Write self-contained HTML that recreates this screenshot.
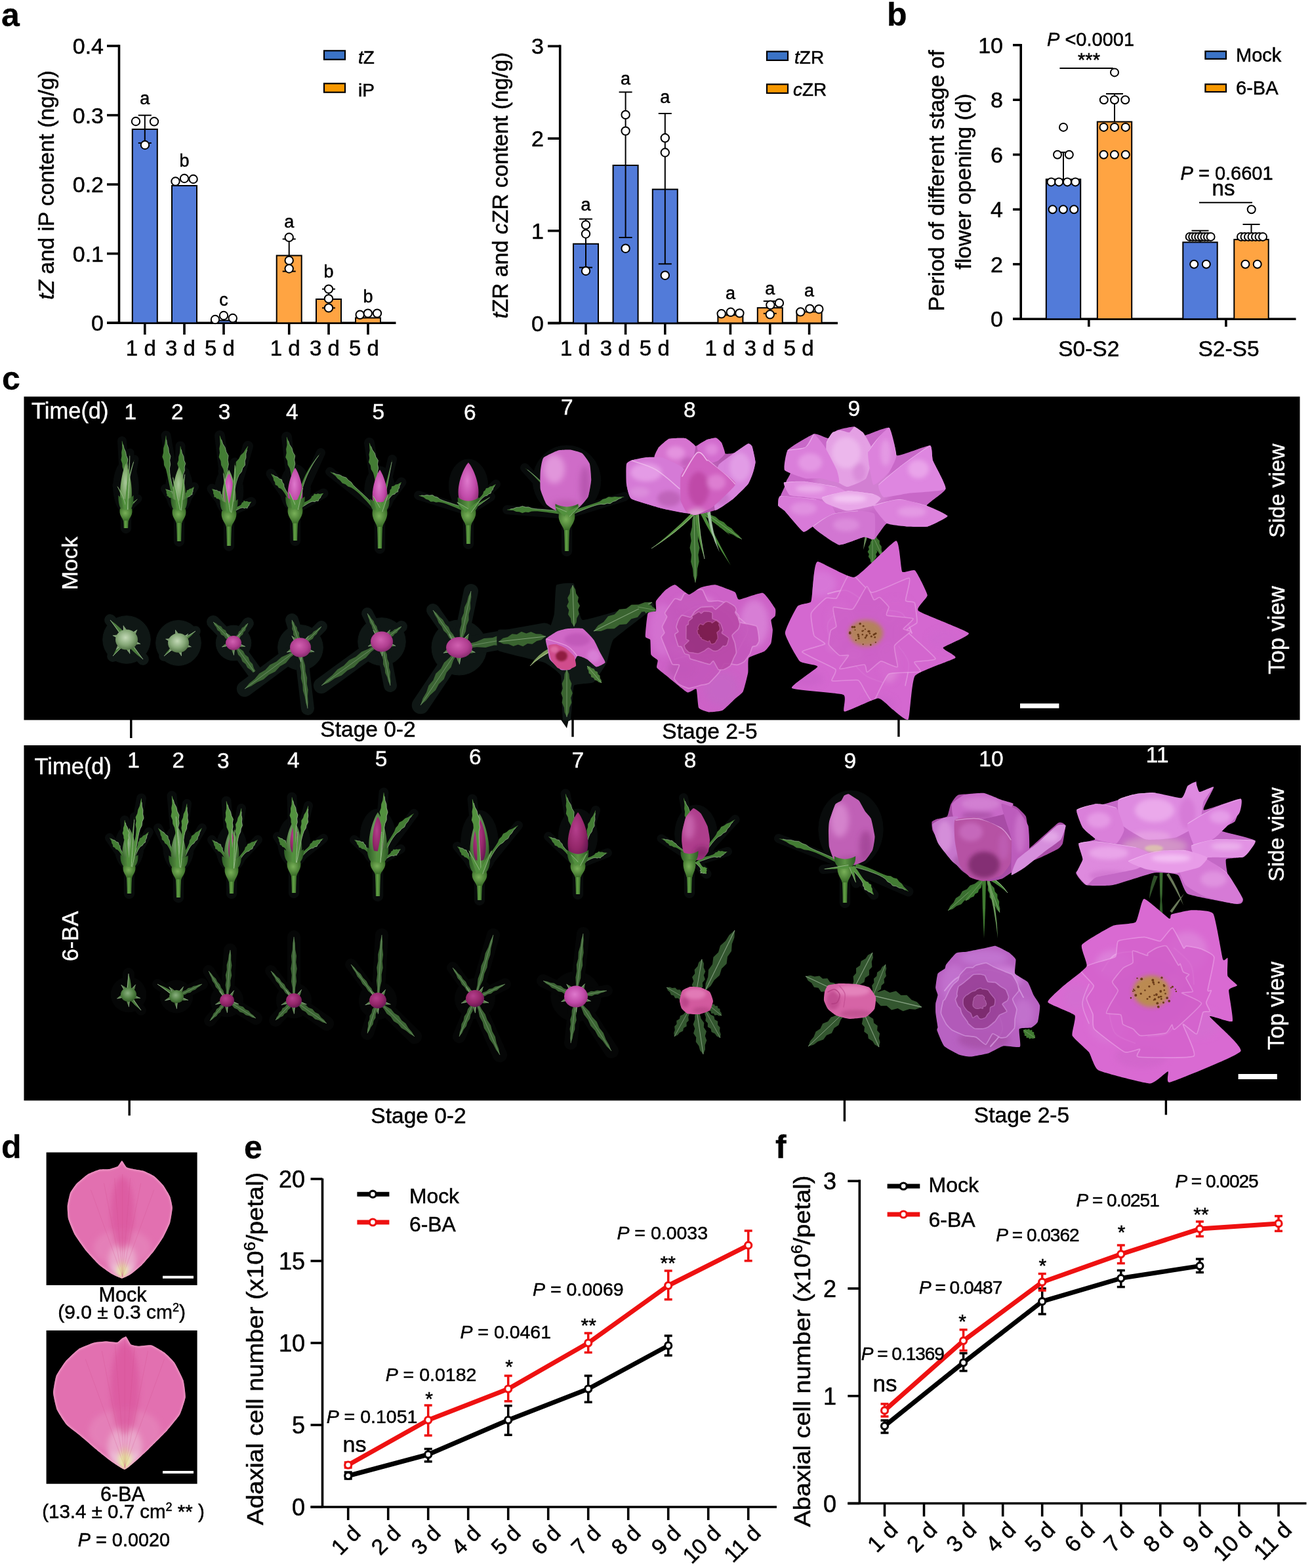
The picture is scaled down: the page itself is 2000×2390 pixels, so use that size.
<!DOCTYPE html>
<html><head><meta charset="utf-8"><title>Figure</title>
<style>html,body{margin:0;padding:0;background:#fff;width:2000px;height:2390px;overflow:hidden}svg{display:block}svg text{stroke:#000;stroke-width:0.5px}svg text[fill="#fff"]{stroke:#fff;stroke-width:0.4px}svg text[font-weight="bold"]{stroke-width:0.3px}</style>
</head><body>
<svg width="2000" height="2390" viewBox="0 0 2000 2390" font-family='"Liberation Sans", Arial, Helvetica, sans-serif'><defs>
<radialGradient id="gPetal" cx="50%" cy="45%" r="60%"><stop offset="0" stop-color="#f2a2ea"/><stop offset="0.55" stop-color="#dc6ad2"/><stop offset="1" stop-color="#b94cb0"/></radialGradient>
<radialGradient id="gPetal2" cx="50%" cy="40%" r="65%"><stop offset="0" stop-color="#ee8ee4"/><stop offset="0.6" stop-color="#d25ec8"/><stop offset="1" stop-color="#a8409e"/></radialGradient>
<radialGradient id="gPetalL" cx="50%" cy="35%" r="70%"><stop offset="0" stop-color="#f8c6f2"/><stop offset="0.6" stop-color="#e78ade"/><stop offset="1" stop-color="#cc62c2"/></radialGradient>
<radialGradient id="gBudP" cx="45%" cy="40%" r="65%"><stop offset="0" stop-color="#de78cc"/><stop offset="0.6" stop-color="#c04aa8"/><stop offset="1" stop-color="#8e2c74"/></radialGradient>
<radialGradient id="gBudD" cx="40%" cy="35%" r="70%"><stop offset="0" stop-color="#b43e8c"/><stop offset="0.6" stop-color="#922668"/><stop offset="1" stop-color="#621650"/></radialGradient>
<radialGradient id="gBudG" cx="45%" cy="40%" r="65%"><stop offset="0" stop-color="#a9c99a"/><stop offset="0.6" stop-color="#6f9c5a"/><stop offset="1" stop-color="#3e6a30"/></radialGradient>
<radialGradient id="gBudG2" cx="45%" cy="40%" r="65%"><stop offset="0" stop-color="#8ab080"/><stop offset="0.6" stop-color="#4e7e40"/><stop offset="1" stop-color="#2e5424"/></radialGradient>
<radialGradient id="gBudD2" cx="45%" cy="40%" r="65%"><stop offset="0" stop-color="#d060b0"/><stop offset="0.6" stop-color="#b03e90"/><stop offset="1" stop-color="#802868"/></radialGradient>
<linearGradient id="gCup" x1="0" x2="1" y1="0" y2="0"><stop offset="0" stop-color="#2e5e26"/><stop offset="0.5" stop-color="#5c9444"/><stop offset="1" stop-color="#2c5a24"/></linearGradient>
<radialGradient id="gBudR" cx="45%" cy="40%" r="65%"><stop offset="0" stop-color="#e680bc"/><stop offset="0.6" stop-color="#d05a9e"/><stop offset="1" stop-color="#a03878"/></radialGradient>
<radialGradient id="gBudW" cx="45%" cy="40%" r="65%"><stop offset="0" stop-color="#c4dab8"/><stop offset="0.55" stop-color="#86a878"/><stop offset="1" stop-color="#4a6c3e"/></radialGradient>
<linearGradient id="gStem" x1="0" x2="1" y1="0" y2="0"><stop offset="0" stop-color="#35682a"/><stop offset="0.45" stop-color="#62a044"/><stop offset="1" stop-color="#2f6024"/></linearGradient>
<radialGradient id="gHip" cx="45%" cy="40%" r="60%"><stop offset="0" stop-color="#78b058"/><stop offset="1" stop-color="#3a6e28"/></radialGradient>
<radialGradient id="gPetalD" cx="50%" cy="50%" r="55%"><stop offset="0" stop-color="#f4f0a0"/><stop offset="0.18" stop-color="#f6d8e8"/><stop offset="0.45" stop-color="#ec8cbc"/><stop offset="1" stop-color="#e0609e"/></radialGradient>
<radialGradient id="gCenter" cx="50%" cy="50%" r="50%"><stop offset="0" stop-color="#c0a040"/><stop offset="0.6" stop-color="#a07838"/><stop offset="1" stop-color="#c060a8" stop-opacity="0"/></radialGradient>
<filter id="bl1" x="-30%" y="-30%" width="160%" height="160%"><feGaussianBlur stdDeviation="0.8"/></filter><filter id="bl2" x="-30%" y="-30%" width="160%" height="160%"><feGaussianBlur stdDeviation="1.6"/></filter><filter id="bl3" x="-30%" y="-30%" width="160%" height="160%"><feGaussianBlur stdDeviation="2.4000000000000004"/></filter><filter id="bl4" x="-30%" y="-30%" width="160%" height="160%"><feGaussianBlur stdDeviation="3.2"/></filter><filter id="bl5" x="-30%" y="-30%" width="160%" height="160%"><feGaussianBlur stdDeviation="4.0"/></filter><filter id="bl6" x="-30%" y="-30%" width="160%" height="160%"><feGaussianBlur stdDeviation="4.800000000000001"/></filter><filter id="bl8" x="-30%" y="-30%" width="160%" height="160%"><feGaussianBlur stdDeviation="6.4"/></filter><filter id="bl10" x="-30%" y="-30%" width="160%" height="160%"><feGaussianBlur stdDeviation="8.0"/></filter></defs><rect width="2000" height="2390" fill="#fff"/><line x1="181.5" y1="68.2" x2="181.5" y2="492.3" stroke="#000" stroke-width="3.6"/>
<line x1="163" y1="70" x2="181.5" y2="70" stroke="#000" stroke-width="3.6"/>
<text x="158" y="82" font-size="34" text-anchor="end">0.4</text>
<line x1="163" y1="175.6" x2="181.5" y2="175.6" stroke="#000" stroke-width="3.6"/>
<text x="158" y="187.6" font-size="34" text-anchor="end">0.3</text>
<line x1="163" y1="281.1" x2="181.5" y2="281.1" stroke="#000" stroke-width="3.6"/>
<text x="158" y="293.1" font-size="34" text-anchor="end">0.2</text>
<line x1="163" y1="386.6" x2="181.5" y2="386.6" stroke="#000" stroke-width="3.6"/>
<text x="158" y="398.6" font-size="34" text-anchor="end">0.1</text>
<line x1="163" y1="492.2" x2="181.5" y2="492.2" stroke="#000" stroke-width="3.6"/>
<text x="158" y="504.2" font-size="34" text-anchor="end">0</text>
<line x1="163" y1="492.3" x2="603.5" y2="492.3" stroke="#000" stroke-width="3.6"/>
<rect x="201.8" y="197" width="38" height="295.3" fill="#527bd9" stroke="#000" stroke-width="2"/>
<rect x="262" y="283" width="38" height="209.3" fill="#527bd9" stroke="#000" stroke-width="2"/>
<rect x="322" y="488.5" width="38" height="3.8" fill="#527bd9" stroke="#000" stroke-width="2"/>
<rect x="421.7" y="389.5" width="38" height="102.8" fill="#ffa442" stroke="#000" stroke-width="2"/>
<rect x="482" y="456" width="38" height="36.3" fill="#ffa442" stroke="#000" stroke-width="2"/>
<rect x="542" y="484.5" width="38" height="7.8" fill="#ffa442" stroke="#000" stroke-width="2"/>
<line x1="220.8" y1="175.7" x2="220.8" y2="218" stroke="#000" stroke-width="2"/>
<line x1="210.8" y1="175.7" x2="230.8" y2="175.7" stroke="#000" stroke-width="2"/>
<line x1="210.8" y1="218" x2="230.8" y2="218" stroke="#000" stroke-width="2"/>
<line x1="440.7" y1="364.4" x2="440.7" y2="413.6" stroke="#000" stroke-width="2"/>
<line x1="430.7" y1="364.4" x2="450.7" y2="364.4" stroke="#000" stroke-width="2"/>
<line x1="430.7" y1="413.6" x2="450.7" y2="413.6" stroke="#000" stroke-width="2"/>
<line x1="501" y1="440.6" x2="501" y2="469.4" stroke="#000" stroke-width="2"/>
<line x1="491" y1="440.6" x2="511" y2="440.6" stroke="#000" stroke-width="2"/>
<line x1="491" y1="469.4" x2="511" y2="469.4" stroke="#000" stroke-width="2"/>
<circle cx="207" cy="185" r="6.2" fill="#fff" stroke="#000" stroke-width="2"/>
<circle cx="235" cy="185.3" r="6.2" fill="#fff" stroke="#000" stroke-width="2"/>
<circle cx="221" cy="221" r="6.2" fill="#fff" stroke="#000" stroke-width="2"/>
<circle cx="267.5" cy="276.5" r="6.2" fill="#fff" stroke="#000" stroke-width="2"/>
<circle cx="281" cy="272" r="6.2" fill="#fff" stroke="#000" stroke-width="2"/>
<circle cx="294.6" cy="273" r="6.2" fill="#fff" stroke="#000" stroke-width="2"/>
<circle cx="328" cy="487" r="6.2" fill="#fff" stroke="#000" stroke-width="2"/>
<circle cx="341" cy="481" r="6.2" fill="#fff" stroke="#000" stroke-width="2"/>
<circle cx="354.8" cy="485" r="6.2" fill="#fff" stroke="#000" stroke-width="2"/>
<circle cx="440.7" cy="361.8" r="6.2" fill="#fff" stroke="#000" stroke-width="2"/>
<circle cx="440.7" cy="397" r="6.2" fill="#fff" stroke="#000" stroke-width="2"/>
<circle cx="440.7" cy="409.5" r="6.2" fill="#fff" stroke="#000" stroke-width="2"/>
<circle cx="501" cy="440.6" r="6.2" fill="#fff" stroke="#000" stroke-width="2"/>
<circle cx="501" cy="455.4" r="6.2" fill="#fff" stroke="#000" stroke-width="2"/>
<circle cx="501" cy="469.4" r="6.2" fill="#fff" stroke="#000" stroke-width="2"/>
<circle cx="548.7" cy="479.8" r="6.2" fill="#fff" stroke="#000" stroke-width="2"/>
<circle cx="560.8" cy="477.6" r="6.2" fill="#fff" stroke="#000" stroke-width="2"/>
<circle cx="575" cy="477.6" r="6.2" fill="#fff" stroke="#000" stroke-width="2"/>
<line x1="220.8" y1="492.3" x2="220.8" y2="510" stroke="#000" stroke-width="3.6"/>
<line x1="281" y1="492.3" x2="281" y2="510" stroke="#000" stroke-width="3.6"/>
<line x1="341" y1="492.3" x2="341" y2="510" stroke="#000" stroke-width="3.6"/>
<line x1="440.7" y1="492.3" x2="440.7" y2="510" stroke="#000" stroke-width="3.6"/>
<line x1="501" y1="492.3" x2="501" y2="510" stroke="#000" stroke-width="3.6"/>
<line x1="561" y1="492.3" x2="561" y2="510" stroke="#000" stroke-width="3.6"/>
<text x="214.8" y="542" font-size="33" text-anchor="middle">1 d</text>
<text x="275" y="542" font-size="33" text-anchor="middle">3 d</text>
<text x="335" y="542" font-size="33" text-anchor="middle">5 d</text>
<text x="434.7" y="542" font-size="33" text-anchor="middle">1 d</text>
<text x="495" y="542" font-size="33" text-anchor="middle">3 d</text>
<text x="555" y="542" font-size="33" text-anchor="middle">5 d</text>
<text x="220.8" y="159.4" font-size="27" text-anchor="middle">a</text>
<text x="281" y="254" font-size="27" text-anchor="middle">b</text>
<text x="341" y="466" font-size="27" text-anchor="middle">c</text>
<text x="440.7" y="346.6" font-size="27" text-anchor="middle">a</text>
<text x="501" y="422.8" font-size="27" text-anchor="middle">b</text>
<text x="561" y="460.5" font-size="27" text-anchor="middle">b</text>
<rect x="494" y="77.3" width="32" height="13.4" fill="#3b73c6" stroke="#000" stroke-width="2.2"/>
<rect x="494" y="127.3" width="32" height="13.4" fill="#f79800" stroke="#000" stroke-width="2.2"/>
<text x="546" y="97" font-size="28"><tspan font-style="italic">t</tspan>Z</text>
<text x="546" y="147.3" font-size="28">iP</text>
<text x="82" y="282" font-size="33.5" text-anchor="middle" transform="rotate(-90 82 282)"><tspan font-style="italic">tZ</tspan> and iP content (ng/g)</text>
<line x1="853.7" y1="68.6" x2="853.7" y2="492.5" stroke="#000" stroke-width="3.6"/>
<line x1="835" y1="70.4" x2="853.7" y2="70.4" stroke="#000" stroke-width="3.6"/>
<text x="829" y="82.4" font-size="34" text-anchor="end">3</text>
<line x1="835" y1="211.1" x2="853.7" y2="211.1" stroke="#000" stroke-width="3.6"/>
<text x="829" y="223.1" font-size="34" text-anchor="end">2</text>
<line x1="835" y1="351.8" x2="853.7" y2="351.8" stroke="#000" stroke-width="3.6"/>
<text x="829" y="363.8" font-size="34" text-anchor="end">1</text>
<line x1="835" y1="492.5" x2="853.7" y2="492.5" stroke="#000" stroke-width="3.6"/>
<text x="829" y="504.5" font-size="34" text-anchor="end">0</text>
<line x1="835" y1="492.5" x2="1277" y2="492.5" stroke="#000" stroke-width="3.6"/>
<rect x="874" y="371.7" width="38" height="120.8" fill="#527bd9" stroke="#000" stroke-width="2"/>
<rect x="934.6" y="252" width="38" height="240.5" fill="#527bd9" stroke="#000" stroke-width="2"/>
<rect x="994.8" y="288.6" width="38" height="203.9" fill="#527bd9" stroke="#000" stroke-width="2"/>
<rect x="1094.4" y="480.3" width="38" height="12.2" fill="#ffa442" stroke="#000" stroke-width="2"/>
<rect x="1154.8" y="469.2" width="38" height="23.3" fill="#ffa442" stroke="#000" stroke-width="2"/>
<rect x="1214.6" y="475.4" width="38" height="17.1" fill="#ffa442" stroke="#000" stroke-width="2"/>
<line x1="893" y1="333.8" x2="893" y2="407.7" stroke="#000" stroke-width="2"/>
<line x1="883" y1="333.8" x2="903" y2="333.8" stroke="#000" stroke-width="2"/>
<line x1="883" y1="407.7" x2="903" y2="407.7" stroke="#000" stroke-width="2"/>
<line x1="953.6" y1="140.4" x2="953.6" y2="362" stroke="#000" stroke-width="2"/>
<line x1="943.6" y1="140.4" x2="963.6" y2="140.4" stroke="#000" stroke-width="2"/>
<line x1="943.6" y1="362" x2="963.6" y2="362" stroke="#000" stroke-width="2"/>
<line x1="1013.8" y1="173" x2="1013.8" y2="402.3" stroke="#000" stroke-width="2"/>
<line x1="1003.8" y1="173" x2="1023.8" y2="173" stroke="#000" stroke-width="2"/>
<line x1="1003.8" y1="402.3" x2="1023.8" y2="402.3" stroke="#000" stroke-width="2"/>
<line x1="1173.8" y1="459" x2="1173.8" y2="477.8" stroke="#000" stroke-width="2"/>
<line x1="1163.8" y1="459" x2="1183.8" y2="459" stroke="#000" stroke-width="2"/>
<line x1="1163.8" y1="477.8" x2="1183.8" y2="477.8" stroke="#000" stroke-width="2"/>
<circle cx="893" cy="342.8" r="6.2" fill="#fff" stroke="#000" stroke-width="2"/>
<circle cx="893" cy="356.5" r="6.2" fill="#fff" stroke="#000" stroke-width="2"/>
<circle cx="893" cy="413" r="6.2" fill="#fff" stroke="#000" stroke-width="2"/>
<circle cx="953.6" cy="174.9" r="6.2" fill="#fff" stroke="#000" stroke-width="2"/>
<circle cx="953.6" cy="199.6" r="6.2" fill="#fff" stroke="#000" stroke-width="2"/>
<circle cx="953.6" cy="378.7" r="6.2" fill="#fff" stroke="#000" stroke-width="2"/>
<circle cx="1013.8" cy="210.3" r="6.2" fill="#fff" stroke="#000" stroke-width="2"/>
<circle cx="1013.8" cy="232.5" r="6.2" fill="#fff" stroke="#000" stroke-width="2"/>
<circle cx="1013.8" cy="419.7" r="6.2" fill="#fff" stroke="#000" stroke-width="2"/>
<circle cx="1099.7" cy="478.3" r="6.2" fill="#fff" stroke="#000" stroke-width="2"/>
<circle cx="1113.8" cy="475.8" r="6.2" fill="#fff" stroke="#000" stroke-width="2"/>
<circle cx="1127.4" cy="477.4" r="6.2" fill="#fff" stroke="#000" stroke-width="2"/>
<circle cx="1174.4" cy="464.8" r="6.2" fill="#fff" stroke="#000" stroke-width="2"/>
<circle cx="1187.9" cy="461.9" r="6.2" fill="#fff" stroke="#000" stroke-width="2"/>
<circle cx="1173.8" cy="479.3" r="6.2" fill="#fff" stroke="#000" stroke-width="2"/>
<circle cx="1220.3" cy="475.4" r="6.2" fill="#fff" stroke="#000" stroke-width="2"/>
<circle cx="1234.4" cy="470.6" r="6.2" fill="#fff" stroke="#000" stroke-width="2"/>
<circle cx="1248.3" cy="471.2" r="6.2" fill="#fff" stroke="#000" stroke-width="2"/>
<line x1="893" y1="492.5" x2="893" y2="510" stroke="#000" stroke-width="3.6"/>
<line x1="953.6" y1="492.5" x2="953.6" y2="510" stroke="#000" stroke-width="3.6"/>
<line x1="1013.8" y1="492.5" x2="1013.8" y2="510" stroke="#000" stroke-width="3.6"/>
<line x1="1113.4" y1="492.5" x2="1113.4" y2="510" stroke="#000" stroke-width="3.6"/>
<line x1="1173.8" y1="492.5" x2="1173.8" y2="510" stroke="#000" stroke-width="3.6"/>
<line x1="1233.6" y1="492.5" x2="1233.6" y2="510" stroke="#000" stroke-width="3.6"/>
<text x="877" y="541.6" font-size="33" text-anchor="middle">1 d</text>
<text x="937.6" y="541.6" font-size="33" text-anchor="middle">3 d</text>
<text x="997.8" y="541.6" font-size="33" text-anchor="middle">5 d</text>
<text x="1097.4" y="541.6" font-size="33" text-anchor="middle">1 d</text>
<text x="1157.8" y="541.6" font-size="33" text-anchor="middle">3 d</text>
<text x="1217.6" y="541.6" font-size="33" text-anchor="middle">5 d</text>
<text x="893" y="321" font-size="27" text-anchor="middle">a</text>
<text x="953.6" y="128.8" font-size="27" text-anchor="middle">a</text>
<text x="1013.8" y="157" font-size="27" text-anchor="middle">a</text>
<text x="1113.4" y="455.7" font-size="27" text-anchor="middle">a</text>
<text x="1173.8" y="449.3" font-size="27" text-anchor="middle">a</text>
<text x="1233.6" y="452.2" font-size="27" text-anchor="middle">a</text>
<rect x="1169" y="78.5" width="32" height="13.4" fill="#3b73c6" stroke="#000" stroke-width="2.2"/>
<rect x="1169" y="128.5" width="32" height="13.4" fill="#f79800" stroke="#000" stroke-width="2.2"/>
<text x="1211" y="96.5" font-size="28"><tspan font-style="italic">t</tspan>ZR</text>
<text x="1209" y="146" font-size="28"><tspan font-style="italic">c</tspan>ZR</text>
<text x="774" y="282.5" font-size="33.5" text-anchor="middle" transform="rotate(-90 774 282.5)"><tspan font-style="italic">t</tspan>ZR and <tspan font-style="italic">c</tspan>ZR content (ng/g)</text>
<line x1="1556.2" y1="66.9" x2="1556.2" y2="486.2" stroke="#000" stroke-width="3.6"/>
<line x1="1544" y1="68.7" x2="1556.2" y2="68.7" stroke="#000" stroke-width="3.6"/>
<text x="1529" y="80.7" font-size="34" text-anchor="end">10</text>
<line x1="1544" y1="152.2" x2="1556.2" y2="152.2" stroke="#000" stroke-width="3.6"/>
<text x="1529" y="164.2" font-size="34" text-anchor="end">8</text>
<line x1="1544" y1="235.7" x2="1556.2" y2="235.7" stroke="#000" stroke-width="3.6"/>
<text x="1529" y="247.7" font-size="34" text-anchor="end">6</text>
<line x1="1544" y1="319.2" x2="1556.2" y2="319.2" stroke="#000" stroke-width="3.6"/>
<text x="1529" y="331.2" font-size="34" text-anchor="end">4</text>
<line x1="1544" y1="402.7" x2="1556.2" y2="402.7" stroke="#000" stroke-width="3.6"/>
<text x="1529" y="414.7" font-size="34" text-anchor="end">2</text>
<line x1="1544" y1="486.2" x2="1556.2" y2="486.2" stroke="#000" stroke-width="3.6"/>
<text x="1529" y="498.2" font-size="34" text-anchor="end">0</text>
<line x1="1544" y1="486.2" x2="1975.5" y2="486.2" stroke="#000" stroke-width="3.6"/>
<rect x="1594.8" y="273.3" width="52.4" height="212.9" fill="#527bd9" stroke="#000" stroke-width="2"/>
<rect x="1672.8" y="185.6" width="52.4" height="300.6" fill="#ffa442" stroke="#000" stroke-width="2"/>
<rect x="1803.3" y="369.3" width="52.4" height="116.9" fill="#527bd9" stroke="#000" stroke-width="2"/>
<rect x="1881.3" y="365.1" width="52.4" height="121.1" fill="#ffa442" stroke="#000" stroke-width="2"/>
<line x1="1621" y1="273.3" x2="1621" y2="232.2" stroke="#000" stroke-width="2"/>
<line x1="1608" y1="232.2" x2="1634" y2="232.2" stroke="#000" stroke-width="2"/>
<line x1="1699" y1="185.6" x2="1699" y2="143" stroke="#000" stroke-width="2"/>
<line x1="1686" y1="143" x2="1712" y2="143" stroke="#000" stroke-width="2"/>
<line x1="1829.5" y1="369.3" x2="1829.5" y2="351.6" stroke="#000" stroke-width="2"/>
<line x1="1816.5" y1="351.6" x2="1842.5" y2="351.6" stroke="#000" stroke-width="2"/>
<line x1="1907.5" y1="365.1" x2="1907.5" y2="342" stroke="#000" stroke-width="2"/>
<line x1="1894.5" y1="342" x2="1920.5" y2="342" stroke="#000" stroke-width="2"/>
<circle cx="1621" cy="193.9" r="6" fill="#fff" stroke="#000" stroke-width="2"/>
<circle cx="1612" cy="235.7" r="6" fill="#fff" stroke="#000" stroke-width="2"/>
<circle cx="1629.8" cy="235.7" r="6" fill="#fff" stroke="#000" stroke-width="2"/>
<circle cx="1602.5" cy="277.4" r="6" fill="#fff" stroke="#000" stroke-width="2"/>
<circle cx="1614.2" cy="277.4" r="6" fill="#fff" stroke="#000" stroke-width="2"/>
<circle cx="1627" cy="277.4" r="6" fill="#fff" stroke="#000" stroke-width="2"/>
<circle cx="1639.3" cy="277.4" r="6" fill="#fff" stroke="#000" stroke-width="2"/>
<circle cx="1604.6" cy="319.2" r="6" fill="#fff" stroke="#000" stroke-width="2"/>
<circle cx="1620.8" cy="319.2" r="6" fill="#fff" stroke="#000" stroke-width="2"/>
<circle cx="1637.2" cy="319.2" r="6" fill="#fff" stroke="#000" stroke-width="2"/>
<circle cx="1699" cy="110.4" r="6" fill="#fff" stroke="#000" stroke-width="2"/>
<circle cx="1682.8" cy="152.2" r="6" fill="#fff" stroke="#000" stroke-width="2"/>
<circle cx="1699" cy="152.2" r="6" fill="#fff" stroke="#000" stroke-width="2"/>
<circle cx="1715.3" cy="152.2" r="6" fill="#fff" stroke="#000" stroke-width="2"/>
<circle cx="1682.5" cy="193.9" r="6" fill="#fff" stroke="#000" stroke-width="2"/>
<circle cx="1699" cy="193.9" r="6" fill="#fff" stroke="#000" stroke-width="2"/>
<circle cx="1715.8" cy="193.9" r="6" fill="#fff" stroke="#000" stroke-width="2"/>
<circle cx="1682.5" cy="235.7" r="6" fill="#fff" stroke="#000" stroke-width="2"/>
<circle cx="1698.9" cy="235.7" r="6" fill="#fff" stroke="#000" stroke-width="2"/>
<circle cx="1715.8" cy="235.7" r="6" fill="#fff" stroke="#000" stroke-width="2"/>
<circle cx="1813.7" cy="360.9" r="6" fill="#fff" stroke="#000" stroke-width="2"/>
<circle cx="1818.2" cy="360.9" r="6" fill="#fff" stroke="#000" stroke-width="2"/>
<circle cx="1822.8" cy="360.9" r="6" fill="#fff" stroke="#000" stroke-width="2"/>
<circle cx="1827.3" cy="360.9" r="6" fill="#fff" stroke="#000" stroke-width="2"/>
<circle cx="1831.9" cy="360.9" r="6" fill="#fff" stroke="#000" stroke-width="2"/>
<circle cx="1836.4" cy="360.9" r="6" fill="#fff" stroke="#000" stroke-width="2"/>
<circle cx="1841" cy="360.9" r="6" fill="#fff" stroke="#000" stroke-width="2"/>
<circle cx="1845.6" cy="360.9" r="6" fill="#fff" stroke="#000" stroke-width="2"/>
<circle cx="1820.2" cy="402.7" r="6" fill="#fff" stroke="#000" stroke-width="2"/>
<circle cx="1838.8" cy="402.7" r="6" fill="#fff" stroke="#000" stroke-width="2"/>
<circle cx="1907.7" cy="319.2" r="6" fill="#fff" stroke="#000" stroke-width="2"/>
<circle cx="1898.4" cy="402.7" r="6" fill="#fff" stroke="#000" stroke-width="2"/>
<circle cx="1916.7" cy="402.7" r="6" fill="#fff" stroke="#000" stroke-width="2"/>
<circle cx="1892" cy="360.9" r="6" fill="#fff" stroke="#000" stroke-width="2"/>
<circle cx="1897.5" cy="360.9" r="6" fill="#fff" stroke="#000" stroke-width="2"/>
<circle cx="1903" cy="360.9" r="6" fill="#fff" stroke="#000" stroke-width="2"/>
<circle cx="1908.5" cy="360.9" r="6" fill="#fff" stroke="#000" stroke-width="2"/>
<circle cx="1914" cy="360.9" r="6" fill="#fff" stroke="#000" stroke-width="2"/>
<circle cx="1919.5" cy="360.9" r="6" fill="#fff" stroke="#000" stroke-width="2"/>
<circle cx="1925" cy="360.9" r="6" fill="#fff" stroke="#000" stroke-width="2"/>
<line x1="1659.8" y1="486.2" x2="1659.8" y2="498" stroke="#000" stroke-width="3.6"/>
<line x1="1868.9" y1="486.2" x2="1868.9" y2="498" stroke="#000" stroke-width="3.6"/>
<text x="1659.8" y="543" font-size="33.5" text-anchor="middle">S0-S2</text>
<text x="1873" y="543" font-size="33.5" text-anchor="middle">S2-S5</text>
<text x="1596" y="69.8" font-size="29"><tspan font-style="italic">P</tspan> &lt;0.0001</text>
<text x="1660" y="101" font-size="29" text-anchor="middle">***</text>
<line x1="1615.4" y1="104" x2="1697" y2="104" stroke="#000" stroke-width="2"/>
<text x="1799.5" y="274.3" font-size="29"><tspan font-style="italic">P</tspan> = 0.6601</text>
<text x="1865" y="298.4" font-size="33" text-anchor="middle">ns</text>
<line x1="1828" y1="308.7" x2="1909" y2="308.7" stroke="#000" stroke-width="2"/>
<rect x="1837.4" y="78.2" width="31.6" height="11.6" fill="#3b73c6" stroke="#000" stroke-width="2.2"/>
<rect x="1837.4" y="128.4" width="31.6" height="11.6" fill="#f79800" stroke="#000" stroke-width="2.2"/>
<text x="1884" y="94.4" font-size="29">Mock</text>
<text x="1884" y="144.2" font-size="29">6-BA</text>
<text x="1439" y="275.4" font-size="34" text-anchor="middle" transform="rotate(-90 1439 275.4)">Period of different stage of</text>
<text x="1480.5" y="276.6" font-size="33.5" text-anchor="middle" transform="rotate(-90 1480.5 276.6)">flower opening (d)</text>
<rect x="36.5" y="604.5" width="1945" height="493" fill="#000"/>
<rect x="36.5" y="1136" width="1946.5" height="541.5" fill="#000"/>
<text x="48" y="638.2" font-size="34.5" fill="#fff">Time(d)</text>
<text x="198.8" y="638.7" font-size="33.5" text-anchor="middle" fill="#fff">1</text>
<text x="270.2" y="638.7" font-size="33.5" text-anchor="middle" fill="#fff">2</text>
<text x="342" y="638.7" font-size="33.5" text-anchor="middle" fill="#fff">3</text>
<text x="445.3" y="638.7" font-size="33.5" text-anchor="middle" fill="#fff">4</text>
<text x="576.7" y="638.7" font-size="33.5" text-anchor="middle" fill="#fff">5</text>
<text x="716.4" y="639.8" font-size="33.5" text-anchor="middle" fill="#fff">6</text>
<text x="864.2" y="631.5" font-size="33.5" text-anchor="middle" fill="#fff">7</text>
<text x="1051.4" y="635.5" font-size="33.5" text-anchor="middle" fill="#fff">8</text>
<text x="1301.9" y="634" font-size="33.5" text-anchor="middle" fill="#fff">9</text>
<text x="118.5" y="858.6" font-size="34" text-anchor="middle" fill="#fff" transform="rotate(-90 118.5 858.6)">Mock</text>
<text x="1958" y="748" font-size="33.5" text-anchor="middle" fill="#fff" transform="rotate(-90 1958 748)">Side view</text>
<text x="1958" y="960.5" font-size="34.5" text-anchor="middle" fill="#fff" transform="rotate(-90 1958 960.5)">Top view</text>
<rect x="1555" y="1072.3" width="59.4" height="7.2" fill="#fff"/>
<text x="52.5" y="1180" font-size="34.5" fill="#fff">Time(d)</text>
<text x="203.6" y="1170" font-size="33.5" text-anchor="middle" fill="#fff">1</text>
<text x="271.9" y="1170" font-size="33.5" text-anchor="middle" fill="#fff">2</text>
<text x="340.2" y="1171" font-size="33.5" text-anchor="middle" fill="#fff">3</text>
<text x="447.2" y="1170" font-size="33.5" text-anchor="middle" fill="#fff">4</text>
<text x="581" y="1168" font-size="33.5" text-anchor="middle" fill="#fff">5</text>
<text x="724.4" y="1165" font-size="33.5" text-anchor="middle" fill="#fff">6</text>
<text x="880.9" y="1170" font-size="33.5" text-anchor="middle" fill="#fff">7</text>
<text x="1052" y="1169.9" font-size="33.5" text-anchor="middle" fill="#fff">8</text>
<text x="1295.9" y="1171" font-size="33.5" text-anchor="middle" fill="#fff">9</text>
<text x="1511" y="1168" font-size="33.5" text-anchor="middle" fill="#fff">10</text>
<text x="1764.2" y="1162" font-size="33.5" text-anchor="middle" fill="#fff">11</text>
<text x="118.5" y="1427" font-size="34.5" text-anchor="middle" fill="#fff" transform="rotate(-90 118.5 1427)">6-BA</text>
<text x="1956.5" y="1272" font-size="33.5" text-anchor="middle" fill="#fff" transform="rotate(-90 1956.5 1272)">Side view</text>
<text x="1956.5" y="1533" font-size="34.5" text-anchor="middle" fill="#fff" transform="rotate(-90 1956.5 1533)">Top view</text>
<rect x="1887.6" y="1637" width="59.2" height="8" fill="#fff"/>
<line x1="199.8" y1="1097" x2="199.8" y2="1125" stroke="#000" stroke-width="3.4"/>
<line x1="873" y1="1097" x2="873" y2="1123.2" stroke="#000" stroke-width="3.4"/>
<line x1="1369.9" y1="1086" x2="1369.9" y2="1123" stroke="#000" stroke-width="3.4"/>
<line x1="197.2" y1="1677" x2="197.2" y2="1700.4" stroke="#000" stroke-width="3.4"/>
<line x1="1287.4" y1="1677" x2="1287.4" y2="1709.3" stroke="#000" stroke-width="3.4"/>
<line x1="1777.4" y1="1677" x2="1777.4" y2="1699.3" stroke="#000" stroke-width="3.4"/>
<path d="M855 1097 L867 1097 L864 1110Z" fill="#0a0f0e"/>
<text x="561" y="1122.7" font-size="33.5" text-anchor="middle">Stage 0-2</text>
<text x="1082" y="1125.6" font-size="33.5" text-anchor="middle">Stage 2-5</text>
<text x="638" y="1711.5" font-size="33.5" text-anchor="middle">Stage 0-2</text>
<text x="1557.5" y="1710.7" font-size="33.5" text-anchor="middle">Stage 2-5</text>
<g fill="#080b0b" stroke="#080b0b" stroke-linecap="round"><path d="M192 783 L192 805" stroke-width="16.4"/><ellipse cx="192" cy="742" rx="19.3" ry="41"/><path d="M192 776.7 L186 672" stroke-width="14"/><path d="M192 776.7 L205 700" stroke-width="13"/><path d="M192 776.7 L178 740" stroke-width="13"/><path d="M192 776.7 L210 760" stroke-width="13"/><path d="M192 776.7 L198 690" stroke-width="13"/></g><path d="M187.4 787.9 Q188.6 794 188.8 805 L195.2 805 Q195.4 794 196.6 787.9Z" fill="url(#gStem)"/><path d="M194 774.8 L194.1 769 L194.2 763.3 L194.1 757.5 L194.1 751.8 L193.9 746 L193.7 740.3 L193.5 734.6 L193.2 728.8 L193.2 723.1 L193.3 717.4 L194.6 711.5 L193.9 705.8 L194.8 699.9 L192.5 694.3 L191.5 688.7 L189 683.2 L187.7 677.6 L186.2 672 L185.8 672 L186 677.8 L186.2 683.5 L185.2 689.4 L185.5 695.1 L184.4 700.9 L186.3 706.4 L186.6 712.1 L188.7 717.7 L189.5 723.3 L190 729 L190.2 734.7 L190.2 740.4 L190.2 746.1 L190.1 751.8 L189.9 757.5 L189.7 763.2 L189.4 768.9 L189 774.6Z" fill="#437c34"/><path d="M194 774.8 L194.1 769 L194.2 763.3 L194.1 757.5 L194.1 751.8 L193.9 746 L193.7 740.3 L193.5 734.6 L193.2 728.8 L193.2 723.1 L193.3 717.4 L194.6 711.5 L193.9 705.8 L194.8 699.9 L192.5 694.3 L191.5 688.7 L189 683.2 L187.7 677.6" fill="none" stroke="#a0c098" stroke-width="0.9" opacity="0.75"/><path d="M194.8 776.2 L195.6 775.3 L196.5 774.4 L197.3 773.5 L198.2 772.6 L199 771.7 L199.9 770.8 L200.7 769.9 L201.6 769 L202.4 768.2 L203.3 767.3 L204.1 766.4 L205 765.5 L205.8 764.6 L206.7 763.7 L207.5 762.7 L208.3 761.8 L209.2 760.9 L210 760 L210 760 L209 760.7 L208 761.4 L207 762.2 L206 762.9 L205 763.6 L204 764.3 L203 765.1 L202 765.8 L201 766.5 L200 767.3 L199 768 L198 768.8 L197 769.5 L196.1 770.2 L195.1 771 L194.1 771.7 L193.1 772.5 L192.1 773.2Z" fill="#437c34"/><path d="M194.8 776.2 L195.6 775.3 L196.5 774.4 L197.3 773.5 L198.2 772.6 L199 771.7 L199.9 770.8 L200.7 769.9 L201.6 769 L202.4 768.2 L203.3 767.3 L204.1 766.4 L205 765.5 L205.8 764.6 L206.7 763.7 L207.5 762.7 L208.3 761.8 L209.2 760.9" fill="none" stroke="#a0c098" stroke-width="0.9" opacity="0.75"/><path d="M192 778 C176.1 770.8 184.8 720.4 192 706 C199.2 720.4 207.9 770.8 192 778Z" fill="url(#gBudG)"/><path d="M180.4 755.1 Q179.9 778.7 192 780.7 Q204.1 778.7 203.6 755.1 Q192 767 180.4 755.1Z" fill="url(#gCup)"/><path d="M183 775.3 C180.5 784.4 187 789.3 187.6 793.5 L196.4 793.5 C197 789.3 203.5 784.4 201 775.3 Q192 773.6 183 775.3Z" fill="url(#gHip)"/><path d="M195 776.6 L194.8 772.3 L194.7 767.9 L194.6 763.6 L194.6 759.3 L194.8 755 L195 750.7 L195.3 746.4 L195.7 742.2 L196.2 737.9 L196.8 733.7 L197.5 729.4 L198.3 725.2 L199.2 721 L200.2 716.8 L201.3 712.6 L202.4 708.4 L203.7 704.2 L205 700 L205 700 L203.4 704.1 L201.9 708.2 L200.5 712.3 L199.2 716.5 L198 720.7 L196.9 724.9 L195.9 729.1 L194.9 733.3 L194.1 737.6 L193.4 741.9 L192.8 746.2 L192.2 750.5 L191.8 754.8 L191.5 759.2 L191.2 763.5 L191.1 767.9 L191 772.4 L191 776.8Z" fill="#52903e"/><path d="M195 776.6 L194.8 772.3 L194.7 767.9 L194.6 763.6 L194.6 759.3 L194.8 755 L195 750.7 L195.3 746.4 L195.7 742.2 L196.2 737.9 L196.8 733.7 L197.5 729.4 L198.3 725.2 L199.2 721 L200.2 716.8 L201.3 712.6 L202.4 708.4 L203.7 704.2" fill="none" stroke="#b4d0aa" stroke-width="0.9" opacity="0.75"/><path d="M192.9 776.4 L192.4 774.2 L191.9 772 L191.4 769.9 L190.8 767.7 L190.2 765.6 L189.6 763.5 L188.8 761.4 L188.1 759.4 L187.3 757.4 L186.4 755.3 L185.5 753.3 L184.6 751.4 L183.6 749.4 L182.6 747.5 L181.5 745.6 L180.4 743.7 L179.2 741.8 L178 740 L178 740 L179 742 L179.9 744 L180.8 745.9 L181.7 747.9 L182.5 749.9 L183.2 752 L184 754 L184.6 756 L185.3 758.1 L185.8 760.1 L186.4 762.2 L186.9 764.3 L187.3 766.4 L187.7 768.5 L188.1 770.6 L188.4 772.7 L188.7 774.8 L188.9 777Z" fill="#52903e"/><path d="M192.9 776.4 L192.4 774.2 L191.9 772 L191.4 769.9 L190.8 767.7 L190.2 765.6 L189.6 763.5 L188.8 761.4 L188.1 759.4 L187.3 757.4 L186.4 755.3 L185.5 753.3 L184.6 751.4 L183.6 749.4 L182.6 747.5 L181.5 745.6 L180.4 743.7 L179.2 741.8" fill="none" stroke="#b4d0aa" stroke-width="0.9" opacity="0.75"/><path d="M194.5 776.8 L194.7 772 L194.9 767.2 L195.1 762.4 L195.3 757.5 L195.5 752.7 L195.7 747.9 L195.9 743.1 L196.1 738.2 L196.3 733.4 L196.5 728.6 L196.7 723.8 L196.9 718.9 L197.1 714.1 L197.3 709.3 L197.5 704.5 L197.7 699.7 L197.8 694.8 L198 690 L198 690 L197.5 694.8 L197.1 699.6 L196.7 704.4 L196.3 709.2 L195.8 714 L195.4 718.9 L195 723.7 L194.6 728.5 L194.2 733.3 L193.8 738.1 L193.3 742.9 L192.9 747.7 L192.5 752.5 L192.1 757.3 L191.7 762.1 L191.3 767 L190.9 771.8 L190.5 776.6Z" fill="#52903e"/><path d="M194.5 776.8 L194.7 772 L194.9 767.2 L195.1 762.4 L195.3 757.5 L195.5 752.7 L195.7 747.9 L195.9 743.1 L196.1 738.2 L196.3 733.4 L196.5 728.6 L196.7 723.8 L196.9 718.9 L197.1 714.1 L197.3 709.3 L197.5 704.5 L197.7 699.7 L197.8 694.8" fill="none" stroke="#b4d0aa" stroke-width="0.9" opacity="0.75"/><g fill="#080b0b" stroke="#080b0b" stroke-linecap="round"><path d="M273 785 L273 825" stroke-width="16.4"/><ellipse cx="273" cy="745" rx="20.6" ry="38"/><path d="M273 777.8 L253 664" stroke-width="15"/><path d="M273 777.8 L275 680" stroke-width="15"/><path d="M273 777.8 L296 742" stroke-width="14"/><path d="M273 777.8 L252 745" stroke-width="14"/><path d="M273 777.8 L282 720" stroke-width="14"/><path d="M273 777.8 L263 725" stroke-width="14"/></g><path d="M268.4 790.6 Q269.6 805 269.9 825 L276.1 825 Q276.4 805 277.6 790.6Z" fill="url(#gStem)"/><path d="M274.2 774.7 L271.9 768.8 L269.7 762.9 L267.7 756.9 L265.8 750.9 L264 744.9 L262.3 738.9 L260.9 732.8 L259.6 726.7 L258.8 720.5 L258.4 714.2 L259.7 707.8 L258.7 701.6 L259.9 695.3 L257.4 689.3 L256.8 683 L254.5 676.8 L253.8 670.4 L253.2 664 L252.8 664 L251.9 670.4 L251.1 676.8 L249.1 683.3 L249 689.7 L247.3 696.3 L249.6 702.5 L250 708.9 L252.9 715 L254.4 721.2 L255.8 727.4 L257 733.6 L258.3 739.8 L259.6 746 L261.1 752.2 L262.8 758.4 L264.6 764.6 L266.5 770.7 L268.6 776.9Z" fill="#437c34"/><path d="M274.2 774.7 L271.9 768.8 L269.7 762.9 L267.7 756.9 L265.8 750.9 L264 744.9 L262.3 738.9 L260.9 732.8 L259.6 726.7 L258.8 720.5 L258.4 714.2 L259.7 707.8 L258.7 701.6 L259.9 695.3 L257.4 689.3 L256.8 683 L254.5 676.8 L253.8 670.4" fill="none" stroke="#a0c098" stroke-width="0.9" opacity="0.75"/><path d="M276.1 776.2 L276.6 770.8 L277 765.4 L277.3 760.1 L277.6 754.7 L277.8 749.4 L278 744 L278.1 738.7 L278.3 733.3 L278.7 728 L279.3 722.6 L281.4 717.3 L281.1 711.9 L282.7 706.5 L280.4 701.2 L279.9 695.8 L277.4 690.6 L276.4 685.3 L275.2 680 L274.8 680 L274.4 685.4 L274 690.8 L272.2 696.2 L272.1 701.5 L270.1 706.8 L271.9 712 L271.7 717.3 L273.7 722.6 L274.3 727.9 L274.4 733.2 L274.2 738.5 L273.8 743.8 L273.4 749.1 L272.8 754.4 L272.3 759.6 L271.6 764.9 L270.9 770.2 L270.2 775.4Z" fill="#437c34"/><path d="M276.1 776.2 L276.6 770.8 L277 765.4 L277.3 760.1 L277.6 754.7 L277.8 749.4 L278 744 L278.1 738.7 L278.3 733.3 L278.7 728 L279.3 722.6 L281.4 717.3 L281.1 711.9 L282.7 706.5 L280.4 701.2 L279.9 695.8 L277.4 690.6 L276.4 685.3" fill="none" stroke="#a0c098" stroke-width="0.9" opacity="0.75"/><path d="M277.2 776.7 L277.9 774.6 L278.6 772.5 L279.4 770.5 L280.2 768.4 L281 766.4 L281.9 764.4 L282.9 762.5 L284 760.6 L285.3 758.8 L286.9 757.3 L289.5 756.4 L290.6 754.6 L293 753.7 L292.9 751 L294 749.1 L294 746.3 L295.1 744.2 L296.1 742.1 L295.9 741.9 L293.9 743.1 L291.9 744.4 L289.1 745 L287.4 746.6 L284.6 747.4 L284.3 750.1 L282.8 751.8 L283 754.7 L282.2 756.9 L281.2 758.9 L280 760.8 L278.9 762.8 L277.7 764.7 L276.6 766.7 L275.5 768.7 L274.5 770.7 L273.5 772.8 L272.5 774.9Z" fill="#437c34"/><path d="M277.2 776.7 L277.9 774.6 L278.6 772.5 L279.4 770.5 L280.2 768.4 L281 766.4 L281.9 764.4 L282.9 762.5 L284 760.6 L285.3 758.8 L286.9 757.3 L289.5 756.4 L290.6 754.6 L293 753.7 L292.9 751 L294 749.1 L294 746.3 L295.1 744.2" fill="none" stroke="#a0c098" stroke-width="0.9" opacity="0.75"/><path d="M273.7 774.9 L272.8 773 L271.8 771.1 L270.9 769.3 L269.9 767.4 L268.9 765.6 L267.8 763.8 L266.7 762.1 L265.7 760.3 L264.8 758.5 L264.1 756.5 L264.3 753.8 L262.9 752.2 L262.8 749.6 L260.1 749 L258.5 747.5 L255.8 747.1 L254 746 L252.1 744.9 L251.9 745.1 L252.8 747.1 L253.7 749 L253.6 751.6 L254.6 753.4 L254.4 756 L256.7 756.7 L257.6 758.4 L260.2 759 L261.6 760.4 L262.8 762 L263.8 763.7 L264.7 765.5 L265.5 767.3 L266.3 769.2 L267 771 L267.7 772.9 L268.4 774.8 L269 776.7Z" fill="#437c34"/><path d="M273.7 774.9 L272.8 773 L271.8 771.1 L270.9 769.3 L269.9 767.4 L268.9 765.6 L267.8 763.8 L266.7 762.1 L265.7 760.3 L264.8 758.5 L264.1 756.5 L264.3 753.8 L262.9 752.2 L262.8 749.6 L260.1 749 L258.5 747.5 L255.8 747.1 L254 746" fill="none" stroke="#a0c098" stroke-width="0.9" opacity="0.75"/><path d="M273 778 C255.6 771.4 265.2 725.2 273 712 C280.8 725.2 290.4 771.4 273 778Z" fill="url(#gBudG)"/><path d="M260.4 758 Q259.8 779.8 273 781.8 Q286.2 779.8 285.6 758 Q273 768.9 260.4 758Z" fill="url(#gCup)"/><path d="M263.1 776.2 C260.4 786.6 268 792.2 268.6 797 L277.4 797 C278 792.2 285.6 786.6 282.9 776.2 Q273 774.3 263.1 776.2Z" fill="url(#gHip)"/><path d="M276.2 778.2 L276.5 774.9 L276.9 771.7 L277.2 768.5 L277.5 765.2 L277.9 762 L278.2 758.8 L278.5 755.5 L278.9 752.3 L279.2 749.1 L279.5 745.9 L279.8 742.6 L280.2 739.4 L280.5 736.2 L280.8 732.9 L281.1 729.7 L281.4 726.5 L281.7 723.2 L282 720 L282 720 L281.4 723.2 L280.7 726.4 L280.1 729.6 L279.5 732.8 L278.9 735.9 L278.3 739.1 L277.7 742.3 L277.1 745.5 L276.5 748.7 L275.9 751.9 L275.4 755.1 L274.8 758.3 L274.2 761.5 L273.6 764.7 L273 767.9 L272.4 771.1 L271.8 774.3 L271.2 777.4Z" fill="#52903e"/><path d="M276.2 778.2 L276.5 774.9 L276.9 771.7 L277.2 768.5 L277.5 765.2 L277.9 762 L278.2 758.8 L278.5 755.5 L278.9 752.3 L279.2 749.1 L279.5 745.9 L279.8 742.6 L280.2 739.4 L280.5 736.2 L280.8 732.9 L281.1 729.7 L281.4 726.5 L281.7 723.2" fill="none" stroke="#b4d0aa" stroke-width="0.9" opacity="0.75"/><path d="M274.7 777.4 L274 774.5 L273.4 771.5 L272.8 768.6 L272.1 765.7 L271.5 762.8 L270.8 759.9 L270.2 757 L269.6 754.1 L268.9 751.2 L268.3 748.3 L267.6 745.3 L267 742.4 L266.3 739.5 L265.7 736.6 L265 733.7 L264.4 730.8 L263.7 727.9 L263 725 L263 725 L263.3 728 L263.7 730.9 L264 733.9 L264.4 736.8 L264.8 739.8 L265.2 742.8 L265.5 745.7 L265.9 748.7 L266.3 751.6 L266.7 754.6 L267 757.5 L267.4 760.5 L267.8 763.5 L268.2 766.4 L268.6 769.4 L269 772.3 L269.3 775.3 L269.7 778.2Z" fill="#52903e"/><path d="M274.7 777.4 L274 774.5 L273.4 771.5 L272.8 768.6 L272.1 765.7 L271.5 762.8 L270.8 759.9 L270.2 757 L269.6 754.1 L268.9 751.2 L268.3 748.3 L267.6 745.3 L267 742.4 L266.3 739.5 L265.7 736.6 L265 733.7 L264.4 730.8 L263.7 727.9" fill="none" stroke="#b4d0aa" stroke-width="0.9" opacity="0.75"/><g fill="#080b0b" stroke="#080b0b" stroke-linecap="round"><path d="M349 789 L349 832" stroke-width="16.4"/><ellipse cx="349" cy="749" rx="21.9" ry="38"/><path d="M349 780.9 L335 664" stroke-width="16"/><path d="M349 780.9 L378 680" stroke-width="16"/><path d="M349 780.9 L323 745" stroke-width="15"/><path d="M349 780.9 L383 765" stroke-width="15"/><path d="M349 780.9 L358 705" stroke-width="15"/><path d="M349 780.9 L340 718" stroke-width="15"/></g><path d="M344.4 795.3 Q345.6 810.5 345.9 832 L352.1 832 Q352.4 810.5 353.6 795.3Z" fill="url(#gStem)"/><path d="M351.4 778.9 L351.1 772.4 L350.7 765.9 L350.3 759.4 L349.8 753 L349.2 746.5 L348.6 740.1 L347.9 733.7 L347.3 727.3 L346.9 720.8 L346.8 714.3 L348.4 707.6 L347.2 701.2 L348.1 694.5 L344.7 688.5 L343.2 682.2 L339.5 676.3 L337.5 670.1 L335.2 664 L334.8 664 L335.2 670.5 L335.6 677 L334.3 683.8 L335 690.1 L333.6 696.8 L336.5 702.8 L337.1 709.1 L340.3 715.1 L341.8 721.4 L342.7 727.7 L343.3 734.1 L343.7 740.5 L344 746.9 L344.2 753.3 L344.4 759.7 L344.4 766.1 L344.4 772.5 L344.4 778.9Z" fill="#437c34"/><path d="M351.4 778.9 L351.1 772.4 L350.7 765.9 L350.3 759.4 L349.8 753 L349.2 746.5 L348.6 740.1 L347.9 733.7 L347.3 727.3 L346.9 720.8 L346.8 714.3 L348.4 707.6 L347.2 701.2 L348.1 694.5 L344.7 688.5 L343.2 682.2 L339.5 676.3 L337.5 670.1" fill="none" stroke="#a0c098" stroke-width="0.9" opacity="0.75"/><path d="M354.8 779.1 L355.1 773.4 L355.5 767.7 L356 762.1 L356.6 756.4 L357.3 750.8 L358.2 745.2 L359.2 739.7 L360.5 734.2 L362.2 728.8 L364.4 723.6 L368.3 718.9 L369.8 713.5 L373.5 708.9 L373.2 702.8 L374.9 697.5 L374.9 691.3 L376.5 685.7 L378.2 680.1 L377.8 679.9 L374.4 684.7 L371.3 689.7 L366.7 694 L364.1 699.3 L359.7 703.9 L359.6 710 L357.5 715.5 L358.1 721.7 L357.2 727.4 L356.1 733.1 L354.7 738.7 L353.4 744.3 L352.2 749.9 L351.1 755.6 L350.1 761.3 L349.2 767 L348.5 772.8 L347.8 778.7Z" fill="#437c34"/><path d="M354.8 779.1 L355.1 773.4 L355.5 767.7 L356 762.1 L356.6 756.4 L357.3 750.8 L358.2 745.2 L359.2 739.7 L360.5 734.2 L362.2 728.8 L364.4 723.6 L368.3 718.9 L369.8 713.5 L373.5 708.9 L373.2 702.8 L374.9 697.5 L374.9 691.3 L376.5 685.7" fill="none" stroke="#a0c098" stroke-width="0.9" opacity="0.75"/><path d="M349.7 777.7 L348.5 775.6 L347.3 773.5 L346.1 771.4 L344.9 769.4 L343.6 767.4 L342.2 765.4 L340.9 763.5 L339.6 761.6 L338.4 759.5 L337.6 757.2 L337.8 754.1 L336.1 752.3 L335.8 749.4 L332.6 748.9 L330.8 747.4 L327.5 747.1 L325.4 745.9 L323.1 744.9 L322.9 745.1 L324 747.3 L325.1 749.5 L325.1 752.6 L326.3 754.5 L326.2 757.5 L328.9 758.1 L330.1 760 L333.1 760.6 L334.9 762 L336.3 763.8 L337.6 765.6 L338.7 767.6 L339.7 769.6 L340.7 771.7 L341.6 773.8 L342.5 775.9 L343.4 778 L344.2 780.1Z" fill="#437c34"/><path d="M349.7 777.7 L348.5 775.6 L347.3 773.5 L346.1 771.4 L344.9 769.4 L343.6 767.4 L342.2 765.4 L340.9 763.5 L339.6 761.6 L338.4 759.5 L337.6 757.2 L337.8 754.1 L336.1 752.3 L335.8 749.4 L332.6 748.9 L330.8 747.4 L327.5 747.1 L325.4 745.9" fill="none" stroke="#a0c098" stroke-width="0.9" opacity="0.75"/><path d="M352.9 781.6 L354.6 780.7 L356.3 779.8 L358 778.9 L359.6 778 L361.3 777.1 L363 776.2 L364.7 775.3 L366.4 774.5 L368.3 774 L370.2 773.7 L372.8 774.8 L374.4 773.8 L376.9 774.6 L377.8 771.9 L379.3 770.8 L380.2 768.1 L381.7 766.7 L383.1 765.2 L382.9 764.8 L380.9 764.9 L378.8 765 L376.2 763.8 L374.3 764.3 L371.8 763.1 L370.7 765.4 L368.9 766 L368 768.6 L366.5 769.9 L364.8 770.9 L363.1 771.7 L361.3 772.4 L359.5 773 L357.7 773.6 L355.9 774.3 L354.1 774.9 L352.3 775.5 L350.5 776.2Z" fill="#437c34"/><path d="M352.9 781.6 L354.6 780.7 L356.3 779.8 L358 778.9 L359.6 778 L361.3 777.1 L363 776.2 L364.7 775.3 L366.4 774.5 L368.3 774 L370.2 773.7 L372.8 774.8 L374.4 773.8 L376.9 774.6 L377.8 771.9 L379.3 770.8 L380.2 768.1 L381.7 766.7" fill="none" stroke="#a0c098" stroke-width="0.9" opacity="0.75"/><path d="M349 782 C330.1 775.4 340.6 729.2 349 716 C357.4 729.2 367.9 775.4 349 782Z" fill="url(#gBudG)"/><path d="M349 772 C336.4 764.5 342.7 729.5 349 722 C355.3 729.5 361.6 764.5 349 772Z" fill="url(#gBudP)"/><path d="M335.4 761.1 Q334.7 782.9 349 784.9 Q363.3 782.9 362.6 761.1 Q349 772 335.4 761.1Z" fill="url(#gCup)"/><path d="M338.2 779.1 C335.2 790.8 344 797.1 344.6 802.5 L353.4 802.5 C354 797.1 362.8 790.8 359.8 779.1 Q349 776.9 338.2 779.1Z" fill="url(#gHip)"/><path d="M352.7 781.5 L353.4 777.3 L354 773 L354.7 768.8 L355.2 764.6 L355.8 760.3 L356.2 756.1 L356.7 751.8 L357 747.6 L357.4 743.3 L357.6 739.1 L357.9 734.8 L358 730.6 L358.2 726.3 L358.2 722.1 L358.3 717.8 L358.2 713.5 L358.2 709.3 L358 705 L358 705 L357.7 709.3 L357.4 713.5 L357.1 717.7 L356.7 722 L356.3 726.2 L355.8 730.4 L355.3 734.6 L354.8 738.8 L354.2 743 L353.5 747.2 L352.8 751.3 L352.1 755.5 L351.3 759.6 L350.5 763.8 L349.6 767.9 L348.7 772 L347.8 776.2 L346.8 780.3Z" fill="#52903e"/><path d="M352.7 781.5 L353.4 777.3 L354 773 L354.7 768.8 L355.2 764.6 L355.8 760.3 L356.2 756.1 L356.7 751.8 L357 747.6 L357.4 743.3 L357.6 739.1 L357.9 734.8 L358 730.6 L358.2 726.3 L358.2 722.1 L358.3 717.8 L358.2 713.5 L358.2 709.3" fill="none" stroke="#b4d0aa" stroke-width="0.9" opacity="0.75"/><path d="M351.3 780.5 L350.6 777 L350 773.6 L349.4 770.1 L348.8 766.6 L348.2 763.1 L347.6 759.7 L347 756.2 L346.4 752.7 L345.7 749.2 L345.1 745.8 L344.5 742.3 L343.9 738.8 L343.2 735.3 L342.6 731.9 L342 728.4 L341.3 724.9 L340.7 721.5 L340 718 L340 718 L340.2 721.5 L340.5 725 L340.8 728.6 L341.1 732.1 L341.4 735.6 L341.7 739.1 L341.9 742.6 L342.2 746.1 L342.5 749.7 L342.8 753.2 L343.2 756.7 L343.5 760.2 L343.8 763.7 L344.1 767.2 L344.4 770.7 L344.7 774.3 L345 777.8 L345.3 781.3Z" fill="#52903e"/><path d="M351.3 780.5 L350.6 777 L350 773.6 L349.4 770.1 L348.8 766.6 L348.2 763.1 L347.6 759.7 L347 756.2 L346.4 752.7 L345.7 749.2 L345.1 745.8 L344.5 742.3 L343.9 738.8 L343.2 735.3 L342.6 731.9 L342 728.4 L341.3 724.9 L340.7 721.5" fill="none" stroke="#b4d0aa" stroke-width="0.9" opacity="0.75"/><g fill="#080b0b" stroke="#080b0b" stroke-linecap="round"><path d="M450 784 L450 824" stroke-width="16.4"/><ellipse cx="450" cy="744.5" rx="23.2" ry="36.5"/><path d="M450 775.9 L437 666" stroke-width="16"/><path d="M450 775.9 L489 690" stroke-width="14"/><path d="M450 775.9 L413 722" stroke-width="15"/><path d="M450 775.9 L493 752" stroke-width="15"/><path d="M450 775.9 L440 748" stroke-width="16"/><path d="M450 775.9 L462 742" stroke-width="16"/></g><path d="M445.4 790.3 Q446.6 804 446.9 824 L453.1 824 Q453.4 804 454.6 790.3Z" fill="url(#gStem)"/><path d="M452.5 773.9 L452.2 767.8 L451.8 761.7 L451.4 755.6 L451 749.6 L450.4 743.5 L449.8 737.5 L449.2 731.5 L448.6 725.4 L448.2 719.4 L448.2 713.3 L449.8 706.9 L448.7 700.9 L449.7 694.6 L446.4 689 L444.9 683 L441.3 677.5 L439.4 671.7 L437.2 666 L436.8 666 L437.1 672.2 L437.5 678.2 L436.1 684.6 L436.7 690.6 L435.2 696.9 L438.1 702.5 L438.6 708.4 L441.7 714.1 L443.1 719.9 L444 725.9 L444.6 731.9 L444.9 737.9 L445.2 743.9 L445.4 749.9 L445.5 755.9 L445.6 761.9 L445.5 767.9 L445.5 773.9Z" fill="#437c34"/><path d="M452.5 773.9 L452.2 767.8 L451.8 761.7 L451.4 755.6 L451 749.6 L450.4 743.5 L449.8 737.5 L449.2 731.5 L448.6 725.4 L448.2 719.4 L448.2 713.3 L449.8 706.9 L448.7 700.9 L449.7 694.6 L446.4 689 L444.9 683 L441.3 677.5 L439.4 671.7" fill="none" stroke="#a0c098" stroke-width="0.9" opacity="0.75"/><path d="M455.6 774.2 L456.1 769 L456.8 763.9 L457.7 758.9 L458.7 753.9 L459.8 748.9 L461.1 744.1 L462.6 739.2 L464.2 734.5 L466 729.8 L467.9 725.1 L470 720.6 L472.3 716 L474.7 711.5 L477.2 707.1 L479.9 702.8 L482.8 698.5 L485.8 694.2 L489 690 L489 690 L485.5 694 L482.2 698.1 L479.1 702.2 L476.1 706.4 L473.3 710.7 L470.6 715.1 L468.1 719.6 L465.7 724.1 L463.5 728.7 L461.5 733.4 L459.6 738.2 L457.8 743 L456.2 747.9 L454.8 752.9 L453.5 758 L452.4 763.1 L451.4 768.3 L450.6 773.6Z" fill="#437c34"/><path d="M455.6 774.2 L456.1 769 L456.8 763.9 L457.7 758.9 L458.7 753.9 L459.8 748.9 L461.1 744.1 L462.6 739.2 L464.2 734.5 L466 729.8 L467.9 725.1 L470 720.6 L472.3 716 L474.7 711.5 L477.2 707.1 L479.9 702.8 L482.8 698.5 L485.8 694.2" fill="none" stroke="#a0c098" stroke-width="0.9" opacity="0.75"/><path d="M449.8 772.8 L448.3 769.5 L446.7 766.3 L445.1 763.2 L443.4 760.1 L441.6 757.1 L439.8 754.1 L438 751.1 L436.1 748.1 L434.5 745 L433 741.8 L432.6 737.7 L430.3 735 L429.5 731.1 L425.6 729.7 L423 727.2 L419.1 726 L416.2 723.8 L413.1 721.9 L412.9 722.1 L414.7 725.2 L416.5 728.2 L417.2 732.2 L419.1 735 L419.6 739 L423 740.6 L424.8 743.4 L428.4 745 L430.8 747.5 L432.8 750.2 L434.6 753.1 L436.2 756.1 L437.7 759.2 L439.1 762.3 L440.5 765.4 L441.8 768.6 L443.1 771.8 L444.3 775Z" fill="#437c34"/><path d="M449.8 772.8 L448.3 769.5 L446.7 766.3 L445.1 763.2 L443.4 760.1 L441.6 757.1 L439.8 754.1 L438 751.1 L436.1 748.1 L434.5 745 L433 741.8 L432.6 737.7 L430.3 735 L429.5 731.1 L425.6 729.7 L423 727.2 L419.1 726 L416.2 723.8" fill="none" stroke="#a0c098" stroke-width="0.9" opacity="0.75"/><path d="M454.9 776.5 L457 775.2 L459.1 773.8 L461.3 772.5 L463.4 771.1 L465.5 769.8 L467.6 768.4 L469.8 767.1 L472 765.9 L474.3 764.9 L476.8 764.2 L480 764.8 L482 763.3 L485.1 763.6 L486.2 760.5 L488.3 759 L489.4 755.9 L491.3 754.1 L493.1 752.2 L492.9 751.8 L490.3 752.3 L487.8 753 L484.5 752.3 L482.2 753.2 L479 752.6 L477.6 755.3 L475.3 756.3 L474.1 759.3 L472.2 761 L470.1 762.4 L467.9 763.7 L465.6 764.8 L463.3 765.9 L461.1 766.9 L458.8 768 L456.5 769.1 L454.3 770.2 L452 771.3Z" fill="#437c34"/><path d="M454.9 776.5 L457 775.2 L459.1 773.8 L461.3 772.5 L463.4 771.1 L465.5 769.8 L467.6 768.4 L469.8 767.1 L472 765.9 L474.3 764.9 L476.8 764.2 L480 764.8 L482 763.3 L485.1 763.6 L486.2 760.5 L488.3 759 L489.4 755.9 L491.3 754.1" fill="none" stroke="#a0c098" stroke-width="0.9" opacity="0.75"/><path d="M450 776 C429.7 769.7 440.9 725.6 450 713 C459.1 725.6 470.3 769.7 450 776Z" fill="url(#gBudP)"/><path d="M435.3 757 Q434.6 777.9 450 779.9 Q465.4 777.9 464.7 757 Q450 767.4 435.3 757Z" fill="url(#gCup)"/><path d="M439.2 774.1 C436.2 785.8 445 792.1 445.6 797.5 L454.4 797.5 C455 792.1 463.8 785.8 460.8 774.1 Q450 771.9 439.2 774.1Z" fill="url(#gHip)"/><path d="M452.5 774.8 L451.8 773.3 L451.2 771.8 L450.5 770.3 L449.8 768.8 L449.1 767.3 L448.4 765.8 L447.8 764.3 L447.1 762.9 L446.4 761.4 L445.7 759.9 L445 758.4 L444.3 756.9 L443.6 755.4 L442.9 753.9 L442.2 752.4 L441.5 750.9 L440.8 749.5 L440 748 L440 748 L440.3 749.6 L440.6 751.3 L440.9 752.9 L441.2 754.5 L441.5 756.1 L441.8 757.7 L442.2 759.3 L442.5 760.9 L442.8 762.5 L443.2 764.1 L443.5 765.8 L443.8 767.4 L444.2 769 L444.5 770.6 L444.8 772.2 L445.2 773.8 L445.5 775.4 L445.9 777Z" fill="#52903e"/><path d="M452.5 774.8 L451.8 773.3 L451.2 771.8 L450.5 770.3 L449.8 768.8 L449.1 767.3 L448.4 765.8 L447.8 764.3 L447.1 762.9 L446.4 761.4 L445.7 759.9 L445 758.4 L444.3 756.9 L443.6 755.4 L442.9 753.9 L442.2 752.4 L441.5 750.9 L440.8 749.5" fill="none" stroke="#b4d0aa" stroke-width="0.9" opacity="0.75"/><path d="M454.3 777 L454.7 775 L455.2 773.1 L455.6 771.2 L456.1 769.2 L456.5 767.3 L457 765.4 L457.4 763.4 L457.8 761.5 L458.3 759.5 L458.7 757.6 L459.1 755.6 L459.6 753.7 L460 751.8 L460.4 749.8 L460.8 747.9 L461.2 745.9 L461.6 744 L462 742 L462 742 L461.1 743.8 L460.3 745.6 L459.5 747.4 L458.7 749.3 L457.9 751.1 L457.1 752.9 L456.3 754.7 L455.5 756.5 L454.7 758.4 L453.9 760.2 L453.1 762 L452.3 763.8 L451.5 765.7 L450.8 767.5 L450 769.3 L449.2 771.2 L448.4 773 L447.6 774.8Z" fill="#52903e"/><path d="M454.3 777 L454.7 775 L455.2 773.1 L455.6 771.2 L456.1 769.2 L456.5 767.3 L457 765.4 L457.4 763.4 L457.8 761.5 L458.3 759.5 L458.7 757.6 L459.1 755.6 L459.6 753.7 L460 751.8 L460.4 749.8 L460.8 747.9 L461.2 745.9 L461.6 744" fill="none" stroke="#b4d0aa" stroke-width="0.9" opacity="0.75"/><g fill="#080b0b" stroke="#080b0b" stroke-linecap="round"><path d="M579 788 L579 836" stroke-width="16.4"/><ellipse cx="579" cy="747" rx="23.2" ry="36"/><path d="M579 779 L563 675" stroke-width="16"/><path d="M579 779 L503 719" stroke-width="14"/><path d="M579 779 L612 735" stroke-width="15"/><path d="M579 779 L598 700" stroke-width="14"/><path d="M579 779 L568 755" stroke-width="16"/><path d="M579 779 L592 752" stroke-width="15"/></g><path d="M574.4 795 Q575.6 812 575.9 836 L582.1 836 Q582.4 812 583.6 795Z" fill="url(#gStem)"/><path d="M581.2 776.8 L580.8 771.1 L580.2 765.3 L579.6 759.6 L579 753.8 L578.3 748.1 L577.5 742.4 L576.7 736.7 L576 731 L575.4 725.3 L575.3 719.5 L576.7 713.4 L575.5 707.7 L576.4 701.7 L572.8 696.4 L571.3 690.9 L567.6 685.8 L565.5 680.3 L563.2 674.9 L562.8 675.1 L563.2 680.9 L563.7 686.6 L562.5 692.7 L563.2 698.4 L561.9 704.4 L564.9 709.6 L565.6 715.3 L568.8 720.5 L570.4 726 L571.4 731.6 L572.1 737.3 L572.7 742.9 L573.1 748.6 L573.4 754.3 L573.7 760 L574 765.7 L574.1 771.4 L574.2 777.2Z" fill="#437c34"/><path d="M581.2 776.8 L580.8 771.1 L580.2 765.3 L579.6 759.6 L579 753.8 L578.3 748.1 L577.5 742.4 L576.7 736.7 L576 731 L575.4 725.3 L575.3 719.5 L576.7 713.4 L575.5 707.7 L576.4 701.7 L572.8 696.4 L571.3 690.9 L567.6 685.8 L565.5 680.3" fill="none" stroke="#a0c098" stroke-width="0.9" opacity="0.75"/><path d="M574.9 775.4 L571.5 771.5 L568 767.7 L564.4 764 L560.8 760.3 L557.1 756.8 L553.4 753.3 L549.6 749.9 L545.8 746.5 L542 743.1 L538.4 739.5 L535.4 735 L531.1 732.1 L527.7 728 L522.5 726.5 L518 724 L512.6 722.9 L507.9 720.8 L503.1 718.9 L502.9 719.1 L507.1 722.2 L511.2 725.3 L514.6 729.4 L518.6 732.4 L521.8 736.6 L526.6 738.3 L530.5 741.5 L535.5 743.2 L539.7 745.9 L543.6 749 L547.4 752.3 L551 755.8 L554.5 759.4 L558 763.1 L561.3 766.8 L564.6 770.7 L567.8 774.6 L571 778.6Z" fill="#437c34"/><path d="M574.9 775.4 L571.5 771.5 L568 767.7 L564.4 764 L560.8 760.3 L557.1 756.8 L553.4 753.3 L549.6 749.9 L545.8 746.5 L542 743.1 L538.4 739.5 L535.4 735 L531.1 732.1 L527.7 728 L522.5 726.5 L518 724 L512.6 722.9 L507.9 720.8" fill="none" stroke="#a0c098" stroke-width="0.9" opacity="0.75"/><path d="M584.4 778.2 L585.5 775.6 L586.6 773 L587.8 770.4 L589 767.8 L590.3 765.3 L591.7 762.8 L593.1 760.3 L594.7 758 L596.5 755.8 L598.7 753.9 L602 752.9 L603.6 750.6 L606.6 749.6 L606.9 746.1 L608.6 743.8 L609 740.3 L610.6 737.7 L612.1 735.1 L611.9 734.9 L609.2 736.3 L606.6 737.9 L603 738.5 L600.7 740.5 L597.1 741.3 L596.5 744.7 L594.4 746.9 L594.2 750.5 L592.9 753.2 L591.4 755.7 L589.8 758.1 L588.1 760.5 L586.5 763 L584.9 765.4 L583.3 768 L581.8 770.5 L580.3 773.1 L578.9 775.8Z" fill="#437c34"/><path d="M584.4 778.2 L585.5 775.6 L586.6 773 L587.8 770.4 L589 767.8 L590.3 765.3 L591.7 762.8 L593.1 760.3 L594.7 758 L596.5 755.8 L598.7 753.9 L602 752.9 L603.6 750.6 L606.6 749.6 L606.9 746.1 L608.6 743.8 L609 740.3 L610.6 737.7" fill="none" stroke="#a0c098" stroke-width="0.9" opacity="0.75"/><path d="M583 777.6 L583.8 773.2 L584.7 768.9 L585.5 764.6 L586.3 760.3 L587.2 756 L588 751.7 L588.9 747.4 L589.7 743.1 L590.6 738.8 L591.4 734.5 L592.2 730.2 L593.1 725.9 L593.9 721.6 L594.7 717.3 L595.6 712.9 L596.4 708.6 L597.2 704.3 L598 700 L598 700 L596.8 704.2 L595.7 708.5 L594.6 712.7 L593.5 717 L592.4 721.2 L591.3 725.5 L590.2 729.7 L589.1 734 L588 738.2 L586.9 742.5 L585.8 746.7 L584.7 750.9 L583.6 755.2 L582.5 759.4 L581.4 763.7 L580.3 767.9 L579.2 772.2 L578.1 776.4Z" fill="#437c34"/><path d="M583 777.6 L583.8 773.2 L584.7 768.9 L585.5 764.6 L586.3 760.3 L587.2 756 L588 751.7 L588.9 747.4 L589.7 743.1 L590.6 738.8 L591.4 734.5 L592.2 730.2 L593.1 725.9 L593.9 721.6 L594.7 717.3 L595.6 712.9 L596.4 708.6 L597.2 704.3" fill="none" stroke="#a0c098" stroke-width="0.9" opacity="0.75"/><path d="M579 778 C558.7 771.8 569.9 728.4 579 716 C588.1 728.4 599.3 771.8 579 778Z" fill="url(#gBudP)"/><path d="M564.3 760.4 Q563.6 781 579 783 Q594.4 781 593.7 760.4 Q579 770.6 564.3 760.4Z" fill="url(#gCup)"/><path d="M568.2 777 C565.2 790 574 797 574.6 803 L583.4 803 C584 797 592.8 790 589.8 777 Q579 774.6 568.2 777Z" fill="url(#gHip)"/><path d="M581.3 777.6 L580.6 776.4 L579.9 775.1 L579.2 773.8 L578.4 772.6 L577.7 771.3 L577 770.1 L576.3 768.8 L575.5 767.5 L574.8 766.3 L574.1 765 L573.3 763.8 L572.6 762.5 L571.8 761.2 L571.1 760 L570.3 758.7 L569.6 757.5 L568.8 756.2 L568 755 L568 755 L568.3 756.4 L568.7 757.9 L569 759.3 L569.4 760.7 L569.8 762.1 L570.2 763.5 L570.6 764.9 L570.9 766.3 L571.3 767.7 L571.7 769.1 L572.1 770.5 L572.5 771.9 L572.9 773.3 L573.3 774.8 L573.7 776.2 L574.1 777.6 L574.5 779 L574.9 780.4Z" fill="#52903e"/><path d="M581.3 777.6 L580.6 776.4 L579.9 775.1 L579.2 773.8 L578.4 772.6 L577.7 771.3 L577 770.1 L576.3 768.8 L575.5 767.5 L574.8 766.3 L574.1 765 L573.3 763.8 L572.6 762.5 L571.8 761.2 L571.1 760 L570.3 758.7 L569.6 757.5 L568.8 756.2" fill="none" stroke="#b4d0aa" stroke-width="0.9" opacity="0.75"/><path d="M582.8 780.2 L583.3 778.7 L583.8 777.1 L584.4 775.5 L584.9 774 L585.4 772.4 L585.9 770.8 L586.5 769.3 L587 767.7 L587.5 766.2 L588 764.6 L588.5 763 L589 761.5 L589.5 759.9 L590.1 758.3 L590.6 756.7 L591.1 755.2 L591.5 753.6 L592 752 L592 752 L591.1 753.4 L590.3 754.8 L589.5 756.3 L588.6 757.7 L587.8 759.1 L587 760.5 L586.2 762 L585.4 763.4 L584.6 764.8 L583.7 766.3 L582.9 767.7 L582.1 769.2 L581.3 770.6 L580.5 772 L579.7 773.5 L578.9 774.9 L578.1 776.3 L577.3 777.8Z" fill="#52903e"/><path d="M582.8 780.2 L583.3 778.7 L583.8 777.1 L584.4 775.5 L584.9 774 L585.4 772.4 L585.9 770.8 L586.5 769.3 L587 767.7 L587.5 766.2 L588 764.6 L588.5 763 L589 761.5 L589.5 759.9 L590.1 758.3 L590.6 756.7 L591.1 755.2 L591.5 753.6" fill="none" stroke="#b4d0aa" stroke-width="0.9" opacity="0.75"/><g fill="#080b0b" stroke="#080b0b" stroke-linecap="round"><path d="M714 787 L714 829" stroke-width="16.4"/><ellipse cx="714" cy="740" rx="29.7" ry="40"/><path d="M714 778.9 L638 755" stroke-width="14"/><path d="M714 778.9 L756 738" stroke-width="14"/><path d="M714 778.9 L696 765" stroke-width="16"/><path d="M714 778.9 L732 762" stroke-width="16"/><path d="M714 778.9 L748 757" stroke-width="14"/></g><path d="M709.4 793.3 Q710.6 808 710.9 829 L717.1 829 Q717.4 808 718.6 793.3Z" fill="url(#gStem)"/><path d="M708.9 774.6 L705.1 773.1 L701.2 771.7 L697.3 770.3 L693.5 769 L689.6 767.7 L685.7 766.4 L681.8 765.2 L677.9 763.9 L674.1 762.5 L670.3 760.8 L666.8 758 L662.8 757 L659.2 754.6 L654.8 755.3 L650.7 754.6 L646.3 755.4 L642.2 755 L638 754.9 L638 755.1 L641.8 756.7 L645.7 758.1 L649.2 760.8 L653.1 762 L656.5 764.8 L660.8 764.4 L664.6 765.7 L668.9 765.2 L673 765.9 L676.9 767 L680.7 768.3 L684.5 769.7 L688.3 771.2 L692.1 772.7 L695.8 774.3 L699.5 775.9 L703.2 777.5 L706.9 779.2Z" fill="#437c34"/><path d="M708.9 774.6 L705.1 773.1 L701.2 771.7 L697.3 770.3 L693.5 769 L689.6 767.7 L685.7 766.4 L681.8 765.2 L677.9 763.9 L674.1 762.5 L670.3 760.8 L666.8 758 L662.8 757 L659.2 754.6 L654.8 755.3 L650.7 754.6 L646.3 755.4 L642.2 755" fill="none" stroke="#a0c098" stroke-width="0.9" opacity="0.75"/><path d="M719.3 778.5 L721.1 776.1 L723 773.7 L724.9 771.3 L726.8 768.9 L728.7 766.6 L730.7 764.3 L732.7 762 L734.7 759.8 L737 757.8 L739.5 756 L742.9 755.1 L744.9 752.9 L748 751.9 L749.1 748.6 L751.1 746.4 L752.2 743 L754.2 740.6 L756.1 738.1 L755.9 737.9 L753.1 739.3 L750.4 740.9 L746.9 741.5 L744.4 743.4 L740.9 744.2 L739.6 747.3 L737.2 749.3 L736.2 752.7 L734.4 755.2 L732.4 757.5 L730.3 759.7 L728.1 761.9 L725.9 764.1 L723.8 766.3 L721.7 768.5 L719.6 770.7 L717.5 773 L715.4 775.3Z" fill="#437c34"/><path d="M719.3 778.5 L721.1 776.1 L723 773.7 L724.9 771.3 L726.8 768.9 L728.7 766.6 L730.7 764.3 L732.7 762 L734.7 759.8 L737 757.8 L739.5 756 L742.9 755.1 L744.9 752.9 L748 751.9 L749.1 748.6 L751.1 746.4 L752.2 743 L754.2 740.6" fill="none" stroke="#a0c098" stroke-width="0.9" opacity="0.75"/><path d="M718.1 779 L719.7 777.8 L721.4 776.6 L723.1 775.4 L724.7 774.2 L726.4 772.9 L728.1 771.7 L729.7 770.5 L731.4 769.3 L733.1 768.1 L734.7 766.9 L736.4 765.6 L738.1 764.4 L739.7 763.2 L741.4 762 L743.1 760.7 L744.7 759.5 L746.4 758.3 L748 757 L748 757 L746.2 757.9 L744.3 758.9 L742.5 759.9 L740.7 760.9 L738.9 761.9 L737.1 762.8 L735.3 763.8 L733.5 764.8 L731.6 765.8 L729.8 766.8 L728 767.8 L726.2 768.8 L724.4 769.8 L722.6 770.8 L720.8 771.8 L719 772.8 L717.2 773.8 L715.4 774.8Z" fill="#437c34"/><path d="M718.1 779 L719.7 777.8 L721.4 776.6 L723.1 775.4 L724.7 774.2 L726.4 772.9 L728.1 771.7 L729.7 770.5 L731.4 769.3 L733.1 768.1 L734.7 766.9 L736.4 765.6 L738.1 764.4 L739.7 763.2 L741.4 762 L743.1 760.7 L744.7 759.5 L746.4 758.3" fill="none" stroke="#a0c098" stroke-width="0.9" opacity="0.75"/><path d="M714 775 C686.5 768 701.6 719 714 705 C726.4 719 741.5 768 714 775Z" fill="url(#gBudP)"/><path d="M697.8 757.9 Q697 780.9 714 782.9 Q731 780.9 730.2 757.9 Q714 769.4 697.8 757.9Z" fill="url(#gCup)"/><path d="M703.2 777.1 C700.2 788.8 709 795.1 709.6 800.5 L718.4 800.5 C719 795.1 727.8 788.8 724.8 777.1 Q714 774.9 703.2 777.1Z" fill="url(#gHip)"/><path d="M714.8 776.2 L713.8 775.6 L712.7 774.9 L711.7 774.3 L710.7 773.7 L709.6 773 L708.6 772.4 L707.6 771.8 L706.5 771.1 L705.5 770.5 L704.4 769.9 L703.4 769.3 L702.4 768.6 L701.3 768 L700.3 767.4 L699.2 766.8 L698.2 766.2 L697.1 765.6 L696 765 L696 765 L696.8 766 L697.5 766.9 L698.3 767.9 L699.1 768.8 L699.9 769.7 L700.7 770.6 L701.5 771.6 L702.3 772.5 L703.1 773.4 L703.9 774.3 L704.7 775.2 L705.5 776.1 L706.3 777 L707.1 777.9 L707.9 778.9 L708.7 779.8 L709.5 780.7 L710.3 781.6Z" fill="#52903e"/><path d="M714.8 776.2 L713.8 775.6 L712.7 774.9 L711.7 774.3 L710.7 773.7 L709.6 773 L708.6 772.4 L707.6 771.8 L706.5 771.1 L705.5 770.5 L704.4 769.9 L703.4 769.3 L702.4 768.6 L701.3 768 L700.3 767.4 L699.2 766.8 L698.2 766.2 L697.1 765.6" fill="none" stroke="#b4d0aa" stroke-width="0.9" opacity="0.75"/><path d="M717.9 781.3 L718.7 780.3 L719.5 779.2 L720.3 778.2 L721.1 777.1 L721.9 776 L722.7 775 L723.5 773.9 L724.3 772.8 L725.1 771.8 L725.8 770.7 L726.6 769.6 L727.4 768.5 L728.2 767.5 L729 766.4 L729.7 765.3 L730.5 764.2 L731.3 763.1 L732 762 L732 762 L730.9 762.8 L729.8 763.5 L728.7 764.3 L727.7 765.1 L726.6 765.9 L725.5 766.7 L724.5 767.5 L723.4 768.3 L722.4 769.1 L721.3 769.9 L720.3 770.8 L719.2 771.6 L718.2 772.4 L717.1 773.2 L716.1 774 L715 774.8 L714 775.6 L712.9 776.5Z" fill="#52903e"/><path d="M717.9 781.3 L718.7 780.3 L719.5 779.2 L720.3 778.2 L721.1 777.1 L721.9 776 L722.7 775 L723.5 773.9 L724.3 772.8 L725.1 771.8 L725.8 770.7 L726.6 769.6 L727.4 768.5 L728.2 767.5 L729 766.4 L729.7 765.3 L730.5 764.2 L731.3 763.1" fill="none" stroke="#b4d0aa" stroke-width="0.9" opacity="0.75"/><g fill="#080b0b" stroke="#080b0b" stroke-linecap="round"><path d="M864 793 L864 840" stroke-width="16.4"/><ellipse cx="864" cy="732.5" rx="51.8" ry="53.5"/><path d="M864 784 L773 777" stroke-width="14"/><path d="M864 784 L952 757" stroke-width="14"/><path d="M864 784 L800 713" stroke-width="14"/><path d="M864 784 L845 772" stroke-width="17"/><path d="M864 784 L885 770" stroke-width="17"/></g><path d="M859.4 800 Q860.6 816.5 860.9 840 L867.1 840 Q867.4 816.5 868.6 800Z" fill="url(#gStem)"/><path d="M857.1 779.5 L852.4 778.9 L847.8 778.4 L843.1 777.9 L838.4 777.5 L833.8 777.1 L829.1 776.7 L824.4 776.4 L819.8 776.1 L815.1 775.6 L810.4 774.8 L805.8 772.9 L801.1 773 L796.4 771.5 L791.7 773.2 L787 773.5 L782.3 775.3 L777.7 776 L773 776.8 L773 777.2 L777.7 777.7 L782.4 778.1 L787 779.9 L791.7 780.2 L796.3 782 L800.9 780.6 L805.5 781 L810.2 779.5 L814.9 779.2 L819.5 779.3 L824.1 779.7 L828.8 780.2 L833.4 780.8 L838 781.4 L842.6 782.1 L847.2 782.8 L851.7 783.6 L856.3 784.5Z" fill="#437c34"/><path d="M857.1 779.5 L852.4 778.9 L847.8 778.4 L843.1 777.9 L838.4 777.5 L833.8 777.1 L829.1 776.7 L824.4 776.4 L819.8 776.1 L815.1 775.6 L810.4 774.8 L805.8 772.9 L801.1 773 L796.4 771.5 L791.7 773.2 L787 773.5 L782.3 775.3 L777.7 776" fill="none" stroke="#a0c098" stroke-width="0.9" opacity="0.75"/><path d="M872 784.3 L876.3 782.4 L880.6 780.5 L884.9 778.7 L889.3 776.9 L893.7 775.2 L898 773.5 L902.5 771.9 L906.9 770.5 L911.4 769.2 L916.1 768.4 L921 768.7 L925.5 767.2 L930.3 767.4 L934.4 764.6 L938.9 763.2 L943.1 760.4 L947.5 758.8 L952 757.1 L952 756.9 L947.2 757.2 L942.4 757.6 L937.4 756.9 L932.7 757.8 L927.7 757.2 L923.4 759.8 L918.8 760.9 L914.7 763.9 L910.4 765.7 L905.9 767.3 L901.4 768.8 L896.9 770.2 L892.4 771.7 L887.9 773.2 L883.4 774.7 L879 776.3 L874.5 778 L870.1 779.7Z" fill="#437c34"/><path d="M872 784.3 L876.3 782.4 L880.6 780.5 L884.9 778.7 L889.3 776.9 L893.7 775.2 L898 773.5 L902.5 771.9 L906.9 770.5 L911.4 769.2 L916.1 768.4 L921 768.7 L925.5 767.2 L930.3 767.4 L934.4 764.6 L938.9 763.2 L943.1 760.4 L947.5 758.8" fill="none" stroke="#a0c098" stroke-width="0.9" opacity="0.75"/><path d="M861.1 780.8 L858.4 776.3 L855.6 772 L852.8 767.7 L849.8 763.5 L846.8 759.4 L843.7 755.3 L840.5 751.4 L837.3 747.5 L833.9 743.7 L830.5 740 L827 736.3 L823.4 732.7 L819.7 729.2 L815.9 725.8 L812.1 722.5 L808.1 719.2 L804.1 716.1 L800 713 L800 713 L803.9 716.4 L807.7 719.8 L811.4 723.2 L815 726.8 L818.6 730.4 L822 734 L825.4 737.8 L828.7 741.6 L831.9 745.4 L835 749.4 L838 753.4 L840.9 757.4 L843.8 761.6 L846.5 765.8 L849.2 770 L851.8 774.3 L854.3 778.8 L856.7 783.2Z" fill="#437c34"/><path d="M861.1 780.8 L858.4 776.3 L855.6 772 L852.8 767.7 L849.8 763.5 L846.8 759.4 L843.7 755.3 L840.5 751.4 L837.3 747.5 L833.9 743.7 L830.5 740 L827 736.3 L823.4 732.7 L819.7 729.2 L815.9 725.8 L812.1 722.5 L808.1 719.2 L804.1 716.1" fill="none" stroke="#a0c098" stroke-width="0.9" opacity="0.75"/><clipPath id="clip1"><path d="M823.8 718.4 C824.1 714.9 826.3 700.2 828.3 697.9 C830.3 695.6 848 687.4 851 686.5 C854 685.6 866.6 685.3 869.3 685.6 C872 685.9 885.3 689.4 887.5 691 C889.7 692.6 897.9 704 898.9 707 C899.9 710 901.4 728.3 901.2 732 C901 735.7 897.9 754 896.6 757 C895.3 760 885.3 771.4 883 773 C880.7 774.6 867.4 778.2 864.7 778.5 C862 778.8 848.8 778.3 846.5 777.6 C844.2 776.9 834.6 770.8 832.9 768.5 C831.2 766.2 824.5 749.4 823.8 745.7 C823.1 742 823.5 721.9 823.8 718.4Z"/></clipPath><path d="M823.8 718.4 C824.1 714.9 826.3 700.2 828.3 697.9 C830.3 695.6 848 687.4 851 686.5 C854 685.6 866.6 685.3 869.3 685.6 C872 685.9 885.3 689.4 887.5 691 C889.7 692.6 897.9 704 898.9 707 C899.9 710 901.4 728.3 901.2 732 C901 735.7 897.9 754 896.6 757 C895.3 760 885.3 771.4 883 773 C880.7 774.6 867.4 778.2 864.7 778.5 C862 778.8 848.8 778.3 846.5 777.6 C844.2 776.9 834.6 770.8 832.9 768.5 C831.2 766.2 824.5 749.4 823.8 745.7 C823.1 742 823.5 721.9 823.8 718.4Z" fill="#cf6cc8"/><g clip-path="url(#clip1)"><g filter="url(#bl5)"><ellipse cx="845" cy="715" rx="16" ry="22" fill="#e6a0e0" opacity="0.8" transform="rotate(0 845 715)"/><ellipse cx="892" cy="740" rx="8" ry="30" fill="#a848a0" opacity="0.6" transform="rotate(0 892 740)"/><ellipse cx="862" cy="770" rx="22" ry="8" fill="#b454a8" opacity="0.6" transform="rotate(0 862 770)"/></g></g><path d="M846.5 768 Q845.6 786 864 788 Q882.4 786 881.5 768 Q864 776.8 846.5 768Z" fill="url(#gCup)"/><path d="M852.3 782 C849 795 859 802 859.6 808 L868.4 808 C869 802 879 795 875.7 782 Q864 779.6 852.3 782Z" fill="url(#gHip)"/><path d="M864.7 780.7 L863.7 780.2 L862.6 779.7 L861.5 779.2 L860.4 778.7 L859.3 778.2 L858.2 777.7 L857.1 777.2 L856 776.7 L855 776.2 L853.9 775.7 L852.8 775.3 L851.7 774.8 L850.6 774.3 L849.5 773.8 L848.4 773.3 L847.3 772.9 L846.1 772.4 L845 772 L845 772 L845.8 772.9 L846.6 773.8 L847.5 774.7 L848.3 775.5 L849.1 776.4 L850 777.2 L850.8 778.1 L851.7 778.9 L852.5 779.8 L853.4 780.6 L854.2 781.5 L855.1 782.3 L855.9 783.1 L856.8 784 L857.6 784.8 L858.5 785.6 L859.4 786.5 L860.2 787.3Z" fill="#52903e"/><path d="M864.7 780.7 L863.7 780.2 L862.6 779.7 L861.5 779.2 L860.4 778.7 L859.3 778.2 L858.2 777.7 L857.1 777.2 L856 776.7 L855 776.2 L853.9 775.7 L852.8 775.3 L851.7 774.8 L850.6 774.3 L849.5 773.8 L848.4 773.3 L847.3 772.9 L846.1 772.4" fill="none" stroke="#b4d0aa" stroke-width="0.9" opacity="0.75"/><path d="M868 787.2 L869 786.3 L869.9 785.4 L870.9 784.4 L871.8 783.5 L872.8 782.5 L873.7 781.6 L874.7 780.6 L875.6 779.7 L876.6 778.7 L877.5 777.8 L878.5 776.8 L879.4 775.9 L880.4 774.9 L881.3 773.9 L882.2 773 L883.2 772 L884.1 771 L885 770 L885 770 L883.8 770.5 L882.5 771.1 L881.3 771.7 L880.1 772.3 L878.9 772.9 L877.7 773.5 L876.5 774.1 L875.3 774.7 L874.1 775.3 L872.9 775.9 L871.7 776.5 L870.5 777.1 L869.3 777.7 L868.1 778.3 L866.9 778.9 L865.7 779.5 L864.5 780.1 L863.3 780.8Z" fill="#52903e"/><path d="M868 787.2 L869 786.3 L869.9 785.4 L870.9 784.4 L871.8 783.5 L872.8 782.5 L873.7 781.6 L874.7 780.6 L875.6 779.7 L876.6 778.7 L877.5 777.8 L878.5 776.8 L879.4 775.9 L880.4 774.9 L881.3 773.9 L882.2 773 L883.2 772 L884.1 771" fill="none" stroke="#b4d0aa" stroke-width="0.9" opacity="0.75"/><g fill="#0f1715" stroke="#0f1715" stroke-linecap="round" stroke-linejoin="round"><circle cx="193" cy="975" r="36.3"/><path d="M193 975 L168 945" stroke-width="17.8"/><path d="M193 975 L218 1005" stroke-width="17.8"/><path d="M193 975 L172 1000" stroke-width="17.8"/></g><path d="M189.9 977.6 Q179.2 961.1 168 945 Q184.8 956.4 196.1 972.4Z" fill="#4a7a3c"/><path d="M191.2 976.5 Q179.8 960.5 168 945" fill="none" stroke="#a8c0a0" stroke-width="1" opacity="0.8"/><path d="M196.1 972.4 Q206.8 988.9 218 1005 Q201.2 993.6 189.9 977.6Z" fill="#4a7a3c"/><path d="M194.8 973.5 Q206.2 989.5 218 1005" fill="none" stroke="#a8c0a0" stroke-width="1" opacity="0.8"/><path d="M196.1 977.6 Q184 988.8 172 1000 Q178.5 984.1 189.9 972.4Z" fill="#4a7a3c"/><path d="M194.8 976.5 Q183.4 988.3 172 1000" fill="none" stroke="#a8c0a0" stroke-width="1" opacity="0.8"/><path d="M194.5 970.1 Q204.4 975.6 214.1 981.5 Q201.7 984.3 191.5 979.9Z" fill="#7a9a6c"/><path d="M193.9 972.1 Q204.1 976.5 214.1 981.5" fill="none" stroke="#9ab896" stroke-width="1" opacity="0.8"/><path d="M198 973.9 Q198.2 985.1 197.9 996.5 Q189.3 987.2 188 976.1Z" fill="#7a9a6c"/><path d="M196 974.3 Q197.2 985.4 197.9 996.5" fill="none" stroke="#9ab896" stroke-width="1" opacity="0.8"/><path d="M196.5 978.7 Q186.8 984.6 176.8 990 Q180.6 977.8 189.5 971.3Z" fill="#7a9a6c"/><path d="M195.1 977.2 Q186.1 983.8 176.8 990" fill="none" stroke="#9ab896" stroke-width="1" opacity="0.8"/><path d="M191.5 979.9 Q181.6 974.4 171.9 968.5 Q184.3 965.7 194.5 970.1Z" fill="#7a9a6c"/><path d="M192.1 977.9 Q181.9 973.5 171.9 968.5" fill="none" stroke="#9ab896" stroke-width="1" opacity="0.8"/><path d="M188 976.1 Q187.8 964.9 188.1 953.5 Q196.7 962.8 198 973.9Z" fill="#7a9a6c"/><path d="M190 975.7 Q188.8 964.6 188.1 953.5" fill="none" stroke="#9ab896" stroke-width="1" opacity="0.8"/><path d="M189.5 971.3 Q199.2 965.4 209.2 960 Q205.4 972.2 196.5 978.7Z" fill="#7a9a6c"/><path d="M190.9 972.8 Q199.9 966.2 209.2 960" fill="none" stroke="#9ab896" stroke-width="1" opacity="0.8"/><ellipse cx="193" cy="975" rx="17" ry="15.6" fill="url(#gBudW)"/><g fill="#0f1715" stroke="#0f1715" stroke-linecap="round" stroke-linejoin="round"><circle cx="272" cy="980" r="34.4"/><path d="M272 980 L298 962" stroke-width="15.6"/><path d="M272 980 L250 1000" stroke-width="15.6"/></g><path d="M270.3 977.5 Q284.4 970.1 298 962 Q287.4 974.5 273.7 982.5Z" fill="#4a7a3c"/><path d="M271 978.5 Q284.7 970.6 298 962" fill="none" stroke="#a8c0a0" stroke-width="1" opacity="0.8"/><path d="M274 982.2 Q261.8 990.9 250 1000 Q258.2 986.9 270 977.8Z" fill="#4a7a3c"/><path d="M273.2 981.3 Q261.4 990.5 250 1000" fill="none" stroke="#a8c0a0" stroke-width="1" opacity="0.8"/><path d="M273.4 975.4 Q282.5 980.4 291.5 986 Q280 988.7 270.6 984.6Z" fill="#7a9a6c"/><path d="M272.9 977.2 Q282.3 981.4 291.5 986" fill="none" stroke="#9ab896" stroke-width="1" opacity="0.8"/><path d="M276.7 978.9 Q276.9 989.4 276.5 999.9 Q268.5 991.3 267.3 981.1Z" fill="#7a9a6c"/><path d="M274.8 979.4 Q275.9 989.6 276.5 999.9" fill="none" stroke="#9ab896" stroke-width="1" opacity="0.8"/><path d="M275.3 983.5 Q266.3 988.9 257 993.9 Q260.5 982.6 268.7 976.5Z" fill="#7a9a6c"/><path d="M274 982.1 Q265.7 988.2 257 993.9" fill="none" stroke="#9ab896" stroke-width="1" opacity="0.8"/><path d="M270.6 984.6 Q261.5 979.6 252.5 974 Q264 971.3 273.4 975.4Z" fill="#7a9a6c"/><path d="M271.1 982.8 Q261.7 978.6 252.5 974" fill="none" stroke="#9ab896" stroke-width="1" opacity="0.8"/><path d="M267.3 981.1 Q267.1 970.6 267.5 960.1 Q275.5 968.7 276.7 978.9Z" fill="#7a9a6c"/><path d="M269.2 980.6 Q268.1 970.4 267.5 960.1" fill="none" stroke="#9ab896" stroke-width="1" opacity="0.8"/><path d="M268.7 976.5 Q277.7 971.1 287 966.1 Q283.5 977.4 275.3 983.5Z" fill="#7a9a6c"/><path d="M270 977.9 Q278.3 971.8 287 966.1" fill="none" stroke="#9ab896" stroke-width="1" opacity="0.8"/><ellipse cx="272" cy="980" rx="16" ry="14.7" fill="url(#gBudW)"/><g fill="#0f1715" stroke="#0f1715" stroke-linecap="round" stroke-linejoin="round"><circle cx="356" cy="980" r="26.8"/><path d="M356 980 L325 948" stroke-width="20"/><path d="M356 980 L392 1030" stroke-width="22.2"/><path d="M356 980 L378 950" stroke-width="17.8"/></g><path d="M356 980 L354.2 975.5 L351.4 972.1 L349.5 967.6 L345.9 964.9 L343.9 960.7 L339.7 958.5 L337.1 954.8 L332.8 952.9 L329.4 949.9 L325 948 L326.8 952.5 L329.6 955.9 L331.5 960.4 L335.1 963.1 L337.1 967.3 L341.3 969.5 L343.9 973.2 L348.2 975.1 L351.6 978.1Z" fill="#3c6434"/><path d="M356 980 L325 948" stroke="#8fae88" stroke-width="0.8" opacity="0.7"/><path d="M356 980 L357.8 986.3 L361.1 991.5 L362.9 997.8 L367.2 1002.3 L369.4 1008.3 L374.4 1012.3 L377.3 1017.8 L382.7 1021.5 L386.6 1026.3 L392 1030 L390.2 1023.7 L386.9 1018.5 L385.1 1012.2 L380.8 1007.7 L378.6 1001.7 L373.6 997.7 L370.7 992.2 L365.3 988.5 L361.4 983.7Z" fill="#3c6434"/><path d="M356 980 L392 1030" stroke="#8fae88" stroke-width="0.8" opacity="0.7"/><path d="M356 980 L359.4 977.9 L361.8 975 L365.2 972.9 L366.9 969.5 L370 967.2 L371.3 963.5 L374 960.9 L375 957 L377 953.9 L378 950 L374.6 952.1 L372.2 955 L368.8 957.1 L367.1 960.5 L364 962.8 L362.7 966.5 L360 969.1 L359 973 L357 976.1Z" fill="#3c6434"/><path d="M356 980 L378 950" stroke="#8fae88" stroke-width="0.8" opacity="0.7"/><path d="M357.1 976.6 Q365.4 981.1 373.9 985.5 Q363.5 987.3 354.9 983.4Z" fill="#557a48"/><path d="M356.6 977.9 Q365.2 981.8 373.9 985.5" fill="none" stroke="#9ab896" stroke-width="1" opacity="0.8"/><path d="M359.6 979.9 Q357.9 989.3 356.3 998.7 Q351.4 989.4 352.4 980.1Z" fill="#557a48"/><path d="M358.2 980 Q357.2 989.3 356.3 998.7" fill="none" stroke="#9ab896" stroke-width="1" opacity="0.8"/><path d="M357.2 983.4 Q347.7 984.7 338.3 986 Q345.6 978.5 354.8 976.6Z" fill="#557a48"/><path d="M356.7 982 Q347.5 984 338.3 986" fill="none" stroke="#9ab896" stroke-width="1" opacity="0.8"/><path d="M353.1 982.2 Q349 973.6 344.8 965 Q354.2 969.7 358.9 977.8Z" fill="#557a48"/><path d="M354.3 981.3 Q349.6 973.1 344.8 965" fill="none" stroke="#9ab896" stroke-width="1" opacity="0.8"/><path d="M353.1 977.9 Q360 971.4 366.8 964.7 Q365.3 975.1 358.9 982.1Z" fill="#557a48"/><path d="M354.2 978.8 Q360.6 971.8 366.8 964.7" fill="none" stroke="#9ab896" stroke-width="1" opacity="0.8"/><ellipse cx="356" cy="980" rx="12" ry="11" fill="url(#gBudD2)"/><g fill="#0f1715" stroke="#0f1715" stroke-linecap="round" stroke-linejoin="round"><circle cx="458" cy="987" r="34.4"/><path d="M458 987 L373 1050" stroke-width="24.4"/><path d="M458 987 L469 1080" stroke-width="20"/><path d="M458 987 L445 945" stroke-width="20"/><path d="M458 987 L490 955" stroke-width="17.8"/></g><path d="M458 987 L448 991.2 L439.2 997.1 L429.2 1001.4 L421.3 1008.6 L411.6 1013.2 L404.3 1021.2 L395.2 1026.6 L388.2 1034.9 L380 1041.6 L373 1050 L383 1045.8 L391.8 1039.9 L401.8 1035.6 L409.7 1028.4 L419.4 1023.8 L426.7 1015.8 L435.8 1010.4 L442.8 1002.1 L451 995.4Z" fill="#3c6434"/><path d="M458 987 L373 1050" stroke="#8fae88" stroke-width="0.8" opacity="0.7"/><path d="M458 987 L457.3 996.5 L458 1005.9 L457.4 1015.4 L459.2 1024.6 L458.8 1034.1 L461.4 1043.2 L461.8 1052.6 L464.6 1061.7 L466.1 1070.9 L469 1080 L469.7 1070.5 L469 1061.1 L469.6 1051.6 L467.8 1042.4 L468.2 1032.9 L465.6 1023.8 L465.2 1014.4 L462.4 1005.3 L460.9 996.1Z" fill="#3c6434"/><path d="M458 987 L469 1080" stroke="#8fae88" stroke-width="0.8" opacity="0.7"/><path d="M458 987 L458.5 982.3 L457.5 977.9 L457.9 973.2 L455.9 969.2 L456 964.6 L453.3 960.8 L452.7 956.4 L449.7 952.7 L448.1 948.7 L445 945 L444.5 949.7 L445.5 954.1 L445.1 958.8 L447.1 962.8 L447 967.4 L449.7 971.2 L450.3 975.6 L453.3 979.3 L454.9 983.3Z" fill="#3c6434"/><path d="M458 987 L445 945" stroke="#8fae88" stroke-width="0.8" opacity="0.7"/><path d="M458 987 L462.2 984.8 L465.6 981.8 L469.8 979.6 L472.6 976 L476.7 973.7 L479 969.6 L482.6 966.8 L484.8 962.6 L487.8 959.2 L490 955 L485.8 957.2 L482.4 960.2 L478.2 962.4 L475.4 966 L471.3 968.3 L469 972.4 L465.4 975.2 L463.2 979.4 L460.2 982.8Z" fill="#3c6434"/><path d="M458 987 L490 955" stroke="#8fae88" stroke-width="0.8" opacity="0.7"/><path d="M459.4 982.4 Q469.3 987.8 479.1 993.5 Q466.8 996.1 456.6 991.6Z" fill="#557a48"/><path d="M458.9 984.2 Q469 988.7 479.1 993.5" fill="none" stroke="#9ab896" stroke-width="1" opacity="0.8"/><path d="M462.8 986.9 Q460.7 998 458.3 1009.1 Q452.1 998.1 453.2 987.1Z" fill="#557a48"/><path d="M460.9 987 Q459.7 998 458.3 1009.1" fill="none" stroke="#9ab896" stroke-width="1" opacity="0.8"/><path d="M459.5 991.5 Q448.4 993 437.1 994.1 Q445.6 984.8 456.5 982.5Z" fill="#557a48"/><path d="M458.9 989.7 Q448.1 992.1 437.1 994.1" fill="none" stroke="#9ab896" stroke-width="1" opacity="0.8"/><path d="M454.2 989.9 Q449.3 979.7 444.8 969.3 Q456.3 974.5 461.8 984.1Z" fill="#557a48"/><path d="M455.7 988.7 Q450.1 979.1 444.8 969.3" fill="none" stroke="#9ab896" stroke-width="1" opacity="0.8"/><path d="M454.1 984.2 Q462.3 976.5 470.7 968.9 Q469.3 981.5 461.9 989.8Z" fill="#557a48"/><path d="M455.6 985.3 Q463.1 977.1 470.7 968.9" fill="none" stroke="#9ab896" stroke-width="1" opacity="0.8"/><ellipse cx="458" cy="987" rx="16" ry="14.7" fill="url(#gBudD2)"/><g fill="#0f1715" stroke="#0f1715" stroke-linecap="round" stroke-linejoin="round"><circle cx="582" cy="978" r="36.3"/><path d="M582 978 L490 1045" stroke-width="24.4"/><path d="M582 978 L595 1045" stroke-width="20"/><path d="M582 978 L560 935" stroke-width="17.8"/><path d="M582 978 L612 955" stroke-width="17.8"/></g><path d="M582 978 L571.3 982.6 L561.8 988.9 L551.1 993.6 L542.5 1001.1 L532.1 1006.2 L524.1 1014.5 L514.3 1020.4 L506.6 1029.1 L497.7 1036.2 L490 1045 L500.7 1040.4 L510.2 1034.1 L520.9 1029.4 L529.5 1021.9 L539.9 1016.8 L547.9 1008.5 L557.7 1002.6 L565.4 993.9 L574.3 986.8Z" fill="#3c6434"/><path d="M582 978 L490 1045" stroke="#8fae88" stroke-width="0.8" opacity="0.7"/><path d="M582 978 L581.5 985 L582.4 991.8 L582 998.9 L584 1005.4 L583.9 1012.4 L586.6 1018.8 L587.2 1025.7 L590.2 1032 L591.9 1038.6 L595 1045 L595.5 1038 L594.6 1031.2 L595 1024.1 L593 1017.6 L593.1 1010.6 L590.4 1004.2 L589.8 997.3 L586.8 991 L585.1 984.4Z" fill="#3c6434"/><path d="M582 978 L595 1045" stroke="#8fae88" stroke-width="0.8" opacity="0.7"/><path d="M582 978 L581.1 973 L579.2 968.6 L578.2 963.7 L575.5 959.6 L574.3 954.8 L571.1 951 L569.4 946.5 L566 942.8 L563.5 938.6 L560 935 L560.9 940 L562.8 944.4 L563.8 949.3 L566.5 953.4 L567.7 958.2 L570.9 962 L572.6 966.5 L576 970.2 L578.5 974.4Z" fill="#3c6434"/><path d="M582 978 L560 935" stroke="#8fae88" stroke-width="0.8" opacity="0.7"/><path d="M582 978 L585.9 976.9 L589.1 974.8 L592.9 973.6 L595.6 970.9 L599.3 969.5 L601.6 966.3 L604.9 964.4 L607.1 961 L609.9 958.5 L612 955 L608.1 956.1 L604.9 958.2 L601.1 959.4 L598.4 962.1 L594.7 963.5 L592.4 966.7 L589.1 968.6 L586.9 972 L584.1 974.5Z" fill="#3c6434"/><path d="M582 978 L612 955" stroke="#8fae88" stroke-width="0.8" opacity="0.7"/><path d="M583.5 973.1 Q593.4 978.6 603.1 984.5 Q590.7 987.3 580.5 982.9Z" fill="#557a48"/><path d="M582.9 975.1 Q593.1 979.5 603.1 984.5" fill="none" stroke="#9ab896" stroke-width="1" opacity="0.8"/><path d="M587.1 977.9 Q585 989 582.3 1000.1 Q575.8 989.1 576.9 978.1Z" fill="#557a48"/><path d="M585.1 978 Q584 989 582.3 1000.1" fill="none" stroke="#9ab896" stroke-width="1" opacity="0.8"/><path d="M583.6 982.8 Q572.5 984.2 561.1 985.1 Q569.5 975.5 580.4 973.2Z" fill="#557a48"/><path d="M583 980.9 Q572.1 983.3 561.1 985.1" fill="none" stroke="#9ab896" stroke-width="1" opacity="0.8"/><path d="M577.9 981.1 Q573.1 970.8 568.8 960.3 Q580.5 965.3 586.1 974.9Z" fill="#557a48"/><path d="M579.6 979.8 Q573.9 970.2 568.8 960.3" fill="none" stroke="#9ab896" stroke-width="1" opacity="0.8"/><path d="M577.8 975.1 Q586.1 967.3 594.7 959.9 Q593.6 972.6 586.2 980.9Z" fill="#557a48"/><path d="M579.5 976.2 Q586.9 967.9 594.7 959.9" fill="none" stroke="#9ab896" stroke-width="1" opacity="0.8"/><ellipse cx="582" cy="978" rx="17" ry="15.6" fill="url(#gBudD2)"/><g fill="#0f1715" stroke="#0f1715" stroke-linecap="round" stroke-linejoin="round"><circle cx="700" cy="987" r="42"/><path d="M700 987 L830 964" stroke-width="28.8"/><path d="M700 987 L641 1075" stroke-width="26.6"/><path d="M700 987 L718 901" stroke-width="22.2"/><path d="M700 987 L660 930" stroke-width="20"/></g><path d="M700 987 L713.6 987.9 L726.7 986.3 L740.2 987.1 L753 983.5 L766.5 983.8 L779 978.9 L792.2 977.9 L804.7 972.5 L817.6 969.5 L830 964 L816.4 963.1 L803.3 964.7 L789.8 963.9 L777 967.5 L763.5 967.2 L751 972.1 L737.8 973.1 L725.3 978.5 L712.4 981.5Z" fill="#3c6434"/><path d="M700 987 L830 964" stroke="#8fae88" stroke-width="0.8" opacity="0.7"/><path d="M700 987 L691.7 994.2 L685.3 1002.6 L677 1009.9 L672.1 1019.3 L664.3 1026.8 L660.3 1036.9 L653.4 1045.1 L649.9 1055.4 L644.5 1064.6 L641 1075 L649.3 1067.8 L655.7 1059.4 L664 1052.1 L668.9 1042.7 L676.7 1035.2 L680.7 1025.1 L687.6 1016.9 L691.1 1006.6 L696.5 997.4Z" fill="#3c6434"/><path d="M700 987 L641 1075" stroke="#8fae88" stroke-width="0.8" opacity="0.7"/><path d="M700 987 L704 978.9 L706.2 970.3 L710 962.2 L711 953.4 L714.5 945.2 L714.6 936.2 L717.2 927.8 L717 918.7 L718.4 910.1 L718 901 L714 909.1 L711.8 917.7 L708 925.8 L707 934.6 L703.5 942.8 L703.4 951.8 L700.8 960.2 L701 969.3 L699.6 977.9Z" fill="#3c6434"/><path d="M700 987 L718 901" stroke="#8fae88" stroke-width="0.8" opacity="0.7"/><path d="M700 987 L697.5 980.2 L693.8 974.3 L691.2 967.6 L686.7 962.3 L683.8 955.8 L678.7 950.9 L675.2 944.8 L669.8 940.1 L665.5 934.6 L660 930 L662.5 936.8 L666.2 942.7 L668.8 949.4 L673.3 954.7 L676.2 961.2 L681.3 966.1 L684.8 972.2 L690.2 976.9 L694.5 982.4Z" fill="#3c6434"/><path d="M700 987 L660 930" stroke="#8fae88" stroke-width="0.8" opacity="0.7"/><path d="M701.8 981.3 Q713.2 987.6 724.4 994.5 Q710 997.9 698.2 992.7Z" fill="#557a48"/><path d="M701.1 983.6 Q712.8 988.7 724.4 994.5" fill="none" stroke="#9ab896" stroke-width="1" opacity="0.8"/><path d="M706 986.9 Q703.5 999.7 700.4 1012.5 Q692.7 999.9 694 987.1Z" fill="#557a48"/><path d="M703.6 986.9 Q702.3 999.7 700.4 1012.5" fill="none" stroke="#9ab896" stroke-width="1" opacity="0.8"/><path d="M701.9 992.7 Q689 994.3 675.9 995.2 Q685.5 984.1 698.1 981.3Z" fill="#557a48"/><path d="M701.2 990.4 Q688.6 993.2 675.9 995.2" fill="none" stroke="#9ab896" stroke-width="1" opacity="0.8"/><path d="M695.2 990.6 Q689.7 978.8 684.7 966.6 Q698.3 972.3 704.8 983.4Z" fill="#557a48"/><path d="M697.1 989.2 Q690.6 978.1 684.7 966.6" fill="none" stroke="#9ab896" stroke-width="1" opacity="0.8"/><path d="M695.1 983.5 Q704.6 974.6 714.7 966.2 Q713.4 980.9 704.9 990.5Z" fill="#557a48"/><path d="M697.1 984.9 Q705.6 975.3 714.7 966.2" fill="none" stroke="#9ab896" stroke-width="1" opacity="0.8"/><ellipse cx="700" cy="987" rx="20" ry="16" fill="url(#gBudD2)"/><path d="M848 892 C849.5 889.8 873 887.4 875 890 C877 892.6 882.2 943.6 888 945 C893.8 946.4 984.6 917.9 990 917 C995.4 916.1 998.8 924.1 996 927 C993.2 929.9 938.5 970.9 935 975 C931.5 979.1 926.5 1006.8 925 1010 C923.5 1013.2 907.5 1038.2 905 1040 C902.5 1041.8 876.8 1042.2 875 1045 C873.2 1047.8 870.9 1094.4 870 1097 C869.1 1099.6 858.8 1100.3 858 1097 C857.2 1093.7 856.4 1034.3 855 1030 C853.6 1025.7 834.8 1011.9 830 1010 C825.2 1008.1 763.5 994.5 760 992 C756.5 989.5 756.2 961.6 760 960 C763.8 958.4 830.8 961.2 835 960 C839.2 958.8 844.4 938.4 845 935 C845.6 931.6 846.5 894.2 848 892Z" fill="#0f1715"/><path d="M875 955 L878.7 948.6 L879.3 942.3 L882.8 935.8 L881.1 929.6 L884 923.2 L880.7 917 L882 910.6 L878.1 904.5 L877.1 898.2 L873 892 L869.3 898.4 L868.7 904.7 L865.2 911.2 L866.9 917.4 L864 923.8 L867.3 930 L866 936.4 L869.9 942.5 L870.9 948.8Z" fill="#3a6430"/><path d="M875 955 L873 892" stroke="#9ab890" stroke-width="1" opacity="0.7"/><path d="M905 962 L916.1 962 L925.4 958.5 L936.4 958.3 L944.4 952.2 L955 951.2 L962.2 943.4 L972 940.7 L978.8 932.1 L987.3 926.8 L994 918 L982.9 918 L973.6 921.5 L962.6 921.7 L954.6 927.8 L944 928.8 L936.8 936.6 L927 939.3 L920.2 947.9 L911.7 953.2Z" fill="#3a6430"/><path d="M905 962 L994 918" stroke="#9ab890" stroke-width="1.2" opacity="0.7"/><path d="M832 970 L824.3 966.4 L817 966.3 L809.4 963 L802.3 965.5 L794.8 962.8 L787.9 967.1 L780.6 966.2 L773.8 971.1 L766.7 972.8 L760 978 L767.7 981.6 L775 981.7 L782.6 985 L789.7 982.5 L797.2 985.2 L804.1 980.9 L811.4 981.8 L818.2 976.9 L825.3 975.2Z" fill="#3a6430"/><path d="M832 970 L760 978" stroke="#9ab890" stroke-width="1.1" opacity="0.7"/><path d="M864 1020 L860.6 1027.3 L859.9 1034.6 L856.6 1041.9 L857.9 1049.2 L855.2 1056.5 L857.9 1063.8 L856.6 1071.1 L859.9 1078.4 L860.6 1085.7 L864 1093 L867.4 1085.7 L868.1 1078.4 L871.4 1071.1 L870.1 1063.8 L872.8 1056.5 L870.1 1049.2 L871.4 1041.9 L868.1 1034.6 L867.4 1027.3Z" fill="#3a6430"/><path d="M864 1020 L864 1093" stroke="#9ab890" stroke-width="0.8" opacity="0.7"/><path d="M895 1015 L895.3 1019.2 L897.2 1022.1 L897.6 1026.2 L900.5 1028.2 L901.2 1032 L904.9 1033.4 L906.4 1036.6 L910.4 1037.7 L912.9 1040 L917 1041 L916.7 1036.8 L914.8 1033.9 L914.4 1029.8 L911.5 1027.8 L910.8 1024 L907.1 1022.6 L905.6 1019.4 L901.6 1018.3 L899.1 1016Z" fill="#4a7a3a"/><path d="M895 1015 L917 1041" stroke="#b0c8a0" stroke-width="0.8" opacity="0.7"/><path d="M841.8 992.4 Q823.2 1001.4 808 1015 Q819.8 997.2 838.2 987.6Z" fill="#7a9a5a"/><path d="M841.1 991.4 Q822.8 1001 808 1015" fill="none" stroke="#c0d0a0" stroke-width="1" opacity="0.8"/><clipPath id="clip2"><path d="M832 974 C833.1 971.9 847.5 963.2 850 962 C852.5 960.8 863.2 958.3 866 958 C868.8 957.7 885.1 956.8 888 958 C890.9 959.2 903 972.3 905 975 C907 977.7 913.7 992.4 915 995 C916.3 997.6 923 1008.2 922.6 1009.8 C922.2 1011.4 911 1017 909 1016.6 C907 1016.2 897.1 1006.2 895 1005 C892.9 1003.8 881.8 998.9 880 1000 C878.2 1001.1 871.8 1018.5 870 1020 C868.2 1021.5 857.3 1022.1 855 1021 C852.7 1019.9 839.5 1007.3 838 1005 C836.5 1002.7 835.4 992.3 835 990 C834.6 987.7 830.9 976.1 832 974Z"/></clipPath><path d="M832 974 C833.1 971.9 847.5 963.2 850 962 C852.5 960.8 863.2 958.3 866 958 C868.8 957.7 885.1 956.8 888 958 C890.9 959.2 903 972.3 905 975 C907 977.7 913.7 992.4 915 995 C916.3 997.6 923 1008.2 922.6 1009.8 C922.2 1011.4 911 1017 909 1016.6 C907 1016.2 897.1 1006.2 895 1005 C892.9 1003.8 881.8 998.9 880 1000 C878.2 1001.1 871.8 1018.5 870 1020 C868.2 1021.5 857.3 1022.1 855 1021 C852.7 1019.9 839.5 1007.3 838 1005 C836.5 1002.7 835.4 992.3 835 990 C834.6 987.7 830.9 976.1 832 974Z" fill="#cf68c6"/><g clip-path="url(#clip2)"><g filter="url(#bl3)"><ellipse cx="880" cy="975" rx="20" ry="10" fill="#b850b0" opacity="0.6" transform="rotate(0 880 975)"/><ellipse cx="905" cy="1000" rx="10" ry="10" fill="#dc88dc" opacity="0.7" transform="rotate(0 905 1000)"/></g><path d="M833 974 C838.3 975.8 857.2 980.7 865 985 C872.8 989.3 877.5 997.5 880 1000" fill="none" stroke="#e8a0e0" stroke-width="1.4" opacity="0.8" stroke-linecap="round"/></g><clipPath id="clip3"><path d="M836 984 C836.6 982.3 846.1 981.7 848 982 C849.9 982.3 860 986.7 862 988 C864 989.3 873.8 998 875 1000 C876.2 1002 878.7 1013.5 878 1015 C877.3 1016.5 867.1 1020.8 865 1021 C862.9 1021.2 851.8 1019.2 850 1018 C848.2 1016.8 841 1007.5 840 1005 C839 1002.5 835.4 985.7 836 984Z"/></clipPath><path d="M836 984 C836.6 982.3 846.1 981.7 848 982 C849.9 982.3 860 986.7 862 988 C864 989.3 873.8 998 875 1000 C876.2 1002 878.7 1013.5 878 1015 C877.3 1016.5 867.1 1020.8 865 1021 C862.9 1021.2 851.8 1019.2 850 1018 C848.2 1016.8 841 1007.5 840 1005 C839 1002.5 835.4 985.7 836 984Z" fill="#d04c8c"/><g clip-path="url(#clip3)"><g filter="url(#bl2)"><ellipse cx="856" cy="1000" rx="9" ry="8" fill="#8a1838" opacity="0.9" transform="rotate(0 856 1000)"/><ellipse cx="845" cy="990" rx="6" ry="5" fill="#e070a8" opacity="0.8" transform="rotate(0 845 990)"/></g></g>
<g fill="#080b0b" stroke="#080b0b" stroke-linecap="round"><path d="M197 1327 L197 1362" stroke-width="16.4"/><ellipse cx="197" cy="1291.5" rx="21.9" ry="34.5"/><path d="M197 1320.7 L215.5 1217" stroke-width="15"/><path d="M197 1320.7 L167 1277" stroke-width="14"/><path d="M197 1320.7 L226.8 1268" stroke-width="14"/><path d="M197 1320.7 L190 1250" stroke-width="14"/><path d="M197 1320.7 L205 1245" stroke-width="14"/></g><path d="M192.4 1331.9 Q193.6 1344.5 193.8 1362 L200.2 1362 Q200.4 1344.5 201.6 1331.9Z" fill="url(#gStem)"/><path d="M196.9 1317.8 L195.7 1315.1 L194.4 1312.6 L193.1 1310.1 L191.7 1307.6 L190.2 1305.1 L188.8 1302.7 L187.3 1300.3 L185.8 1297.9 L184.4 1295.5 L183.2 1292.8 L183 1289.5 L181.1 1287.3 L180.4 1284.2 L177.3 1283.1 L175.2 1281.1 L171.9 1280.1 L169.6 1278.5 L167.1 1276.9 L166.9 1277.1 L168.4 1279.6 L169.8 1282 L170.3 1285.3 L171.9 1287.6 L172.2 1290.7 L175 1292 L176.4 1294.3 L179.4 1295.5 L181.4 1297.5 L183 1299.7 L184.4 1302 L185.7 1304.4 L187 1306.9 L188.1 1309.4 L189.2 1311.9 L190.3 1314.5 L191.3 1317 L192.3 1319.6Z" fill="#437c34"/><path d="M196.9 1317.8 L195.7 1315.1 L194.4 1312.6 L193.1 1310.1 L191.7 1307.6 L190.2 1305.1 L188.8 1302.7 L187.3 1300.3 L185.8 1297.9 L184.4 1295.5 L183.2 1292.8 L183 1289.5 L181.1 1287.3 L180.4 1284.2 L177.3 1283.1 L175.2 1281.1 L171.9 1280.1 L169.6 1278.5" fill="none" stroke="#a0c098" stroke-width="0.9" opacity="0.75"/><path d="M201.8 1319.4 L202.6 1316.3 L203.5 1313.3 L204.5 1310.2 L205.6 1307.2 L206.7 1304.3 L207.9 1301.3 L209.1 1298.4 L210.5 1295.6 L212.2 1292.8 L214.1 1290.3 L217.2 1288.5 L218.7 1285.7 L221.5 1283.9 L221.8 1280.3 L223.4 1277.6 L223.9 1273.9 L225.4 1271 L226.9 1268.1 L226.7 1267.9 L224.1 1270 L221.6 1272.2 L218.2 1273.8 L216.1 1276.3 L212.8 1278.1 L212.2 1281.6 L210.3 1284.3 L210.1 1288 L208.9 1291.1 L207.6 1294.1 L206.2 1297 L204.7 1299.9 L203.3 1302.8 L201.9 1305.7 L200.6 1308.7 L199.3 1311.8 L198.1 1314.8 L197 1318Z" fill="#437c34"/><path d="M201.8 1319.4 L202.6 1316.3 L203.5 1313.3 L204.5 1310.2 L205.6 1307.2 L206.7 1304.3 L207.9 1301.3 L209.1 1298.4 L210.5 1295.6 L212.2 1292.8 L214.1 1290.3 L217.2 1288.5 L218.7 1285.7 L221.5 1283.9 L221.8 1280.3 L223.4 1277.6 L223.9 1273.9 L225.4 1271" fill="none" stroke="#a0c098" stroke-width="0.9" opacity="0.75"/><path d="M197 1321 C178.2 1315.1 188.6 1273.8 197 1262 C205.4 1273.8 215.8 1315.1 197 1321Z" fill="url(#gBudG2)"/><path d="M183.5 1303 Q182.8 1322.7 197 1324.7 Q211.2 1322.7 210.5 1303 Q197 1312.7 183.5 1303Z" fill="url(#gCup)"/><path d="M188 1319.3 C185.5 1328.4 192 1333.3 192.6 1337.5 L201.4 1337.5 C202 1333.3 208.5 1328.4 206 1319.3 Q197 1317.6 188 1319.3Z" fill="url(#gHip)"/><path d="M201.4 1321.5 L202.7 1315.7 L204 1310 L205.2 1304.2 L206.4 1298.5 L207.5 1292.7 L208.5 1286.9 L209.5 1281.1 L210.5 1275.4 L211.7 1269.6 L213.3 1263.9 L216.2 1258.4 L216.7 1252.5 L219.1 1246.9 L217.7 1240.8 L217.9 1234.9 L216.3 1228.8 L216.1 1222.9 L215.7 1217 L215.3 1217 L214.1 1222.8 L212.9 1228.5 L210.3 1234.2 L209.3 1239.9 L206.6 1245.4 L207.6 1251.4 L206.5 1257.1 L207.7 1263.1 L207.4 1268.9 L206.7 1274.7 L205.6 1280.4 L204.4 1286.1 L203.1 1291.8 L201.7 1297.4 L200.3 1303.1 L198.8 1308.7 L197.2 1314.3 L195.6 1319.9Z" fill="#52903e"/><path d="M201.4 1321.5 L202.7 1315.7 L204 1310 L205.2 1304.2 L206.4 1298.5 L207.5 1292.7 L208.5 1286.9 L209.5 1281.1 L210.5 1275.4 L211.7 1269.6 L213.3 1263.9 L216.2 1258.4 L216.7 1252.5 L219.1 1246.9 L217.7 1240.8 L217.9 1234.9 L216.3 1228.8 L216.1 1222.9" fill="none" stroke="#b4d0aa" stroke-width="0.9" opacity="0.75"/><path d="M198.9 1320.5 L198.4 1316.6 L198 1312.6 L197.5 1308.7 L197 1304.8 L196.5 1300.9 L196 1297 L195.6 1293.1 L195.2 1289.1 L195 1285.2 L195.2 1281.2 L196.5 1277.1 L196 1273.2 L197 1269.2 L194.9 1265.4 L194.3 1261.5 L192.1 1257.7 L191.2 1253.9 L190.2 1250 L189.8 1250 L189.5 1254 L189.3 1258 L187.9 1262.1 L187.9 1266 L186.6 1270.1 L188.3 1273.9 L188.5 1277.9 L190.5 1281.6 L191.4 1285.5 L191.9 1289.4 L192.3 1293.4 L192.6 1297.3 L192.8 1301.2 L193 1305.2 L193.3 1309.1 L193.5 1313 L193.7 1317 L194 1320.9Z" fill="#52903e"/><path d="M198.9 1320.5 L198.4 1316.6 L198 1312.6 L197.5 1308.7 L197 1304.8 L196.5 1300.9 L196 1297 L195.6 1293.1 L195.2 1289.1 L195 1285.2 L195.2 1281.2 L196.5 1277.1 L196 1273.2 L197 1269.2 L194.9 1265.4 L194.3 1261.5 L192.1 1257.7 L191.2 1253.9" fill="none" stroke="#b4d0aa" stroke-width="0.9" opacity="0.75"/><path d="M200.1 1320.9 L200.4 1316.7 L200.7 1312.5 L201 1308.3 L201.3 1304.1 L201.5 1299.9 L201.8 1295.6 L202.1 1291.4 L202.4 1287.2 L202.7 1283 L202.9 1278.8 L203.2 1274.5 L203.5 1270.3 L203.7 1266.1 L204 1261.9 L204.3 1257.7 L204.5 1253.4 L204.8 1249.2 L205 1245 L205 1245 L204.4 1249.2 L203.8 1253.4 L203.3 1257.6 L202.7 1261.8 L202.2 1266 L201.6 1270.1 L201.1 1274.3 L200.5 1278.5 L200 1282.7 L199.4 1286.9 L198.9 1291.1 L198.4 1295.3 L197.8 1299.5 L197.3 1303.7 L196.8 1307.9 L196.2 1312.1 L195.7 1316.3 L195.2 1320.5Z" fill="#52903e"/><path d="M200.1 1320.9 L200.4 1316.7 L200.7 1312.5 L201 1308.3 L201.3 1304.1 L201.5 1299.9 L201.8 1295.6 L202.1 1291.4 L202.4 1287.2 L202.7 1283 L202.9 1278.8 L203.2 1274.5 L203.5 1270.3 L203.7 1266.1 L204 1261.9 L204.3 1257.7 L204.5 1253.4 L204.8 1249.2" fill="none" stroke="#b4d0aa" stroke-width="0.9" opacity="0.75"/><g fill="#080b0b" stroke="#080b0b" stroke-linecap="round"><path d="M272 1329 L272 1368" stroke-width="16.4"/><ellipse cx="272" cy="1292.5" rx="23.2" ry="35.5"/><path d="M272 1322.2 L262 1213" stroke-width="15"/><path d="M272 1322.2 L241 1262" stroke-width="14"/><path d="M272 1322.2 L308 1262" stroke-width="14"/><path d="M272 1322.2 L285 1225" stroke-width="14"/><path d="M272 1322.2 L268 1240" stroke-width="14"/></g><path d="M267.4 1334.2 Q268.6 1348.5 268.9 1368 L275.1 1368 Q275.4 1348.5 276.6 1334.2Z" fill="url(#gStem)"/><path d="M271.9 1319.6 L270.8 1316.1 L269.6 1312.5 L268.4 1309.1 L267.1 1305.6 L265.7 1302.3 L264.2 1298.9 L262.7 1295.6 L261.2 1292.3 L259.8 1288.9 L258.6 1285.4 L258.4 1281.4 L256.4 1278.2 L255.8 1274.3 L252.3 1272.1 L250 1269.1 L246.5 1267.1 L243.9 1264.4 L241.1 1261.9 L240.9 1262.1 L242.5 1265.4 L244.2 1268.7 L244.7 1272.7 L246.4 1275.8 L246.8 1279.8 L249.8 1282.1 L251.3 1285.2 L254.5 1287.6 L256.5 1290.5 L258.2 1293.6 L259.7 1296.9 L261 1300.2 L262.2 1303.6 L263.3 1307 L264.4 1310.4 L265.4 1313.9 L266.3 1317.4 L267.1 1320.9Z" fill="#437c34"/><path d="M271.9 1319.6 L270.8 1316.1 L269.6 1312.5 L268.4 1309.1 L267.1 1305.6 L265.7 1302.3 L264.2 1298.9 L262.7 1295.6 L261.2 1292.3 L259.8 1288.9 L258.6 1285.4 L258.4 1281.4 L256.4 1278.2 L255.8 1274.3 L252.3 1272.1 L250 1269.1 L246.5 1267.1 L243.9 1264.4" fill="none" stroke="#a0c098" stroke-width="0.9" opacity="0.75"/><path d="M277.3 1321 L278.3 1317.5 L279.5 1313.9 L280.7 1310.4 L282.1 1306.9 L283.4 1303.5 L284.9 1300.1 L286.5 1296.8 L288.2 1293.5 L290.1 1290.4 L292.4 1287.5 L295.8 1285.2 L297.6 1282.1 L300.8 1279.8 L301.5 1275.9 L303.4 1272.7 L304.3 1268.7 L306.2 1265.4 L308.1 1262.1 L307.9 1261.9 L304.9 1264.4 L302.1 1266.9 L298.3 1268.8 L295.8 1271.7 L292.1 1273.9 L291.2 1277.8 L288.9 1280.9 L288.4 1285.1 L286.9 1288.6 L285.3 1291.9 L283.5 1295.3 L281.8 1298.6 L280 1302 L278.4 1305.4 L276.8 1308.8 L275.3 1312.3 L273.9 1315.9 L272.5 1319.5Z" fill="#437c34"/><path d="M277.3 1321 L278.3 1317.5 L279.5 1313.9 L280.7 1310.4 L282.1 1306.9 L283.4 1303.5 L284.9 1300.1 L286.5 1296.8 L288.2 1293.5 L290.1 1290.4 L292.4 1287.5 L295.8 1285.2 L297.6 1282.1 L300.8 1279.8 L301.5 1275.9 L303.4 1272.7 L304.3 1268.7 L306.2 1265.4" fill="none" stroke="#a0c098" stroke-width="0.9" opacity="0.75"/><path d="M272 1323 C251.7 1316.9 262.9 1274.2 272 1262 C281.1 1274.2 292.3 1316.9 272 1323Z" fill="url(#gBudG2)"/><path d="M257.3 1304 Q256.6 1324.2 272 1326.2 Q287.4 1324.2 286.7 1304 Q272 1314 257.3 1304Z" fill="url(#gCup)"/><path d="M262.1 1320.8 C259.4 1330.5 267 1335.8 267.6 1340.2 L276.4 1340.2 C277 1335.8 284.6 1330.5 281.9 1320.8 Q272 1319 262.1 1320.8Z" fill="url(#gHip)"/><path d="M274.2 1322.3 L274.1 1316.1 L274 1310 L273.7 1303.9 L273.4 1297.7 L273.1 1291.6 L272.7 1285.5 L272.2 1279.4 L271.8 1273.3 L271.5 1267.2 L271.6 1261.1 L273 1254.8 L272.1 1248.7 L273 1242.4 L270.1 1236.5 L268.9 1230.5 L265.8 1224.8 L264.1 1218.8 L262.2 1213 L261.8 1213 L262.1 1219.2 L262.4 1225.3 L261.2 1231.7 L261.8 1237.7 L260.5 1244 L262.9 1249.8 L263.3 1255.8 L266 1261.6 L267.1 1267.6 L267.8 1273.6 L268.2 1279.7 L268.5 1285.7 L268.6 1291.8 L268.7 1297.9 L268.6 1304 L268.6 1310 L268.4 1316.1 L268.2 1322.2Z" fill="#52903e"/><path d="M274.2 1322.3 L274.1 1316.1 L274 1310 L273.7 1303.9 L273.4 1297.7 L273.1 1291.6 L272.7 1285.5 L272.2 1279.4 L271.8 1273.3 L271.5 1267.2 L271.6 1261.1 L273 1254.8 L272.1 1248.7 L273 1242.4 L270.1 1236.5 L268.9 1230.5 L265.8 1224.8 L264.1 1218.8" fill="none" stroke="#b4d0aa" stroke-width="0.9" opacity="0.75"/><path d="M275.5 1322.6 L276.1 1317.1 L276.6 1311.7 L277.1 1306.3 L277.7 1300.9 L278.2 1295.5 L278.8 1290 L279.3 1284.6 L280 1279.2 L280.8 1273.8 L282 1268.5 L284.4 1263.3 L284.8 1257.9 L286.9 1252.7 L285.8 1247 L286.2 1241.6 L285.1 1236 L285.2 1230.5 L285.2 1225 L284.8 1225 L283.5 1230.3 L282.3 1235.6 L279.8 1240.8 L278.9 1246.2 L276.5 1251.4 L277.2 1256.9 L276.3 1262.3 L277.4 1267.9 L277.2 1273.4 L276.7 1278.8 L276.1 1284.2 L275.3 1289.6 L274.5 1295 L273.7 1300.4 L272.9 1305.8 L272.1 1311.2 L271.3 1316.6 L270.6 1321.9Z" fill="#52903e"/><path d="M275.5 1322.6 L276.1 1317.1 L276.6 1311.7 L277.1 1306.3 L277.7 1300.9 L278.2 1295.5 L278.8 1290 L279.3 1284.6 L280 1279.2 L280.8 1273.8 L282 1268.5 L284.4 1263.3 L284.8 1257.9 L286.9 1252.7 L285.8 1247 L286.2 1241.6 L285.1 1236 L285.2 1230.5" fill="none" stroke="#b4d0aa" stroke-width="0.9" opacity="0.75"/><path d="M274.2 1322.1 L273.8 1317.6 L273.5 1313 L273.2 1308.4 L272.9 1303.9 L272.5 1299.3 L272.2 1294.8 L271.9 1290.2 L271.5 1285.6 L271.2 1281.1 L270.8 1276.5 L270.5 1271.9 L270.2 1267.4 L269.8 1262.8 L269.5 1258.2 L269.1 1253.7 L268.8 1249.1 L268.4 1244.6 L268 1240 L268 1240 L268 1244.6 L268.1 1249.2 L268.1 1253.7 L268.2 1258.3 L268.2 1262.9 L268.3 1267.5 L268.4 1272 L268.4 1276.6 L268.5 1281.2 L268.6 1285.8 L268.6 1290.3 L268.7 1294.9 L268.8 1299.5 L268.9 1304.1 L268.9 1308.6 L269 1313.2 L269.1 1317.8 L269.2 1322.4Z" fill="#52903e"/><path d="M274.2 1322.1 L273.8 1317.6 L273.5 1313 L273.2 1308.4 L272.9 1303.9 L272.5 1299.3 L272.2 1294.8 L271.9 1290.2 L271.5 1285.6 L271.2 1281.1 L270.8 1276.5 L270.5 1271.9 L270.2 1267.4 L269.8 1262.8 L269.5 1258.2 L269.1 1253.7 L268.8 1249.1 L268.4 1244.6" fill="none" stroke="#b4d0aa" stroke-width="0.9" opacity="0.75"/><g fill="#080b0b" stroke="#080b0b" stroke-linecap="round"><path d="M353 1331 L353 1362" stroke-width="16.4"/><ellipse cx="353" cy="1293" rx="23.2" ry="36"/><path d="M353 1323.3 L345 1221" stroke-width="15"/><path d="M353 1323.3 L323 1280" stroke-width="14"/><path d="M353 1323.3 L393 1280" stroke-width="14"/><path d="M353 1323.3 L368 1232" stroke-width="14"/><path d="M353 1323.3 L358 1262" stroke-width="15"/></g><path d="M348.4 1337 Q349.6 1346.5 349.9 1362 L356.1 1362 Q356.4 1346.5 357.6 1337Z" fill="url(#gStem)"/><path d="M352.9 1320.4 L351.7 1317.8 L350.4 1315.3 L349.1 1312.8 L347.7 1310.3 L346.2 1307.9 L344.8 1305.5 L343.2 1303.1 L341.8 1300.7 L340.4 1298.3 L339.2 1295.7 L339 1292.4 L337.1 1290.2 L336.4 1287.1 L333.2 1286 L331.2 1284 L327.9 1283.1 L325.6 1281.4 L323.1 1279.9 L322.9 1280.1 L324.4 1282.6 L325.8 1285 L326.3 1288.2 L327.9 1290.5 L328.2 1293.7 L331 1294.9 L332.4 1297.2 L335.4 1298.4 L337.3 1300.3 L339 1302.5 L340.4 1304.8 L341.7 1307.2 L343 1309.7 L344.1 1312.1 L345.2 1314.6 L346.3 1317.2 L347.3 1319.7 L348.3 1322.3Z" fill="#437c34"/><path d="M352.9 1320.4 L351.7 1317.8 L350.4 1315.3 L349.1 1312.8 L347.7 1310.3 L346.2 1307.9 L344.8 1305.5 L343.2 1303.1 L341.8 1300.7 L340.4 1298.3 L339.2 1295.7 L339 1292.4 L337.1 1290.2 L336.4 1287.1 L333.2 1286 L331.2 1284 L327.9 1283.1 L325.6 1281.4" fill="none" stroke="#a0c098" stroke-width="0.9" opacity="0.75"/><path d="M358.4 1322.6 L359.8 1319.9 L361.4 1317.2 L362.9 1314.6 L364.6 1312 L366.3 1309.5 L368 1307 L369.8 1304.6 L371.8 1302.2 L373.9 1300.1 L376.3 1298.2 L379.6 1297.2 L381.6 1294.9 L384.7 1293.8 L385.7 1290.5 L387.8 1288.3 L389 1285 L391 1282.6 L393.1 1280.1 L392.9 1279.9 L390 1281.3 L387.2 1282.8 L383.6 1283.4 L381.1 1285.3 L377.5 1286.2 L376.2 1289.4 L373.8 1291.5 L372.9 1295 L371.2 1297.6 L369.3 1300.1 L367.3 1302.5 L365.3 1304.9 L363.3 1307.3 L361.3 1309.7 L359.4 1312.2 L357.6 1314.8 L355.8 1317.4 L354 1320.1Z" fill="#437c34"/><path d="M358.4 1322.6 L359.8 1319.9 L361.4 1317.2 L362.9 1314.6 L364.6 1312 L366.3 1309.5 L368 1307 L369.8 1304.6 L371.8 1302.2 L373.9 1300.1 L376.3 1298.2 L379.6 1297.2 L381.6 1294.9 L384.7 1293.8 L385.7 1290.5 L387.8 1288.3 L389 1285 L391 1282.6" fill="none" stroke="#a0c098" stroke-width="0.9" opacity="0.75"/><path d="M353 1324 C332.7 1317.8 343.9 1274.4 353 1262 C362.1 1274.4 373.3 1317.8 353 1324Z" fill="url(#gBudG2)"/><path d="M353 1312 C344.6 1305.4 348.8 1274.6 353 1268 C357.2 1274.6 361.4 1305.4 353 1312Z" fill="url(#gBudD)"/><path d="M338.3 1304.8 Q337.6 1325.3 353 1327.3 Q368.4 1325.3 367.7 1304.8 Q353 1315 338.3 1304.8Z" fill="url(#gCup)"/><path d="M343.1 1321.7 C340.4 1332.7 348 1338.7 348.6 1343.8 L357.4 1343.8 C358 1338.7 365.6 1332.7 362.9 1321.7 Q353 1319.6 343.1 1321.7Z" fill="url(#gHip)"/><path d="M355.4 1323.4 L355.3 1317.7 L355.3 1311.9 L355.1 1306.2 L354.9 1300.4 L354.6 1294.7 L354.3 1289 L353.9 1283.3 L353.6 1277.6 L353.4 1271.8 L353.6 1266.1 L355.1 1260.2 L354.3 1254.5 L355.4 1248.6 L352.6 1243.1 L351.5 1237.4 L348.5 1232 L346.9 1226.5 L345.2 1221 L344.8 1221 L345 1226.8 L345.2 1232.6 L343.8 1238.5 L344.2 1244.2 L342.8 1250 L345.1 1255.4 L345.5 1261.1 L348 1266.5 L349 1272.1 L349.7 1277.8 L350 1283.5 L350.1 1289.2 L350.1 1294.8 L350.1 1300.5 L350 1306.2 L349.9 1311.9 L349.6 1317.6 L349.4 1323.3Z" fill="#52903e"/><path d="M355.4 1323.4 L355.3 1317.7 L355.3 1311.9 L355.1 1306.2 L354.9 1300.4 L354.6 1294.7 L354.3 1289 L353.9 1283.3 L353.6 1277.6 L353.4 1271.8 L353.6 1266.1 L355.1 1260.2 L354.3 1254.5 L355.4 1248.6 L352.6 1243.1 L351.5 1237.4 L348.5 1232 L346.9 1226.5" fill="none" stroke="#b4d0aa" stroke-width="0.9" opacity="0.75"/><path d="M356.7 1323.7 L357.3 1318.6 L358 1313.5 L358.6 1308.4 L359.2 1303.3 L359.9 1298.3 L360.5 1293.2 L361.2 1288.1 L362 1283 L362.9 1277.9 L364.2 1272.9 L366.6 1268.1 L367.2 1263 L369.4 1258.2 L368.4 1252.8 L368.9 1247.7 L367.9 1242.4 L368.1 1237.2 L368.2 1232 L367.8 1232 L366.4 1237 L365.1 1241.9 L362.5 1246.7 L361.5 1251.8 L359 1256.6 L359.6 1261.9 L358.6 1266.9 L359.6 1272.3 L359.3 1277.4 L358.7 1282.5 L357.9 1287.6 L357.1 1292.6 L356.2 1297.7 L355.3 1302.8 L354.4 1307.8 L353.5 1312.9 L352.6 1317.9 L351.7 1323Z" fill="#52903e"/><path d="M356.7 1323.7 L357.3 1318.6 L358 1313.5 L358.6 1308.4 L359.2 1303.3 L359.9 1298.3 L360.5 1293.2 L361.2 1288.1 L362 1283 L362.9 1277.9 L364.2 1272.9 L366.6 1268.1 L367.2 1263 L369.4 1258.2 L368.4 1252.8 L368.9 1247.7 L367.9 1242.4 L368.1 1237.2" fill="none" stroke="#b4d0aa" stroke-width="0.9" opacity="0.75"/><path d="M356.4 1323.6 L356.5 1320.2 L356.6 1316.7 L356.7 1313.3 L356.8 1309.9 L356.9 1306.5 L357 1303.1 L357.1 1299.6 L357.2 1296.2 L357.3 1292.8 L357.4 1289.4 L357.5 1286 L357.6 1282.5 L357.7 1279.1 L357.8 1275.7 L357.8 1272.3 L357.9 1268.8 L358 1265.4 L358 1262 L358 1262 L357.5 1265.4 L357.1 1268.8 L356.6 1272.2 L356.2 1275.6 L355.8 1279 L355.4 1282.4 L354.9 1285.8 L354.5 1289.2 L354.1 1292.6 L353.7 1296 L353.3 1299.3 L352.9 1302.7 L352.4 1306.1 L352 1309.5 L351.6 1312.9 L351.2 1316.3 L350.8 1319.7 L350.4 1323.1Z" fill="#52903e"/><path d="M356.4 1323.6 L356.5 1320.2 L356.6 1316.7 L356.7 1313.3 L356.8 1309.9 L356.9 1306.5 L357 1303.1 L357.1 1299.6 L357.2 1296.2 L357.3 1292.8 L357.4 1289.4 L357.5 1286 L357.6 1282.5 L357.7 1279.1 L357.8 1275.7 L357.8 1272.3 L357.9 1268.8 L358 1265.4" fill="none" stroke="#b4d0aa" stroke-width="0.9" opacity="0.75"/><g fill="#080b0b" stroke="#080b0b" stroke-linecap="round"><path d="M448 1322 L448 1361" stroke-width="16.4"/><ellipse cx="448" cy="1283" rx="24.5" ry="38"/><path d="M448 1314.3 L445 1215" stroke-width="15"/><path d="M448 1314.3 L423 1275" stroke-width="14"/><path d="M448 1314.3 L493 1278" stroke-width="14"/><path d="M448 1314.3 L470 1228" stroke-width="14"/><path d="M448 1314.3 L454 1265" stroke-width="15"/></g><path d="M443.4 1328 Q444.6 1341.5 444.9 1361 L451.1 1361 Q451.4 1341.5 452.6 1328Z" fill="url(#gStem)"/><path d="M448.3 1311.5 L447.3 1309.2 L446.3 1306.9 L445.1 1304.6 L444 1302.4 L442.8 1300.2 L441.5 1298.1 L440.3 1295.9 L439 1293.8 L437.9 1291.6 L437 1289.2 L437.1 1286.2 L435.5 1284.2 L435.1 1281.3 L432.2 1280.4 L430.4 1278.6 L427.4 1277.8 L425.3 1276.3 L423.1 1274.9 L422.9 1275.1 L424 1277.4 L425.2 1279.6 L425.4 1282.6 L426.6 1284.7 L426.7 1287.6 L429.2 1288.7 L430.4 1290.7 L433.1 1291.7 L434.8 1293.5 L436.2 1295.4 L437.4 1297.5 L438.4 1299.7 L439.4 1301.9 L440.4 1304.1 L441.3 1306.4 L442.1 1308.6 L442.9 1310.9 L443.7 1313.2Z" fill="#437c34"/><path d="M448.3 1311.5 L447.3 1309.2 L446.3 1306.9 L445.1 1304.6 L444 1302.4 L442.8 1300.2 L441.5 1298.1 L440.3 1295.9 L439 1293.8 L437.9 1291.6 L437 1289.2 L437.1 1286.2 L435.5 1284.2 L435.1 1281.3 L432.2 1280.4 L430.4 1278.6 L427.4 1277.8 L425.3 1276.3" fill="none" stroke="#a0c098" stroke-width="0.9" opacity="0.75"/><path d="M453.5 1313.9 L455.4 1311.5 L457.2 1309.2 L459.1 1306.9 L461 1304.7 L463 1302.5 L465.1 1300.3 L467.2 1298.2 L469.4 1296.3 L471.8 1294.5 L474.4 1293.1 L477.7 1292.6 L479.9 1290.7 L483.1 1290.2 L484.5 1287.1 L486.8 1285.3 L488.4 1282.2 L490.8 1280.2 L493.1 1278.1 L492.9 1277.9 L489.9 1278.8 L487 1279.8 L483.4 1279.9 L480.7 1281.3 L477.1 1281.6 L475.4 1284.5 L472.8 1286.2 L471.5 1289.4 L469.4 1291.7 L467.2 1293.8 L465 1295.8 L462.7 1297.8 L460.4 1299.8 L458.2 1301.9 L456 1304 L453.8 1306.2 L451.7 1308.5 L449.7 1310.8Z" fill="#437c34"/><path d="M453.5 1313.9 L455.4 1311.5 L457.2 1309.2 L459.1 1306.9 L461 1304.7 L463 1302.5 L465.1 1300.3 L467.2 1298.2 L469.4 1296.3 L471.8 1294.5 L474.4 1293.1 L477.7 1292.6 L479.9 1290.7 L483.1 1290.2 L484.5 1287.1 L486.8 1285.3 L488.4 1282.2 L490.8 1280.2" fill="none" stroke="#a0c098" stroke-width="0.9" opacity="0.75"/><path d="M448 1316 C426.2 1309.4 438.2 1263.2 448 1250 C457.8 1263.2 469.8 1309.4 448 1316Z" fill="url(#gBudG2)"/><path d="M448 1302 C438.2 1295.4 443.1 1264.6 448 1258 C452.9 1264.6 457.8 1295.4 448 1302Z" fill="url(#gBudD)"/><path d="M433.1 1294.5 Q432.4 1316.3 448 1318.3 Q463.6 1316.3 462.9 1294.5 Q448 1305.4 433.1 1294.5Z" fill="url(#gCup)"/><path d="M438.1 1312.7 C435.4 1323.7 443 1329.7 443.6 1334.8 L452.4 1334.8 C453 1329.7 460.6 1323.7 457.9 1312.7 Q448 1310.6 438.1 1312.7Z" fill="url(#gHip)"/><path d="M450.8 1314.6 L451 1309 L451.1 1303.4 L451.2 1297.9 L451.3 1292.3 L451.2 1286.7 L451.1 1281.2 L451 1275.6 L451 1270.1 L451.1 1264.5 L451.5 1259 L453.3 1253.3 L452.7 1247.8 L454 1242.1 L451.5 1236.7 L450.7 1231.2 L448 1225.8 L446.7 1220.4 L445.2 1215 L444.8 1215 L444.7 1220.6 L444.6 1226.2 L443 1231.9 L443.1 1237.4 L441.5 1243 L443.5 1248.3 L443.6 1253.8 L445.9 1259.2 L446.7 1264.7 L447 1270.2 L447.1 1275.7 L447 1281.2 L446.7 1286.7 L446.5 1292.2 L446.1 1297.7 L445.7 1303.1 L445.3 1308.6 L444.8 1314.1Z" fill="#52903e"/><path d="M450.8 1314.6 L451 1309 L451.1 1303.4 L451.2 1297.9 L451.3 1292.3 L451.2 1286.7 L451.1 1281.2 L451 1275.6 L451 1270.1 L451.1 1264.5 L451.5 1259 L453.3 1253.3 L452.7 1247.8 L454 1242.1 L451.5 1236.7 L450.7 1231.2 L448 1225.8 L446.7 1220.4" fill="none" stroke="#b4d0aa" stroke-width="0.9" opacity="0.75"/><path d="M452.2 1314.9 L453.2 1310.1 L454.2 1305.3 L455.2 1300.4 L456.2 1295.6 L457.2 1290.8 L458.2 1286 L459.2 1281.1 L460.4 1276.3 L461.7 1271.6 L463.3 1266.9 L466.1 1262.5 L467 1257.7 L469.5 1253.2 L468.9 1248 L469.7 1243.1 L469.1 1237.9 L469.7 1233 L470.1 1228 L469.9 1228 L468.1 1232.6 L466.4 1237.3 L463.5 1241.7 L462.1 1246.4 L459.3 1250.8 L459.5 1255.9 L458.2 1260.7 L458.7 1265.8 L458.1 1270.8 L457.2 1275.6 L456 1280.4 L454.8 1285.2 L453.6 1289.9 L452.3 1294.7 L451.1 1299.5 L449.8 1304.2 L448.6 1309 L447.3 1313.8Z" fill="#52903e"/><path d="M452.2 1314.9 L453.2 1310.1 L454.2 1305.3 L455.2 1300.4 L456.2 1295.6 L457.2 1290.8 L458.2 1286 L459.2 1281.1 L460.4 1276.3 L461.7 1271.6 L463.3 1266.9 L466.1 1262.5 L467 1257.7 L469.5 1253.2 L468.9 1248 L469.7 1243.1 L469.1 1237.9 L469.7 1233" fill="none" stroke="#b4d0aa" stroke-width="0.9" opacity="0.75"/><path d="M451.5 1314.7 L451.6 1311.9 L451.8 1309.2 L451.9 1306.4 L452.1 1303.6 L452.2 1300.9 L452.4 1298.1 L452.5 1295.4 L452.7 1292.6 L452.8 1289.9 L453 1287.1 L453.1 1284.3 L453.3 1281.6 L453.4 1278.8 L453.5 1276.1 L453.7 1273.3 L453.8 1270.5 L453.9 1267.8 L454 1265 L454 1265 L453.5 1267.7 L453 1270.4 L452.5 1273.2 L452 1275.9 L451.5 1278.6 L451.1 1281.3 L450.6 1284 L450.1 1286.8 L449.6 1289.5 L449.2 1292.2 L448.7 1294.9 L448.3 1297.7 L447.8 1300.4 L447.3 1303.1 L446.9 1305.8 L446.4 1308.6 L446 1311.3 L445.5 1314Z" fill="#52903e"/><path d="M451.5 1314.7 L451.6 1311.9 L451.8 1309.2 L451.9 1306.4 L452.1 1303.6 L452.2 1300.9 L452.4 1298.1 L452.5 1295.4 L452.7 1292.6 L452.8 1289.9 L453 1287.1 L453.1 1284.3 L453.3 1281.6 L453.4 1278.8 L453.5 1276.1 L453.7 1273.3 L453.8 1270.5 L453.9 1267.8" fill="none" stroke="#b4d0aa" stroke-width="0.9" opacity="0.75"/><g fill="#080b0b" stroke="#080b0b" stroke-linecap="round"><path d="M576 1321 L576 1366" stroke-width="16.4"/><ellipse cx="576" cy="1276.5" rx="27.1" ry="43.5"/><path d="M576 1314.2 L585 1208" stroke-width="15"/><path d="M576 1314.2 L540 1280" stroke-width="14"/><path d="M576 1314.2 L631 1240" stroke-width="14"/><path d="M576 1314.2 L611 1294" stroke-width="14"/><path d="M576 1314.2 L582 1265" stroke-width="16"/></g><path d="M571.4 1326.2 Q572.6 1343.5 572.9 1366 L579.1 1366 Q579.4 1343.5 580.6 1326.2Z" fill="url(#gStem)"/><path d="M575.2 1310.8 L573.5 1308.7 L571.9 1306.7 L570.2 1304.6 L568.4 1302.7 L566.6 1300.7 L564.8 1298.9 L563 1297 L561.2 1295.1 L559.4 1293.2 L557.9 1291 L557.1 1287.9 L555 1286.4 L553.8 1283.6 L550.6 1283.3 L548.3 1281.9 L545.1 1281.8 L542.6 1280.8 L540.1 1279.9 L539.9 1280.1 L541.7 1282.1 L543.5 1284.1 L544.5 1287 L546.3 1288.8 L547.2 1291.7 L550 1292.2 L551.7 1294 L554.7 1294.4 L556.9 1295.8 L558.8 1297.4 L560.6 1299.3 L562.2 1301.2 L563.8 1303.2 L565.3 1305.2 L566.8 1307.3 L568.3 1309.4 L569.7 1311.5 L571.1 1313.7Z" fill="#437c34"/><path d="M575.2 1310.8 L573.5 1308.7 L571.9 1306.7 L570.2 1304.6 L568.4 1302.7 L566.6 1300.7 L564.8 1298.9 L563 1297 L561.2 1295.1 L559.4 1293.2 L557.9 1291 L557.1 1287.9 L555 1286.4 L553.8 1283.6 L550.6 1283.3 L548.3 1281.9 L545.1 1281.8 L542.6 1280.8" fill="none" stroke="#a0c098" stroke-width="0.9" opacity="0.75"/><path d="M582.8 1313 L584.3 1308.3 L586 1303.6 L587.8 1299 L589.7 1294.4 L591.8 1290 L594 1285.6 L596.3 1281.4 L598.9 1277.3 L601.8 1273.4 L605 1269.8 L609.3 1267 L612.2 1263.2 L616.5 1260.6 L618.5 1255.9 L621.8 1252.3 L624.2 1247.6 L627.6 1243.9 L631.1 1240.1 L630.9 1239.9 L626.5 1242.6 L622.3 1245.5 L617.3 1247.6 L613.5 1251 L608.7 1253.5 L606.4 1258.2 L603 1262 L601.3 1267 L598.8 1271.3 L596.2 1275.5 L593.5 1279.7 L590.9 1283.9 L588.4 1288.3 L586.1 1292.7 L583.9 1297.2 L581.8 1301.9 L579.8 1306.6 L578 1311.5Z" fill="#437c34"/><path d="M582.8 1313 L584.3 1308.3 L586 1303.6 L587.8 1299 L589.7 1294.4 L591.8 1290 L594 1285.6 L596.3 1281.4 L598.9 1277.3 L601.8 1273.4 L605 1269.8 L609.3 1267 L612.2 1263.2 L616.5 1260.6 L618.5 1255.9 L621.8 1252.3 L624.2 1247.6 L627.6 1243.9" fill="none" stroke="#a0c098" stroke-width="0.9" opacity="0.75"/><path d="M580 1314.4 L581.8 1313.3 L583.5 1312.2 L585.2 1311.1 L586.9 1309.9 L588.7 1308.8 L590.4 1307.7 L592.1 1306.6 L593.9 1305.6 L595.8 1304.7 L597.8 1304.1 L600.5 1304.6 L602.2 1303.4 L604.6 1303.6 L605.6 1301.1 L607.2 1299.8 L608.1 1297.3 L609.6 1295.7 L611.1 1294.1 L610.9 1293.9 L608.8 1294.3 L606.7 1294.8 L604.1 1294.3 L602.1 1295 L599.5 1294.5 L598.4 1296.7 L596.5 1297.6 L595.5 1300.1 L594 1301.5 L592.3 1302.7 L590.5 1303.7 L588.7 1304.6 L586.8 1305.6 L585 1306.5 L583.1 1307.4 L581.3 1308.3 L579.4 1309.2 L577.6 1310.1Z" fill="#437c34"/><path d="M580 1314.4 L581.8 1313.3 L583.5 1312.2 L585.2 1311.1 L586.9 1309.9 L588.7 1308.8 L590.4 1307.7 L592.1 1306.6 L593.9 1305.6 L595.8 1304.7 L597.8 1304.1 L600.5 1304.6 L602.2 1303.4 L604.6 1303.6 L605.6 1301.1 L607.2 1299.8 L608.1 1297.3 L609.6 1295.7" fill="none" stroke="#a0c098" stroke-width="0.9" opacity="0.75"/><path d="M576 1315 C551.4 1307.3 565 1253.4 576 1238 C587 1253.4 600.6 1307.3 576 1315Z" fill="url(#gBudG2)"/><path d="M576 1305 C562 1296 569 1254 576 1245 C583 1254 590 1296 576 1305Z" fill="url(#gBudD)"/><path d="M559.8 1291.2 Q559 1316.2 576 1318.2 Q593 1316.2 592.2 1291.2 Q576 1303.9 559.8 1291.2Z" fill="url(#gCup)"/><path d="M565.2 1312.8 C562.2 1322.5 571 1327.8 571.6 1332.2 L580.4 1332.2 C581 1327.8 589.8 1322.5 586.8 1312.8 Q576 1311 565.2 1312.8Z" fill="url(#gHip)"/><path d="M579.7 1314.8 L580.5 1308.9 L581.4 1302.9 L582.1 1297 L582.8 1291.1 L583.4 1285.2 L583.9 1279.2 L584.4 1273.3 L585 1267.4 L585.7 1261.5 L586.7 1255.6 L589.2 1249.8 L589.2 1243.8 L591.1 1237.9 L589.2 1231.8 L588.9 1225.9 L586.8 1219.9 L586.1 1213.9 L585.2 1208 L584.8 1208 L584.1 1214 L583.4 1219.9 L581.2 1225.8 L580.8 1231.7 L578.5 1237.5 L580 1243.4 L579.5 1249.2 L581.1 1255.2 L581.3 1261.2 L581.1 1267.1 L580.5 1272.9 L579.8 1278.8 L578.9 1284.6 L578 1290.5 L577.1 1296.3 L576 1302.1 L574.9 1307.9 L573.8 1313.7Z" fill="#52903e"/><path d="M579.7 1314.8 L580.5 1308.9 L581.4 1302.9 L582.1 1297 L582.8 1291.1 L583.4 1285.2 L583.9 1279.2 L584.4 1273.3 L585 1267.4 L585.7 1261.5 L586.7 1255.6 L589.2 1249.8 L589.2 1243.8 L591.1 1237.9 L589.2 1231.8 L588.9 1225.9 L586.8 1219.9 L586.1 1213.9" fill="none" stroke="#b4d0aa" stroke-width="0.9" opacity="0.75"/><path d="M580 1314.6 L580.1 1311.9 L580.2 1309.1 L580.4 1306.4 L580.5 1303.6 L580.6 1300.9 L580.7 1298.1 L580.9 1295.3 L581 1292.6 L581.1 1289.8 L581.2 1287.1 L581.3 1284.3 L581.5 1281.6 L581.6 1278.8 L581.7 1276 L581.8 1273.3 L581.9 1270.5 L582 1267.8 L582 1265 L582 1265 L581.4 1267.7 L580.9 1270.4 L580.4 1273.1 L579.9 1275.8 L579.4 1278.6 L578.9 1281.3 L578.4 1284 L577.9 1286.7 L577.4 1289.4 L576.9 1292.1 L576.4 1294.8 L575.9 1297.6 L575.4 1300.3 L574.9 1303 L574.4 1305.7 L574 1308.4 L573.5 1311.1 L573 1313.9Z" fill="#52903e"/><path d="M580 1314.6 L580.1 1311.9 L580.2 1309.1 L580.4 1306.4 L580.5 1303.6 L580.6 1300.9 L580.7 1298.1 L580.9 1295.3 L581 1292.6 L581.1 1289.8 L581.2 1287.1 L581.3 1284.3 L581.5 1281.6 L581.6 1278.8 L581.7 1276 L581.8 1273.3 L581.9 1270.5 L582 1267.8" fill="none" stroke="#b4d0aa" stroke-width="0.9" opacity="0.75"/><g fill="#080b0b" stroke="#080b0b" stroke-linecap="round"><path d="M731 1338 L731 1372" stroke-width="16.4"/><ellipse cx="731" cy="1284" rx="28.4" ry="49"/><path d="M731 1330.8 L720 1218" stroke-width="15"/><path d="M731 1330.8 L697 1290" stroke-width="14"/><path d="M731 1330.8 L790 1258" stroke-width="14"/><path d="M731 1330.8 L714 1295" stroke-width="16"/><path d="M731 1330.8 L750 1295" stroke-width="16"/></g><path d="M726.4 1343.6 Q727.6 1355 727.9 1372 L734.1 1372 Q734.4 1355 735.6 1343.6Z" fill="url(#gStem)"/><path d="M730.5 1327.6 L729 1325.2 L727.5 1322.7 L726 1320.4 L724.4 1318 L722.7 1315.7 L721 1313.5 L719.3 1311.2 L717.6 1309 L716 1306.7 L714.6 1304.2 L714 1300.9 L712 1298.9 L711 1295.9 L707.8 1295.1 L705.5 1293.3 L702.2 1292.6 L699.7 1291.2 L697.1 1289.9 L696.9 1290.1 L698.6 1292.5 L700.3 1294.7 L701.1 1297.9 L702.8 1300 L703.5 1303.2 L706.3 1304.1 L708 1306.3 L711 1307.2 L713.2 1309 L715 1311 L716.6 1313.2 L718.1 1315.5 L719.6 1317.8 L721 1320.2 L722.3 1322.6 L723.6 1325 L724.9 1327.5 L726.1 1330Z" fill="#437c34"/><path d="M730.5 1327.6 L729 1325.2 L727.5 1322.7 L726 1320.4 L724.4 1318 L722.7 1315.7 L721 1313.5 L719.3 1311.2 L717.6 1309 L716 1306.7 L714.6 1304.2 L714 1300.9 L712 1298.9 L711 1295.9 L707.8 1295.1 L705.5 1293.3 L702.2 1292.6 L699.7 1291.2" fill="none" stroke="#a0c098" stroke-width="0.9" opacity="0.75"/><path d="M738.1 1329.7 L739.8 1324.9 L741.7 1320.3 L743.7 1315.7 L745.9 1311.2 L748.2 1306.8 L750.6 1302.5 L753.2 1298.3 L755.9 1294.3 L759 1290.4 L762.4 1286.9 L766.9 1284.3 L770 1280.6 L774.4 1278.1 L776.7 1273.5 L780.1 1270 L782.8 1265.4 L786.4 1261.7 L790.1 1258.1 L789.9 1257.9 L785.4 1260.4 L781 1263.2 L775.9 1265.1 L771.9 1268.4 L767 1270.7 L764.4 1275.4 L760.8 1279 L758.8 1284 L756.1 1288.2 L753.3 1292.4 L750.4 1296.5 L747.6 1300.7 L744.9 1304.9 L742.4 1309.3 L739.9 1313.8 L737.6 1318.4 L735.4 1323.1 L733.4 1327.9Z" fill="#437c34"/><path d="M738.1 1329.7 L739.8 1324.9 L741.7 1320.3 L743.7 1315.7 L745.9 1311.2 L748.2 1306.8 L750.6 1302.5 L753.2 1298.3 L755.9 1294.3 L759 1290.4 L762.4 1286.9 L766.9 1284.3 L770 1280.6 L774.4 1278.1 L776.7 1273.5 L780.1 1270 L782.8 1265.4 L786.4 1261.7" fill="none" stroke="#a0c098" stroke-width="0.9" opacity="0.75"/><path d="M731 1328 C704.9 1319.2 719.3 1257.6 731 1240 C742.7 1257.6 757.1 1319.2 731 1328Z" fill="url(#gBudG2)"/><path d="M731 1318 C714.2 1307.5 722.6 1258.5 731 1248 C739.4 1258.5 747.8 1307.5 731 1318Z" fill="url(#gBudD)"/><path d="M714.8 1304.8 Q714 1332.8 731 1334.8 Q748 1332.8 747.2 1304.8 Q731 1319.1 714.8 1304.8Z" fill="url(#gCup)"/><path d="M720.2 1329.2 C717.2 1339.6 726 1345.2 726.6 1350 L735.4 1350 C736 1345.2 744.8 1339.6 741.8 1329.2 Q731 1327.3 720.2 1329.2Z" fill="url(#gHip)"/><path d="M733.1 1330.8 L733 1324.5 L732.8 1318.1 L732.5 1311.8 L732.2 1305.5 L731.8 1299.2 L731.3 1292.9 L730.8 1286.6 L730.4 1280.3 L730.1 1274 L730.1 1267.6 L731.4 1261.1 L730.5 1254.8 L731.3 1248.3 L728.4 1242.3 L727.1 1236.1 L723.9 1230.2 L722.1 1224 L720.2 1218 L719.8 1218 L720.2 1224.4 L720.6 1230.7 L719.5 1237.3 L720 1243.5 L718.8 1250 L721.3 1255.9 L721.8 1262.2 L724.5 1268.2 L725.7 1274.3 L726.4 1280.6 L726.9 1286.8 L727.2 1293.1 L727.3 1299.4 L727.4 1305.6 L727.5 1311.9 L727.4 1318.2 L727.3 1324.5 L727.1 1330.8Z" fill="#52903e"/><path d="M733.1 1330.8 L733 1324.5 L732.8 1318.1 L732.5 1311.8 L732.2 1305.5 L731.8 1299.2 L731.3 1292.9 L730.8 1286.6 L730.4 1280.3 L730.1 1274 L730.1 1267.6 L731.4 1261.1 L730.5 1254.8 L731.3 1248.3 L728.4 1242.3 L727.1 1236.1 L723.9 1230.2 L722.1 1224" fill="none" stroke="#b4d0aa" stroke-width="0.9" opacity="0.75"/><path d="M732.8 1329.4 L731.8 1327.5 L730.8 1325.6 L729.8 1323.6 L728.7 1321.7 L727.7 1319.8 L726.7 1317.9 L725.6 1316 L724.6 1314.1 L723.5 1312.1 L722.5 1310.2 L721.5 1308.3 L720.4 1306.4 L719.4 1304.5 L718.3 1302.6 L717.2 1300.7 L716.2 1298.8 L715.1 1296.9 L714 1295 L714 1295 L714.6 1297.1 L715.3 1299.2 L716 1301.2 L716.6 1303.3 L717.3 1305.4 L718 1307.5 L718.7 1309.5 L719.4 1311.6 L720.1 1313.7 L720.8 1315.7 L721.5 1317.8 L722.2 1319.8 L722.9 1321.9 L723.6 1324 L724.3 1326 L725 1328.1 L725.7 1330.1 L726.4 1332.2Z" fill="#52903e"/><path d="M732.8 1329.4 L731.8 1327.5 L730.8 1325.6 L729.8 1323.6 L728.7 1321.7 L727.7 1319.8 L726.7 1317.9 L725.6 1316 L724.6 1314.1 L723.5 1312.1 L722.5 1310.2 L721.5 1308.3 L720.4 1306.4 L719.4 1304.5 L718.3 1302.6 L717.2 1300.7 L716.2 1298.8 L715.1 1296.9" fill="none" stroke="#b4d0aa" stroke-width="0.9" opacity="0.75"/><path d="M735.7 1332.3 L736.5 1330.3 L737.3 1328.2 L738.1 1326.1 L738.9 1324.1 L739.7 1322 L740.5 1319.9 L741.3 1317.9 L742.1 1315.8 L742.9 1313.7 L743.7 1311.7 L744.5 1309.6 L745.3 1307.5 L746.1 1305.4 L746.9 1303.4 L747.7 1301.3 L748.5 1299.2 L749.3 1297.1 L750 1295 L750 1295 L748.8 1296.9 L747.6 1298.8 L746.5 1300.7 L745.3 1302.6 L744.2 1304.5 L743 1306.4 L741.9 1308.3 L740.7 1310.2 L739.6 1312.1 L738.4 1314 L737.3 1315.9 L736.2 1317.8 L735 1319.7 L733.9 1321.6 L732.8 1323.5 L731.6 1325.4 L730.5 1327.4 L729.4 1329.3Z" fill="#52903e"/><path d="M735.7 1332.3 L736.5 1330.3 L737.3 1328.2 L738.1 1326.1 L738.9 1324.1 L739.7 1322 L740.5 1319.9 L741.3 1317.9 L742.1 1315.8 L742.9 1313.7 L743.7 1311.7 L744.5 1309.6 L745.3 1307.5 L746.1 1305.4 L746.9 1303.4 L747.7 1301.3 L748.5 1299.2 L749.3 1297.1" fill="none" stroke="#b4d0aa" stroke-width="0.9" opacity="0.75"/><g fill="#080b0b" stroke="#080b0b" stroke-linecap="round"><path d="M881 1325 L881 1363" stroke-width="16.4"/><ellipse cx="881" cy="1275" rx="29.7" ry="42"/><path d="M881 1317.8 L862 1210" stroke-width="15"/><path d="M881 1317.8 L836 1275" stroke-width="14"/><path d="M881 1317.8 L926 1300" stroke-width="14"/><path d="M881 1317.8 L908 1235" stroke-width="14"/><path d="M881 1317.8 L870 1302" stroke-width="16"/><path d="M881 1317.8 L895 1300" stroke-width="15"/></g><path d="M876.4 1330.6 Q877.6 1344 877.9 1363 L884.1 1363 Q884.4 1344 885.6 1330.6Z" fill="url(#gStem)"/><path d="M882.5 1315.6 L881.9 1309.6 L881.3 1303.6 L880.6 1297.7 L879.8 1291.7 L879 1285.8 L878.1 1279.9 L877.2 1274 L876.3 1268 L875.6 1262.1 L875.1 1256.1 L876.1 1249.8 L874.7 1244 L875.1 1237.7 L871.8 1232.3 L870.1 1226.5 L866.6 1221.2 L864.5 1215.5 L862.2 1210 L861.8 1210 L862.6 1216 L863.3 1222 L862.6 1228.3 L863.6 1234.1 L862.8 1240.3 L865.7 1245.8 L866.5 1251.6 L869.6 1257.1 L871.2 1262.8 L872.4 1268.6 L873.2 1274.5 L873.9 1280.4 L874.5 1286.3 L875 1292.2 L875.5 1298.2 L875.9 1304.1 L876.2 1310 L876.5 1316Z" fill="#437c34"/><path d="M882.5 1315.6 L881.9 1309.6 L881.3 1303.6 L880.6 1297.7 L879.8 1291.7 L879 1285.8 L878.1 1279.9 L877.2 1274 L876.3 1268 L875.6 1262.1 L875.1 1256.1 L876.1 1249.8 L874.7 1244 L875.1 1237.7 L871.8 1232.3 L870.1 1226.5 L866.6 1221.2 L864.5 1215.5" fill="none" stroke="#a0c098" stroke-width="0.9" opacity="0.75"/><path d="M879.5 1314.4 L877.5 1311.7 L875.4 1309.1 L873.3 1306.5 L871.2 1304 L869 1301.6 L866.7 1299.2 L864.4 1296.8 L862.2 1294.5 L860 1292 L858 1289.4 L856.7 1285.9 L854.1 1283.9 L852.5 1280.6 L848.8 1279.9 L846 1278.1 L842.2 1277.6 L839.2 1276.1 L836.1 1274.9 L835.9 1275.1 L838.3 1277.5 L840.6 1279.9 L842.1 1283.2 L844.4 1285.4 L845.8 1288.7 L849.1 1289.7 L851.3 1291.9 L854.8 1292.8 L857.5 1294.6 L859.8 1296.8 L862 1299.1 L864.1 1301.5 L866.1 1304 L868.1 1306.6 L870 1309.2 L871.8 1311.8 L873.6 1314.5 L875.3 1317.2Z" fill="#437c34"/><path d="M879.5 1314.4 L877.5 1311.7 L875.4 1309.1 L873.3 1306.5 L871.2 1304 L869 1301.6 L866.7 1299.2 L864.4 1296.8 L862.2 1294.5 L860 1292 L858 1289.4 L856.7 1285.9 L854.1 1283.9 L852.5 1280.6 L848.8 1279.9 L846 1278.1 L842.2 1277.6 L839.2 1276.1" fill="none" stroke="#a0c098" stroke-width="0.9" opacity="0.75"/><path d="M885.9 1317.9 L888 1316.5 L890 1315.2 L892.1 1313.9 L894.2 1312.6 L896.3 1311.4 L898.4 1310.3 L900.6 1309.2 L902.8 1308.3 L905.2 1307.5 L907.6 1307.2 L910.4 1308 L912.6 1307.1 L915.3 1307.8 L917.1 1305.5 L919.4 1304.6 L921.4 1302.3 L923.7 1301.3 L926 1300.1 L926 1299.9 L923.4 1299.6 L920.8 1299.6 L917.9 1298.4 L915.4 1298.7 L912.4 1297.7 L910.4 1299.8 L907.9 1300.3 L906 1302.8 L903.9 1304.1 L901.6 1305.2 L899.3 1306.2 L897 1307.1 L894.6 1308.1 L892.3 1309.1 L890 1310.2 L887.8 1311.3 L885.5 1312.5 L883.3 1313.7Z" fill="#437c34"/><path d="M885.9 1317.9 L888 1316.5 L890 1315.2 L892.1 1313.9 L894.2 1312.6 L896.3 1311.4 L898.4 1310.3 L900.6 1309.2 L902.8 1308.3 L905.2 1307.5 L907.6 1307.2 L910.4 1308 L912.6 1307.1 L915.3 1307.8 L917.1 1305.5 L919.4 1304.6 L921.4 1302.3 L923.7 1301.3" fill="none" stroke="#a0c098" stroke-width="0.9" opacity="0.75"/><path d="M885.5 1316.5 L886.8 1312 L888.1 1307.5 L889.3 1303 L890.6 1298.4 L891.8 1293.9 L893.1 1289.4 L894.4 1284.9 L895.8 1280.4 L897.3 1275.9 L899.2 1271.6 L902.2 1267.6 L903.4 1263.1 L906.1 1259 L905.8 1254 L906.9 1249.4 L906.6 1244.4 L907.4 1239.7 L908.1 1235 L907.9 1235 L905.8 1239.2 L903.9 1243.6 L900.8 1247.5 L899.1 1251.9 L896.1 1255.9 L896.1 1260.8 L894.5 1265.2 L894.7 1270.2 L893.8 1274.9 L892.6 1279.4 L891.2 1283.9 L889.8 1288.4 L888.3 1292.8 L886.8 1297.3 L885.3 1301.7 L883.8 1306.2 L882.3 1310.6 L880.8 1315.1Z" fill="#437c34"/><path d="M885.5 1316.5 L886.8 1312 L888.1 1307.5 L889.3 1303 L890.6 1298.4 L891.8 1293.9 L893.1 1289.4 L894.4 1284.9 L895.8 1280.4 L897.3 1275.9 L899.2 1271.6 L902.2 1267.6 L903.4 1263.1 L906.1 1259 L905.8 1254 L906.9 1249.4 L906.6 1244.4 L907.4 1239.7" fill="none" stroke="#a0c098" stroke-width="0.9" opacity="0.75"/><path d="M881 1312 C853.5 1304.6 868.6 1252.8 881 1238 C893.4 1252.8 908.5 1304.6 881 1312Z" fill="url(#gBudD)"/><path d="M864.8 1295.6 Q864 1319.8 881 1321.8 Q898 1319.8 897.2 1295.6 Q881 1307.8 864.8 1295.6Z" fill="url(#gCup)"/><path d="M870.2 1316.2 C867.2 1326.6 876 1332.2 876.6 1337 L885.4 1337 C886 1332.2 894.8 1326.6 891.8 1316.2 Q881 1314.3 870.2 1316.2Z" fill="url(#gHip)"/><path d="M883.1 1315.9 L882.4 1315.1 L881.6 1314.3 L880.9 1313.6 L880.2 1312.8 L879.5 1312 L878.8 1311.2 L878.1 1310.4 L877.4 1309.7 L876.6 1308.9 L875.9 1308.1 L875.2 1307.3 L874.5 1306.6 L873.7 1305.8 L873 1305 L872.3 1304.3 L871.5 1303.5 L870.8 1302.7 L870 1302 L870 1302 L870.3 1303 L870.7 1304 L871.1 1305 L871.5 1306 L871.9 1307 L872.3 1308 L872.7 1309 L873.1 1309.9 L873.5 1310.9 L873.9 1311.9 L874.3 1312.9 L874.7 1313.8 L875.1 1314.8 L875.5 1315.8 L875.9 1316.8 L876.3 1317.7 L876.8 1318.7 L877.2 1319.7Z" fill="#52903e"/><path d="M883.1 1315.9 L882.4 1315.1 L881.6 1314.3 L880.9 1313.6 L880.2 1312.8 L879.5 1312 L878.8 1311.2 L878.1 1310.4 L877.4 1309.7 L876.6 1308.9 L875.9 1308.1 L875.2 1307.3 L874.5 1306.6 L873.7 1305.8 L873 1305 L872.3 1304.3 L871.5 1303.5 L870.8 1302.7" fill="none" stroke="#b4d0aa" stroke-width="0.9" opacity="0.75"/><path d="M884.6 1319.6 L885.1 1318.5 L885.7 1317.4 L886.3 1316.3 L886.9 1315.2 L887.5 1314.2 L888.1 1313.1 L888.7 1312 L889.3 1310.9 L889.9 1309.8 L890.4 1308.8 L891 1307.7 L891.6 1306.6 L892.2 1305.5 L892.8 1304.4 L893.3 1303.3 L893.9 1302.2 L894.5 1301.1 L895 1300 L895 1300 L894.1 1300.9 L893.2 1301.7 L892.4 1302.6 L891.5 1303.5 L890.7 1304.4 L889.8 1305.3 L889 1306.2 L888.1 1307.1 L887.3 1308 L886.4 1308.9 L885.6 1309.7 L884.7 1310.6 L883.9 1311.5 L883 1312.4 L882.2 1313.3 L881.4 1314.2 L880.5 1315.1 L879.7 1316Z" fill="#52903e"/><path d="M884.6 1319.6 L885.1 1318.5 L885.7 1317.4 L886.3 1316.3 L886.9 1315.2 L887.5 1314.2 L888.1 1313.1 L888.7 1312 L889.3 1310.9 L889.9 1309.8 L890.4 1308.8 L891 1307.7 L891.6 1306.6 L892.2 1305.5 L892.8 1304.4 L893.3 1303.3 L893.9 1302.2 L894.5 1301.1" fill="none" stroke="#b4d0aa" stroke-width="0.9" opacity="0.75"/><g fill="#080b0b" stroke="#080b0b" stroke-linecap="round"><path d="M1051 1322 L1051 1361" stroke-width="16.4"/><ellipse cx="1061" cy="1271" rx="32.3" ry="44"/><path d="M1061 1313 L1042 1216" stroke-width="14"/><path d="M1061 1313 L1008 1278" stroke-width="13"/><path d="M1061 1313 L1120.7 1249" stroke-width="14"/><path d="M1061 1313 L1077 1332" stroke-width="15"/><path d="M1061 1313 L1109 1298" stroke-width="14"/></g><path d="M1046.4 1329 Q1047.6 1341.5 1047.8 1361 L1054.2 1361 Q1054.4 1341.5 1055.6 1329Z" fill="url(#gStem)"/><path d="M1062 1310.8 L1061.4 1305.4 L1060.7 1300 L1060 1294.7 L1059.2 1289.3 L1058.4 1284 L1057.5 1278.7 L1056.6 1273.4 L1055.7 1268.1 L1054.9 1262.7 L1054.4 1257.3 L1055 1251.7 L1053.7 1246.5 L1053.9 1240.9 L1050.9 1236 L1049.3 1230.8 L1046.2 1226 L1044.3 1221 L1042.1 1216 L1041.9 1216 L1042.7 1221.4 L1043.5 1226.7 L1043.1 1232.4 L1044.1 1237.6 L1043.6 1243.2 L1046.2 1248.1 L1047.1 1253.3 L1049.8 1258.2 L1051.3 1263.4 L1052.4 1268.6 L1053.3 1273.9 L1054 1279.2 L1054.7 1284.5 L1055.3 1289.8 L1055.8 1295.2 L1056.2 1300.5 L1056.6 1305.9 L1057 1311.2Z" fill="#437c34"/><path d="M1062 1310.8 L1061.4 1305.4 L1060.7 1300 L1060 1294.7 L1059.2 1289.3 L1058.4 1284 L1057.5 1278.7 L1056.6 1273.4 L1055.7 1268.1 L1054.9 1262.7 L1054.4 1257.3 L1055 1251.7 L1053.7 1246.5 L1053.9 1240.9 L1050.9 1236 L1049.3 1230.8 L1046.2 1226 L1044.3 1221" fill="none" stroke="#a0c098" stroke-width="0.9" opacity="0.75"/><path d="M1058.2 1309.6 L1055.7 1307.3 L1053.2 1305.1 L1050.7 1302.9 L1048.1 1300.8 L1045.5 1298.7 L1042.8 1296.7 L1040.2 1294.8 L1037.5 1292.9 L1034.9 1290.8 L1032.3 1288.7 L1030.2 1285.8 L1027.3 1284.2 L1024.9 1281.5 L1021.3 1281.2 L1018.2 1279.9 L1014.6 1279.7 L1011.3 1278.7 L1008 1277.9 L1008 1278.1 L1010.8 1279.9 L1013.6 1281.7 L1015.9 1284.4 L1018.7 1286.1 L1020.8 1288.9 L1024.2 1289.5 L1026.8 1291.3 L1030.3 1291.8 L1033.2 1293.3 L1036 1295 L1038.6 1296.9 L1041.1 1298.9 L1043.6 1301 L1046 1303.2 L1048.4 1305.4 L1050.8 1307.7 L1053.1 1310 L1055.3 1312.4Z" fill="#437c34"/><path d="M1058.2 1309.6 L1055.7 1307.3 L1053.2 1305.1 L1050.7 1302.9 L1048.1 1300.8 L1045.5 1298.7 L1042.8 1296.7 L1040.2 1294.8 L1037.5 1292.9 L1034.9 1290.8 L1032.3 1288.7 L1030.2 1285.8 L1027.3 1284.2 L1024.9 1281.5 L1021.3 1281.2 L1018.2 1279.9 L1014.6 1279.7 L1011.3 1278.7" fill="none" stroke="#a0c098" stroke-width="0.9" opacity="0.75"/><path d="M1067.9 1312.3 L1070.2 1308.2 L1072.5 1304.2 L1075 1300.3 L1077.5 1296.5 L1080 1292.7 L1082.7 1289 L1085.5 1285.3 L1088.4 1281.8 L1091.5 1278.5 L1094.9 1275.4 L1099.3 1273.3 L1102.3 1270 L1106.6 1267.8 L1108.7 1263.5 L1111.9 1260.2 L1114.3 1255.9 L1117.5 1252.5 L1120.8 1249.1 L1120.6 1248.9 L1116.5 1251.2 L1112.5 1253.7 L1107.7 1255.4 L1104 1258.3 L1099.3 1260.2 L1096.9 1264.5 L1093.5 1267.7 L1091.5 1272.3 L1088.8 1276 L1085.9 1279.7 L1082.9 1283.2 L1079.9 1286.8 L1077 1290.5 L1074.2 1294.2 L1071.4 1298 L1068.8 1301.8 L1066.2 1305.7 L1063.6 1309.7Z" fill="#437c34"/><path d="M1067.9 1312.3 L1070.2 1308.2 L1072.5 1304.2 L1075 1300.3 L1077.5 1296.5 L1080 1292.7 L1082.7 1289 L1085.5 1285.3 L1088.4 1281.8 L1091.5 1278.5 L1094.9 1275.4 L1099.3 1273.3 L1102.3 1270 L1106.6 1267.8 L1108.7 1263.5 L1111.9 1260.2 L1114.3 1255.9 L1117.5 1252.5" fill="none" stroke="#a0c098" stroke-width="0.9" opacity="0.75"/><path d="M1065.5 1313.4 L1068 1312.6 L1070.4 1311.7 L1072.8 1310.9 L1075.2 1310 L1077.6 1309.2 L1080.1 1308.3 L1082.5 1307.5 L1084.9 1306.8 L1087.4 1306.3 L1090 1306 L1093 1306.9 L1095.4 1306 L1098.2 1306.6 L1100.2 1304.2 L1102.5 1303.2 L1104.5 1300.8 L1106.8 1299.5 L1109 1298.1 L1109 1297.9 L1106.3 1297.9 L1103.7 1298.1 L1100.7 1297.1 L1098.2 1297.5 L1095.3 1296.6 L1093.2 1298.7 L1090.7 1299.2 L1088.7 1301.5 L1086.4 1302.7 L1084 1303.6 L1081.5 1304.4 L1079.1 1305 L1076.6 1305.6 L1074.1 1306.2 L1071.6 1306.8 L1069.1 1307.4 L1066.6 1308 L1064.1 1308.6Z" fill="#437c34"/><path d="M1065.5 1313.4 L1068 1312.6 L1070.4 1311.7 L1072.8 1310.9 L1075.2 1310 L1077.6 1309.2 L1080.1 1308.3 L1082.5 1307.5 L1084.9 1306.8 L1087.4 1306.3 L1090 1306 L1093 1306.9 L1095.4 1306 L1098.2 1306.6 L1100.2 1304.2 L1102.5 1303.2 L1104.5 1300.8 L1106.8 1299.5" fill="none" stroke="#a0c098" stroke-width="0.9" opacity="0.75"/><clipPath id="clip4"><path d="M1039.8 1268.3 C1040.3 1265.6 1044.2 1248.2 1045.5 1245.5 C1046.8 1242.8 1055.3 1232.3 1057 1231.9 C1058.7 1231.5 1066.7 1237.8 1068.3 1239.8 C1069.9 1241.8 1077.5 1256.3 1078.5 1259.2 C1079.5 1262.1 1081.9 1276.9 1082 1279.7 C1082.1 1282.5 1080.5 1295.7 1079.7 1297.9 C1078.9 1300.1 1072.3 1308.3 1070.6 1309.3 C1068.9 1310.3 1058.8 1311.8 1057 1311.6 C1055.2 1311.4 1046.7 1308.2 1045.5 1307 C1044.3 1305.8 1041.5 1297.4 1041 1295.6 C1040.5 1293.8 1039.3 1284 1039.2 1282 C1039.1 1280 1039.3 1271 1039.8 1268.3Z"/></clipPath><path d="M1039.8 1268.3 C1040.3 1265.6 1044.2 1248.2 1045.5 1245.5 C1046.8 1242.8 1055.3 1232.3 1057 1231.9 C1058.7 1231.5 1066.7 1237.8 1068.3 1239.8 C1069.9 1241.8 1077.5 1256.3 1078.5 1259.2 C1079.5 1262.1 1081.9 1276.9 1082 1279.7 C1082.1 1282.5 1080.5 1295.7 1079.7 1297.9 C1078.9 1300.1 1072.3 1308.3 1070.6 1309.3 C1068.9 1310.3 1058.8 1311.8 1057 1311.6 C1055.2 1311.4 1046.7 1308.2 1045.5 1307 C1044.3 1305.8 1041.5 1297.4 1041 1295.6 C1040.5 1293.8 1039.3 1284 1039.2 1282 C1039.1 1280 1039.3 1271 1039.8 1268.3Z" fill="#ae3e8c"/><g clip-path="url(#clip4)"><g filter="url(#bl5)"><ellipse cx="1050" cy="1260" rx="9" ry="20" fill="#cc6cb4" opacity="0.8" transform="rotate(0 1050 1260)"/><ellipse cx="1070" cy="1300" rx="12" ry="10" fill="#7a2060" opacity="0.7" transform="rotate(0 1070 1300)"/></g></g><path d="M1037.5 1297 Q1036.8 1315 1051 1317 Q1065.2 1315 1064.5 1297 Q1051 1305.8 1037.5 1297Z" fill="url(#gCup)"/><path d="M1042 1311 C1039.5 1324 1046 1331 1046.6 1337 L1055.4 1337 C1056 1331 1062.5 1324 1060 1311 Q1051 1308.6 1042 1311Z" fill="url(#gHip)"/><path d="M1059.9 1314.8 L1060.8 1315.8 L1061.8 1316.8 L1062.7 1317.7 L1063.7 1318.7 L1064.6 1319.6 L1065.5 1320.6 L1066.4 1321.6 L1067.3 1322.7 L1067.9 1323.8 L1068.2 1325.3 L1067.4 1327.6 L1068.5 1328.5 L1067.9 1330.6 L1070.4 1330.3 L1071.5 1331.2 L1074 1330.9 L1075.4 1331.6 L1076.9 1332.1 L1077.1 1331.9 L1077 1330.3 L1076.7 1328.9 L1077.6 1326.5 L1077 1325.2 L1077.9 1322.9 L1075.7 1322.8 L1075.1 1321.6 L1072.7 1321.8 L1071.4 1321.2 L1070.4 1320.2 L1069.6 1319.2 L1068.8 1318.1 L1068.1 1316.9 L1067.4 1315.8 L1066.7 1314.6 L1066 1313.5 L1065.4 1312.3 L1064.7 1311.2Z" fill="#52903e"/><path d="M1059.9 1314.8 L1060.8 1315.8 L1061.8 1316.8 L1062.7 1317.7 L1063.7 1318.7 L1064.6 1319.6 L1065.5 1320.6 L1066.4 1321.6 L1067.3 1322.7 L1067.9 1323.8 L1068.2 1325.3 L1067.4 1327.6 L1068.5 1328.5 L1067.9 1330.6 L1070.4 1330.3 L1071.5 1331.2 L1074 1330.9 L1075.4 1331.6" fill="none" stroke="#b4d0aa" stroke-width="0.9" opacity="0.75"/><g fill="#080b0b" stroke="#080b0b" stroke-linecap="round"><path d="M1288 1330 L1288 1376" stroke-width="16.4"/><ellipse cx="1297" cy="1264" rx="49.2" ry="59"/><path d="M1297 1321 L1187 1278" stroke-width="14"/><path d="M1297 1321 L1385 1359" stroke-width="15"/><path d="M1297 1321 L1332 1364" stroke-width="15"/><path d="M1297 1321 L1305 1346" stroke-width="15"/><path d="M1297 1321 L1255 1325" stroke-width="14"/></g><path d="M1283.4 1337 Q1284.6 1353 1284.8 1376 L1291.2 1376 Q1291.4 1353 1292.6 1337Z" fill="url(#gStem)"/><path d="M1289.4 1316.8 L1283.9 1314.1 L1278.4 1311.4 L1272.8 1308.9 L1267.3 1306.3 L1261.7 1303.9 L1256.1 1301.5 L1250.5 1299.1 L1244.9 1296.8 L1239.3 1294.3 L1233.8 1291.5 L1228.8 1287.8 L1223 1285.8 L1217.7 1282.4 L1211.3 1282.1 L1205.4 1280.4 L1199.1 1280.2 L1193.1 1279 L1187 1277.9 L1187 1278.1 L1192.6 1280.5 L1198.2 1282.9 L1203.4 1286.5 L1209.1 1288.7 L1214.2 1292.3 L1220.3 1293 L1225.9 1295.3 L1232.1 1295.9 L1237.9 1297.7 L1243.6 1299.8 L1249.2 1302.2 L1254.7 1304.7 L1260.1 1307.3 L1265.6 1309.9 L1271 1312.7 L1276.4 1315.5 L1281.7 1318.3 L1287 1321.2Z" fill="#437c34"/><path d="M1289.4 1316.8 L1283.9 1314.1 L1278.4 1311.4 L1272.8 1308.9 L1267.3 1306.3 L1261.7 1303.9 L1256.1 1301.5 L1250.5 1299.1 L1244.9 1296.8 L1239.3 1294.3 L1233.8 1291.5 L1228.8 1287.8 L1223 1285.8 L1217.7 1282.4 L1211.3 1282.1 L1205.4 1280.4 L1199.1 1280.2 L1193.1 1279" fill="none" stroke="#a0c098" stroke-width="0.9" opacity="0.75"/><path d="M1303.3 1321.9 L1308.2 1323.1 L1313 1324.4 L1317.8 1325.8 L1322.6 1327.3 L1327.3 1329 L1332 1330.7 L1336.6 1332.5 L1341.2 1334.6 L1345.5 1336.9 L1349.7 1339.7 L1353.1 1343.9 L1357.5 1346.1 L1360.8 1350 L1366.1 1350.8 L1370.5 1353.3 L1375.8 1354.3 L1380.3 1356.7 L1384.9 1359.1 L1385.1 1358.9 L1381.5 1355.1 L1377.8 1351.6 L1374.8 1346.9 L1370.7 1343.8 L1367.4 1339.3 L1362.1 1338.1 L1357.8 1335.3 L1352.3 1334.7 L1347.5 1333 L1342.8 1331 L1338.2 1328.9 L1333.6 1326.8 L1328.9 1324.8 L1324.2 1322.8 L1319.5 1321 L1314.6 1319.3 L1309.8 1317.6 L1304.8 1316.1Z" fill="#437c34"/><path d="M1303.3 1321.9 L1308.2 1323.1 L1313 1324.4 L1317.8 1325.8 L1322.6 1327.3 L1327.3 1329 L1332 1330.7 L1336.6 1332.5 L1341.2 1334.6 L1345.5 1336.9 L1349.7 1339.7 L1353.1 1343.9 L1357.5 1346.1 L1360.8 1350 L1366.1 1350.8 L1370.5 1353.3 L1375.8 1354.3 L1380.3 1356.7" fill="none" stroke="#a0c098" stroke-width="0.9" opacity="0.75"/><clipPath id="clip5"><path d="M1264 1252.4 C1264.7 1249.3 1271.9 1228.5 1273.2 1226.2 C1274.5 1223.9 1281.3 1221.5 1282.3 1220.5 C1283.3 1219.5 1286.1 1213.3 1286.9 1212.5 C1287.7 1211.7 1292.5 1209.9 1293.7 1210.2 C1294.9 1210.5 1301.6 1215.2 1302.8 1216 C1304 1216.8 1308.4 1219 1309.6 1220.5 C1310.8 1222 1317.4 1234.4 1318.7 1236.4 C1320 1238.4 1326.7 1245 1327.8 1247.8 C1328.9 1250.6 1333.3 1271.6 1333.5 1275.1 C1333.7 1278.6 1331.2 1292.9 1330.1 1295.6 C1329 1298.3 1320.7 1309.9 1318.7 1311.6 C1316.7 1313.3 1305.3 1318.1 1302.8 1318.4 C1300.3 1318.7 1286.9 1316.8 1284.6 1316.1 C1282.3 1315.4 1272.4 1311.1 1270.9 1309.3 C1269.4 1307.5 1264.6 1294.1 1264 1291.1 C1263.4 1288.1 1263 1271.1 1263 1268.3 C1263 1265.5 1263.3 1255.5 1264 1252.4Z"/></clipPath><path d="M1264 1252.4 C1264.7 1249.3 1271.9 1228.5 1273.2 1226.2 C1274.5 1223.9 1281.3 1221.5 1282.3 1220.5 C1283.3 1219.5 1286.1 1213.3 1286.9 1212.5 C1287.7 1211.7 1292.5 1209.9 1293.7 1210.2 C1294.9 1210.5 1301.6 1215.2 1302.8 1216 C1304 1216.8 1308.4 1219 1309.6 1220.5 C1310.8 1222 1317.4 1234.4 1318.7 1236.4 C1320 1238.4 1326.7 1245 1327.8 1247.8 C1328.9 1250.6 1333.3 1271.6 1333.5 1275.1 C1333.7 1278.6 1331.2 1292.9 1330.1 1295.6 C1329 1298.3 1320.7 1309.9 1318.7 1311.6 C1316.7 1313.3 1305.3 1318.1 1302.8 1318.4 C1300.3 1318.7 1286.9 1316.8 1284.6 1316.1 C1282.3 1315.4 1272.4 1311.1 1270.9 1309.3 C1269.4 1307.5 1264.6 1294.1 1264 1291.1 C1263.4 1288.1 1263 1271.1 1263 1268.3 C1263 1265.5 1263.3 1255.5 1264 1252.4Z" fill="#c060b6"/><g clip-path="url(#clip5)"><g filter="url(#bl5)"><ellipse cx="1280" cy="1250" rx="14" ry="26" fill="#da8cd2" opacity="0.8" transform="rotate(0 1280 1250)"/><ellipse cx="1320" cy="1290" rx="10" ry="24" fill="#943888" opacity="0.6" transform="rotate(0 1320 1290)"/><ellipse cx="1298" cy="1312" rx="24" ry="8" fill="#a84a9c" opacity="0.6" transform="rotate(0 1298 1312)"/></g></g><path d="M1271.8 1305 Q1271 1323 1288 1325 Q1305 1323 1304.2 1305 Q1288 1313.8 1271.8 1305Z" fill="url(#gCup)"/><path d="M1277.2 1319 C1274.2 1332 1283 1339 1283.6 1345 L1292.4 1345 C1293 1339 1301.8 1332 1298.8 1319 Q1288 1316.6 1277.2 1319Z" fill="url(#gHip)"/><path d="M1297.4 1322.8 L1299.3 1325.1 L1301.2 1327.4 L1303.1 1329.7 L1305 1332 L1307 1334.3 L1308.9 1336.6 L1310.7 1338.9 L1312.5 1341.3 L1314.1 1343.8 L1315.4 1346.6 L1315.6 1350.2 L1317.6 1352.4 L1318 1355.8 L1321.5 1357 L1323.6 1359.1 L1327.1 1360.2 L1329.4 1362.2 L1331.9 1364.1 L1332.1 1363.9 L1331 1361 L1329.8 1358.2 L1329.7 1354.5 L1328.2 1351.9 L1328.1 1348.3 L1325 1346.9 L1323.4 1344.4 L1319.9 1343.2 L1317.7 1341.2 L1315.7 1338.9 L1313.9 1336.5 L1312.2 1334.1 L1310.5 1331.6 L1308.9 1329.1 L1307.2 1326.6 L1305.5 1324.2 L1303.9 1321.7 L1302.2 1319.2Z" fill="#52903e"/><path d="M1297.4 1322.8 L1299.3 1325.1 L1301.2 1327.4 L1303.1 1329.7 L1305 1332 L1307 1334.3 L1308.9 1336.6 L1310.7 1338.9 L1312.5 1341.3 L1314.1 1343.8 L1315.4 1346.6 L1315.6 1350.2 L1317.6 1352.4 L1318 1355.8 L1321.5 1357 L1323.6 1359.1 L1327.1 1360.2 L1329.4 1362.2" fill="none" stroke="#b4d0aa" stroke-width="0.9" opacity="0.75"/><path d="M1294.8 1321.8 L1295.3 1323.2 L1295.9 1324.5 L1296.4 1325.9 L1297 1327.2 L1297.5 1328.6 L1298.1 1329.9 L1298.7 1331.3 L1299.2 1332.6 L1299.8 1334 L1300.3 1335.3 L1300.9 1336.6 L1301.5 1338 L1302 1339.3 L1302.6 1340.7 L1303.2 1342 L1303.8 1343.3 L1304.4 1344.7 L1305 1346 L1305 1346 L1304.8 1344.5 L1304.6 1343.1 L1304.3 1341.7 L1304.1 1340.2 L1303.9 1338.8 L1303.6 1337.4 L1303.4 1335.9 L1303.1 1334.5 L1302.9 1333 L1302.6 1331.6 L1302.3 1330.2 L1302.1 1328.7 L1301.8 1327.3 L1301.6 1325.9 L1301.3 1324.4 L1301 1323 L1300.8 1321.6 L1300.5 1320.2Z" fill="#52903e"/><path d="M1294.8 1321.8 L1295.3 1323.2 L1295.9 1324.5 L1296.4 1325.9 L1297 1327.2 L1297.5 1328.6 L1298.1 1329.9 L1298.7 1331.3 L1299.2 1332.6 L1299.8 1334 L1300.3 1335.3 L1300.9 1336.6 L1301.5 1338 L1302 1339.3 L1302.6 1340.7 L1303.2 1342 L1303.8 1343.3 L1304.4 1344.7" fill="none" stroke="#b4d0aa" stroke-width="0.9" opacity="0.75"/><path d="M1293.4 1318.5 L1291.2 1318.9 L1289.1 1319.2 L1287 1319.6 L1284.8 1319.9 L1282.7 1320.3 L1280.6 1320.6 L1278.4 1321 L1276.3 1321.3 L1274.2 1321.7 L1272 1322 L1269.9 1322.4 L1267.8 1322.7 L1265.7 1323.1 L1263.5 1323.5 L1261.4 1323.8 L1259.3 1324.2 L1257.1 1324.6 L1255 1325 L1255 1325 L1257.2 1325 L1259.3 1324.9 L1261.5 1324.8 L1263.7 1324.8 L1265.8 1324.7 L1268 1324.6 L1270.1 1324.5 L1272.3 1324.4 L1274.5 1324.3 L1276.6 1324.2 L1278.8 1324.2 L1280.9 1324.1 L1283.1 1324 L1285.3 1323.9 L1287.4 1323.8 L1289.6 1323.7 L1291.7 1323.6 L1293.9 1323.5Z" fill="#52903e"/><path d="M1293.4 1318.5 L1291.2 1318.9 L1289.1 1319.2 L1287 1319.6 L1284.8 1319.9 L1282.7 1320.3 L1280.6 1320.6 L1278.4 1321 L1276.3 1321.3 L1274.2 1321.7 L1272 1322 L1269.9 1322.4 L1267.8 1322.7 L1265.7 1323.1 L1263.5 1323.5 L1261.4 1323.8 L1259.3 1324.2 L1257.1 1324.6" fill="none" stroke="#b4d0aa" stroke-width="0.9" opacity="0.75"/><g fill="#050606" stroke="#050606" stroke-linecap="round" stroke-linejoin="round"><circle cx="196" cy="1516" r="26.8"/><path d="M196 1516 L196 1484" stroke-width="17.8"/><path d="M196 1516 L215 1540" stroke-width="15.6"/></g><path d="M192 1516 Q194 1500 196 1484 Q201.2 1500 200 1516Z" fill="#4a7a3c"/><path d="M193.6 1516 Q194.8 1500 196 1484" fill="none" stroke="#a8c0a0" stroke-width="1" opacity="0.8"/><path d="M198.4 1514.1 Q206.4 1527.3 215 1540 Q202.2 1530.6 193.6 1517.9Z" fill="#4a7a3c"/><path d="M197.4 1514.9 Q205.9 1527.6 215 1540" fill="none" stroke="#a8c0a0" stroke-width="1" opacity="0.8"/><path d="M197.1 1512.6 Q205.4 1517.1 213.9 1521.5 Q203.5 1523.3 194.9 1519.4Z" fill="#557a48"/><path d="M196.6 1513.9 Q205.2 1517.8 213.9 1521.5" fill="none" stroke="#9ab896" stroke-width="1" opacity="0.8"/><path d="M199.6 1515.9 Q197.9 1525.3 196.3 1534.7 Q191.4 1525.4 192.4 1516.1Z" fill="#557a48"/><path d="M198.2 1516 Q197.2 1525.3 196.3 1534.7" fill="none" stroke="#9ab896" stroke-width="1" opacity="0.8"/><path d="M197.2 1519.4 Q187.7 1520.7 178.3 1522 Q185.6 1514.5 194.8 1512.6Z" fill="#557a48"/><path d="M196.7 1518 Q187.5 1520 178.3 1522" fill="none" stroke="#9ab896" stroke-width="1" opacity="0.8"/><path d="M193.1 1518.2 Q189 1509.6 184.8 1501 Q194.2 1505.7 198.9 1513.8Z" fill="#557a48"/><path d="M194.3 1517.3 Q189.6 1509.1 184.8 1501" fill="none" stroke="#9ab896" stroke-width="1" opacity="0.8"/><path d="M193.1 1513.9 Q200 1507.4 206.8 1500.7 Q205.3 1511.1 198.9 1518.1Z" fill="#557a48"/><path d="M194.2 1514.8 Q200.6 1507.8 206.8 1500.7" fill="none" stroke="#9ab896" stroke-width="1" opacity="0.8"/><ellipse cx="196" cy="1516" rx="12" ry="11" fill="url(#gBudG2)"/><g fill="#050606" stroke="#050606" stroke-linecap="round" stroke-linejoin="round"><circle cx="269" cy="1519" r="24.9"/><path d="M269 1519 L308 1500" stroke-width="17.8"/><path d="M269 1519 L240 1500" stroke-width="15.6"/></g><path d="M269 1519 L273.5 1518.4 L277.6 1516.8 L282.1 1516.1 L285.7 1513.7 L290.1 1512.9 L293.5 1509.9 L297.7 1508.5 L301 1505.4 L304.7 1503.2 L308 1500 L303.5 1500.6 L299.4 1502.2 L294.9 1502.9 L291.3 1505.3 L286.9 1506.1 L283.5 1509.1 L279.3 1510.5 L276 1513.6 L272.3 1515.8Z" fill="#3c6434"/><path d="M269 1519 L308 1500" stroke="#8fae88" stroke-width="0.8" opacity="0.7"/><path d="M267.4 1521.5 Q254 1510.3 240 1500 Q256.9 1505.8 270.6 1516.5Z" fill="#4a7a3c"/><path d="M268 1520.5 Q254.3 1509.8 240 1500" fill="none" stroke="#a8c0a0" stroke-width="1" opacity="0.8"/><path d="M270 1515.8 Q278.4 1520.4 286.9 1524.5 Q276.6 1526 268 1522.2Z" fill="#557a48"/><path d="M269.6 1517.1 Q278.2 1521 286.9 1524.5" fill="none" stroke="#9ab896" stroke-width="1" opacity="0.8"/><path d="M272.3 1519 Q270.6 1528.3 269.3 1537.7 Q264.7 1528.4 265.7 1519Z" fill="#557a48"/><path d="M271 1519 Q269.9 1528.3 269.3 1537.7" fill="none" stroke="#9ab896" stroke-width="1" opacity="0.8"/><path d="M270.1 1522.1 Q260.6 1523.4 251.3 1525 Q258.7 1517.8 267.9 1515.9Z" fill="#557a48"/><path d="M269.6 1520.9 Q260.4 1522.8 251.3 1525" fill="none" stroke="#9ab896" stroke-width="1" opacity="0.8"/><path d="M266.4 1521 Q262.2 1512.4 257.8 1504 Q267 1508.8 271.6 1517Z" fill="#557a48"/><path d="M267.4 1520.2 Q262.7 1512 257.8 1504" fill="none" stroke="#9ab896" stroke-width="1" opacity="0.8"/><path d="M266.3 1517.1 Q273.2 1510.5 279.8 1503.7 Q278 1513.9 271.7 1520.9Z" fill="#557a48"/><path d="M267.4 1517.9 Q273.7 1510.9 279.8 1503.7" fill="none" stroke="#9ab896" stroke-width="1" opacity="0.8"/><ellipse cx="269" cy="1519" rx="11" ry="10.1" fill="url(#gBudG2)"/><g fill="#050606" stroke="#050606" stroke-linecap="round" stroke-linejoin="round"><circle cx="346" cy="1525" r="24.9"/><path d="M346 1525 L351 1448" stroke-width="20"/><path d="M346 1525 L318 1480" stroke-width="17.8"/><path d="M346 1525 L390 1552" stroke-width="20"/><path d="M346 1525 L320 1556" stroke-width="17.8"/></g><path d="M346 1525 L348.3 1517.4 L349.2 1509.7 L351.4 1502.2 L351.2 1494.4 L353.2 1486.8 L352.2 1479 L353.4 1471.4 L352.2 1463.5 L352.3 1455.8 L351 1448 L348.7 1455.6 L347.8 1463.3 L345.6 1470.8 L345.8 1478.6 L343.8 1486.2 L344.8 1494 L343.6 1501.6 L344.8 1509.5 L344.7 1517.2Z" fill="#3c6434"/><path d="M346 1525 L351 1448" stroke="#8fae88" stroke-width="0.8" opacity="0.7"/><path d="M346 1525 L344.4 1519.7 L341.9 1515.1 L340.3 1509.8 L337 1505.6 L335.2 1500.5 L331.4 1496.6 L329.1 1491.8 L325.1 1488.1 L322 1483.7 L318 1480 L319.6 1485.3 L322.1 1489.9 L323.7 1495.2 L327 1499.4 L328.8 1504.5 L332.6 1508.4 L334.9 1513.2 L338.9 1516.9 L342 1521.3Z" fill="#3c6434"/><path d="M346 1525 L318 1480" stroke="#8fae88" stroke-width="0.8" opacity="0.7"/><path d="M346 1525 L349.4 1529.3 L353.6 1532.3 L357.1 1536.5 L361.9 1538.6 L365.5 1542.5 L370.7 1544 L374.7 1547.3 L380 1548.5 L384.6 1550.9 L390 1552 L386.6 1547.7 L382.4 1544.7 L378.9 1540.5 L374.1 1538.4 L370.5 1534.5 L365.3 1533 L361.3 1529.7 L356 1528.5 L351.4 1526.1Z" fill="#3c6434"/><path d="M346 1525 L390 1552" stroke="#8fae88" stroke-width="0.8" opacity="0.7"/><path d="M346 1525 L342.3 1527.2 L339.4 1530.1 L335.8 1532.3 L333.6 1535.7 L330.1 1538.1 L328.4 1541.9 L325.4 1544.7 L323.8 1548.7 L321.5 1552 L320 1556 L323.7 1553.8 L326.6 1550.9 L330.2 1548.7 L332.4 1545.3 L335.9 1542.9 L337.6 1539.1 L340.6 1536.3 L342.2 1532.3 L344.5 1529Z" fill="#3c6434"/><path d="M346 1525 L320 1556" stroke="#8fae88" stroke-width="0.8" opacity="0.7"/><path d="M347 1521.8 Q355.4 1526.4 363.9 1530.5 Q353.6 1532 345 1528.2Z" fill="#557a48"/><path d="M346.6 1523.1 Q355.2 1527 363.9 1530.5" fill="none" stroke="#9ab896" stroke-width="1" opacity="0.8"/><path d="M349.3 1525 Q347.6 1534.3 346.3 1543.7 Q341.7 1534.4 342.7 1525Z" fill="#557a48"/><path d="M348 1525 Q346.9 1534.3 346.3 1543.7" fill="none" stroke="#9ab896" stroke-width="1" opacity="0.8"/><path d="M347.1 1528.1 Q337.6 1529.4 328.3 1531 Q335.7 1523.8 344.9 1521.9Z" fill="#557a48"/><path d="M346.6 1526.9 Q337.4 1528.8 328.3 1531" fill="none" stroke="#9ab896" stroke-width="1" opacity="0.8"/><path d="M343.4 1527 Q339.2 1518.4 334.8 1510 Q344 1514.8 348.6 1523Z" fill="#557a48"/><path d="M344.4 1526.2 Q339.7 1518 334.8 1510" fill="none" stroke="#9ab896" stroke-width="1" opacity="0.8"/><path d="M343.3 1523.1 Q350.2 1516.5 356.8 1509.7 Q355 1519.9 348.7 1526.9Z" fill="#557a48"/><path d="M344.4 1523.9 Q350.7 1516.9 356.8 1509.7" fill="none" stroke="#9ab896" stroke-width="1" opacity="0.8"/><ellipse cx="346" cy="1525" rx="11" ry="10.1" fill="url(#gBudD)"/><g fill="#050606" stroke="#050606" stroke-linecap="round" stroke-linejoin="round"><circle cx="448" cy="1525" r="26.8"/><path d="M448 1525 L448 1428" stroke-width="20"/><path d="M448 1525 L413 1480" stroke-width="17.8"/><path d="M448 1525 L498 1560" stroke-width="22.2"/><path d="M448 1525 L420 1555" stroke-width="20"/></g><path d="M448 1525 L449.8 1515.3 L450.2 1505.6 L452 1495.9 L451.2 1486.2 L452.7 1476.5 L451.2 1466.8 L452 1457.1 L450.2 1447.4 L449.8 1437.7 L448 1428 L446.2 1437.7 L445.8 1447.4 L444 1457.1 L444.8 1466.8 L443.3 1476.5 L444.8 1486.2 L444 1495.9 L445.8 1505.6 L446.2 1515.3Z" fill="#3c6434"/><path d="M448 1525 L448 1428" stroke="#8fae88" stroke-width="0.8" opacity="0.7"/><path d="M448 1525 L445.7 1519.6 L442.4 1514.9 L440 1509.6 L436 1505.4 L433.5 1500.2 L429 1496.4 L426 1491.6 L421.4 1487.9 L417.7 1483.6 L413 1480 L415.3 1485.4 L418.6 1490.1 L421 1495.4 L425 1499.6 L427.5 1504.8 L432 1508.6 L435 1513.4 L439.6 1517.1 L443.3 1521.4Z" fill="#3c6434"/><path d="M448 1525 L413 1480" stroke="#8fae88" stroke-width="0.8" opacity="0.7"/><path d="M448 1525 L451.7 1530.3 L456.5 1534.2 L460.3 1539.4 L465.8 1542.2 L469.8 1547.1 L475.8 1549.2 L480.3 1553.4 L486.5 1555.2 L491.7 1558.3 L498 1560 L494.3 1554.7 L489.5 1550.8 L485.7 1545.6 L480.2 1542.8 L476.2 1537.9 L470.2 1535.8 L465.7 1531.6 L459.5 1529.8 L454.3 1526.7Z" fill="#3c6434"/><path d="M448 1525 L498 1560" stroke="#8fae88" stroke-width="0.8" opacity="0.7"/><path d="M448 1525 L443.9 1526.7 L440.8 1529.5 L436.7 1531.3 L434.4 1534.8 L430.6 1536.8 L428.8 1540.8 L425.5 1543.3 L424 1547.5 L421.5 1550.7 L420 1555 L424.1 1553.3 L427.2 1550.5 L431.3 1548.7 L433.6 1545.2 L437.4 1543.2 L439.2 1539.2 L442.5 1536.7 L444 1532.5 L446.5 1529.3Z" fill="#3c6434"/><path d="M448 1525 L420 1555" stroke="#8fae88" stroke-width="0.8" opacity="0.7"/><path d="M449.1 1521.6 Q458.2 1526.5 467.5 1531 Q456.3 1532.7 446.9 1528.4Z" fill="#557a48"/><path d="M448.6 1522.9 Q458 1527.2 467.5 1531" fill="none" stroke="#9ab896" stroke-width="1" opacity="0.8"/><path d="M451.6 1524.9 Q449.8 1535.2 448.3 1545.4 Q443.3 1535.3 444.4 1525.1Z" fill="#557a48"/><path d="M450.2 1525 Q449 1535.2 448.3 1545.4" fill="none" stroke="#9ab896" stroke-width="1" opacity="0.8"/><path d="M449.2 1528.4 Q438.9 1529.8 428.7 1531.6 Q436.8 1523.7 446.8 1521.6Z" fill="#557a48"/><path d="M448.7 1527 Q438.6 1529.1 428.7 1531.6" fill="none" stroke="#9ab896" stroke-width="1" opacity="0.8"/><path d="M445.1 1527.2 Q440.6 1517.8 435.8 1508.7 Q445.8 1513.9 450.9 1522.8Z" fill="#557a48"/><path d="M446.3 1526.3 Q441.2 1517.4 435.8 1508.7" fill="none" stroke="#9ab896" stroke-width="1" opacity="0.8"/><path d="M445.1 1522.9 Q452.6 1515.7 459.8 1508.3 Q457.9 1519.5 450.9 1527.1Z" fill="#557a48"/><path d="M446.2 1523.8 Q453.2 1516.2 459.8 1508.3" fill="none" stroke="#9ab896" stroke-width="1" opacity="0.8"/><ellipse cx="448" cy="1525" rx="12" ry="11" fill="url(#gBudD)"/><g fill="#050606" stroke="#050606" stroke-linecap="round" stroke-linejoin="round"><circle cx="576" cy="1525" r="28.7"/><path d="M576 1525 L582 1425" stroke-width="20"/><path d="M576 1525 L535 1470" stroke-width="17.8"/><path d="M576 1525 L632 1580" stroke-width="22.2"/><path d="M576 1525 L560 1575" stroke-width="20"/></g><path d="M576 1525 L578.4 1515.1 L579.4 1505.1 L581.7 1495.2 L581.6 1485.2 L583.7 1475.3 L582.8 1465.2 L584.1 1455.2 L583 1445.1 L583.2 1435.1 L582 1425 L579.6 1434.9 L578.6 1444.9 L576.3 1454.8 L576.4 1464.8 L574.3 1474.7 L575.2 1484.8 L573.9 1494.8 L575 1504.9 L574.8 1514.9Z" fill="#3c6434"/><path d="M576 1525 L582 1425" stroke="#8fae88" stroke-width="0.8" opacity="0.7"/><path d="M576 1525 L573.1 1518.6 L569.2 1512.9 L566.2 1506.6 L561.7 1501.4 L558.5 1495.3 L553.5 1490.4 L549.8 1484.6 L544.6 1479.9 L540.3 1474.6 L535 1470 L537.9 1476.4 L541.8 1482.1 L544.8 1488.4 L549.3 1493.6 L552.5 1499.7 L557.5 1504.6 L561.2 1510.4 L566.4 1515.1 L570.7 1520.4Z" fill="#3c6434"/><path d="M576 1525 L535 1470" stroke="#8fae88" stroke-width="0.8" opacity="0.7"/><path d="M576 1525 L580.1 1532.1 L585.3 1537.9 L589.5 1544.9 L595.7 1549.8 L600.1 1556.5 L606.9 1560.8 L611.9 1566.9 L618.9 1570.9 L624.9 1576.1 L632 1580 L627.9 1572.9 L622.7 1567.1 L618.5 1560.1 L612.3 1555.2 L607.9 1548.5 L601.1 1544.2 L596.1 1538.1 L589.1 1534.1 L583.1 1528.9Z" fill="#3c6434"/><path d="M576 1525 L632 1580" stroke="#8fae88" stroke-width="0.8" opacity="0.7"/><path d="M576 1525 L572.7 1529.4 L570.7 1534.3 L567.4 1538.8 L566.5 1544 L563.5 1548.6 L563.3 1554 L561 1558.8 L561.1 1564.3 L559.9 1569.4 L560 1575 L563.3 1570.6 L565.3 1565.7 L568.6 1561.2 L569.5 1556 L572.5 1551.4 L572.7 1546 L575 1541.2 L574.9 1535.7 L576.1 1530.6Z" fill="#3c6434"/><path d="M576 1525 L560 1575" stroke="#8fae88" stroke-width="0.8" opacity="0.7"/><path d="M577.2 1521.3 Q586.3 1526.2 595.5 1531 Q584.2 1532.9 574.8 1528.7Z" fill="#557a48"/><path d="M576.7 1522.8 Q586.1 1527 595.5 1531" fill="none" stroke="#9ab896" stroke-width="1" opacity="0.8"/><path d="M579.9 1524.9 Q578 1535.2 576.3 1545.4 Q571 1535.3 572.1 1525.1Z" fill="#557a48"/><path d="M578.3 1525 Q577.2 1535.2 576.3 1545.4" fill="none" stroke="#9ab896" stroke-width="1" opacity="0.8"/><path d="M577.3 1528.7 Q567 1530.1 556.7 1531.6 Q564.7 1523.4 574.7 1521.3Z" fill="#557a48"/><path d="M576.8 1527.2 Q566.7 1529.3 556.7 1531.6" fill="none" stroke="#9ab896" stroke-width="1" opacity="0.8"/><path d="M572.9 1527.3 Q568.4 1518 563.8 1508.7 Q574 1513.8 579.1 1522.7Z" fill="#557a48"/><path d="M574.1 1526.4 Q569 1517.5 563.8 1508.7" fill="none" stroke="#9ab896" stroke-width="1" opacity="0.8"/><path d="M572.8 1522.8 Q580.3 1515.6 587.8 1508.3 Q586.1 1519.6 579.2 1527.2Z" fill="#557a48"/><path d="M574.1 1523.7 Q581 1516 587.8 1508.3" fill="none" stroke="#9ab896" stroke-width="1" opacity="0.8"/><ellipse cx="576" cy="1525" rx="13" ry="12" fill="url(#gBudD)"/><g fill="#050606" stroke="#050606" stroke-linecap="round" stroke-linejoin="round"><circle cx="724" cy="1522" r="30.6"/><path d="M724 1522 L752 1425" stroke-width="20"/><path d="M724 1522 L690 1475" stroke-width="17.8"/><path d="M724 1522 L762 1608" stroke-width="22.2"/><path d="M724 1522 L700 1580" stroke-width="20"/><path d="M724 1522 L770 1500" stroke-width="17.8"/></g><path d="M724 1522 L728.6 1512.8 L731.7 1503.2 L736.2 1494 L738.3 1484.1 L742.5 1474.8 L743.9 1464.7 L747.4 1455.2 L748.5 1445 L751 1435.2 L752 1425 L747.4 1434.2 L744.3 1443.8 L739.8 1453 L737.7 1462.9 L733.5 1472.2 L732.1 1482.3 L728.6 1491.8 L727.5 1502 L725 1511.8Z" fill="#3c6434"/><path d="M724 1522 L752 1425" stroke="#8fae88" stroke-width="0.8" opacity="0.7"/><path d="M724 1522 L721.8 1516.4 L718.6 1511.6 L716.4 1506 L712.5 1501.7 L710 1496.3 L705.7 1492.3 L702.8 1487.2 L698.2 1483.4 L694.6 1478.8 L690 1475 L692.2 1480.6 L695.4 1485.4 L697.6 1491 L701.5 1495.3 L704 1500.7 L708.3 1504.7 L711.2 1509.8 L715.8 1513.6 L719.4 1518.2Z" fill="#3c6434"/><path d="M724 1522 L690 1475" stroke="#8fae88" stroke-width="0.8" opacity="0.7"/><path d="M724 1522 L725.8 1531.5 L729.2 1540.3 L731.1 1549.7 L735.6 1558 L737.9 1567.3 L743.2 1575.2 L746.3 1584.1 L752 1591.9 L756.2 1600.3 L762 1608 L760.2 1598.5 L756.8 1589.7 L754.9 1580.3 L750.4 1572 L748.1 1562.7 L742.8 1554.8 L739.7 1545.9 L734 1538.1 L729.8 1529.7Z" fill="#3c6434"/><path d="M724 1522 L762 1608" stroke="#8fae88" stroke-width="0.8" opacity="0.7"/><path d="M724 1522 L719.9 1527.1 L717.2 1532.8 L713.1 1537.9 L711.4 1544 L707.7 1549.2 L706.6 1555.6 L703.5 1561.1 L702.8 1567.6 L700.7 1573.5 L700 1580 L704.1 1574.9 L706.8 1569.2 L710.9 1564.1 L712.6 1558 L716.3 1552.8 L717.4 1546.4 L720.5 1540.9 L721.2 1534.4 L723.3 1528.5Z" fill="#3c6434"/><path d="M724 1522 L700 1580" stroke="#8fae88" stroke-width="0.8" opacity="0.7"/><path d="M724 1522 L729.2 1521.1 L734 1519.2 L739.2 1518.3 L743.5 1515.5 L748.6 1514.4 L752.7 1511.1 L757.6 1509.5 L761.6 1506 L766 1503.5 L770 1500 L764.8 1500.9 L760 1502.8 L754.8 1503.7 L750.5 1506.5 L745.4 1507.6 L741.3 1510.9 L736.4 1512.5 L732.4 1516 L728 1518.5Z" fill="#3c6434"/><path d="M724 1522 L770 1500" stroke="#8fae88" stroke-width="0.8" opacity="0.7"/><path d="M725.2 1518 Q735.2 1523.3 745.1 1528.5 Q732.9 1530.6 722.8 1526Z" fill="#557a48"/><path d="M724.7 1519.6 Q734.9 1524.1 745.1 1528.5" fill="none" stroke="#9ab896" stroke-width="1" opacity="0.8"/><path d="M728.2 1521.9 Q726.2 1533 724.3 1544.1 Q718.6 1533.1 719.8 1522.1Z" fill="#557a48"/><path d="M726.5 1522 Q725.3 1533 724.3 1544.1" fill="none" stroke="#9ab896" stroke-width="1" opacity="0.8"/><path d="M725.4 1526 Q714.2 1527.5 703.1 1529.1 Q711.8 1520.3 722.6 1518Z" fill="#557a48"/><path d="M724.8 1524.4 Q713.9 1526.7 703.1 1529.1" fill="none" stroke="#9ab896" stroke-width="1" opacity="0.8"/><path d="M720.6 1524.5 Q715.8 1514.4 710.8 1504.3 Q721.8 1509.8 727.4 1519.5Z" fill="#557a48"/><path d="M722 1523.5 Q716.4 1513.9 710.8 1504.3" fill="none" stroke="#9ab896" stroke-width="1" opacity="0.8"/><path d="M720.6 1519.6 Q728.7 1511.8 736.7 1503.9 Q734.9 1516.2 727.4 1524.4Z" fill="#557a48"/><path d="M721.9 1520.5 Q729.4 1512.3 736.7 1503.9" fill="none" stroke="#9ab896" stroke-width="1" opacity="0.8"/><ellipse cx="724" cy="1522" rx="14" ry="12.9" fill="url(#gBudD)"/><g fill="#050606" stroke="#050606" stroke-linecap="round" stroke-linejoin="round"><circle cx="878" cy="1519" r="38.2"/><path d="M878 1519 L889 1423" stroke-width="20"/><path d="M878 1519 L828 1495" stroke-width="20"/><path d="M878 1519 L932 1602" stroke-width="22.2"/><path d="M878 1519 L870 1590" stroke-width="20"/><path d="M878 1519 L925 1510" stroke-width="17.8"/></g><path d="M878 1519 L880.9 1509.6 L882.4 1500.1 L885.2 1490.7 L885.6 1481 L888.2 1471.5 L887.8 1461.8 L889.6 1452.3 L889 1442.5 L889.7 1432.8 L889 1423 L886.1 1432.4 L884.6 1441.9 L881.8 1451.3 L881.4 1461 L878.8 1470.5 L879.2 1480.2 L877.4 1489.7 L878 1499.5 L877.3 1509.2Z" fill="#3c6434"/><path d="M878 1519 L889 1423" stroke="#8fae88" stroke-width="0.8" opacity="0.7"/><path d="M878 1519 L873.8 1514.9 L869 1512.2 L864.7 1508.2 L859.4 1506.5 L855 1502.8 L849.4 1501.7 L844.7 1498.6 L839 1497.8 L833.8 1495.7 L828 1495 L832.2 1499.1 L837 1501.8 L841.3 1505.8 L846.6 1507.5 L851 1511.2 L856.6 1512.3 L861.3 1515.4 L867 1516.2 L872.2 1518.3Z" fill="#3c6434"/><path d="M878 1519 L828 1495" stroke="#8fae88" stroke-width="0.8" opacity="0.7"/><path d="M878 1519 L881.6 1528.5 L886.6 1537 L890.2 1546.5 L896.3 1554.3 L900.3 1563.6 L907.1 1570.9 L911.8 1579.7 L919 1586.8 L924.8 1594.9 L932 1602 L928.4 1592.5 L923.4 1584 L919.8 1574.5 L913.7 1566.7 L909.7 1557.4 L902.9 1550.1 L898.2 1541.3 L891 1534.2 L885.2 1526.1Z" fill="#3c6434"/><path d="M878 1519 L932 1602" stroke="#8fae88" stroke-width="0.8" opacity="0.7"/><path d="M878 1519 L875.4 1525.9 L874.2 1533 L871.7 1539.9 L871.6 1547 L869.3 1554 L870 1561.2 L868.5 1568.3 L869.4 1575.6 L869 1582.7 L870 1590 L872.6 1583.1 L873.8 1576 L876.3 1569.1 L876.4 1562 L878.7 1555 L878 1547.8 L879.5 1540.7 L878.6 1533.4 L879 1526.3Z" fill="#3c6434"/><path d="M878 1519 L870 1590" stroke="#8fae88" stroke-width="0.8" opacity="0.7"/><path d="M878 1519 L883 1519.5 L887.7 1518.9 L892.7 1519.4 L897.3 1517.9 L902.2 1518.2 L906.7 1516.1 L911.5 1515.8 L915.9 1513.5 L920.6 1512.3 L925 1510 L920 1509.5 L915.3 1510.1 L910.3 1509.6 L905.7 1511.1 L900.8 1510.8 L896.3 1512.9 L891.5 1513.2 L887.1 1515.5 L882.4 1516.7Z" fill="#3c6434"/><path d="M878 1519 L925 1510" stroke="#8fae88" stroke-width="0.8" opacity="0.7"/><path d="M879.6 1513.8 Q890.2 1519.7 900.7 1526 Q887.4 1529 876.4 1524.2Z" fill="#557a48"/><path d="M879 1515.9 Q889.9 1520.7 900.7 1526" fill="none" stroke="#9ab896" stroke-width="1" opacity="0.8"/><path d="M883.4 1518.9 Q881.1 1530.9 878.3 1542.8 Q871.4 1531 872.6 1519.1Z" fill="#557a48"/><path d="M881.2 1519 Q880 1530.9 878.3 1542.8" fill="none" stroke="#9ab896" stroke-width="1" opacity="0.8"/><path d="M879.7 1524.1 Q867.7 1525.6 855.5 1526.7 Q864.6 1516.4 876.3 1513.9Z" fill="#557a48"/><path d="M879 1522.1 Q867.3 1524.6 855.5 1526.7" fill="none" stroke="#9ab896" stroke-width="1" opacity="0.8"/><path d="M873.7 1522.2 Q868.5 1511.2 863.7 1499.9 Q876.3 1505.4 882.3 1515.8Z" fill="#557a48"/><path d="M875.4 1520.9 Q869.4 1510.6 863.7 1499.9" fill="none" stroke="#9ab896" stroke-width="1" opacity="0.8"/><path d="M873.6 1515.9 Q882.4 1507.6 891.7 1499.5 Q890.4 1513.2 882.4 1522.1Z" fill="#557a48"/><path d="M875.4 1517.1 Q883.3 1508.2 891.7 1499.5" fill="none" stroke="#9ab896" stroke-width="1" opacity="0.8"/><ellipse cx="878" cy="1519" rx="18" ry="16.6" fill="url(#gBudP)"/><path d="M1075 1510 L1083.4 1502.7 L1088.8 1493.9 L1097 1486.6 L1100 1476.6 L1107.6 1468.9 L1109 1458.2 L1115 1449.8 L1115.8 1438.7 L1119.4 1429.1 L1120 1418 L1111.6 1425.3 L1106.2 1434.1 L1098 1441.4 L1095 1451.4 L1087.4 1459.1 L1086 1469.8 L1080 1478.2 L1079.2 1489.3 L1075.6 1498.9Z" fill="#33562f"/><path d="M1075 1510 L1120 1418" stroke="#a4bca0" stroke-width="1.1" opacity="0.7"/><path d="M1060 1520 L1064.9 1514.9 L1066.6 1509.2 L1071.3 1504 L1070.8 1498 L1074.9 1492.7 L1072.8 1486.4 L1075.3 1480.8 L1072.6 1474.4 L1072.9 1468.5 L1070 1462 L1065.1 1467.1 L1063.4 1472.8 L1058.7 1478 L1059.2 1484 L1055.1 1489.3 L1057.2 1495.6 L1054.7 1501.2 L1057.4 1507.6 L1057.1 1513.5Z" fill="#33562f"/><path d="M1060 1520 L1070 1462" stroke="#a4bca0" stroke-width="1" opacity="0.7"/><path d="M1050 1525 L1048.1 1520.5 L1045 1518 L1043 1513.5 L1039 1512.5 L1036.8 1508.5 L1032.2 1508.5 L1029.4 1505.5 L1024.6 1506 L1020.9 1504.5 L1016 1505 L1017.9 1509.5 L1021 1512 L1023 1516.5 L1027 1517.5 L1029.2 1521.5 L1033.8 1521.5 L1036.6 1524.5 L1041.4 1524 L1045.1 1525.5Z" fill="#33562f"/><path d="M1050 1525 L1016 1505" stroke="#a4bca0" stroke-width="0.8" opacity="0.7"/><path d="M1075 1540 L1074.3 1545.8 L1076 1550.4 L1075.4 1556.1 L1078.9 1559.7 L1078.8 1565.2 L1083.5 1568.1 L1084.6 1572.9 L1089.8 1575.6 L1092.7 1579.4 L1098 1582 L1098.7 1576.2 L1097 1571.6 L1097.6 1565.9 L1094.1 1562.3 L1094.2 1556.8 L1089.5 1553.9 L1088.4 1549.1 L1083.2 1546.4 L1080.3 1542.6Z" fill="#33562f"/><path d="M1075 1540 L1098 1582" stroke="#a4bca0" stroke-width="0.8" opacity="0.7"/><path d="M1062 1540 L1059.1 1547.3 L1059.3 1554.1 L1056.7 1561.3 L1059.2 1567.8 L1057.1 1575 L1061.2 1581.2 L1060.7 1588.1 L1065.3 1594.3 L1067.1 1600.9 L1072 1607 L1074.9 1599.7 L1074.7 1592.9 L1077.3 1585.7 L1074.8 1579.2 L1076.9 1572 L1072.8 1565.8 L1073.3 1558.9 L1068.7 1552.7 L1066.9 1546.1Z" fill="#33562f"/><path d="M1062 1540 L1072 1607" stroke="#a4bca0" stroke-width="1" opacity="0.7"/><path d="M1050 1540 L1044.8 1542.4 L1042 1546 L1036.9 1548.4 L1035.9 1553.1 L1031.3 1555.8 L1031.5 1561.1 L1028.1 1564.4 L1028.8 1570 L1027.2 1574.4 L1028 1580 L1033.2 1577.6 L1036 1574 L1041.1 1571.6 L1042.1 1566.9 L1046.7 1564.2 L1046.5 1558.9 L1049.9 1555.6 L1049.2 1550 L1050.8 1545.6Z" fill="#33562f"/><path d="M1050 1540 L1028 1580" stroke="#a4bca0" stroke-width="0.8" opacity="0.7"/><path d="M1078 1530 L1078.3 1534.1 L1080.2 1536.3 L1080.6 1540.3 L1083.5 1541.2 L1084.3 1544.8 L1087.9 1544.8 L1089.4 1547.5 L1093.4 1547.1 L1095.9 1548.5 L1100 1548 L1099.7 1543.9 L1097.8 1541.7 L1097.4 1537.7 L1094.5 1536.8 L1093.7 1533.2 L1090.1 1533.2 L1088.6 1530.5 L1084.6 1530.9 L1082.1 1529.5Z" fill="#33562f"/><path d="M1078 1530 L1100 1548" stroke="#a4bca0" stroke-width="0.8" opacity="0.7"/><clipPath id="clip6"><path d="M1036 1525 C1036.1 1523 1038.8 1511.5 1040 1510 C1041.2 1508.5 1049.9 1504.4 1052 1504 C1054.1 1503.6 1065.8 1504.4 1068 1505 C1070.2 1505.6 1080.6 1510.5 1082 1512 C1083.4 1513.5 1087 1523.9 1087 1526 C1087 1528.1 1083.5 1538.5 1082 1540 C1080.5 1541.5 1068.5 1545.6 1066 1546 C1063.5 1546.4 1050 1545.7 1048 1545 C1046 1544.3 1039.9 1538.5 1039 1537 C1038.1 1535.5 1035.9 1527 1036 1525Z"/></clipPath><path d="M1036 1525 C1036.1 1523 1038.8 1511.5 1040 1510 C1041.2 1508.5 1049.9 1504.4 1052 1504 C1054.1 1503.6 1065.8 1504.4 1068 1505 C1070.2 1505.6 1080.6 1510.5 1082 1512 C1083.4 1513.5 1087 1523.9 1087 1526 C1087 1528.1 1083.5 1538.5 1082 1540 C1080.5 1541.5 1068.5 1545.6 1066 1546 C1063.5 1546.4 1050 1545.7 1048 1545 C1046 1544.3 1039.9 1538.5 1039 1537 C1038.1 1535.5 1035.9 1527 1036 1525Z" fill="#d25a9e"/><g clip-path="url(#clip6)"><g filter="url(#bl3)"><ellipse cx="1060" cy="1515" rx="16" ry="8" fill="#e888c0" opacity="0.7" transform="rotate(0 1060 1515)"/><ellipse cx="1044" cy="1528" rx="6" ry="8" fill="#b03c80" opacity="0.7" transform="rotate(0 1044 1528)"/><ellipse cx="1070" cy="1540" rx="14" ry="5" fill="#a83878" opacity="0.5" transform="rotate(0 1070 1540)"/></g></g><path d="M1320 1515 L1327.2 1522.7 L1335.4 1525.9 L1342.6 1533.3 L1351.6 1533.1 L1359.1 1539.6 L1368.6 1537.1 L1376.6 1541.3 L1386.4 1537.9 L1395.2 1538.7 L1405 1535 L1397.8 1527.3 L1389.6 1524.1 L1382.4 1516.7 L1373.4 1516.9 L1365.9 1510.4 L1356.4 1512.9 L1348.4 1508.7 L1338.6 1512.1 L1329.8 1511.3Z" fill="#33562f"/><path d="M1320 1515 L1405 1535" stroke="#a4bca0" stroke-width="1.4" opacity="0.7"/><path d="M1300 1510 L1306.9 1506.2 L1310.7 1500.8 L1317.4 1497 L1318.9 1490.4 L1325 1486.2 L1324.9 1478.8 L1329.4 1473.8 L1328.7 1466 L1330.9 1459.8 L1330 1452 L1323.1 1455.8 L1319.3 1461.2 L1312.6 1465 L1311.1 1471.6 L1305 1475.8 L1305.1 1483.2 L1300.6 1488.2 L1301.3 1496 L1299.1 1502.2Z" fill="#33562f"/><path d="M1300 1510 L1330 1452" stroke="#a4bca0" stroke-width="1.1" opacity="0.7"/><path d="M1285 1515 L1281.2 1508.3 L1275.9 1504.8 L1272 1498.3 L1265.5 1497.2 L1261.3 1491.3 L1254.1 1491.8 L1249.2 1487.5 L1241.7 1488.6 L1235.6 1486.7 L1228 1488 L1231.8 1494.7 L1237.1 1498.2 L1241 1504.7 L1247.5 1505.8 L1251.7 1511.7 L1258.9 1511.2 L1263.8 1515.5 L1271.3 1514.4 L1277.4 1516.3Z" fill="#33562f"/><path d="M1285 1515 L1228 1488" stroke="#a4bca0" stroke-width="1.1" opacity="0.7"/><path d="M1290 1540 L1281.5 1542.7 L1275.2 1547.6 L1266.8 1550.4 L1262 1557 L1254.1 1560.2 L1250.4 1568 L1243.6 1572.4 L1240.4 1580.6 L1235.1 1586.7 L1232 1595 L1240.5 1592.3 L1246.8 1587.4 L1255.2 1584.6 L1260 1578 L1267.9 1574.8 L1271.6 1567 L1278.4 1562.6 L1281.6 1554.4 L1286.9 1548.3Z" fill="#33562f"/><path d="M1290 1540 L1232 1595" stroke="#a4bca0" stroke-width="1" opacity="0.7"/><path d="M1315 1540 L1313.5 1547.4 L1315.2 1553.4 L1313.8 1560.7 L1317.9 1565.6 L1317.2 1572.6 L1322.9 1576.8 L1323.8 1583.1 L1330.2 1587 L1333.5 1592.2 L1340 1596 L1341.5 1588.6 L1339.8 1582.6 L1341.2 1575.3 L1337.1 1570.4 L1337.8 1563.4 L1332.1 1559.2 L1331.2 1552.9 L1324.8 1549 L1321.5 1543.8Z" fill="#33562f"/><path d="M1315 1540 L1340 1596" stroke="#a4bca0" stroke-width="1.1" opacity="0.7"/><path d="M1330 1520 L1335.2 1516.3 L1337.8 1511.5 L1342.9 1507.7 L1343.6 1502.2 L1348.1 1498.2 L1347.6 1492.2 L1350.9 1487.7 L1349.8 1481.5 L1351.2 1476.3 L1350 1470 L1344.8 1473.7 L1342.2 1478.5 L1337.1 1482.3 L1336.4 1487.8 L1331.9 1491.8 L1332.4 1497.8 L1329.1 1502.3 L1330.2 1508.5 L1328.8 1513.7Z" fill="#33562f"/><path d="M1330 1520 L1350 1470" stroke="#a4bca0" stroke-width="0.8" opacity="0.7"/><clipPath id="clip7"><path d="M1257 1512 C1257.4 1510.3 1260.3 1503 1262 1502 C1263.7 1501 1276.8 1499.1 1280 1499 C1283.2 1498.9 1301.7 1499.6 1305 1500 C1308.3 1500.4 1322.8 1503.5 1325 1505 C1327.2 1506.5 1334.4 1517.6 1335 1520 C1335.6 1522.4 1334.1 1535.8 1333 1538 C1331.9 1540.2 1322.8 1548.9 1320 1550 C1317.2 1551.1 1298.3 1553.1 1295 1553 C1291.7 1552.9 1277.4 1549.1 1275 1548 C1272.6 1546.9 1263.4 1539.7 1262 1538 C1260.6 1536.3 1256.4 1526.9 1256 1525 C1255.6 1523.1 1256.6 1513.7 1257 1512Z"/></clipPath><path d="M1257 1512 C1257.4 1510.3 1260.3 1503 1262 1502 C1263.7 1501 1276.8 1499.1 1280 1499 C1283.2 1498.9 1301.7 1499.6 1305 1500 C1308.3 1500.4 1322.8 1503.5 1325 1505 C1327.2 1506.5 1334.4 1517.6 1335 1520 C1335.6 1522.4 1334.1 1535.8 1333 1538 C1331.9 1540.2 1322.8 1548.9 1320 1550 C1317.2 1551.1 1298.3 1553.1 1295 1553 C1291.7 1552.9 1277.4 1549.1 1275 1548 C1272.6 1546.9 1263.4 1539.7 1262 1538 C1260.6 1536.3 1256.4 1526.9 1256 1525 C1255.6 1523.1 1256.6 1513.7 1257 1512Z" fill="#d664a6"/><g clip-path="url(#clip7)"><g filter="url(#bl3)"><ellipse cx="1300" cy="1510" rx="26" ry="8" fill="#ea90c4" opacity="0.7" transform="rotate(0 1300 1510)"/><ellipse cx="1270" cy="1525" rx="10" ry="14" fill="#b84488" opacity="0.7" transform="rotate(0 1270 1525)"/><ellipse cx="1305" cy="1545" rx="24" ry="6" fill="#b04080" opacity="0.5" transform="rotate(0 1305 1545)"/></g><path d="M1262 1512 C1263.7 1511.3 1269 1507.3 1272 1508 C1275 1508.7 1279.3 1512.7 1280 1516 C1280.7 1519.3 1278 1525.7 1276 1528 C1274 1530.3 1269.3 1529.7 1268 1530" fill="none" stroke="#b03c80" stroke-width="1.6" opacity="0.8" stroke-linecap="round"/><path d="M1280 1503 C1281.3 1505 1287 1509.7 1288 1515 C1289 1520.3 1286.3 1531.7 1286 1535" fill="none" stroke="#c04c90" stroke-width="1.4" opacity="0.7" stroke-linecap="round"/></g>
<path d="M1070.2 776.8 Q1091.3 819.8 1114 862 Q1087.3 822 1065.8 779.2Z" fill="#4b8a3a"/><path d="M1061.6 781.9 Q1030.7 813.1 993 836 Q1027.9 809.6 1058.4 778.1Z" fill="#5a9444"/><path d="M1061 781.2 Q1030.4 812.7 993 836" fill="none" stroke="#a0c090" stroke-width="1" opacity="0.8"/><path d="M1058 782 L1055.3 792.7 L1054.9 803.3 L1052.3 813.9 L1053.6 824.5 L1051.5 835.1 L1054 845.7 L1053.1 856.3 L1056.1 866.9 L1056.9 877.5 L1060 888 L1062.7 877.3 L1063.1 866.7 L1065.7 856.1 L1064.4 845.5 L1066.5 834.9 L1064 824.3 L1064.9 813.7 L1061.9 803.1 L1061.1 792.5Z" fill="#3d7232"/><path d="M1058 782 L1060 888" stroke="#9fbf90" stroke-width="0.8" opacity="0.7"/><path d="M1065 779.5 Q1067.1 816.2 1074 852 Q1061.7 817 1059 780.5Z" fill="#4f8a3c"/><path d="M1063.8 779.7 Q1066.5 816.3 1074 852" fill="none" stroke="#b0c8a8" stroke-width="1" opacity="0.8"/><path d="M1067.6 776.1 Q1092.8 792.9 1113 816 Q1090 796.4 1064.4 779.9Z" fill="#4f8a3c"/><path d="M1070 778 L1075 784 L1080.8 788.7 L1085.8 794.6 L1092.4 798.4 L1097.6 804.1 L1104.6 807.2 L1110.2 812.2 L1117.4 815.1 L1123.8 819.2 L1131 822 L1126 816 L1120.2 811.3 L1115.2 805.4 L1108.6 801.6 L1103.4 795.9 L1096.4 792.8 L1090.8 787.8 L1083.6 784.9 L1077.2 780.8Z" fill="#3f7a30"/><path d="M1070 778 L1131 822" stroke="#a0c090" stroke-width="0.8" opacity="0.7"/><path d="M1082.4 775.4 Q1085.4 809.8 1097 842 Q1081 810.9 1077.6 776.6Z" fill="#9fc0a0"/><clipPath id="clip8"><path d="M955 707.6 C955.6 704.9 960.7 702 963.8 701.3 C966.9 700.6 994.7 699 997.6 697.6 C1000.5 696.2 1002.4 684.1 1004 682 C1005.6 679.9 1017 669.8 1020 668.8 C1023 667.8 1042.1 667.2 1045 668 C1047.9 668.8 1057.6 679.9 1060 680 C1062.4 680.1 1075.7 670.9 1078 670 C1080.3 669.1 1089.9 667.1 1091.5 667.5 C1093.1 667.9 1099 673.3 1100 675 C1101 676.7 1103.8 690.2 1105.3 691.3 C1106.8 692.4 1117.4 691.1 1120 690 C1122.6 688.9 1138.4 677 1140.4 676.3 C1142.4 675.6 1145.8 678.7 1146.6 680.7 C1147.4 682.7 1151.5 700.9 1151.6 703.8 C1151.7 706.7 1148.8 717.5 1148 720 C1147.2 722.5 1142.6 734.8 1140.4 737.7 C1138.2 740.6 1121.5 757.3 1117.8 760.2 C1114.1 763.1 1094.5 775.9 1090.3 777.7 C1086.1 779.5 1062.9 784.6 1060 785 C1057.1 785.4 1053.9 783.4 1050.2 782.7 C1046.5 782 1016.4 776.9 1010 775.2 C1003.6 773.6 966.5 763 962.5 760.2 C958.5 757.5 955.5 741.6 955 737.7 C954.5 733.8 954.4 710.3 955 707.6Z"/></clipPath><path d="M955 707.6 C955.6 704.9 960.7 702 963.8 701.3 C966.9 700.6 994.7 699 997.6 697.6 C1000.5 696.2 1002.4 684.1 1004 682 C1005.6 679.9 1017 669.8 1020 668.8 C1023 667.8 1042.1 667.2 1045 668 C1047.9 668.8 1057.6 679.9 1060 680 C1062.4 680.1 1075.7 670.9 1078 670 C1080.3 669.1 1089.9 667.1 1091.5 667.5 C1093.1 667.9 1099 673.3 1100 675 C1101 676.7 1103.8 690.2 1105.3 691.3 C1106.8 692.4 1117.4 691.1 1120 690 C1122.6 688.9 1138.4 677 1140.4 676.3 C1142.4 675.6 1145.8 678.7 1146.6 680.7 C1147.4 682.7 1151.5 700.9 1151.6 703.8 C1151.7 706.7 1148.8 717.5 1148 720 C1147.2 722.5 1142.6 734.8 1140.4 737.7 C1138.2 740.6 1121.5 757.3 1117.8 760.2 C1114.1 763.1 1094.5 775.9 1090.3 777.7 C1086.1 779.5 1062.9 784.6 1060 785 C1057.1 785.4 1053.9 783.4 1050.2 782.7 C1046.5 782 1016.4 776.9 1010 775.2 C1003.6 773.6 966.5 763 962.5 760.2 C958.5 757.5 955.5 741.6 955 737.7 C954.5 733.8 954.4 710.3 955 707.6Z" fill="#b458b0"/><g clip-path="url(#clip8)"><g filter="url(#bl6)"><ellipse cx="1060" cy="720" rx="40" ry="30" fill="#c468c0" opacity="0.6" transform="rotate(0 1060 720)"/></g></g><clipPath id="clip9"><path d="M997.6 697.6 C996.4 695.4 1002.4 684.1 1004 682 C1005.6 679.9 1017 669.8 1020 668.8 C1023 667.8 1042.1 667.2 1045 668 C1047.9 668.8 1059.2 677.7 1060 680 C1060.8 682.3 1057.3 697.6 1056 700 C1054.7 702.4 1045.3 711.7 1042.7 712.6 C1040.1 713.5 1023.3 713.1 1020 712 C1016.7 710.9 998.8 699.8 997.6 697.6Z"/></clipPath><path d="M997.6 697.6 C996.4 695.4 1002.4 684.1 1004 682 C1005.6 679.9 1017 669.8 1020 668.8 C1023 667.8 1042.1 667.2 1045 668 C1047.9 668.8 1059.2 677.7 1060 680 C1060.8 682.3 1057.3 697.6 1056 700 C1054.7 702.4 1045.3 711.7 1042.7 712.6 C1040.1 713.5 1023.3 713.1 1020 712 C1016.7 710.9 998.8 699.8 997.6 697.6Z" fill="#d674d0"/><g clip-path="url(#clip9)"><g filter="url(#bl4)"><ellipse cx="1030" cy="690" rx="14" ry="10" fill="#e9a0e6" opacity="0.7" transform="rotate(0 1030 690)"/><ellipse cx="1048" cy="705" rx="10" ry="8" fill="#b04aa8" opacity="0.5" transform="rotate(0 1048 705)"/></g></g><clipPath id="clip10"><path d="M1062.7 680 C1063.4 677.8 1075.9 670.9 1078 670 C1080.1 669.1 1089.9 667.1 1091.5 667.5 C1093.1 667.9 1099 673.3 1100 675 C1101 676.7 1105.7 689.3 1105.3 691.3 C1104.9 693.3 1096.7 700.9 1095 702 C1093.3 703.1 1083.5 706.4 1081.5 706.3 C1079.5 706.2 1069.4 701.9 1068 700 C1066.6 698.1 1062 682.2 1062.7 680Z"/></clipPath><path d="M1062.7 680 C1063.4 677.8 1075.9 670.9 1078 670 C1080.1 669.1 1089.9 667.1 1091.5 667.5 C1093.1 667.9 1099 673.3 1100 675 C1101 676.7 1105.7 689.3 1105.3 691.3 C1104.9 693.3 1096.7 700.9 1095 702 C1093.3 703.1 1083.5 706.4 1081.5 706.3 C1079.5 706.2 1069.4 701.9 1068 700 C1066.6 698.1 1062 682.2 1062.7 680Z" fill="#d26cce"/><g clip-path="url(#clip10)"><g filter="url(#bl4)"><ellipse cx="1085" cy="685" rx="10" ry="9" fill="#e898e4" opacity="0.6" transform="rotate(0 1085 685)"/></g></g><clipPath id="clip11"><path d="M1095.3 708.9 C1097.6 705.2 1116.7 692.4 1120 690 C1123.3 687.6 1138.4 677 1140.4 676.3 C1142.4 675.6 1145.8 678.7 1146.6 680.7 C1147.4 682.7 1151.5 700.9 1151.6 703.8 C1151.7 706.7 1148.8 717.5 1148 720 C1147.2 722.5 1142.6 734.8 1140.4 737.7 C1138.2 740.6 1121.5 757.3 1117.8 760.2 C1114.1 763.1 1092.5 779.2 1090.3 777.7 C1088.1 776.2 1087.6 745 1088 740 C1088.4 735 1093 712.6 1095.3 708.9Z"/></clipPath><path d="M1095.3 708.9 C1097.6 705.2 1116.7 692.4 1120 690 C1123.3 687.6 1138.4 677 1140.4 676.3 C1142.4 675.6 1145.8 678.7 1146.6 680.7 C1147.4 682.7 1151.5 700.9 1151.6 703.8 C1151.7 706.7 1148.8 717.5 1148 720 C1147.2 722.5 1142.6 734.8 1140.4 737.7 C1138.2 740.6 1121.5 757.3 1117.8 760.2 C1114.1 763.1 1092.5 779.2 1090.3 777.7 C1088.1 776.2 1087.6 745 1088 740 C1088.4 735 1093 712.6 1095.3 708.9Z" fill="#d884dc"/><g clip-path="url(#clip11)"><g filter="url(#bl4)"><ellipse cx="1128" cy="712" rx="16" ry="22" fill="#e6a6ea" opacity="0.7" transform="rotate(0 1128 712)"/><ellipse cx="1100" cy="760" rx="12" ry="10" fill="#b860b8" opacity="0.5" transform="rotate(0 1100 760)"/></g></g><clipPath id="clip12"><path d="M955 707.6 C955.6 704.9 961.6 702.1 963.8 701.3 C966 700.5 981.6 697.3 985 697 C988.4 696.7 1005.8 696.3 1010 697.6 C1014.2 698.9 1040.7 710.3 1042.7 715.1 C1044.7 719.9 1037.2 757.7 1037.7 762.7 C1038.2 767.7 1052.2 781.8 1050.2 782.7 C1048.2 783.6 1016.4 776.9 1010 775.2 C1003.6 773.6 966.5 763 962.5 760.2 C958.5 757.5 955.5 741.6 955 737.7 C954.5 733.8 954.4 710.3 955 707.6Z"/></clipPath><path d="M955 707.6 C955.6 704.9 961.6 702.1 963.8 701.3 C966 700.5 981.6 697.3 985 697 C988.4 696.7 1005.8 696.3 1010 697.6 C1014.2 698.9 1040.7 710.3 1042.7 715.1 C1044.7 719.9 1037.2 757.7 1037.7 762.7 C1038.2 767.7 1052.2 781.8 1050.2 782.7 C1048.2 783.6 1016.4 776.9 1010 775.2 C1003.6 773.6 966.5 763 962.5 760.2 C958.5 757.5 955.5 741.6 955 737.7 C954.5 733.8 954.4 710.3 955 707.6Z" fill="#d57ad6"/><g clip-path="url(#clip12)"><g filter="url(#bl4)"><ellipse cx="985" cy="720" rx="24" ry="14" fill="#e8a4ea" opacity="0.8" transform="rotate(0 985 720)"/><ellipse cx="1020" cy="760" rx="18" ry="12" fill="#b055a8" opacity="0.6" transform="rotate(0 1020 760)"/><ellipse cx="975" cy="750" rx="15" ry="8" fill="#e096e0" opacity="0.6" transform="rotate(0 975 750)"/></g><path d="M963 702 C969.2 704.3 987.8 708.8 1000 716 C1012.2 723.2 1030 740.2 1036 745" fill="none" stroke="#f2c4f0" stroke-width="1.5" opacity="0.7" stroke-linecap="round"/></g><clipPath id="clip13"><path d="M1037.7 725.1 C1038.6 720.8 1048 706.8 1050 704 C1052 701.2 1063.1 686.6 1065.2 686.3 C1067.3 686 1076.4 697.7 1079 700 C1081.6 702.3 1096.9 715.2 1100 718 C1103.1 720.8 1122.6 733.7 1121.6 737.7 C1120.6 741.7 1091 769.2 1086.5 772.7 C1082 776.2 1062.9 784.5 1060 785 C1057.1 785.5 1048 781.8 1046.4 780.2 C1044.8 778.6 1038.3 766.7 1037.7 762.7 C1037.1 758.7 1036.8 729.4 1037.7 725.1Z"/></clipPath><path d="M1037.7 725.1 C1038.6 720.8 1048 706.8 1050 704 C1052 701.2 1063.1 686.6 1065.2 686.3 C1067.3 686 1076.4 697.7 1079 700 C1081.6 702.3 1096.9 715.2 1100 718 C1103.1 720.8 1122.6 733.7 1121.6 737.7 C1120.6 741.7 1091 769.2 1086.5 772.7 C1082 776.2 1062.9 784.5 1060 785 C1057.1 785.5 1048 781.8 1046.4 780.2 C1044.8 778.6 1038.3 766.7 1037.7 762.7 C1037.1 758.7 1036.8 729.4 1037.7 725.1Z" fill="#cf60c0"/><g clip-path="url(#clip13)"><g filter="url(#bl4)"><ellipse cx="1065" cy="745" rx="16" ry="26" fill="#b8409e" opacity="0.7" transform="rotate(0 1065 745)"/><ellipse cx="1092" cy="735" rx="14" ry="12" fill="#e28ad8" opacity="0.7" transform="rotate(0 1092 735)"/><ellipse cx="1062" cy="782" rx="14" ry="6" fill="#e8d0e0" opacity="0.6" transform="rotate(0 1062 782)"/></g><path d="M1040 726 C1043.8 720 1056.7 694 1063 690 C1069.3 686 1075.5 700 1078 702" fill="none" stroke="#f4c8f2" stroke-width="1.6" opacity="0.8" stroke-linecap="round"/><path d="M1079 701 C1083.3 704.5 1098 715.8 1105 722 C1112 728.2 1118.3 735.3 1121 738" fill="none" stroke="#f0c0f0" stroke-width="1.4" opacity="0.7" stroke-linecap="round"/></g>
<path d="M1325 805 L1324.8 810.3 L1326.3 814.8 L1326.2 820.1 L1329.1 824 L1329.3 829.1 L1333.1 832.6 L1334.2 837.3 L1338.3 840.6 L1340.8 844.7 L1345 848 L1345.2 842.7 L1343.7 838.2 L1343.8 832.9 L1340.9 829 L1340.7 823.9 L1336.9 820.4 L1335.8 815.7 L1331.7 812.4 L1329.2 808.3Z" fill="#3d7030"/><path d="M1325 805 L1345 848" stroke="#90b080" stroke-width="0.8" opacity="0.7"/><path d="M1324 810.4 Q1320.8 824.4 1316 838 Q1317.2 823.6 1320 809.6Z" fill="#6a8a5a"/><clipPath id="clip14"><path d="M1200.7 686.2 C1203.3 681.9 1236.1 662.8 1240.6 661.5 C1245.1 660.2 1259.4 668.4 1262 668 C1264.6 667.6 1272.6 657.3 1275.6 656 C1278.6 654.7 1299.7 649.8 1302.7 650.4 C1305.7 651 1313.1 663.9 1317 664 C1320.9 664.1 1351.7 649.8 1355.3 652 C1358.9 654.2 1361.9 692.2 1366.5 694.2 C1371.1 696.2 1413.4 678.4 1417.5 679 C1421.6 679.6 1420.4 697.3 1422.2 702.2 C1424 707.1 1442.1 740.2 1441.4 745.2 C1440.7 750.2 1412.5 767.7 1412.7 770.7 C1412.9 773.7 1444.4 784.3 1444.5 786.6 C1444.6 788.9 1418.9 801.3 1414.3 802.5 C1409.7 803.7 1387 802.8 1382.4 802.5 C1377.8 802.2 1355.7 796.4 1352.1 797.8 C1348.5 799.2 1335.6 820.2 1333 821.7 C1330.4 823.2 1321 817.9 1317 818.5 C1313 819.1 1284.5 831.6 1278.8 830.4 C1273.1 829.2 1243 804 1239 802.5 C1235 801 1227.8 812.3 1224.6 810.5 C1221.4 808.7 1198.8 781.5 1196 778.6 C1193.2 775.7 1186.9 772.3 1186.4 770.7 C1185.9 769.1 1188.9 758.4 1189.6 756.3 C1190.3 754.2 1195.3 743.8 1196 742 C1196.7 740.2 1198.3 734 1199 732.4 C1199.7 730.8 1204.9 723.4 1205 720 C1205.1 716.6 1198.1 690.5 1200.7 686.2Z"/></clipPath><path d="M1200.7 686.2 C1203.3 681.9 1236.1 662.8 1240.6 661.5 C1245.1 660.2 1259.4 668.4 1262 668 C1264.6 667.6 1272.6 657.3 1275.6 656 C1278.6 654.7 1299.7 649.8 1302.7 650.4 C1305.7 651 1313.1 663.9 1317 664 C1320.9 664.1 1351.7 649.8 1355.3 652 C1358.9 654.2 1361.9 692.2 1366.5 694.2 C1371.1 696.2 1413.4 678.4 1417.5 679 C1421.6 679.6 1420.4 697.3 1422.2 702.2 C1424 707.1 1442.1 740.2 1441.4 745.2 C1440.7 750.2 1412.5 767.7 1412.7 770.7 C1412.9 773.7 1444.4 784.3 1444.5 786.6 C1444.6 788.9 1418.9 801.3 1414.3 802.5 C1409.7 803.7 1387 802.8 1382.4 802.5 C1377.8 802.2 1355.7 796.4 1352.1 797.8 C1348.5 799.2 1335.6 820.2 1333 821.7 C1330.4 823.2 1321 817.9 1317 818.5 C1313 819.1 1284.5 831.6 1278.8 830.4 C1273.1 829.2 1243 804 1239 802.5 C1235 801 1227.8 812.3 1224.6 810.5 C1221.4 808.7 1198.8 781.5 1196 778.6 C1193.2 775.7 1186.9 772.3 1186.4 770.7 C1185.9 769.1 1188.9 758.4 1189.6 756.3 C1190.3 754.2 1195.3 743.8 1196 742 C1196.7 740.2 1198.3 734 1199 732.4 C1199.7 730.8 1204.9 723.4 1205 720 C1205.1 716.6 1198.1 690.5 1200.7 686.2Z" fill="#c868c8"/><g clip-path="url(#clip14)"><g filter="url(#bl6)"><ellipse cx="1300" cy="740" rx="60" ry="40" fill="#d890d8" opacity="0.6" transform="rotate(0 1300 740)"/></g></g><clipPath id="clip15"><path d="M1259.7 675 C1260.4 671.7 1267.6 660.5 1269.2 659.1 C1270.8 657.7 1280.1 656 1282 656 C1283.9 656 1293.2 659.5 1294.7 659.1 C1296.2 658.7 1301.2 650.4 1302.7 650.4 C1304.2 650.4 1314 657.5 1315.5 659.1 C1317 660.7 1322.2 669.6 1323.4 671.9 C1324.6 674.2 1331.6 686.8 1331.4 691 C1331.2 695.2 1323.1 725.5 1320.2 729.2 C1317.3 732.9 1295.3 742 1291.6 742 C1287.9 742 1271.5 732 1269.2 729.2 C1266.9 726.4 1260.4 707.7 1259.7 703.7 C1259 699.7 1259 678.3 1259.7 675Z"/></clipPath><path d="M1259.7 675 C1260.4 671.7 1267.6 660.5 1269.2 659.1 C1270.8 657.7 1280.1 656 1282 656 C1283.9 656 1293.2 659.5 1294.7 659.1 C1296.2 658.7 1301.2 650.4 1302.7 650.4 C1304.2 650.4 1314 657.5 1315.5 659.1 C1317 660.7 1322.2 669.6 1323.4 671.9 C1324.6 674.2 1331.6 686.8 1331.4 691 C1331.2 695.2 1323.1 725.5 1320.2 729.2 C1317.3 732.9 1295.3 742 1291.6 742 C1287.9 742 1271.5 732 1269.2 729.2 C1266.9 726.4 1260.4 707.7 1259.7 703.7 C1259 699.7 1259 678.3 1259.7 675Z" fill="#e4a0e4"/><g clip-path="url(#clip15)"><g filter="url(#bl4)"><ellipse cx="1290" cy="690" rx="22" ry="24" fill="#f0c0f0" opacity="0.7" transform="rotate(0 1290 690)"/><ellipse cx="1310" cy="720" rx="10" ry="14" fill="#d078d0" opacity="0.5" transform="rotate(0 1310 720)"/></g><path d="M1259.7 675 C1261.3 672.4 1265.5 662.3 1269.2 659.1 C1272.9 655.9 1279.9 656.5 1282 656" fill="none" stroke="#f4c8f4" stroke-width="1.2" opacity="0.6" stroke-linecap="round"/></g><clipPath id="clip16"><path d="M1200.7 686.2 C1203 683.6 1224.9 683.2 1227.8 681.4 C1230.7 679.6 1238.5 661.6 1240.6 661.5 C1242.7 661.4 1253.9 675.8 1256.5 679.8 C1259.1 683.8 1274 712.4 1275.6 716.5 C1277.2 720.6 1280.6 734.7 1278.8 735.6 C1277 736.5 1255.4 729.7 1251.7 729.2 C1248 728.7 1231.9 730.1 1227.8 729.2 C1223.7 728.3 1198 719.7 1196 716.5 C1194 713.3 1198.4 688.8 1200.7 686.2Z"/></clipPath><path d="M1200.7 686.2 C1203 683.6 1224.9 683.2 1227.8 681.4 C1230.7 679.6 1238.5 661.6 1240.6 661.5 C1242.7 661.4 1253.9 675.8 1256.5 679.8 C1259.1 683.8 1274 712.4 1275.6 716.5 C1277.2 720.6 1280.6 734.7 1278.8 735.6 C1277 736.5 1255.4 729.7 1251.7 729.2 C1248 728.7 1231.9 730.1 1227.8 729.2 C1223.7 728.3 1198 719.7 1196 716.5 C1194 713.3 1198.4 688.8 1200.7 686.2Z" fill="#da7eda"/><g clip-path="url(#clip16)"><g filter="url(#bl4)"><ellipse cx="1235" cy="705" rx="18" ry="14" fill="#e8a4e8" opacity="0.7" transform="rotate(0 1235 705)"/></g><path d="M1200.7 686.2 C1205.2 685.4 1221.2 685.5 1227.8 681.4 C1234.4 677.3 1238.5 664.8 1240.6 661.5" fill="none" stroke="#f4c8f4" stroke-width="1.2" opacity="0.6" stroke-linecap="round"/></g><clipPath id="clip17"><path d="M1323.4 687.8 C1325.2 681.4 1352.1 651.5 1355.3 652 C1358.5 652.5 1366.5 689.2 1366.5 694.2 C1366.5 699.2 1357.9 716.4 1355.3 719.7 C1352.7 723 1333.7 741.1 1331.4 738.8 C1329.1 736.5 1321.6 694.2 1323.4 687.8Z"/></clipPath><path d="M1323.4 687.8 C1325.2 681.4 1352.1 651.5 1355.3 652 C1358.5 652.5 1366.5 689.2 1366.5 694.2 C1366.5 699.2 1357.9 716.4 1355.3 719.7 C1352.7 723 1333.7 741.1 1331.4 738.8 C1329.1 736.5 1321.6 694.2 1323.4 687.8Z" fill="#dc82dc"/><g clip-path="url(#clip17)"><g filter="url(#bl4)"><ellipse cx="1350" cy="690" rx="8" ry="20" fill="#eaa8ea" opacity="0.6" transform="rotate(0 1350 690)"/></g><path d="M1323.4 687.8 C1328.7 681.8 1348.1 650.9 1355.3 652 C1362.5 653.1 1364.6 687.2 1366.5 694.2" fill="none" stroke="#f4c8f4" stroke-width="1.2" opacity="0.6" stroke-linecap="round"/></g><clipPath id="clip18"><path d="M1339.4 738.8 C1341.2 735.4 1365.5 716.1 1371.2 711.7 C1376.9 707.3 1413.8 679.7 1417.5 679 C1421.2 678.3 1420.4 697.3 1422.2 702.2 C1424 707.1 1444 741.6 1441.4 745.2 C1438.8 748.8 1394.1 750.7 1387.2 751.6 C1380.3 752.5 1350.8 758.8 1347.3 757.9 C1343.8 757 1337.6 742.2 1339.4 738.8Z"/></clipPath><path d="M1339.4 738.8 C1341.2 735.4 1365.5 716.1 1371.2 711.7 C1376.9 707.3 1413.8 679.7 1417.5 679 C1421.2 678.3 1420.4 697.3 1422.2 702.2 C1424 707.1 1444 741.6 1441.4 745.2 C1438.8 748.8 1394.1 750.7 1387.2 751.6 C1380.3 752.5 1350.8 758.8 1347.3 757.9 C1343.8 757 1337.6 742.2 1339.4 738.8Z" fill="#de86e0"/><g clip-path="url(#clip18)"><g filter="url(#bl4)"><ellipse cx="1400" cy="715" rx="16" ry="14" fill="#eeb0ee" opacity="0.7" transform="rotate(0 1400 715)"/></g><path d="M1339.4 738.8 C1344.7 734.3 1358.2 721.7 1371.2 711.7 C1384.2 701.7 1409.8 684.5 1417.5 679" fill="none" stroke="#f4c8f4" stroke-width="1.2" opacity="0.6" stroke-linecap="round"/></g><clipPath id="clip19"><path d="M1195 735.6 C1196.8 734.1 1221.9 733.5 1227.8 734 C1233.7 734.5 1270.9 740.7 1275.6 742 C1280.3 743.3 1292.8 750.2 1291.6 751.6 C1290.4 753 1264.4 760.6 1259.7 761.1 C1255 761.6 1231.9 758.4 1227.8 757.9 C1223.7 757.4 1206.3 756.3 1203.9 754.7 C1201.5 753.1 1193.2 737.1 1195 735.6Z"/></clipPath><path d="M1195 735.6 C1196.8 734.1 1221.9 733.5 1227.8 734 C1233.7 734.5 1270.9 740.7 1275.6 742 C1280.3 743.3 1292.8 750.2 1291.6 751.6 C1290.4 753 1264.4 760.6 1259.7 761.1 C1255 761.6 1231.9 758.4 1227.8 757.9 C1223.7 757.4 1206.3 756.3 1203.9 754.7 C1201.5 753.1 1193.2 737.1 1195 735.6Z" fill="#e08ce0"/><g clip-path="url(#clip19)"><g filter="url(#bl4)"><ellipse cx="1235" cy="745" rx="22" ry="6" fill="#f0bcf0" opacity="0.7" transform="rotate(0 1235 745)"/></g><path d="M1195 735.6 C1200.5 735.3 1214.4 732.9 1227.8 734 C1241.2 735.1 1267.6 740.7 1275.6 742" fill="none" stroke="#f4c8f4" stroke-width="1.2" opacity="0.6" stroke-linecap="round"/></g><clipPath id="clip20"><path d="M1186.4 770.7 C1185.9 769.1 1185.4 757 1189.6 756.3 C1193.8 755.6 1238 760 1243.7 761.1 C1249.4 762.2 1265.3 768.5 1267.6 770.7 C1269.9 772.9 1277.4 789.3 1275.6 791.4 C1273.8 793.5 1247.4 798 1243.7 799.4 C1240 800.8 1228.1 812 1224.6 810.5 C1221.1 809 1198.8 781.5 1196 778.6 C1193.2 775.7 1186.9 772.3 1186.4 770.7Z"/></clipPath><path d="M1186.4 770.7 C1185.9 769.1 1185.4 757 1189.6 756.3 C1193.8 755.6 1238 760 1243.7 761.1 C1249.4 762.2 1265.3 768.5 1267.6 770.7 C1269.9 772.9 1277.4 789.3 1275.6 791.4 C1273.8 793.5 1247.4 798 1243.7 799.4 C1240 800.8 1228.1 812 1224.6 810.5 C1221.1 809 1198.8 781.5 1196 778.6 C1193.2 775.7 1186.9 772.3 1186.4 770.7Z" fill="#d87ad8"/><g clip-path="url(#clip20)"><g filter="url(#bl4)"><ellipse cx="1225" cy="775" rx="20" ry="10" fill="#e69ee6" opacity="0.6" transform="rotate(0 1225 775)"/></g><path d="M1186.4 770.7 C1186.9 768.3 1180 757.9 1189.6 756.3 C1199.1 754.7 1234.7 760.3 1243.7 761.1" fill="none" stroke="#f4c8f4" stroke-width="1.2" opacity="0.6" stroke-linecap="round"/></g><clipPath id="clip21"><path d="M1239 802.5 C1238.3 799.1 1264.2 785.2 1269.2 783.4 C1274.2 781.6 1302.8 778.6 1307.5 778.6 C1312.2 778.6 1331.1 780.2 1333 783.4 C1334.9 786.6 1334.2 819.1 1333 821.7 C1331.8 824.3 1321 817.9 1317 818.5 C1313 819.1 1284.5 831.6 1278.8 830.4 C1273.1 829.2 1239.7 805.9 1239 802.5Z"/></clipPath><path d="M1239 802.5 C1238.3 799.1 1264.2 785.2 1269.2 783.4 C1274.2 781.6 1302.8 778.6 1307.5 778.6 C1312.2 778.6 1331.1 780.2 1333 783.4 C1334.9 786.6 1334.2 819.1 1333 821.7 C1331.8 824.3 1321 817.9 1317 818.5 C1313 819.1 1284.5 831.6 1278.8 830.4 C1273.1 829.2 1239.7 805.9 1239 802.5Z" fill="#d276d2"/><g clip-path="url(#clip21)"><g filter="url(#bl4)"><ellipse cx="1290" cy="800" rx="20" ry="10" fill="#e29ae2" opacity="0.6" transform="rotate(0 1290 800)"/></g><path d="M1239 802.5 C1244 799.3 1257.8 787.4 1269.2 783.4 C1280.6 779.4 1301.1 779.4 1307.5 778.6" fill="none" stroke="#f4c8f4" stroke-width="1.2" opacity="0.6" stroke-linecap="round"/></g><clipPath id="clip22"><path d="M1331.4 770.7 C1332.8 768 1365.2 761.1 1371.2 761.1 C1377.2 761.1 1407.3 768.8 1412.7 770.7 C1418.1 772.6 1444.4 784.3 1444.5 786.6 C1444.6 788.9 1418.9 801.3 1414.3 802.5 C1409.7 803.7 1387 802.8 1382.4 802.5 C1377.8 802.2 1355.8 800.1 1352.1 797.8 C1348.4 795.5 1330 773.4 1331.4 770.7Z"/></clipPath><path d="M1331.4 770.7 C1332.8 768 1365.2 761.1 1371.2 761.1 C1377.2 761.1 1407.3 768.8 1412.7 770.7 C1418.1 772.6 1444.4 784.3 1444.5 786.6 C1444.6 788.9 1418.9 801.3 1414.3 802.5 C1409.7 803.7 1387 802.8 1382.4 802.5 C1377.8 802.2 1355.8 800.1 1352.1 797.8 C1348.4 795.5 1330 773.4 1331.4 770.7Z" fill="#dc82dc"/><g clip-path="url(#clip22)"><g filter="url(#bl4)"><ellipse cx="1390" cy="780" rx="22" ry="8" fill="#eaa8ea" opacity="0.6" transform="rotate(0 1390 780)"/></g><path d="M1331.4 770.7 C1338 769.1 1357.7 761.1 1371.2 761.1 C1384.8 761.1 1405.8 769.1 1412.7 770.7" fill="none" stroke="#f4c8f4" stroke-width="1.2" opacity="0.6" stroke-linecap="round"/></g><clipPath id="clip23"><path d="M1253.3 757.9 C1255.6 756.5 1285.9 748.8 1291.6 748.4 C1297.3 748 1327.7 752.3 1331.4 753.1 C1335.1 753.9 1342.6 758.2 1342.6 759.5 C1342.6 760.8 1335.1 769.3 1331.4 770.7 C1327.7 772.1 1296.9 778.8 1291.6 778.6 C1286.3 778.4 1262.5 769 1259.7 767.5 C1256.9 766 1251 759.3 1253.3 757.9Z"/></clipPath><path d="M1253.3 757.9 C1255.6 756.5 1285.9 748.8 1291.6 748.4 C1297.3 748 1327.7 752.3 1331.4 753.1 C1335.1 753.9 1342.6 758.2 1342.6 759.5 C1342.6 760.8 1335.1 769.3 1331.4 770.7 C1327.7 772.1 1296.9 778.8 1291.6 778.6 C1286.3 778.4 1262.5 769 1259.7 767.5 C1256.9 766 1251 759.3 1253.3 757.9Z" fill="#e8a6e8"/><g clip-path="url(#clip23)"><g filter="url(#bl4)"><ellipse cx="1295" cy="760" rx="26" ry="6" fill="#f6d0f6" opacity="0.8" transform="rotate(0 1295 760)"/></g><path d="M1253.3 757.9 C1259.7 756.3 1278.6 749.2 1291.6 748.4 C1304.6 747.6 1324.8 752.3 1331.4 753.1" fill="none" stroke="#f4c8f4" stroke-width="1.2" opacity="0.6" stroke-linecap="round"/></g>
<path d="M1000 930 L997.7 926.6 L995 925.5 L992.7 922.3 L989.7 922.9 L987.3 920.1 L984.1 921.9 L981.5 920.3 L978.2 922.5 L975.3 922.6 L972 925 L974.3 928.4 L977 929.5 L979.3 932.7 L982.3 932.1 L984.7 934.9 L987.9 933.1 L990.5 934.7 L993.8 932.5 L996.7 932.4Z" fill="#3a6a30"/><path d="M1000 930 L972 925" stroke="#8fb080" stroke-width="0.8" opacity="0.7"/><clipPath id="clip24"><path d="M1028.9 891.3 C1031.6 891.8 1047.3 906 1050.1 906.3 C1052.9 906.6 1064.8 896.8 1067.7 895.7 C1070.6 894.6 1086.3 890.8 1090.2 891.3 C1094.1 891.8 1117.6 900.9 1120.3 902.5 C1123 904.1 1123.4 913.7 1126.5 913.8 C1129.6 913.9 1158.8 902.8 1162.8 903.8 C1166.8 904.8 1180.2 925 1181.6 927.6 C1183 930.2 1182.1 937.6 1181.6 938.9 C1181.1 940.2 1175.7 943.4 1175.4 945 C1175.1 946.6 1177.9 957.5 1177.9 960.1 C1177.9 962.7 1176.3 977.8 1175.4 980.2 C1174.5 982.6 1167.8 991.1 1165.3 992.7 C1162.8 994.4 1143.3 1000.3 1141.5 1002.7 C1139.7 1005.1 1140.9 1021.5 1140.3 1025.3 C1139.7 1029.1 1134.3 1051.1 1132.8 1054 C1131.3 1056.9 1122.6 1063.2 1120.3 1065.3 C1118 1067.4 1104.4 1081.3 1101.5 1082.8 C1098.6 1084.3 1082.9 1085.7 1080.2 1085.4 C1077.5 1085.1 1066.6 1081.7 1065.2 1079.1 C1063.8 1076.5 1062.7 1052 1061.4 1050.3 C1060.1 1048.6 1050.9 1056.8 1047.6 1055.3 C1044.3 1053.8 1019.7 1033.1 1016.3 1030.3 C1012.9 1027.5 1002.3 1019.4 1001.3 1017.7 C1000.3 1016 1003.2 1008 1002.6 1006.5 C1002 1005 993.3 1000 992.5 997.7 C991.7 995.4 991.9 977.2 991.3 975.2 C990.7 973.2 984.1 973.1 983.8 970.2 C983.5 967.3 986.3 938 987.5 935.1 C988.7 932.2 999.1 932.7 1000 931.3 C1000.9 929.9 999 918.6 1000 916.3 C1001 914 1011.7 901.8 1013.8 900 C1015.9 898.2 1026.2 890.8 1028.9 891.3Z"/></clipPath><path d="M1028.9 891.3 C1031.6 891.8 1047.3 906 1050.1 906.3 C1052.9 906.6 1064.8 896.8 1067.7 895.7 C1070.6 894.6 1086.3 890.8 1090.2 891.3 C1094.1 891.8 1117.6 900.9 1120.3 902.5 C1123 904.1 1123.4 913.7 1126.5 913.8 C1129.6 913.9 1158.8 902.8 1162.8 903.8 C1166.8 904.8 1180.2 925 1181.6 927.6 C1183 930.2 1182.1 937.6 1181.6 938.9 C1181.1 940.2 1175.7 943.4 1175.4 945 C1175.1 946.6 1177.9 957.5 1177.9 960.1 C1177.9 962.7 1176.3 977.8 1175.4 980.2 C1174.5 982.6 1167.8 991.1 1165.3 992.7 C1162.8 994.4 1143.3 1000.3 1141.5 1002.7 C1139.7 1005.1 1140.9 1021.5 1140.3 1025.3 C1139.7 1029.1 1134.3 1051.1 1132.8 1054 C1131.3 1056.9 1122.6 1063.2 1120.3 1065.3 C1118 1067.4 1104.4 1081.3 1101.5 1082.8 C1098.6 1084.3 1082.9 1085.7 1080.2 1085.4 C1077.5 1085.1 1066.6 1081.7 1065.2 1079.1 C1063.8 1076.5 1062.7 1052 1061.4 1050.3 C1060.1 1048.6 1050.9 1056.8 1047.6 1055.3 C1044.3 1053.8 1019.7 1033.1 1016.3 1030.3 C1012.9 1027.5 1002.3 1019.4 1001.3 1017.7 C1000.3 1016 1003.2 1008 1002.6 1006.5 C1002 1005 993.3 1000 992.5 997.7 C991.7 995.4 991.9 977.2 991.3 975.2 C990.7 973.2 984.1 973.1 983.8 970.2 C983.5 967.3 986.3 938 987.5 935.1 C988.7 932.2 999.1 932.7 1000 931.3 C1000.9 929.9 999 918.6 1000 916.3 C1001 914 1011.7 901.8 1013.8 900 C1015.9 898.2 1026.2 890.8 1028.9 891.3Z" fill="#cd62c7"/><g clip-path="url(#clip24)"><g filter="url(#bl6)"><ellipse cx="1077" cy="962" rx="48" ry="40" fill="#b8449e" opacity="0.6" transform="rotate(0 1077 962)"/><ellipse cx="1077" cy="962" rx="24" ry="20" fill="#82204c" opacity="0.8" transform="rotate(0 1077 962)"/><ellipse cx="1085" cy="955" rx="8" ry="6" fill="#d880c0" opacity="0.9" transform="rotate(0 1085 955)"/><ellipse cx="1010" cy="960" rx="20" ry="40" fill="#d678d4" opacity="0.7" transform="rotate(0 1010 960)"/><ellipse cx="1150" cy="950" rx="22" ry="36" fill="#dc8adc" opacity="0.7" transform="rotate(0 1150 950)"/><ellipse cx="1100" cy="1050" rx="26" ry="26" fill="#c268c4" opacity="0.6" transform="rotate(0 1100 1050)"/><ellipse cx="1040" cy="1020" rx="22" ry="16" fill="#b050a8" opacity="0.5" transform="rotate(0 1040 1020)"/><ellipse cx="1060" cy="920" rx="30" ry="12" fill="#de86da" opacity="0.7" transform="rotate(0 1060 920)"/><ellipse cx="1040" cy="990" rx="18" ry="10" fill="#e08cd4" opacity="0.8" transform="rotate(0 1040 990)"/></g><path d="M1030 945 C1035 941.7 1048.3 928.3 1060 925 C1071.7 921.7 1089.2 921.7 1100 925 C1110.8 928.3 1120.8 941.7 1125 945" fill="none" stroke="#e8a0e0" stroke-width="1.8" opacity="0.7" stroke-linecap="round"/><path d="M1028 1005 C1031.7 1004.2 1040.5 1000 1050 1000 C1059.5 1000 1076.7 1005.8 1085 1005 C1093.3 1004.2 1097.5 996.7 1100 995" fill="none" stroke="#e4a0dc" stroke-width="2" opacity="0.8" stroke-linecap="round"/><path d="M1055 960 C1055.8 956.7 1055 944.2 1060 940 C1065 935.8 1078.3 933.3 1085 935 C1091.7 936.7 1097.5 947.5 1100 950" fill="none" stroke="#d880c8" stroke-width="1.6" opacity="0.8" stroke-linecap="round"/><path d="M1120 1000 C1123.3 993.3 1139.2 970 1140 960 C1140.8 950 1127.5 943.3 1125 940" fill="none" stroke="#e6a0e0" stroke-width="1.6" opacity="0.7" stroke-linecap="round"/><path d="M1070.8 899 C1072.4 900.3 1077.6 915.1 1079.3 916.3 C1081 917.5 1092.2 915.3 1094.5 915.6 C1096.8 916 1108.3 919.1 1110.7 920.8 C1113 922.5 1125.1 936.7 1126.2 938.7 C1127.4 940.7 1124.3 947.1 1126.2 948.3 C1128.2 949.4 1151.1 952.6 1153.4 954.6 C1155.6 956.7 1157.2 974.6 1157.1 976.8 C1157.1 978.9 1153.9 983.4 1153.1 984.1 C1152.4 984.8 1147.7 985 1146.9 985.9 C1146.2 986.8 1144.1 994.9 1143.2 996.6 C1142.3 998.2 1135.9 1007.5 1134.4 1008.7 C1133 1010 1125.7 1013.1 1123.5 1013.3 C1121.3 1013.5 1106.5 1010.4 1104.4 1011.3 C1102.4 1012.2 1097.4 1023.3 1095.7 1025.6 C1093.9 1027.8 1082.6 1040.2 1080.6 1041.5 C1078.6 1042.9 1070.7 1043.9 1068.5 1044.4 C1066.2 1045 1052.5 1049.2 1050.1 1049.1 C1047.6 1049.1 1036.9 1044.4 1035.3 1043.3 C1033.7 1042.2 1027.8 1036 1027.8 1033.9 C1027.8 1031.7 1035.8 1015.4 1035.5 1013.8 C1035.3 1012.2 1026.4 1014.3 1024.8 1012.2 C1023.2 1010 1014.6 987.8 1013.3 984.8 C1012.1 981.8 1008.1 972.8 1008.1 971.3 C1008 969.8 1012.8 965.7 1012.9 964.5 C1013 963.3 1009.2 957 1009.5 955.2 C1009.7 953.4 1016.4 941.7 1016.7 940.2 C1017 938.6 1012.7 936.3 1013.6 934.3 C1014.4 932.3 1026.6 914.2 1028.4 912.8 C1030.2 911.3 1036.8 915.3 1037.9 914.7 C1039 914.2 1041.7 906.1 1043.2 905 C1044.7 903.9 1055.9 899.8 1058 899.3 C1060 898.9 1069.3 897.8 1070.8 899Z" fill="#c458bc" opacity="0.9" stroke="#e49ade" stroke-width="1.7" stroke-linejoin="round" stroke-opacity="0.7"/><path d="M1039.6 937.9 C1041 937.6 1051.4 941.2 1052.8 940.8 C1054.3 940.3 1057.9 933.3 1059.1 932.1 C1060.3 931 1067.1 926 1069 925.5 C1071 924.9 1084.1 924.5 1085.7 924.7 C1087.3 925 1089.4 929.5 1090.9 928.9 C1092.5 928.3 1104.2 917.1 1106.3 916.8 C1108.4 916.4 1119 923.4 1120.1 924.3 C1121.3 925.3 1122.4 929.1 1122.4 929.8 C1122.5 930.5 1120.5 933.1 1120.7 933.9 C1120.9 934.7 1124.4 939.4 1124.9 940.7 C1125.5 941.9 1127.8 949.5 1127.8 950.8 C1127.9 952.1 1126.4 957.5 1125.5 958.8 C1124.7 960.1 1116.5 966.9 1116.1 968.4 C1115.7 969.9 1119.7 977.6 1120.1 979.5 C1120.6 981.4 1122.5 993.1 1122.4 994.8 C1122.2 996.5 1119.3 1001.2 1118.7 1002.7 C1118 1004.2 1114.3 1013.6 1113.2 1014.9 C1112.1 1016.2 1104.9 1020 1103.5 1020.5 C1102.2 1020.9 1096.2 1021.4 1095.1 1020.5 C1093.9 1019.5 1088.4 1008 1087.4 1007.5 C1086.4 1006.9 1083.7 1012.7 1081.8 1012.6 C1079.9 1012.6 1063.9 1007.6 1061.8 1007 C1059.6 1006.4 1052.9 1004.6 1052 1004 C1051.2 1003.4 1051 999 1050.4 998.4 C1049.8 997.8 1044.6 997.1 1043.8 996.2 C1042.9 995.3 1039.3 986.5 1038.6 985.7 C1037.9 984.8 1034.8 986.2 1034 984.8 C1033.3 983.4 1028.7 968.8 1028.7 967.2 C1028.7 965.6 1033.7 963.7 1033.9 962.9 C1034.1 962 1030.8 957 1030.9 955.7 C1030.9 954.4 1033.5 946.4 1034.2 945.1 C1034.8 943.8 1038.3 938.2 1039.6 937.9Z" fill="#b84aa8" opacity="0.9" stroke="#dc90d4" stroke-width="1.7" stroke-linejoin="round" stroke-opacity="0.7"/><path d="M1085.7 934.2 C1086.1 935.1 1085.6 942.2 1086.1 943.1 C1086.7 943.9 1091.8 945 1092.7 945.5 C1093.6 946.1 1097.9 949.4 1098.6 950.6 C1099.3 951.7 1101.9 959.9 1102 961 C1102.1 962 1099.7 964.1 1100.3 965 C1100.9 965.8 1110 971.3 1110.6 972.6 C1111.2 973.8 1108.7 981.7 1108.3 982.6 C1107.9 983.5 1105.7 984.8 1105.3 985 C1104.8 985.1 1102.8 984.4 1102.3 984.6 C1101.9 984.9 1099.5 987.9 1098.8 988.5 C1098.1 989 1093.8 991.8 1092.9 992.1 C1092.1 992.3 1088.5 992.3 1087.5 992 C1086.5 991.7 1080.8 987.8 1079.8 987.8 C1078.8 987.8 1074.7 991.6 1073.5 992.2 C1072.4 992.9 1065.4 996.1 1064.3 996.3 C1063.2 996.5 1059.7 995.5 1058.6 995.4 C1057.6 995.2 1051 994.5 1050 994.1 C1049 993.6 1045.3 989.7 1044.8 988.9 C1044.3 988.2 1042.9 984.5 1043.3 983.6 C1043.7 982.7 1050 977.2 1050.2 976.5 C1050.4 975.8 1046.2 975.1 1045.9 973.9 C1045.6 972.7 1046 961.8 1046 960.3 C1046 958.8 1045.9 954.2 1046.2 953.6 C1046.4 953 1049.2 952.1 1049.4 951.6 C1049.7 951.1 1049.2 947.7 1049.6 947 C1050.1 946.3 1055 942.6 1055.4 942 C1055.8 941.4 1054.4 939.6 1055.1 938.9 C1055.8 938.2 1064.2 932.8 1065.2 932.5 C1066.3 932.2 1068.3 935.1 1068.9 935 C1069.5 935 1072.1 932 1072.9 931.8 C1073.7 931.6 1079.2 931.9 1080.2 932.1 C1081.1 932.2 1085.2 933.4 1085.7 934.2Z" fill="#9a3282" opacity="0.9" stroke="#d078c0" stroke-width="1.5" stroke-linejoin="round" stroke-opacity="0.7"/><path d="M1067.6 950.9 C1068 950.8 1071.5 952.5 1072 952.4 C1072.5 952.3 1074 949.9 1074.5 949.6 C1074.9 949.3 1077.4 947.8 1078.1 947.6 C1078.8 947.5 1083.3 947.8 1083.9 948 C1084.4 948.1 1085 949.7 1085.5 949.6 C1086.1 949.4 1090.5 946 1091.2 945.9 C1092 945.9 1095.4 948.7 1095.7 949 C1096.1 949.4 1096.4 950.7 1096.3 951 C1096.3 951.2 1095.6 952.1 1095.6 952.3 C1095.6 952.6 1096.7 954.4 1096.8 954.8 C1097 955.3 1097.5 957.9 1097.5 958.4 C1097.4 958.9 1096.7 960.7 1096.4 961.1 C1096.1 961.5 1093 963.6 1092.8 964.1 C1092.7 964.6 1093.8 967.3 1093.8 968 C1093.9 968.7 1094.2 972.8 1094.1 973.4 C1094 973.9 1092.8 975.5 1092.5 976 C1092.2 976.4 1090.7 979.6 1090.2 980 C1089.8 980.4 1087.2 981.5 1086.7 981.6 C1086.2 981.6 1084.2 981.6 1083.8 981.3 C1083.4 980.9 1081.9 976.7 1081.6 976.5 C1081.3 976.3 1080.1 978.2 1079.5 978.1 C1078.9 978 1073.5 975.8 1072.8 975.5 C1072.1 975.2 1069.8 974.4 1069.5 974.1 C1069.3 973.9 1069.4 972.3 1069.2 972.1 C1069 971.9 1067.2 971.5 1067 971.1 C1066.7 970.8 1065.8 967.6 1065.6 967.3 C1065.3 967 1064.2 967.4 1064 966.9 C1063.8 966.4 1062.7 961.2 1062.8 960.6 C1062.8 960.1 1064.6 959.6 1064.7 959.3 C1064.8 959 1063.9 957.2 1063.9 956.7 C1064 956.3 1065.2 953.6 1065.4 953.2 C1065.7 952.8 1067.1 951 1067.6 950.9Z" fill="#7a1c4c" opacity="0.9" stroke="#c060a0" stroke-width="1.3" stroke-linejoin="round" stroke-opacity="0.7"/></g>
<path d="M1330 860 L1332.9 856.2 L1333.5 852.4 L1336.3 848.6 L1335.2 844.8 L1337.5 841 L1335.2 837.2 L1336.3 833.4 L1333.5 829.6 L1332.9 825.8 L1330 822 L1327.1 825.8 L1326.5 829.6 L1323.7 833.4 L1324.8 837.2 L1322.5 841 L1324.8 844.8 L1323.7 848.6 L1326.5 852.4 L1327.1 856.2Z" fill="#3a7030"/><path d="M1330 860 L1330 822" stroke="#8fb080" stroke-width="0.8" opacity="0.7"/><clipPath id="clip25"><path d="M1246.3 855.9 C1250.9 855.3 1293.9 882.1 1302.7 879.8 C1311.5 877.5 1360.6 824.9 1365.9 824.3 C1371.2 823.7 1373.1 867.9 1375.2 871.2 C1377.3 874.5 1392.1 866.9 1394.9 869.5 C1397.7 872.1 1413.3 902.6 1413.7 907.1 C1414.1 911.6 1395.4 926.7 1400 931 C1404.6 935.3 1474 961 1476.8 965.1 C1479.6 969.2 1439.1 984.5 1437.6 987.3 C1436.1 990.1 1459.4 999.6 1456.3 1002.7 C1453.2 1005.8 1400.2 1023.1 1394.9 1030 C1389.6 1036.9 1387.1 1092.8 1384.6 1096.6 C1382.1 1100.4 1364.1 1083.6 1360.7 1081.2 C1357.3 1078.8 1343.9 1064 1338.5 1064.2 C1333.1 1064.4 1291.2 1085 1287.3 1084.6 C1283.4 1084.2 1291.5 1061.6 1285.6 1059 C1279.7 1056.4 1209.9 1051.9 1207 1048.8 C1204.1 1045.7 1245.4 1019.3 1246.3 1016.3 C1247.2 1013.3 1222.6 1011.6 1219 1007.8 C1215.4 1004 1197 971.2 1196.8 965.1 C1196.6 959 1212.7 927.7 1215.6 924.2 C1218.5 920.7 1234.3 919.9 1236.1 917.3 C1237.9 914.7 1238.8 892.8 1239.5 888.3 C1240.2 883.8 1241.7 856.5 1246.3 855.9Z"/></clipPath><path d="M1246.3 855.9 C1250.9 855.3 1293.9 882.1 1302.7 879.8 C1311.5 877.5 1360.6 824.9 1365.9 824.3 C1371.2 823.7 1373.1 867.9 1375.2 871.2 C1377.3 874.5 1392.1 866.9 1394.9 869.5 C1397.7 872.1 1413.3 902.6 1413.7 907.1 C1414.1 911.6 1395.4 926.7 1400 931 C1404.6 935.3 1474 961 1476.8 965.1 C1479.6 969.2 1439.1 984.5 1437.6 987.3 C1436.1 990.1 1459.4 999.6 1456.3 1002.7 C1453.2 1005.8 1400.2 1023.1 1394.9 1030 C1389.6 1036.9 1387.1 1092.8 1384.6 1096.6 C1382.1 1100.4 1364.1 1083.6 1360.7 1081.2 C1357.3 1078.8 1343.9 1064 1338.5 1064.2 C1333.1 1064.4 1291.2 1085 1287.3 1084.6 C1283.4 1084.2 1291.5 1061.6 1285.6 1059 C1279.7 1056.4 1209.9 1051.9 1207 1048.8 C1204.1 1045.7 1245.4 1019.3 1246.3 1016.3 C1247.2 1013.3 1222.6 1011.6 1219 1007.8 C1215.4 1004 1197 971.2 1196.8 965.1 C1196.6 959 1212.7 927.7 1215.6 924.2 C1218.5 920.7 1234.3 919.9 1236.1 917.3 C1237.9 914.7 1238.8 892.8 1239.5 888.3 C1240.2 883.8 1241.7 856.5 1246.3 855.9Z" fill="#d468d0"/><g clip-path="url(#clip25)"><g filter="url(#bl6)"><ellipse cx="1318" cy="965" rx="26" ry="20" fill="#b08848" opacity="0.7" transform="rotate(0 1318 965)"/><ellipse cx="1318" cy="965" rx="50" ry="40" fill="#c45ab8" opacity="0.5" transform="rotate(0 1318 965)"/><ellipse cx="1280" cy="945" rx="20" ry="30" fill="#de80d6" opacity="0.7" transform="rotate(0 1280 945)"/><ellipse cx="1355" cy="1010" rx="16" ry="30" fill="#e08ad8" opacity="0.7" transform="rotate(0 1355 1010)"/><ellipse cx="1365" cy="930" rx="25" ry="20" fill="#d870d2" opacity="0.6" transform="rotate(0 1365 930)"/><ellipse cx="1250" cy="890" rx="25" ry="20" fill="#d880dc" opacity="0.6" transform="rotate(0 1250 890)"/><ellipse cx="1440" cy="975" rx="25" ry="15" fill="#cf68cf" opacity="0.6" transform="rotate(0 1440 975)"/><ellipse cx="1230" cy="1035" rx="25" ry="12" fill="#c860c8" opacity="0.6" transform="rotate(0 1230 1035)"/><ellipse cx="1340" cy="1075" rx="25" ry="14" fill="#cc62cc" opacity="0.6" transform="rotate(0 1340 1075)"/><ellipse cx="1300" cy="1000" rx="14" ry="10" fill="#f0d8e8" opacity="0.6" transform="rotate(0 1300 1000)"/><ellipse cx="1270" cy="985" rx="10" ry="8" fill="#f0d0ec" opacity="0.6" transform="rotate(0 1270 985)"/></g><path d="M1262 905 C1266.7 904.2 1281.2 898.3 1290 900 C1298.8 901.7 1310.8 912.5 1315 915" fill="none" stroke="#e8a8e4" stroke-width="1.8" opacity="0.7" stroke-linecap="round"/><path d="M1345 930 C1350 930.8 1367.5 929.2 1375 935 C1382.5 940.8 1387.5 960 1390 965" fill="none" stroke="#eaa8e6" stroke-width="1.8" opacity="0.7" stroke-linecap="round"/><path d="M1300 1010 C1303.3 1013.3 1312.5 1025 1320 1030 C1327.5 1035 1340.8 1038.3 1345 1040" fill="none" stroke="#e8a8e0" stroke-width="1.8" opacity="0.7" stroke-linecap="round"/><path d="M1265 975 C1264.5 970.8 1259.5 957.5 1262 950 C1264.5 942.5 1277 933.3 1280 930" fill="none" stroke="#eaa8e6" stroke-width="1.8" opacity="0.7" stroke-linecap="round"/><path d="M1370 985 C1372.5 989.2 1383.3 1000 1385 1010 C1386.7 1020 1380.8 1039.2 1380 1045" fill="none" stroke="#eaa8e6" stroke-width="1.6" opacity="0.6" stroke-linecap="round"/><path d="M1297.1 873 C1300.4 873.7 1322.8 902.5 1329.3 903.1 C1335.8 903.7 1382 880.3 1385.8 881.2 C1389.5 882.1 1379.9 912.4 1380.5 915.2 C1381.1 918 1393 916.4 1394.2 918.9 C1395.5 921.4 1398.5 945.8 1397.7 949 C1396.8 952.1 1380.4 957.7 1382.5 961.8 C1384.6 965.8 1425.2 1000.3 1426 1003.8 C1426.9 1007.3 1395.7 1007.6 1394 1009.1 C1392.3 1010.6 1405.8 1022.8 1402.9 1024.1 C1400 1025.5 1359.9 1024.1 1354.6 1027.5 C1349.4 1030.8 1333.8 1068 1331.2 1070 C1328.6 1071.9 1320.5 1056.1 1318.8 1053.6 C1317.1 1051.2 1311.7 1037.8 1308 1036.7 C1304.3 1035.5 1270.9 1039 1268.4 1037.8 C1265.8 1036.6 1276.9 1023.3 1273.5 1020.1 C1270.2 1016.9 1224.1 996.6 1222.9 993.8 C1221.7 991 1256.2 983.3 1257.5 981.5 C1258.8 979.7 1242.7 972.4 1241.1 969 C1239.6 965.6 1235.3 938.9 1236.6 934.7 C1238 930.4 1256.6 913.3 1259.5 911.6 C1262.3 910 1273.2 913.4 1275 912 C1276.9 910.7 1282.9 896.1 1284.5 893.2 C1286.1 890.4 1293.8 872.3 1297.1 873Z" fill="#d266ce" opacity="0.8" stroke="#eaa6e6" stroke-width="1.7" stroke-linejoin="round" stroke-opacity="0.7"/><path d="M1270.7 925.4 C1272.8 924.5 1296.3 930.7 1300 928.4 C1303.7 926.1 1318.7 895 1321.1 894 C1323.4 892.9 1330.6 912.9 1332 914.2 C1333.5 915.4 1339.1 909.8 1340.8 910.6 C1342.5 911.4 1353.9 923.1 1354.8 925.2 C1355.6 927.2 1349.1 936.8 1351.9 938.1 C1354.6 939.4 1390.1 941.3 1391.9 942.8 C1393.8 944.3 1377.4 957.1 1377.1 958.5 C1376.8 960 1388.8 961.1 1387.8 963 C1386.9 964.8 1365 980.3 1363.6 984.2 C1362.1 988.1 1368.9 1014.1 1368.3 1016.2 C1367.7 1018.3 1357 1013.1 1355.1 1012.5 C1353.3 1011.9 1345 1007 1342.6 1007.9 C1340.1 1008.7 1323.8 1024.1 1322 1024.5 C1320.1 1024.9 1320.6 1013.4 1317.6 1013 C1314.5 1012.6 1281.8 1020.5 1280.1 1019.5 C1278.3 1018.4 1293.5 1000.5 1293.5 999 C1293.5 997.5 1282 1000.2 1279.8 999 C1277.6 997.7 1264.5 985.3 1263.5 982.5 C1262.5 979.7 1265.5 963.1 1266.3 961.1 C1267.2 959.1 1274.3 956.5 1274.8 955 C1275.2 953.6 1272.5 943.4 1272.2 941.2 C1271.9 939.1 1268.7 926.4 1270.7 925.4Z" fill="#cc60c6" opacity="0.8" stroke="#e8a0e2" stroke-width="1.7" stroke-linejoin="round" stroke-opacity="0.7"/><ellipse cx="1320" cy="965" rx="26" ry="20" fill="#b08848" opacity="0.85" filter="url(#bl4)"/><circle cx="1308.1" cy="967.2" r="1.5" fill="#6a3a18"/><circle cx="1334.8" cy="979.1" r="1.1" fill="#6a3a18"/><circle cx="1335" cy="965.5" r="1.5" fill="#6a3a18"/><circle cx="1324.7" cy="962.3" r="1.8" fill="#6a3a18"/><circle cx="1303.5" cy="960.2" r="1" fill="#6a3a18"/><circle cx="1331.9" cy="967.5" r="1.4" fill="#6a3a18"/><circle cx="1316.1" cy="954.3" r="1.5" fill="#6a3a18"/><circle cx="1318.9" cy="959.1" r="1.1" fill="#6a3a18"/><circle cx="1320.5" cy="970.1" r="1.2" fill="#6a3a18"/><circle cx="1295.7" cy="964.1" r="1.8" fill="#6a3a18"/><circle cx="1302.4" cy="955.8" r="1.8" fill="#6a3a18"/><circle cx="1304.7" cy="975.8" r="1.1" fill="#6a3a18"/><circle cx="1328.3" cy="970" r="1.6" fill="#6a3a18"/><circle cx="1311.1" cy="950.7" r="1.8" fill="#6a3a18"/><circle cx="1314.8" cy="967.2" r="1.2" fill="#6a3a18"/><circle cx="1319.1" cy="971.9" r="1.5" fill="#6a3a18"/><circle cx="1315.7" cy="982.1" r="1" fill="#6a3a18"/><circle cx="1327.3" cy="982.9" r="1.3" fill="#6a3a18"/><circle cx="1323.8" cy="962.2" r="1.5" fill="#6a3a18"/><circle cx="1309.2" cy="973.1" r="1.5" fill="#6a3a18"/><circle cx="1333.2" cy="966.6" r="1.6" fill="#6a3a18"/><circle cx="1325.4" cy="962.2" r="1.1" fill="#6a3a18"/><circle cx="1314.6" cy="961.9" r="1.3" fill="#6a3a18"/><circle cx="1299.3" cy="955.8" r="1.7" fill="#6a3a18"/><circle cx="1321.2" cy="968.2" r="1.5" fill="#6a3a18"/><circle cx="1333.7" cy="971.4" r="1.4" fill="#6a3a18"/><circle cx="1325.8" cy="965.5" r="1.3" fill="#6a3a18"/><circle cx="1295.7" cy="965.2" r="1.8" fill="#6a3a18"/><circle cx="1308.8" cy="969.8" r="1.5" fill="#6a3a18"/><circle cx="1316.2" cy="961.3" r="1" fill="#6a3a18"/></g>
<path d="M1499 1340 L1491.7 1342.6 L1485.9 1347 L1478.6 1349.7 L1474 1355.3 L1467 1358.4 L1463.2 1364.9 L1457 1368.9 L1453.5 1375.8 L1448.5 1381 L1445 1388 L1452.3 1385.4 L1458.1 1381 L1465.4 1378.3 L1470 1372.7 L1477 1369.6 L1480.8 1363.1 L1487 1359.1 L1490.5 1352.2 L1495.5 1347Z" fill="#3a6e30"/><path d="M1499 1340 L1445 1388" stroke="#a0c090" stroke-width="0.8" opacity="0.7"/><path d="M1500 1340 L1495.3 1341.7 L1492.2 1344.7 L1487.6 1346.5 L1485.5 1350.4 L1481.2 1352.5 L1479.9 1357 L1476.4 1359.7 L1475.4 1364.5 L1472.9 1368.1 L1472 1373 L1476.7 1371.3 L1479.8 1368.3 L1484.4 1366.5 L1486.5 1362.6 L1490.8 1360.5 L1492.1 1356 L1495.6 1353.3 L1496.6 1348.5 L1499.1 1344.9Z" fill="#3e7a32"/><path d="M1500 1340 L1472 1373" stroke="#8fb080" stroke-width="0.8" opacity="0.7"/><path d="M1503 1338 Q1502.7 1384 1500 1430 Q1497.3 1384 1497 1338Z" fill="#3f7a30"/><path d="M1505 1340 L1504.6 1346 L1506 1351.2 L1505.8 1357.1 L1508.5 1361.9 L1508.6 1367.7 L1512.3 1372.1 L1513.4 1377.5 L1517.4 1381.8 L1519.8 1386.8 L1524 1391 L1524.4 1385 L1523 1379.8 L1523.2 1373.9 L1520.5 1369.1 L1520.4 1363.3 L1516.7 1358.9 L1515.6 1353.5 L1511.6 1349.2 L1509.2 1344.2Z" fill="#3e7a32"/><path d="M1505 1340 L1524 1391" stroke="#a8c8a0" stroke-width="0.8" opacity="0.7"/><path d="M1509.9 1335.7 Q1526 1344.6 1536 1361 Q1522.6 1348.8 1506.1 1340.3Z" fill="#4a8a3a"/><path d="M1509.1 1336.6 Q1525.6 1345.1 1536 1361" fill="none" stroke="#b0c8a8" stroke-width="1" opacity="0.8"/><path d="M1508 1339.7 Q1519.8 1384 1521 1430 Q1516.2 1384.5 1504 1340.3Z" fill="#6a9a5a"/><clipPath id="clip26"><path d="M1449.2 1226.2 C1450.4 1223.8 1456.5 1213.2 1460.1 1211.9 C1463.7 1210.6 1494.5 1208.9 1498.4 1209.1 C1502.3 1209.3 1511.2 1214.4 1513.4 1215.3 C1515.6 1216.2 1525.8 1220.4 1528.4 1221.4 C1531 1222.4 1546.3 1227.9 1548.9 1229.6 C1551.5 1231.3 1562.5 1241.3 1563.9 1244.6 C1565.3 1247.9 1567.7 1271.1 1568 1274.7 C1568.3 1278.3 1564.7 1295.3 1568 1293.8 C1571.3 1292.3 1609 1256.8 1613.1 1254.2 C1617.2 1251.6 1623.5 1256 1624 1258.3 C1624.5 1260.6 1620.8 1283 1620 1285.6 C1619.2 1288.2 1615.4 1292.3 1613.1 1293.8 C1610.8 1295.3 1592.6 1304.2 1588.5 1306.1 C1584.4 1308 1561.5 1317.4 1557.1 1319.8 C1552.7 1322.2 1531.9 1337.2 1528.4 1338.9 C1524.9 1340.6 1512.5 1343 1509.3 1343 C1506.1 1343 1487.9 1340.1 1484.7 1338.9 C1481.5 1337.7 1469 1329.9 1465.6 1326.6 C1462.2 1323.3 1441.5 1298.2 1438.3 1293.8 C1435.1 1289.4 1423.2 1269.5 1421.9 1266.5 C1420.6 1263.5 1420.1 1254.1 1420.5 1252.8 C1420.9 1251.5 1425.6 1249.3 1427.3 1248.7 C1429 1248.1 1442.1 1246.2 1443.7 1244.6 C1445.3 1242.9 1448 1228.6 1449.2 1226.2Z"/></clipPath><path d="M1449.2 1226.2 C1450.4 1223.8 1456.5 1213.2 1460.1 1211.9 C1463.7 1210.6 1494.5 1208.9 1498.4 1209.1 C1502.3 1209.3 1511.2 1214.4 1513.4 1215.3 C1515.6 1216.2 1525.8 1220.4 1528.4 1221.4 C1531 1222.4 1546.3 1227.9 1548.9 1229.6 C1551.5 1231.3 1562.5 1241.3 1563.9 1244.6 C1565.3 1247.9 1567.7 1271.1 1568 1274.7 C1568.3 1278.3 1564.7 1295.3 1568 1293.8 C1571.3 1292.3 1609 1256.8 1613.1 1254.2 C1617.2 1251.6 1623.5 1256 1624 1258.3 C1624.5 1260.6 1620.8 1283 1620 1285.6 C1619.2 1288.2 1615.4 1292.3 1613.1 1293.8 C1610.8 1295.3 1592.6 1304.2 1588.5 1306.1 C1584.4 1308 1561.5 1317.4 1557.1 1319.8 C1552.7 1322.2 1531.9 1337.2 1528.4 1338.9 C1524.9 1340.6 1512.5 1343 1509.3 1343 C1506.1 1343 1487.9 1340.1 1484.7 1338.9 C1481.5 1337.7 1469 1329.9 1465.6 1326.6 C1462.2 1323.3 1441.5 1298.2 1438.3 1293.8 C1435.1 1289.4 1423.2 1269.5 1421.9 1266.5 C1420.6 1263.5 1420.1 1254.1 1420.5 1252.8 C1420.9 1251.5 1425.6 1249.3 1427.3 1248.7 C1429 1248.1 1442.1 1246.2 1443.7 1244.6 C1445.3 1242.9 1448 1228.6 1449.2 1226.2Z" fill="#a84ca6"/><g clip-path="url(#clip26)"><g filter="url(#bl6)"><ellipse cx="1500" cy="1300" rx="40" ry="30" fill="#80306e" opacity="0.7" transform="rotate(0 1500 1300)"/></g></g><clipPath id="clip27"><path d="M1451.3 1225.2 C1452.4 1222.7 1465.9 1212.9 1469.4 1211.7 C1472.9 1210.5 1495.3 1208.2 1499.5 1208.7 C1503.7 1209.2 1523.4 1218 1526.7 1219.2 C1530 1220.4 1544.4 1223.7 1544.8 1225.2 C1545.2 1226.7 1536.7 1238.5 1532.7 1240.3 C1528.7 1242.1 1496.2 1249 1490.5 1249.4 C1484.8 1249.8 1457.2 1248.2 1454.3 1246.4 C1451.4 1244.6 1450.2 1227.7 1451.3 1225.2Z"/></clipPath><path d="M1451.3 1225.2 C1452.4 1222.7 1465.9 1212.9 1469.4 1211.7 C1472.9 1210.5 1495.3 1208.2 1499.5 1208.7 C1503.7 1209.2 1523.4 1218 1526.7 1219.2 C1530 1220.4 1544.4 1223.7 1544.8 1225.2 C1545.2 1226.7 1536.7 1238.5 1532.7 1240.3 C1528.7 1242.1 1496.2 1249 1490.5 1249.4 C1484.8 1249.8 1457.2 1248.2 1454.3 1246.4 C1451.4 1244.6 1450.2 1227.7 1451.3 1225.2Z" fill="#c86ac8"/><g clip-path="url(#clip27)"><g filter="url(#bl4)"><ellipse cx="1495" cy="1225" rx="30" ry="10" fill="#d688d6" opacity="0.7" transform="rotate(0 1495 1225)"/><ellipse cx="1490" cy="1243" rx="25" ry="6" fill="#a04a9c" opacity="0.6" transform="rotate(0 1490 1243)"/></g></g><clipPath id="clip28"><path d="M1526.7 1225.2 C1528 1224.1 1547.8 1231.9 1550.8 1234.3 C1553.8 1236.7 1566.1 1254 1567.4 1258.4 C1568.7 1262.8 1569.7 1290 1568.9 1294.6 C1568.1 1299.2 1558.9 1319.1 1556.9 1321.8 C1554.9 1324.5 1542.9 1333.9 1541.8 1330.8 C1540.7 1327.7 1542.5 1285.5 1541.8 1279.5 C1541.1 1273.5 1533.8 1253.4 1532.7 1249.4 C1531.6 1245.4 1525.4 1226.3 1526.7 1225.2Z"/></clipPath><path d="M1526.7 1225.2 C1528 1224.1 1547.8 1231.9 1550.8 1234.3 C1553.8 1236.7 1566.1 1254 1567.4 1258.4 C1568.7 1262.8 1569.7 1290 1568.9 1294.6 C1568.1 1299.2 1558.9 1319.1 1556.9 1321.8 C1554.9 1324.5 1542.9 1333.9 1541.8 1330.8 C1540.7 1327.7 1542.5 1285.5 1541.8 1279.5 C1541.1 1273.5 1533.8 1253.4 1532.7 1249.4 C1531.6 1245.4 1525.4 1226.3 1526.7 1225.2Z" fill="#bc5cbc"/><g clip-path="url(#clip28)"><g filter="url(#bl4)"><ellipse cx="1555" cy="1270" rx="8" ry="30" fill="#d07ad0" opacity="0.7" transform="rotate(0 1555 1270)"/></g></g><clipPath id="clip29"><path d="M1421.1 1256.9 C1421.8 1254 1436.3 1247.3 1439.2 1246.4 C1442.1 1245.5 1459 1243.1 1460.3 1244.9 C1461.6 1246.7 1456.9 1266 1457.3 1270.5 C1457.7 1275 1464 1302.1 1466.4 1306.7 C1468.8 1311.3 1489.8 1332 1490.5 1333.8 C1491.2 1335.6 1478.3 1332.3 1475.4 1330.8 C1472.5 1329.3 1454.6 1316 1451.3 1312.7 C1448 1309.4 1432.4 1289.7 1430.2 1285.6 C1428 1281.5 1420.4 1259.8 1421.1 1256.9Z"/></clipPath><path d="M1421.1 1256.9 C1421.8 1254 1436.3 1247.3 1439.2 1246.4 C1442.1 1245.5 1459 1243.1 1460.3 1244.9 C1461.6 1246.7 1456.9 1266 1457.3 1270.5 C1457.7 1275 1464 1302.1 1466.4 1306.7 C1468.8 1311.3 1489.8 1332 1490.5 1333.8 C1491.2 1335.6 1478.3 1332.3 1475.4 1330.8 C1472.5 1329.3 1454.6 1316 1451.3 1312.7 C1448 1309.4 1432.4 1289.7 1430.2 1285.6 C1428 1281.5 1420.4 1259.8 1421.1 1256.9Z" fill="#c676cc"/><g clip-path="url(#clip29)"><g filter="url(#bl4)"><ellipse cx="1440" cy="1275" rx="12" ry="24" fill="#d894dc" opacity="0.8" transform="rotate(0 1440 1275)"/><ellipse cx="1465" cy="1315" rx="12" ry="12" fill="#a4509e" opacity="0.6" transform="rotate(0 1465 1315)"/></g></g><clipPath id="clip30"><path d="M1550.8 1309.7 C1553.7 1306.2 1576.6 1289.4 1581 1285.6 C1585.4 1281.8 1608 1260.4 1611.2 1258.4 C1614.4 1256.4 1624.3 1256.9 1624.7 1258.4 C1625.1 1259.9 1619.5 1276.6 1617.2 1279.5 C1614.9 1282.4 1597.1 1294.5 1593.1 1297.6 C1589.1 1300.7 1566.7 1319.1 1562.9 1321.8 C1559.1 1324.5 1542.7 1334.7 1541.8 1333.8 C1540.9 1332.9 1547.9 1313.2 1550.8 1309.7Z"/></clipPath><path d="M1550.8 1309.7 C1553.7 1306.2 1576.6 1289.4 1581 1285.6 C1585.4 1281.8 1608 1260.4 1611.2 1258.4 C1614.4 1256.4 1624.3 1256.9 1624.7 1258.4 C1625.1 1259.9 1619.5 1276.6 1617.2 1279.5 C1614.9 1282.4 1597.1 1294.5 1593.1 1297.6 C1589.1 1300.7 1566.7 1319.1 1562.9 1321.8 C1559.1 1324.5 1542.7 1334.7 1541.8 1333.8 C1540.9 1332.9 1547.9 1313.2 1550.8 1309.7Z" fill="#d68edc"/><g clip-path="url(#clip30)"><g filter="url(#bl4)"><ellipse cx="1600" cy="1275" rx="14" ry="8" fill="#e6acea" opacity="0.8" transform="rotate(0 1600 1275)"/></g></g><clipPath id="clip31"><path d="M1455.8 1249.4 C1458.3 1246.7 1485.3 1245.5 1490.5 1246.4 C1495.7 1247.3 1522.9 1259 1526.7 1261.4 C1530.5 1263.8 1540.8 1275.5 1541.8 1279.5 C1542.8 1283.5 1541.4 1311.7 1540.3 1315.7 C1539.2 1319.7 1529.7 1331.8 1526.7 1333.8 C1523.7 1335.8 1503 1342.7 1499.5 1342.9 C1496 1343.1 1481.1 1338.7 1478.4 1336.9 C1475.7 1335.1 1465 1322.8 1463.3 1318.8 C1461.6 1314.8 1456.3 1287.7 1455.8 1282.6 C1455.2 1277.5 1453.3 1252.1 1455.8 1249.4Z"/></clipPath><path d="M1455.8 1249.4 C1458.3 1246.7 1485.3 1245.5 1490.5 1246.4 C1495.7 1247.3 1522.9 1259 1526.7 1261.4 C1530.5 1263.8 1540.8 1275.5 1541.8 1279.5 C1542.8 1283.5 1541.4 1311.7 1540.3 1315.7 C1539.2 1319.7 1529.7 1331.8 1526.7 1333.8 C1523.7 1335.8 1503 1342.7 1499.5 1342.9 C1496 1343.1 1481.1 1338.7 1478.4 1336.9 C1475.7 1335.1 1465 1322.8 1463.3 1318.8 C1461.6 1314.8 1456.3 1287.7 1455.8 1282.6 C1455.2 1277.5 1453.3 1252.1 1455.8 1249.4Z" fill="#b652a4"/><g clip-path="url(#clip31)"><g filter="url(#bl4)"><ellipse cx="1500" cy="1318" rx="24" ry="20" fill="#782868" opacity="0.8" transform="rotate(0 1500 1318)"/><ellipse cx="1480" cy="1268" rx="18" ry="14" fill="#cc72c4" opacity="0.7" transform="rotate(0 1480 1268)"/><ellipse cx="1530" cy="1290" rx="8" ry="20" fill="#c466c0" opacity="0.5" transform="rotate(0 1530 1290)"/></g><path d="M1457 1250 C1462.8 1249.7 1480.5 1246 1492 1248 C1503.5 1250 1517.8 1256.7 1526 1262 C1534.2 1267.3 1538.5 1277 1541 1280" fill="none" stroke="#dca0dc" stroke-width="1.6" opacity="0.8" stroke-linecap="round"/></g>
<path d="M1772.5 1330 Q1772.2 1361.5 1770 1393 Q1767.8 1361.5 1767.5 1330Z" fill="#3a6a30"/><path d="M1764.9 1335.8 Q1757.8 1352.7 1752 1370 Q1752.7 1351.3 1759.1 1334.2Z" fill="#2f5028"/><path d="M1781.8 1331.1 Q1796 1354 1804 1380 Q1792.8 1355.6 1778.2 1332.9Z" fill="#6a7a5a"/><clipPath id="clip32"><path d="M1642 1236.3 C1644.4 1234.5 1676.6 1227.3 1681.2 1226.1 C1685.8 1224.9 1701.8 1220.4 1705.1 1219.3 C1708.4 1218.2 1721.7 1212.4 1725.6 1211.6 C1729.5 1210.8 1752.5 1207.5 1758 1208.2 C1763.5 1208.9 1795.9 1222.3 1800.7 1221 C1805.5 1219.7 1821.2 1192 1823 1191.1 C1824.8 1190.2 1823.5 1208.4 1825.5 1209 C1827.5 1209.6 1849.6 1197.7 1850.3 1199.6 C1851 1201.5 1831.9 1233.3 1834.9 1234.6 C1837.9 1235.9 1887.7 1216.3 1891.2 1217.6 C1894.7 1218.9 1885.1 1248.2 1882.7 1251.7 C1880.3 1255.2 1856.7 1263.3 1858.8 1265.4 C1860.9 1267.5 1909.3 1277.7 1911.7 1280.7 C1914.1 1283.7 1894.3 1304.2 1891.2 1306.3 C1888.1 1308.4 1870.4 1307.7 1869 1309.8 C1867.6 1311.9 1870.5 1330.9 1872.4 1335.4 C1874.3 1339.9 1893.6 1368.1 1894.6 1371.2 C1895.6 1374.3 1892.2 1378.6 1886.1 1378 C1880 1377.4 1817.6 1365.9 1811 1362.7 C1804.4 1359.5 1799.4 1336.1 1795.6 1333.7 C1791.8 1331.3 1767.1 1329.1 1759.8 1330.2 C1752.5 1331.3 1704.2 1347.6 1696.6 1349 C1689 1350.4 1659.7 1350.4 1655.6 1349 C1651.5 1347.6 1639.8 1333.1 1640.2 1330.2 C1640.6 1327.3 1660.3 1313 1660.7 1309.8 C1661.1 1306.6 1644.8 1288.2 1645.4 1285.9 C1646 1283.6 1669.1 1281.6 1669.3 1279 C1669.5 1276.4 1650.8 1253.1 1648.8 1250 C1646.8 1246.9 1639.6 1238.1 1642 1236.3Z"/></clipPath><path d="M1642 1236.3 C1644.4 1234.5 1676.6 1227.3 1681.2 1226.1 C1685.8 1224.9 1701.8 1220.4 1705.1 1219.3 C1708.4 1218.2 1721.7 1212.4 1725.6 1211.6 C1729.5 1210.8 1752.5 1207.5 1758 1208.2 C1763.5 1208.9 1795.9 1222.3 1800.7 1221 C1805.5 1219.7 1821.2 1192 1823 1191.1 C1824.8 1190.2 1823.5 1208.4 1825.5 1209 C1827.5 1209.6 1849.6 1197.7 1850.3 1199.6 C1851 1201.5 1831.9 1233.3 1834.9 1234.6 C1837.9 1235.9 1887.7 1216.3 1891.2 1217.6 C1894.7 1218.9 1885.1 1248.2 1882.7 1251.7 C1880.3 1255.2 1856.7 1263.3 1858.8 1265.4 C1860.9 1267.5 1909.3 1277.7 1911.7 1280.7 C1914.1 1283.7 1894.3 1304.2 1891.2 1306.3 C1888.1 1308.4 1870.4 1307.7 1869 1309.8 C1867.6 1311.9 1870.5 1330.9 1872.4 1335.4 C1874.3 1339.9 1893.6 1368.1 1894.6 1371.2 C1895.6 1374.3 1892.2 1378.6 1886.1 1378 C1880 1377.4 1817.6 1365.9 1811 1362.7 C1804.4 1359.5 1799.4 1336.1 1795.6 1333.7 C1791.8 1331.3 1767.1 1329.1 1759.8 1330.2 C1752.5 1331.3 1704.2 1347.6 1696.6 1349 C1689 1350.4 1659.7 1350.4 1655.6 1349 C1651.5 1347.6 1639.8 1333.1 1640.2 1330.2 C1640.6 1327.3 1660.3 1313 1660.7 1309.8 C1661.1 1306.6 1644.8 1288.2 1645.4 1285.9 C1646 1283.6 1669.1 1281.6 1669.3 1279 C1669.5 1276.4 1650.8 1253.1 1648.8 1250 C1646.8 1246.9 1639.6 1238.1 1642 1236.3Z" fill="#c468c6"/><g clip-path="url(#clip32)"><g filter="url(#bl6)"><ellipse cx="1760" cy="1290" rx="50" ry="14" fill="#dcb0c8" opacity="0.6" transform="rotate(0 1760 1290)"/><ellipse cx="1760" cy="1250" rx="40" ry="30" fill="#d480d4" opacity="0.6" transform="rotate(0 1760 1250)"/></g></g><clipPath id="clip33"><path d="M1704.7 1219.2 C1706.5 1215.9 1727.6 1211 1731.8 1210.2 C1736 1209.4 1756.9 1208.3 1762 1208.7 C1767.1 1209.1 1797.7 1217 1801.2 1216.2 C1804.7 1215.4 1808.8 1199.9 1810.3 1198.1 C1811.8 1196.3 1821 1191.4 1822.3 1192.1 C1823.6 1192.8 1826.4 1206.5 1828.4 1207.1 C1830.4 1207.6 1849.1 1198.5 1849.5 1199.6 C1849.9 1200.7 1835.9 1218.1 1834.4 1222.2 C1832.9 1226.3 1831.5 1251.4 1828.4 1255.4 C1825.3 1259.4 1798.2 1274.7 1792.2 1276.5 C1786.2 1278.3 1753.1 1281 1746.9 1279.5 C1740.7 1278 1710.8 1259.8 1707.7 1255.4 C1704.6 1251 1702.9 1222.5 1704.7 1219.2Z"/></clipPath><path d="M1704.7 1219.2 C1706.5 1215.9 1727.6 1211 1731.8 1210.2 C1736 1209.4 1756.9 1208.3 1762 1208.7 C1767.1 1209.1 1797.7 1217 1801.2 1216.2 C1804.7 1215.4 1808.8 1199.9 1810.3 1198.1 C1811.8 1196.3 1821 1191.4 1822.3 1192.1 C1823.6 1192.8 1826.4 1206.5 1828.4 1207.1 C1830.4 1207.6 1849.1 1198.5 1849.5 1199.6 C1849.9 1200.7 1835.9 1218.1 1834.4 1222.2 C1832.9 1226.3 1831.5 1251.4 1828.4 1255.4 C1825.3 1259.4 1798.2 1274.7 1792.2 1276.5 C1786.2 1278.3 1753.1 1281 1746.9 1279.5 C1740.7 1278 1710.8 1259.8 1707.7 1255.4 C1704.6 1251 1702.9 1222.5 1704.7 1219.2Z" fill="#de8ae0"/><g clip-path="url(#clip33)"><g filter="url(#bl4)"><ellipse cx="1760" cy="1235" rx="30" ry="18" fill="#eeb0ee" opacity="0.8" transform="rotate(0 1760 1235)"/><ellipse cx="1810" cy="1240" rx="12" ry="24" fill="#d070d0" opacity="0.6" transform="rotate(0 1810 1240)"/><ellipse cx="1755" cy="1275" rx="30" ry="8" fill="#e8a8e4" opacity="0.7" transform="rotate(0 1755 1275)"/></g><path d="M1704.7 1219.2 C1709.2 1217.7 1722.2 1212 1731.8 1210.2 C1741.3 1208.5 1757 1209 1762 1208.7" fill="none" stroke="#f4c8f4" stroke-width="1.2" opacity="0.6" stroke-linecap="round"/></g><clipPath id="clip34"><path d="M1641.3 1234.3 C1642.8 1231.6 1667.1 1225.4 1671.5 1225.2 C1675.9 1225 1698.6 1228.4 1701.7 1231.3 C1704.8 1234.2 1713.7 1260.5 1713.7 1264.5 C1713.7 1268.5 1704.8 1284.5 1701.7 1285.6 C1698.6 1286.7 1675.3 1281.3 1671.5 1279.5 C1667.7 1277.7 1652.6 1264.7 1650.4 1261.4 C1648.2 1258.1 1639.8 1237 1641.3 1234.3Z"/></clipPath><path d="M1641.3 1234.3 C1642.8 1231.6 1667.1 1225.4 1671.5 1225.2 C1675.9 1225 1698.6 1228.4 1701.7 1231.3 C1704.8 1234.2 1713.7 1260.5 1713.7 1264.5 C1713.7 1268.5 1704.8 1284.5 1701.7 1285.6 C1698.6 1286.7 1675.3 1281.3 1671.5 1279.5 C1667.7 1277.7 1652.6 1264.7 1650.4 1261.4 C1648.2 1258.1 1639.8 1237 1641.3 1234.3Z" fill="#da80da"/><g clip-path="url(#clip34)"><g filter="url(#bl4)"><ellipse cx="1675" cy="1250" rx="18" ry="12" fill="#eaa4ea" opacity="0.7" transform="rotate(0 1675 1250)"/></g><path d="M1641.3 1234.3 C1646.3 1232.8 1661.4 1225.7 1671.5 1225.2 C1681.6 1224.7 1696.7 1230.3 1701.7 1231.3" fill="none" stroke="#f4c8f4" stroke-width="1.2" opacity="0.6" stroke-linecap="round"/></g><clipPath id="clip35"><path d="M1810.3 1255.4 C1812.5 1251 1846.5 1234.1 1852.5 1231.3 C1858.5 1228.5 1889 1217 1891.7 1217.7 C1894.4 1218.4 1891.6 1236 1888.7 1240.3 C1885.8 1244.6 1857.4 1272.7 1852.5 1276.5 C1847.6 1280.3 1825.4 1293.1 1822.3 1291.6 C1819.2 1290.1 1808.1 1259.8 1810.3 1255.4Z"/></clipPath><path d="M1810.3 1255.4 C1812.5 1251 1846.5 1234.1 1852.5 1231.3 C1858.5 1228.5 1889 1217 1891.7 1217.7 C1894.4 1218.4 1891.6 1236 1888.7 1240.3 C1885.8 1244.6 1857.4 1272.7 1852.5 1276.5 C1847.6 1280.3 1825.4 1293.1 1822.3 1291.6 C1819.2 1290.1 1808.1 1259.8 1810.3 1255.4Z" fill="#dc82de"/><g clip-path="url(#clip35)"><g filter="url(#bl4)"><ellipse cx="1860" cy="1245" rx="16" ry="10" fill="#eaa8ec" opacity="0.7" transform="rotate(0 1860 1245)"/></g><path d="M1810.3 1255.4 C1817.3 1251.4 1838.9 1237.6 1852.5 1231.3 C1866.1 1225 1885.2 1220 1891.7 1217.7" fill="none" stroke="#f4c8f4" stroke-width="1.2" opacity="0.6" stroke-linecap="round"/></g><clipPath id="clip36"><path d="M1644.3 1285.6 C1645.8 1283.6 1665.1 1282.2 1671.5 1282.6 C1677.9 1283 1725.2 1289.8 1731.8 1291.6 C1738.4 1293.4 1762 1304.3 1762 1306.7 C1762 1309.1 1738.4 1322.6 1731.8 1324.8 C1725.2 1327 1677 1335.1 1671.5 1336.9 C1666 1338.7 1658.6 1349.3 1656.4 1348.9 C1654.2 1348.5 1641.7 1333.7 1641.3 1330.8 C1640.9 1327.9 1650.2 1313 1650.4 1309.7 C1650.6 1306.4 1642.8 1287.6 1644.3 1285.6Z"/></clipPath><path d="M1644.3 1285.6 C1645.8 1283.6 1665.1 1282.2 1671.5 1282.6 C1677.9 1283 1725.2 1289.8 1731.8 1291.6 C1738.4 1293.4 1762 1304.3 1762 1306.7 C1762 1309.1 1738.4 1322.6 1731.8 1324.8 C1725.2 1327 1677 1335.1 1671.5 1336.9 C1666 1338.7 1658.6 1349.3 1656.4 1348.9 C1654.2 1348.5 1641.7 1333.7 1641.3 1330.8 C1640.9 1327.9 1650.2 1313 1650.4 1309.7 C1650.6 1306.4 1642.8 1287.6 1644.3 1285.6Z" fill="#de8ade"/><g clip-path="url(#clip36)"><g filter="url(#bl4)"><ellipse cx="1690" cy="1300" rx="30" ry="10" fill="#eeb0ee" opacity="0.7" transform="rotate(0 1690 1300)"/><ellipse cx="1690" cy="1335" rx="30" ry="8" fill="#c868c8" opacity="0.5" transform="rotate(0 1690 1335)"/></g><path d="M1644.3 1285.6 C1648.8 1285.1 1656.9 1281.6 1671.5 1282.6 C1686.1 1283.6 1721.8 1290.1 1731.8 1291.6" fill="none" stroke="#f4c8f4" stroke-width="1.2" opacity="0.6" stroke-linecap="round"/></g><clipPath id="clip37"><path d="M1816.3 1288.6 C1818.5 1286.6 1845.4 1280 1852.5 1279.5 C1859.6 1279 1908.8 1280 1912.8 1281.1 C1916.8 1282.2 1908.1 1292.7 1906.8 1294.6 C1905.5 1296.5 1898.7 1305.8 1894.7 1306.7 C1890.7 1307.6 1857.8 1306.7 1852.5 1306.7 C1847.2 1306.7 1825 1308 1822.3 1306.7 C1819.6 1305.4 1814.1 1290.6 1816.3 1288.6Z"/></clipPath><path d="M1816.3 1288.6 C1818.5 1286.6 1845.4 1280 1852.5 1279.5 C1859.6 1279 1908.8 1280 1912.8 1281.1 C1916.8 1282.2 1908.1 1292.7 1906.8 1294.6 C1905.5 1296.5 1898.7 1305.8 1894.7 1306.7 C1890.7 1307.6 1857.8 1306.7 1852.5 1306.7 C1847.2 1306.7 1825 1308 1822.3 1306.7 C1819.6 1305.4 1814.1 1290.6 1816.3 1288.6Z" fill="#e292e4"/><g clip-path="url(#clip37)"><g filter="url(#bl4)"><ellipse cx="1870" cy="1290" rx="24" ry="6" fill="#f0bcf0" opacity="0.7" transform="rotate(0 1870 1290)"/></g><path d="M1816.3 1288.6 C1822.3 1287.1 1836.4 1280.8 1852.5 1279.5 C1868.6 1278.2 1902.8 1280.8 1912.8 1281.1" fill="none" stroke="#f4c8f4" stroke-width="1.2" opacity="0.6" stroke-linecap="round"/></g><clipPath id="clip38"><path d="M1798.2 1324.8 C1800.4 1321.9 1832.1 1309.3 1837.4 1309.7 C1842.7 1310.1 1866.4 1326.4 1870.6 1330.8 C1874.8 1335.2 1893.8 1366.6 1894.7 1370 C1895.6 1373.4 1886.9 1377.8 1882.7 1377.6 C1878.5 1377.4 1842.9 1369.1 1837.4 1367 C1831.9 1364.9 1810.1 1352 1807.2 1348.9 C1804.3 1345.8 1796 1327.7 1798.2 1324.8Z"/></clipPath><path d="M1798.2 1324.8 C1800.4 1321.9 1832.1 1309.3 1837.4 1309.7 C1842.7 1310.1 1866.4 1326.4 1870.6 1330.8 C1874.8 1335.2 1893.8 1366.6 1894.7 1370 C1895.6 1373.4 1886.9 1377.8 1882.7 1377.6 C1878.5 1377.4 1842.9 1369.1 1837.4 1367 C1831.9 1364.9 1810.1 1352 1807.2 1348.9 C1804.3 1345.8 1796 1327.7 1798.2 1324.8Z" fill="#d67ad6"/><g clip-path="url(#clip38)"><g filter="url(#bl4)"><ellipse cx="1850" cy="1340" rx="20" ry="12" fill="#e6a2e6" opacity="0.6" transform="rotate(0 1850 1340)"/></g><path d="M1798.2 1324.8 C1804.7 1322.3 1825.3 1308.7 1837.4 1309.7 C1849.5 1310.7 1865.1 1327.3 1870.6 1330.8" fill="none" stroke="#f4c8f4" stroke-width="1.2" opacity="0.6" stroke-linecap="round"/></g><clipPath id="clip39"><path d="M1719.8 1312.7 C1720.9 1310.7 1755.6 1298.8 1762 1297.6 C1768.4 1296.4 1801.5 1295.4 1807.2 1296.1 C1812.9 1296.8 1838.8 1304.8 1840.4 1306.7 C1842 1308.6 1831.9 1320 1828.4 1321.8 C1824.9 1323.6 1798.2 1330.6 1792.2 1330.8 C1786.2 1331 1752.2 1326.1 1746.9 1324.8 C1741.6 1323.5 1718.7 1314.7 1719.8 1312.7Z"/></clipPath><path d="M1719.8 1312.7 C1720.9 1310.7 1755.6 1298.8 1762 1297.6 C1768.4 1296.4 1801.5 1295.4 1807.2 1296.1 C1812.9 1296.8 1838.8 1304.8 1840.4 1306.7 C1842 1308.6 1831.9 1320 1828.4 1321.8 C1824.9 1323.6 1798.2 1330.6 1792.2 1330.8 C1786.2 1331 1752.2 1326.1 1746.9 1324.8 C1741.6 1323.5 1718.7 1314.7 1719.8 1312.7Z" fill="#e89ce8"/><g clip-path="url(#clip39)"><g filter="url(#bl4)"><ellipse cx="1785" cy="1308" rx="30" ry="6" fill="#f6c8f6" opacity="0.8" transform="rotate(0 1785 1308)"/></g><path d="M1719.8 1312.7 C1726.8 1310.2 1747.4 1300.4 1762 1297.6 C1776.6 1294.8 1799.7 1296.3 1807.2 1296.1" fill="none" stroke="#f4c8f4" stroke-width="1.2" opacity="0.6" stroke-linecap="round"/></g><ellipse cx="1759" cy="1293" rx="14" ry="5" fill="#e0d0a8" opacity="0.7" filter="url(#bl2)"/>
<path d="M1560 1570 L1560.2 1573.6 L1561.6 1575.3 L1561.9 1578.9 L1564.3 1579.1 L1564.8 1582.2 L1567.9 1581.5 L1569.1 1583.7 L1572.4 1582.5 L1574.6 1583.2 L1578 1582 L1577.8 1578.4 L1576.4 1576.7 L1576.1 1573.1 L1573.7 1572.9 L1573.2 1569.8 L1570.1 1570.5 L1568.9 1568.3 L1565.6 1569.5 L1563.4 1568.8Z" fill="#3f7a30"/><path d="M1560 1570 L1578 1582" stroke="#8fb080" stroke-width="0.8" opacity="0.7"/><clipPath id="clip40"><path d="M1457.6 1452.7 C1460 1451.3 1471.7 1451.1 1474.9 1450.5 C1478.1 1449.9 1498.7 1445.7 1501.9 1445.1 C1505.1 1444.5 1515.5 1441.4 1518.1 1441.9 C1520.7 1442.4 1535.4 1450.1 1537.6 1451.6 C1539.8 1453.1 1547.7 1460 1548.4 1462.4 C1549.1 1464.8 1546 1481.6 1547.3 1484.1 C1548.6 1486.6 1564.7 1494.6 1566.8 1497 C1568.9 1499.4 1574.2 1513.9 1575.5 1516.5 C1576.8 1519.1 1584.7 1529.7 1585.2 1532.7 C1585.7 1535.7 1583 1555.1 1582 1557.6 C1581 1560.1 1574.3 1565.5 1572.2 1566.3 C1570.1 1567.1 1555.1 1566.3 1553.8 1568.4 C1552.5 1570.5 1556.7 1593.6 1554.9 1595.5 C1553.1 1597.4 1532.5 1593.7 1529 1594.4 C1525.5 1595.1 1511 1604 1507.3 1605.2 C1503.6 1606.4 1482.5 1610.4 1479.2 1610.6 C1475.9 1610.8 1464.8 1608.6 1461.9 1607.4 C1459 1606.2 1441.7 1597.1 1439.2 1594.4 C1436.7 1591.7 1429.1 1572.7 1428.4 1570.6 C1427.7 1568.5 1429.7 1567.2 1429.5 1565.2 C1429.3 1563.2 1426.4 1546.1 1426.2 1543.5 C1426 1540.9 1426 1531.5 1426.2 1529.5 C1426.4 1527.5 1429.5 1518.2 1429.5 1516.5 C1429.5 1514.8 1426.2 1508.1 1426.2 1505.7 C1426.2 1503.3 1428.5 1486.2 1429.5 1484.1 C1430.5 1482 1439.4 1477.5 1440.3 1476.5 C1441.2 1475.5 1441.1 1471.7 1442.4 1470 C1443.7 1468.3 1455.2 1454.1 1457.6 1452.7Z"/></clipPath><path d="M1457.6 1452.7 C1460 1451.3 1471.7 1451.1 1474.9 1450.5 C1478.1 1449.9 1498.7 1445.7 1501.9 1445.1 C1505.1 1444.5 1515.5 1441.4 1518.1 1441.9 C1520.7 1442.4 1535.4 1450.1 1537.6 1451.6 C1539.8 1453.1 1547.7 1460 1548.4 1462.4 C1549.1 1464.8 1546 1481.6 1547.3 1484.1 C1548.6 1486.6 1564.7 1494.6 1566.8 1497 C1568.9 1499.4 1574.2 1513.9 1575.5 1516.5 C1576.8 1519.1 1584.7 1529.7 1585.2 1532.7 C1585.7 1535.7 1583 1555.1 1582 1557.6 C1581 1560.1 1574.3 1565.5 1572.2 1566.3 C1570.1 1567.1 1555.1 1566.3 1553.8 1568.4 C1552.5 1570.5 1556.7 1593.6 1554.9 1595.5 C1553.1 1597.4 1532.5 1593.7 1529 1594.4 C1525.5 1595.1 1511 1604 1507.3 1605.2 C1503.6 1606.4 1482.5 1610.4 1479.2 1610.6 C1475.9 1610.8 1464.8 1608.6 1461.9 1607.4 C1459 1606.2 1441.7 1597.1 1439.2 1594.4 C1436.7 1591.7 1429.1 1572.7 1428.4 1570.6 C1427.7 1568.5 1429.7 1567.2 1429.5 1565.2 C1429.3 1563.2 1426.4 1546.1 1426.2 1543.5 C1426 1540.9 1426 1531.5 1426.2 1529.5 C1426.4 1527.5 1429.5 1518.2 1429.5 1516.5 C1429.5 1514.8 1426.2 1508.1 1426.2 1505.7 C1426.2 1503.3 1428.5 1486.2 1429.5 1484.1 C1430.5 1482 1439.4 1477.5 1440.3 1476.5 C1441.2 1475.5 1441.1 1471.7 1442.4 1470 C1443.7 1468.3 1455.2 1454.1 1457.6 1452.7Z" fill="#b862c2"/><g clip-path="url(#clip40)"><g filter="url(#bl6)"><ellipse cx="1495" cy="1530" rx="28" ry="28" fill="#8a3080" opacity="0.7" transform="rotate(0 1495 1530)"/><ellipse cx="1492" cy="1527" rx="8" ry="8" fill="#c070c0" opacity="0.8" transform="rotate(0 1492 1527)"/><ellipse cx="1530" cy="1490" rx="28" ry="18" fill="#d48ae0" opacity="0.7" transform="rotate(0 1530 1490)"/><ellipse cx="1455" cy="1500" rx="20" ry="30" fill="#c87ad6" opacity="0.6" transform="rotate(0 1455 1500)"/><ellipse cx="1500" cy="1585" rx="40" ry="14" fill="#9e4a9c" opacity="0.6" transform="rotate(0 1500 1585)"/><ellipse cx="1560" cy="1545" rx="16" ry="22" fill="#c87ad4" opacity="0.6" transform="rotate(0 1560 1545)"/><ellipse cx="1500" cy="1460" rx="36" ry="12" fill="#c880d8" opacity="0.6" transform="rotate(0 1500 1460)"/></g><path d="M1475 1520 C1475.8 1516.7 1475.8 1504.2 1480 1500 C1484.2 1495.8 1493.3 1493.3 1500 1495 C1506.7 1496.7 1516.3 1502.5 1520 1510 C1523.7 1517.5 1524.5 1531.7 1522 1540 C1519.5 1548.3 1512 1556.7 1505 1560 C1498 1563.3 1484.2 1560 1480 1560" fill="none" stroke="#d8a0e0" stroke-width="2" opacity="0.8" stroke-linecap="round"/><path d="M1440 1510 C1443.3 1506.7 1450 1495.3 1460 1490 C1470 1484.7 1486.7 1478 1500 1478 C1513.3 1478 1530 1483 1540 1490 C1550 1497 1556.7 1515 1560 1520" fill="none" stroke="#dca4e6" stroke-width="2" opacity="0.7" stroke-linecap="round"/><path d="M1520 1540 C1521.3 1545 1529.7 1560.8 1528 1570 C1526.3 1579.2 1513 1590.8 1510 1595" fill="none" stroke="#dca4e6" stroke-width="2" opacity="0.7" stroke-linecap="round"/><path d="M1503 1467.6 C1505 1467.8 1512 1472.4 1514.2 1473.4 C1516.3 1474.4 1530.3 1480.2 1532.4 1481.1 C1534.5 1482 1542 1484.5 1543.3 1485.8 C1544.7 1487.2 1550.3 1497.7 1551 1499.5 C1551.7 1501.3 1553.5 1508.6 1553 1510.3 C1552.4 1512 1543.7 1520.7 1543.5 1522.8 C1543.3 1524.8 1549.6 1536.1 1549.9 1538.4 C1550.1 1540.6 1547.4 1551.4 1547.1 1553.5 C1546.8 1555.6 1547.2 1565.1 1546.3 1567.1 C1545.3 1569 1535.8 1579.5 1534.3 1580.6 C1532.7 1581.6 1526.4 1582.1 1524.9 1581.7 C1523.3 1581.4 1514.7 1574.7 1513.1 1575.5 C1511.5 1576.3 1504.6 1591.7 1502.7 1592.1 C1500.9 1592.5 1490.2 1581.9 1487.8 1580.9 C1485.4 1579.9 1473.2 1579.2 1470.5 1578.5 C1467.9 1577.7 1453.7 1571.5 1451.6 1570.3 C1449.6 1569 1443.9 1563.2 1442.6 1561.3 C1441.4 1559.4 1434.8 1547 1434.4 1544.4 C1434.1 1541.8 1437.3 1527.4 1437.7 1525.8 C1438.1 1524.3 1439.8 1524.3 1440.5 1523.1 C1441.3 1521.8 1446.5 1510.5 1447.4 1508.8 C1448.3 1507.2 1452.2 1501.6 1453.1 1500.5 C1454 1499.4 1459.6 1495.2 1460.3 1494.1 C1461.1 1493.1 1461.8 1487.8 1462.8 1486.4 C1463.7 1485 1472 1475.7 1473.5 1474.9 C1475 1474 1482 1475 1483 1474.8 C1484 1474.5 1485.5 1472.3 1486.9 1471.7 C1488.4 1471.2 1501 1467.5 1503 1467.6Z" fill="#b25ab8" opacity="0.9" stroke="#d8a0e2" stroke-width="1.7" stroke-linejoin="round" stroke-opacity="0.7"/><path d="M1461 1503.8 C1461.7 1502.7 1466.5 1499.9 1467.8 1498.9 C1469 1498 1476.7 1491.4 1477.9 1490.5 C1479.1 1489.5 1482.8 1485.8 1484 1485.4 C1485.2 1485 1493.2 1484.9 1494.4 1485 C1495.7 1485.1 1500.6 1486.2 1501.5 1487 C1502.3 1487.9 1504.8 1495.7 1506 1496.4 C1507.2 1497.2 1515.8 1496.9 1517.2 1497.4 C1518.6 1497.9 1524.2 1502.8 1525.3 1503.6 C1526.5 1504.4 1532.3 1507 1533.2 1508.2 C1534 1509.3 1537.4 1518.2 1537.5 1519.4 C1537.7 1520.7 1536.1 1524.5 1535.4 1525.3 C1534.7 1526.1 1528.2 1529.3 1528.1 1530.4 C1528.1 1531.6 1535.2 1540.4 1534.8 1541.6 C1534.5 1542.8 1525 1546 1523.7 1547.1 C1522.4 1548.2 1518.3 1555.3 1517 1556.7 C1515.8 1558 1507.8 1564.6 1506.4 1565.4 C1505.1 1566.2 1499.9 1567.8 1498.4 1568 C1496.9 1568.2 1487.5 1568.3 1485.8 1567.8 C1484.2 1567.2 1476.6 1561 1475.8 1560.2 C1475 1559.5 1475.6 1558.5 1475 1557.7 C1474.5 1556.9 1469.4 1550.4 1468.7 1549.3 C1468 1548.3 1465.8 1544.3 1465.4 1543.4 C1465.1 1542.5 1464.2 1537.9 1463.8 1537.2 C1463.4 1536.5 1460.5 1534.4 1460 1533.4 C1459.4 1532.4 1456.4 1524.7 1456.4 1523.5 C1456.3 1522.4 1459 1518.5 1459.2 1517.9 C1459.3 1517.2 1458.4 1515.7 1458.6 1514.6 C1458.7 1513.6 1460.3 1505 1461 1503.8Z" fill="#9a4298" opacity="0.9" stroke="#d090d8" stroke-width="1.7" stroke-linejoin="round" stroke-opacity="0.7"/><path d="M1506.2 1509 C1506.8 1509.4 1508.4 1512.3 1508.9 1513 C1509.5 1513.8 1513.1 1518.4 1513.7 1519.1 C1514.3 1519.8 1516.3 1522 1516.6 1522.7 C1516.8 1523.4 1516.7 1528.1 1516.6 1528.8 C1516.5 1529.5 1515.8 1532.4 1515.3 1532.9 C1514.8 1533.3 1510.2 1534.7 1509.7 1535.4 C1509.3 1536 1509.3 1541 1509 1541.9 C1508.7 1542.7 1505.7 1545.8 1505.2 1546.5 C1504.7 1547.2 1503.1 1550.5 1502.4 1551 C1501.7 1551.5 1496.5 1553.3 1495.8 1553.3 C1495.1 1553.4 1492.8 1552.4 1492.4 1552 C1491.9 1551.6 1490.2 1547.7 1489.5 1547.7 C1488.8 1547.6 1483.6 1551.6 1482.9 1551.4 C1482.2 1551.2 1480.5 1545.6 1479.9 1544.8 C1479.3 1544 1475.2 1541.5 1474.4 1540.7 C1473.7 1540 1470 1535.2 1469.5 1534.4 C1469 1533.6 1468.2 1530.6 1468.1 1529.7 C1468 1528.8 1468.1 1523.3 1468.5 1522.4 C1468.8 1521.4 1472.6 1517.1 1473 1516.7 C1473.5 1516.2 1474.1 1516.5 1474.5 1516.3 C1475 1516 1478.9 1513.1 1479.5 1512.7 C1480.1 1512.3 1482.5 1511.1 1483 1510.9 C1483.5 1510.7 1486.2 1510.3 1486.7 1510.1 C1487.1 1509.8 1488.4 1508.2 1489 1507.9 C1489.6 1507.6 1494.1 1506 1494.8 1506 C1495.4 1505.9 1497.7 1507.6 1498 1507.7 C1498.4 1507.8 1499.3 1507.3 1499.9 1507.4 C1500.5 1507.5 1505.5 1508.6 1506.2 1509Z" fill="#7a2a6c" opacity="0.9" stroke="#c078c0" stroke-width="1.5" stroke-linejoin="round" stroke-opacity="0.7"/><path d="M1489.5 1516.6 C1489.9 1516.5 1491.4 1516.8 1491.8 1516.8 C1492.2 1516.8 1495 1516.8 1495.4 1516.8 C1495.8 1516.8 1497.2 1516.7 1497.5 1516.8 C1497.8 1517 1499.5 1518.3 1499.8 1518.6 C1500 1518.8 1500.8 1519.9 1500.9 1520.2 C1500.9 1520.5 1500 1522.6 1500.2 1523 C1500.3 1523.3 1502.1 1524.8 1502.3 1525.1 C1502.5 1525.5 1502.8 1527.5 1502.9 1527.8 C1503 1528.2 1503.7 1529.7 1503.7 1530.1 C1503.7 1530.5 1502.9 1532.9 1502.7 1533.2 C1502.5 1533.5 1501.5 1534 1501.2 1534.1 C1500.9 1534.1 1499 1533.6 1498.8 1533.9 C1498.6 1534.1 1498.5 1537.2 1498.2 1537.4 C1498 1537.5 1495.4 1536.5 1495 1536.5 C1494.5 1536.5 1492.4 1537.3 1491.9 1537.4 C1491.4 1537.4 1488.6 1537.4 1488.2 1537.3 C1487.8 1537.3 1486.4 1536.7 1486.1 1536.5 C1485.7 1536.2 1483.8 1534.6 1483.5 1534.2 C1483.3 1533.8 1482.8 1531.2 1482.8 1530.9 C1482.7 1530.6 1483 1530.5 1483.1 1530.3 C1483.1 1530 1483.2 1527.7 1483.2 1527.4 C1483.2 1527.1 1483.5 1525.9 1483.6 1525.6 C1483.6 1525.4 1484.3 1524.3 1484.3 1524 C1484.4 1523.8 1484.1 1522.9 1484.2 1522.6 C1484.2 1522.3 1485 1520.2 1485.1 1519.9 C1485.3 1519.7 1486.6 1519.3 1486.7 1519.2 C1486.9 1519.1 1486.9 1518.6 1487.2 1518.5 C1487.4 1518.3 1489.2 1516.8 1489.5 1516.6Z" fill="#a04a98" opacity="0.9" stroke="#d090d0" stroke-width="1" stroke-linejoin="round" stroke-opacity="0.7"/></g>
<path d="M1767.5 1395 Q1767.8 1378.5 1770 1362 Q1772.2 1378.5 1772.5 1395Z" fill="#2f5a28"/><path d="M1783.4 1388.8 Q1793.5 1375 1805 1362 Q1796.5 1377 1786.6 1391.2Z" fill="#6a7a5a"/><clipPath id="clip41"><path d="M1743.9 1370 C1747.6 1369.6 1779.1 1398.3 1782.2 1400 C1785.3 1401.7 1783.3 1394.6 1785.8 1393.7 C1788.3 1392.8 1812.1 1387.4 1816.8 1387.3 C1821.5 1387.2 1846 1387.3 1849.5 1392.8 C1853 1398.3 1862.5 1457.1 1864.1 1462 C1865.7 1466.9 1870.9 1458.3 1871.4 1460.2 C1871.9 1462.1 1870.3 1484.4 1871.4 1487.5 C1872.5 1490.6 1885.9 1500.4 1886 1502 C1886.1 1503.6 1873.7 1505.3 1873.2 1509.3 C1872.7 1513.3 1880.8 1553.8 1878.7 1556.7 C1876.6 1559.6 1843.2 1546.1 1844.1 1549.4 C1845 1552.7 1895.8 1594.9 1891.4 1602.2 C1887 1609.5 1792.1 1647.3 1784 1649.6 C1775.9 1651.9 1782.6 1633.1 1780.3 1633.2 C1778 1633.3 1760.7 1651.5 1753 1651.4 C1745.3 1651.3 1681.5 1634.9 1674.7 1631.4 C1667.9 1627.9 1663 1607.9 1660.1 1604 C1657.2 1600.1 1636.2 1582.6 1634.6 1578.5 C1633 1574.4 1641 1551.3 1638.3 1547.6 C1635.6 1543.9 1598.5 1530.8 1597.3 1527.5 C1596.1 1524.2 1617.6 1506 1621.9 1502 C1626.2 1498 1654.5 1477.4 1656.5 1472.9 C1658.5 1468.4 1646.3 1444.6 1649.2 1440.1 C1652.1 1435.6 1690.6 1413.5 1696.6 1411 C1702.6 1408.5 1727.7 1408.5 1731.2 1405.5 C1734.7 1402.5 1740.2 1370.4 1743.9 1370Z"/></clipPath><path d="M1743.9 1370 C1747.6 1369.6 1779.1 1398.3 1782.2 1400 C1785.3 1401.7 1783.3 1394.6 1785.8 1393.7 C1788.3 1392.8 1812.1 1387.4 1816.8 1387.3 C1821.5 1387.2 1846 1387.3 1849.5 1392.8 C1853 1398.3 1862.5 1457.1 1864.1 1462 C1865.7 1466.9 1870.9 1458.3 1871.4 1460.2 C1871.9 1462.1 1870.3 1484.4 1871.4 1487.5 C1872.5 1490.6 1885.9 1500.4 1886 1502 C1886.1 1503.6 1873.7 1505.3 1873.2 1509.3 C1872.7 1513.3 1880.8 1553.8 1878.7 1556.7 C1876.6 1559.6 1843.2 1546.1 1844.1 1549.4 C1845 1552.7 1895.8 1594.9 1891.4 1602.2 C1887 1609.5 1792.1 1647.3 1784 1649.6 C1775.9 1651.9 1782.6 1633.1 1780.3 1633.2 C1778 1633.3 1760.7 1651.5 1753 1651.4 C1745.3 1651.3 1681.5 1634.9 1674.7 1631.4 C1667.9 1627.9 1663 1607.9 1660.1 1604 C1657.2 1600.1 1636.2 1582.6 1634.6 1578.5 C1633 1574.4 1641 1551.3 1638.3 1547.6 C1635.6 1543.9 1598.5 1530.8 1597.3 1527.5 C1596.1 1524.2 1617.6 1506 1621.9 1502 C1626.2 1498 1654.5 1477.4 1656.5 1472.9 C1658.5 1468.4 1646.3 1444.6 1649.2 1440.1 C1652.1 1435.6 1690.6 1413.5 1696.6 1411 C1702.6 1408.5 1727.7 1408.5 1731.2 1405.5 C1734.7 1402.5 1740.2 1370.4 1743.9 1370Z" fill="#d96ad2"/><g clip-path="url(#clip41)"><g filter="url(#bl6)"><ellipse cx="1755" cy="1511" rx="26" ry="22" fill="#b89044" opacity="0.8" transform="rotate(0 1755 1511)"/><ellipse cx="1755" cy="1511" rx="56" ry="48" fill="#c450b0" opacity="0.5" transform="rotate(0 1755 1511)"/><ellipse cx="1700" cy="1470" rx="30" ry="22" fill="#e090e0" opacity="0.6" transform="rotate(0 1700 1470)"/><ellipse cx="1810" cy="1450" rx="30" ry="30" fill="#e08ede" opacity="0.6" transform="rotate(0 1810 1450)"/><ellipse cx="1830" cy="1560" rx="30" ry="22" fill="#d270d0" opacity="0.5" transform="rotate(0 1830 1560)"/><ellipse cx="1690" cy="1560" rx="30" ry="30" fill="#d878d6" opacity="0.6" transform="rotate(0 1690 1560)"/><ellipse cx="1740" cy="1610" rx="40" ry="18" fill="#cc62c8" opacity="0.5" transform="rotate(0 1740 1610)"/><ellipse cx="1640" cy="1520" rx="20" ry="20" fill="#d070d0" opacity="0.5" transform="rotate(0 1640 1520)"/><ellipse cx="1790" cy="1500" rx="12" ry="14" fill="#f0d8ec" opacity="0.6" transform="rotate(0 1790 1500)"/></g><path d="M1680 1480 C1683.3 1475.8 1690.8 1460 1700 1455 C1709.2 1450 1729.2 1450.8 1735 1450" fill="none" stroke="#eeaaea" stroke-width="2" opacity="0.7" stroke-linecap="round"/><path d="M1790 1445 C1794.2 1449.2 1810 1460.8 1815 1470 C1820 1479.2 1819.2 1495 1820 1500" fill="none" stroke="#eeaaea" stroke-width="2" opacity="0.7" stroke-linecap="round"/><path d="M1800 1550 C1796.7 1554.2 1788.3 1570 1780 1575 C1771.7 1580 1755 1579.2 1750 1580" fill="none" stroke="#eeaaea" stroke-width="2" opacity="0.7" stroke-linecap="round"/><path d="M1690 1540 C1691.7 1545.8 1693.3 1566.7 1700 1575 C1706.7 1583.3 1725 1587.5 1730 1590" fill="none" stroke="#eeaaea" stroke-width="2" opacity="0.7" stroke-linecap="round"/><path d="M1660 1500 C1658.3 1505 1650 1520 1650 1530 C1650 1540 1658.3 1555 1660 1560" fill="none" stroke="#eaa4e8" stroke-width="1.6" opacity="0.6" stroke-linecap="round"/><path d="M1787.2 1414.4 C1789.8 1415.2 1802.6 1443 1804.2 1445 C1805.7 1447 1806.4 1441.8 1808.3 1441.8 C1810.3 1441.9 1827.6 1445 1830.7 1446.3 C1833.8 1447.6 1850 1454.5 1850.8 1459.1 C1851.6 1463.7 1841.4 1505.4 1841.1 1509.1 C1840.8 1512.8 1846.6 1508.6 1846.4 1509.9 C1846.3 1511.3 1838.9 1525.7 1838.8 1528.1 C1838.6 1530.4 1844.8 1540.7 1844.4 1541.8 C1844 1542.9 1835.3 1540.5 1833.9 1543 C1832.4 1545.5 1826.5 1574.6 1824.2 1576 C1822 1577.3 1803.6 1559 1803.3 1561.4 C1803 1563.9 1824.9 1606.1 1819.9 1609.7 C1814.9 1613.4 1741.4 1611.8 1735.4 1611 C1729.3 1610.3 1739.1 1599.7 1737.5 1599.1 C1736 1598.6 1719.4 1605.8 1714.3 1603.5 C1709.2 1601.3 1671.5 1572.5 1668 1568.3 C1664.4 1564.1 1666.9 1549.5 1666 1546.1 C1665.1 1542.7 1656.1 1525.2 1656.2 1522 C1656.3 1518.8 1668.1 1505.8 1667.3 1502.6 C1666.6 1499.3 1645.7 1480.3 1645.8 1477.7 C1645.9 1475.2 1665.3 1469.2 1669.3 1467.7 C1673.3 1466.3 1697.8 1460.6 1700.4 1458.1 C1703 1455.7 1701.5 1436.5 1704.7 1434.3 C1707.9 1432.1 1739.6 1428.3 1744.3 1428.3 C1749 1428.3 1765.7 1435.4 1768.8 1434.4 C1771.9 1433.3 1784.6 1413.6 1787.2 1414.4Z" fill="#d462cc" opacity="0.8" stroke="#eeaaea" stroke-width="1.7" stroke-linejoin="round" stroke-opacity="0.7"/><path d="M1726.8 1449.3 C1728.4 1448.5 1747.3 1456.2 1749 1456.5 C1750.7 1456.8 1748.6 1453.9 1749.6 1453 C1750.6 1452.2 1760.4 1445.9 1762.5 1445.1 C1764.6 1444.3 1775.7 1440.3 1778.2 1442.1 C1780.6 1444 1794.6 1469 1796.1 1470.9 C1797.7 1472.9 1798.6 1468.2 1799.1 1468.9 C1799.7 1469.7 1802.6 1480 1803.6 1481.2 C1804.6 1482.5 1812.3 1484.7 1812.6 1485.4 C1812.9 1486.1 1807.6 1488.9 1808 1490.8 C1808.4 1492.7 1818.8 1509.6 1818.3 1511.2 C1817.8 1512.9 1800.5 1512.3 1801.5 1513.6 C1802.5 1515 1832.3 1525.6 1831.5 1529.7 C1830.7 1533.7 1794.2 1566.4 1790.9 1568.7 C1787.6 1571.1 1787.5 1561.5 1786.5 1561.9 C1785.5 1562.4 1780.7 1573.4 1777.2 1574.6 C1773.7 1575.9 1742.3 1579 1738.6 1578.5 C1735 1578.1 1729.5 1569.8 1727.5 1568.6 C1725.6 1567.3 1713.2 1562.9 1711.8 1561.3 C1710.4 1559.7 1710.3 1547.9 1708.4 1546.7 C1706.6 1545.5 1687.7 1545.7 1686.6 1544.4 C1685.5 1543.1 1692.2 1531.4 1693.5 1528.8 C1694.8 1526.3 1704.2 1512.4 1704.3 1510 C1704.5 1507.7 1695 1499 1695.6 1496.4 C1696.2 1493.9 1709.9 1477.7 1712.2 1475.5 C1714.5 1473.4 1725.8 1469.3 1726.9 1467.3 C1728 1465.4 1725.2 1450 1726.8 1449.3Z" fill="#d060c8" opacity="0.8" stroke="#eaa4e6" stroke-width="1.7" stroke-linejoin="round" stroke-opacity="0.7"/><ellipse cx="1755" cy="1511" rx="28" ry="24" fill="#b89044" opacity="0.9" filter="url(#bl4)"/><circle cx="1731.3" cy="1517.1" r="2" fill="#6a3a18"/><circle cx="1774.7" cy="1502.7" r="1.8" fill="#6a3a18"/><circle cx="1729.4" cy="1509.7" r="1.3" fill="#6a3a18"/><circle cx="1764.3" cy="1529.2" r="1.9" fill="#6a3a18"/><circle cx="1733.5" cy="1491.1" r="1.2" fill="#6a3a18"/><circle cx="1769.2" cy="1519.1" r="1.4" fill="#6a3a18"/><circle cx="1782.2" cy="1525.8" r="1.9" fill="#6a3a18"/><circle cx="1751.9" cy="1503.6" r="1.6" fill="#6a3a18"/><circle cx="1791.8" cy="1508" r="1.1" fill="#6a3a18"/><circle cx="1740.2" cy="1492.3" r="2" fill="#6a3a18"/><circle cx="1759.6" cy="1517" r="1.2" fill="#6a3a18"/><circle cx="1745.4" cy="1509.5" r="1.3" fill="#6a3a18"/><circle cx="1760.6" cy="1523.1" r="1.8" fill="#6a3a18"/><circle cx="1776.5" cy="1514.5" r="1.3" fill="#6a3a18"/><circle cx="1723.9" cy="1521.1" r="1.3" fill="#6a3a18"/><circle cx="1728" cy="1508" r="1.1" fill="#6a3a18"/><circle cx="1727.1" cy="1510.8" r="1.1" fill="#6a3a18"/><circle cx="1739.2" cy="1514.6" r="1.6" fill="#6a3a18"/><circle cx="1792.9" cy="1511.1" r="1.2" fill="#6a3a18"/><circle cx="1771" cy="1490.2" r="1.6" fill="#6a3a18"/><circle cx="1749" cy="1522.6" r="1.4" fill="#6a3a18"/><circle cx="1752.5" cy="1519.3" r="1.5" fill="#6a3a18"/><circle cx="1757.3" cy="1494.1" r="2" fill="#6a3a18"/><circle cx="1766.4" cy="1497.5" r="1.5" fill="#6a3a18"/><circle cx="1787.4" cy="1504" r="1.6" fill="#6a3a18"/><circle cx="1769.3" cy="1511" r="1.9" fill="#6a3a18"/><circle cx="1773.9" cy="1501.2" r="1.2" fill="#6a3a18"/><circle cx="1774.8" cy="1509.2" r="1.2" fill="#6a3a18"/><circle cx="1779.1" cy="1521.1" r="1.9" fill="#6a3a18"/><circle cx="1758.1" cy="1497.6" r="1.8" fill="#6a3a18"/><circle cx="1770.3" cy="1519" r="1.2" fill="#6a3a18"/><circle cx="1785.1" cy="1505.6" r="1.2" fill="#6a3a18"/><circle cx="1766.3" cy="1519.9" r="1.7" fill="#6a3a18"/><circle cx="1762.9" cy="1516" r="1.9" fill="#6a3a18"/><circle cx="1759.1" cy="1500.2" r="1.2" fill="#6a3a18"/><circle cx="1735.1" cy="1504.2" r="2" fill="#6a3a18"/><circle cx="1765.8" cy="1534.7" r="1.9" fill="#6a3a18"/><circle cx="1773.5" cy="1528.1" r="1.6" fill="#6a3a18"/><circle cx="1770.3" cy="1522.7" r="1.4" fill="#6a3a18"/><circle cx="1758.7" cy="1524.3" r="1.1" fill="#6a3a18"/></g>
<rect x="70.6" y="1756.5" width="230" height="202.4" fill="#000"/>
<rect x="70.6" y="2027.9" width="230" height="233.8" fill="#000"/>
<clipPath id="clip42"><path d="M185.9 1769.2 C186.9 1769.3 191.7 1778.3 193 1779.2 C194.3 1780.1 201.8 1781.6 203.7 1782 C205.6 1782.4 217.1 1784.1 219.4 1784.9 C221.7 1785.7 232.8 1791.1 235 1792.7 C237.2 1794.3 247.4 1804.6 249.2 1806.9 C251 1809.2 258.2 1821.5 259.2 1824 C260.2 1826.5 262.8 1838.1 262.8 1841 C262.8 1843.9 260.2 1860.6 259.2 1863.8 C258.2 1867 251 1882.1 249.2 1885.2 C247.4 1888.3 237.4 1903.4 235 1906.5 C232.6 1909.6 219.1 1925.3 216.5 1927.9 C213.9 1930.5 201.6 1940.6 199.4 1942.1 C197.2 1943.6 188 1948.5 185.9 1948.5 C183.8 1948.5 173.6 1943.6 171 1942.1 C168.4 1940.6 154 1930.5 151.1 1927.9 C148.2 1925.3 133.8 1909.8 131.1 1906.5 C128.4 1903.2 116.1 1885.8 114.1 1882.3 C112.1 1878.8 104.9 1861.3 104.1 1858.1 C103.3 1854.9 102.5 1841.1 102.7 1838.2 C102.9 1835.3 106 1820.8 107 1818.3 C108 1815.8 114.9 1806.2 116.9 1804.1 C118.9 1802 131.5 1791.4 134 1789.8 C136.5 1788.2 148.7 1783.3 151.1 1782.7 C153.5 1782.1 164.6 1782.4 166.7 1782 C168.8 1781.6 178.1 1778.6 179.5 1777.7 C180.9 1776.8 184.9 1769.1 185.9 1769.2Z"/></clipPath><path d="M185.9 1769.2 C186.9 1769.3 191.7 1778.3 193 1779.2 C194.3 1780.1 201.8 1781.6 203.7 1782 C205.6 1782.4 217.1 1784.1 219.4 1784.9 C221.7 1785.7 232.8 1791.1 235 1792.7 C237.2 1794.3 247.4 1804.6 249.2 1806.9 C251 1809.2 258.2 1821.5 259.2 1824 C260.2 1826.5 262.8 1838.1 262.8 1841 C262.8 1843.9 260.2 1860.6 259.2 1863.8 C258.2 1867 251 1882.1 249.2 1885.2 C247.4 1888.3 237.4 1903.4 235 1906.5 C232.6 1909.6 219.1 1925.3 216.5 1927.9 C213.9 1930.5 201.6 1940.6 199.4 1942.1 C197.2 1943.6 188 1948.5 185.9 1948.5 C183.8 1948.5 173.6 1943.6 171 1942.1 C168.4 1940.6 154 1930.5 151.1 1927.9 C148.2 1925.3 133.8 1909.8 131.1 1906.5 C128.4 1903.2 116.1 1885.8 114.1 1882.3 C112.1 1878.8 104.9 1861.3 104.1 1858.1 C103.3 1854.9 102.5 1841.1 102.7 1838.2 C102.9 1835.3 106 1820.8 107 1818.3 C108 1815.8 114.9 1806.2 116.9 1804.1 C118.9 1802 131.5 1791.4 134 1789.8 C136.5 1788.2 148.7 1783.3 151.1 1782.7 C153.5 1782.1 164.6 1782.4 166.7 1782 C168.8 1781.6 178.1 1778.6 179.5 1777.7 C180.9 1776.8 184.9 1769.1 185.9 1769.2Z" fill="#e270b0"/><g clip-path="url(#clip42)"><g filter="url(#bl5)"><ellipse cx="186.6" cy="1922" rx="20.8" ry="27.2" fill="#f0d0e0" opacity="0.8" transform="rotate(0 186.6 1922)"/><ellipse cx="186.6" cy="1936.4" rx="7.2" ry="16" fill="#e6f09a" opacity="1" transform="rotate(0 186.6 1936.4)"/><ellipse cx="186.6" cy="1902" rx="44" ry="28" fill="#e890c0" opacity="0.5" transform="rotate(0 186.6 1902)"/><ellipse cx="186.6" cy="1850" rx="17.6" ry="56" fill="#d9509a" opacity="0.6" transform="rotate(0 186.6 1850)"/></g><path d="M186.6 1946 L138.6 1814" fill="none" stroke="#d04c8c" stroke-width="0.8" opacity="0.3" stroke-linecap="round"/><path d="M186.6 1946 L158.6 1804" fill="none" stroke="#d04c8c" stroke-width="0.8" opacity="0.3" stroke-linecap="round"/><path d="M186.6 1946 L174.6 1796" fill="none" stroke="#d04c8c" stroke-width="0.8" opacity="0.3" stroke-linecap="round"/><path d="M186.6 1946 L186.6 1790" fill="none" stroke="#d04c8c" stroke-width="0.8" opacity="0.3" stroke-linecap="round"/><path d="M186.6 1946 L198.6 1796" fill="none" stroke="#d04c8c" stroke-width="0.8" opacity="0.3" stroke-linecap="round"/><path d="M186.6 1946 L214.6 1804" fill="none" stroke="#d04c8c" stroke-width="0.8" opacity="0.3" stroke-linecap="round"/><path d="M186.6 1946 L234.6 1814" fill="none" stroke="#d04c8c" stroke-width="0.8" opacity="0.3" stroke-linecap="round"/><path d="M185.9 1769.2 C186.9 1769.3 191.7 1778.3 193 1779.2 C194.3 1780.1 201.8 1781.6 203.7 1782 C205.6 1782.4 217.1 1784.1 219.4 1784.9 C221.7 1785.7 232.8 1791.1 235 1792.7 C237.2 1794.3 247.4 1804.6 249.2 1806.9 C251 1809.2 258.2 1821.5 259.2 1824 C260.2 1826.5 262.8 1838.1 262.8 1841 C262.8 1843.9 260.2 1860.6 259.2 1863.8 C258.2 1867 251 1882.1 249.2 1885.2 C247.4 1888.3 237.4 1903.4 235 1906.5 C232.6 1909.6 219.1 1925.3 216.5 1927.9 C213.9 1930.5 201.6 1940.6 199.4 1942.1 C197.2 1943.6 188 1948.5 185.9 1948.5 C183.8 1948.5 173.6 1943.6 171 1942.1 C168.4 1940.6 154 1930.5 151.1 1927.9 C148.2 1925.3 133.8 1909.8 131.1 1906.5 C128.4 1903.2 116.1 1885.8 114.1 1882.3 C112.1 1878.8 104.9 1861.3 104.1 1858.1 C103.3 1854.9 102.5 1841.1 102.7 1838.2 C102.9 1835.3 106 1820.8 107 1818.3 C108 1815.8 114.9 1806.2 116.9 1804.1 C118.9 1802 131.5 1791.4 134 1789.8 C136.5 1788.2 148.7 1783.3 151.1 1782.7 C153.5 1782.1 164.6 1782.4 166.7 1782 C168.8 1781.6 178.1 1778.6 179.5 1777.7 C180.9 1776.8 184.9 1769.1 185.9 1769.2Z" fill="none" stroke="#f2a6ca" stroke-width="4" opacity="0.7" filter="url(#bl2)"/></g>
<clipPath id="clip43"><path d="M192.4 2037.4 C193.5 2038 198.2 2048.1 199.6 2049.2 C201 2050.3 209.1 2051.7 211.4 2051.8 C213.7 2051.9 228.1 2049.8 231 2050.5 C233.9 2051.2 248 2059.6 250.6 2061.6 C253.2 2063.6 264.2 2074.3 266.3 2077.4 C268.4 2080.5 278.2 2099.7 279.4 2103.5 C280.6 2107.3 283.1 2125.9 282.7 2129.7 C282.3 2133.5 276.4 2152.1 274.2 2155.9 C272 2159.7 256.7 2178.3 253.2 2182.1 C249.7 2185.9 230.5 2204.9 227.1 2208.2 C223.7 2211.5 210.1 2224.3 207.4 2226.6 C204.7 2228.9 193 2239.5 190.4 2239.7 C187.8 2239.9 175.2 2231.3 172.1 2229.2 C169 2227.1 152.1 2213.9 148.5 2210.9 C144.9 2207.9 125.9 2191.5 122.4 2188.6 C118.9 2185.7 104 2174.5 101.4 2171.6 C98.8 2168.7 88.5 2152.8 87 2149.3 C85.5 2145.8 81.2 2127 81.1 2123.2 C81 2119.4 84.3 2100.6 85.7 2097 C87.1 2093.4 97.6 2077.7 100.1 2074.7 C102.6 2071.7 116.5 2058.5 119.7 2056.4 C122.9 2054.3 140.2 2047.5 143.3 2046.6 C146.4 2045.7 159 2044.6 161.6 2044.6 C164.2 2044.6 176.9 2046.3 178.6 2046 C180.3 2045.7 184.2 2041.3 185.2 2040.7 C186.2 2040.1 191.3 2036.8 192.4 2037.4Z"/></clipPath><path d="M192.4 2037.4 C193.5 2038 198.2 2048.1 199.6 2049.2 C201 2050.3 209.1 2051.7 211.4 2051.8 C213.7 2051.9 228.1 2049.8 231 2050.5 C233.9 2051.2 248 2059.6 250.6 2061.6 C253.2 2063.6 264.2 2074.3 266.3 2077.4 C268.4 2080.5 278.2 2099.7 279.4 2103.5 C280.6 2107.3 283.1 2125.9 282.7 2129.7 C282.3 2133.5 276.4 2152.1 274.2 2155.9 C272 2159.7 256.7 2178.3 253.2 2182.1 C249.7 2185.9 230.5 2204.9 227.1 2208.2 C223.7 2211.5 210.1 2224.3 207.4 2226.6 C204.7 2228.9 193 2239.5 190.4 2239.7 C187.8 2239.9 175.2 2231.3 172.1 2229.2 C169 2227.1 152.1 2213.9 148.5 2210.9 C144.9 2207.9 125.9 2191.5 122.4 2188.6 C118.9 2185.7 104 2174.5 101.4 2171.6 C98.8 2168.7 88.5 2152.8 87 2149.3 C85.5 2145.8 81.2 2127 81.1 2123.2 C81 2119.4 84.3 2100.6 85.7 2097 C87.1 2093.4 97.6 2077.7 100.1 2074.7 C102.6 2071.7 116.5 2058.5 119.7 2056.4 C122.9 2054.3 140.2 2047.5 143.3 2046.6 C146.4 2045.7 159 2044.6 161.6 2044.6 C164.2 2044.6 176.9 2046.3 178.6 2046 C180.3 2045.7 184.2 2041.3 185.2 2040.7 C186.2 2040.1 191.3 2036.8 192.4 2037.4Z" fill="#e270b0"/><g clip-path="url(#clip43)"><g filter="url(#bl5)"><ellipse cx="190.4" cy="2207" rx="26" ry="34" fill="#f0d0e0" opacity="0.8" transform="rotate(0 190.4 2207)"/><ellipse cx="190.4" cy="2225" rx="9" ry="20" fill="#e6f09a" opacity="1" transform="rotate(0 190.4 2225)"/><ellipse cx="190.4" cy="2182" rx="55" ry="35" fill="#e890c0" opacity="0.5" transform="rotate(0 190.4 2182)"/><ellipse cx="190.4" cy="2117" rx="22" ry="70" fill="#d9509a" opacity="0.6" transform="rotate(0 190.4 2117)"/></g><path d="M190.4 2237 L130.4 2072" fill="none" stroke="#d04c8c" stroke-width="0.8" opacity="0.3" stroke-linecap="round"/><path d="M190.4 2237 L155.4 2059.5" fill="none" stroke="#d04c8c" stroke-width="0.8" opacity="0.3" stroke-linecap="round"/><path d="M190.4 2237 L175.4 2049.5" fill="none" stroke="#d04c8c" stroke-width="0.8" opacity="0.3" stroke-linecap="round"/><path d="M190.4 2237 L190.4 2042" fill="none" stroke="#d04c8c" stroke-width="0.8" opacity="0.3" stroke-linecap="round"/><path d="M190.4 2237 L205.4 2049.5" fill="none" stroke="#d04c8c" stroke-width="0.8" opacity="0.3" stroke-linecap="round"/><path d="M190.4 2237 L225.4 2059.5" fill="none" stroke="#d04c8c" stroke-width="0.8" opacity="0.3" stroke-linecap="round"/><path d="M190.4 2237 L250.4 2072" fill="none" stroke="#d04c8c" stroke-width="0.8" opacity="0.3" stroke-linecap="round"/><path d="M192.4 2037.4 C193.5 2038 198.2 2048.1 199.6 2049.2 C201 2050.3 209.1 2051.7 211.4 2051.8 C213.7 2051.9 228.1 2049.8 231 2050.5 C233.9 2051.2 248 2059.6 250.6 2061.6 C253.2 2063.6 264.2 2074.3 266.3 2077.4 C268.4 2080.5 278.2 2099.7 279.4 2103.5 C280.6 2107.3 283.1 2125.9 282.7 2129.7 C282.3 2133.5 276.4 2152.1 274.2 2155.9 C272 2159.7 256.7 2178.3 253.2 2182.1 C249.7 2185.9 230.5 2204.9 227.1 2208.2 C223.7 2211.5 210.1 2224.3 207.4 2226.6 C204.7 2228.9 193 2239.5 190.4 2239.7 C187.8 2239.9 175.2 2231.3 172.1 2229.2 C169 2227.1 152.1 2213.9 148.5 2210.9 C144.9 2207.9 125.9 2191.5 122.4 2188.6 C118.9 2185.7 104 2174.5 101.4 2171.6 C98.8 2168.7 88.5 2152.8 87 2149.3 C85.5 2145.8 81.2 2127 81.1 2123.2 C81 2119.4 84.3 2100.6 85.7 2097 C87.1 2093.4 97.6 2077.7 100.1 2074.7 C102.6 2071.7 116.5 2058.5 119.7 2056.4 C122.9 2054.3 140.2 2047.5 143.3 2046.6 C146.4 2045.7 159 2044.6 161.6 2044.6 C164.2 2044.6 176.9 2046.3 178.6 2046 C180.3 2045.7 184.2 2041.3 185.2 2040.7 C186.2 2040.1 191.3 2036.8 192.4 2037.4Z" fill="none" stroke="#f2a6ca" stroke-width="4" opacity="0.7" filter="url(#bl2)"/></g>
<rect x="248" y="1944.7" width="47" height="4" fill="#fff"/>
<rect x="248" y="2242" width="47" height="4" fill="#fff"/>
<text x="187" y="1984.2" font-size="30.5" text-anchor="middle">Mock</text>
<text x="185.6" y="2010.4" font-size="30" text-anchor="middle">(9.0 ± 0.3 cm<tspan font-size="18" dy="-11">2</tspan><tspan dy="11">)</tspan></text>
<text x="187" y="2288" font-size="30.5" text-anchor="middle">6-BA</text>
<text x="188" y="2314.3" font-size="29.5" text-anchor="middle">(13.4 ± 0.7 cm<tspan font-size="18" dy="-11">2</tspan><tspan dy="11"> ** )</tspan></text>
<text x="188.9" y="2357" font-size="28.8" text-anchor="middle"><tspan font-style="italic">P</tspan> = 0.0020</text>
<line x1="491.5" y1="1796.2" x2="491.5" y2="2297" stroke="#000" stroke-width="3.6"/>
<line x1="473.5" y1="1797" x2="491.5" y2="1797" stroke="#000" stroke-width="3.6"/>
<text x="465" y="1810" font-size="36" text-anchor="end">20</text>
<line x1="473.5" y1="1922" x2="491.5" y2="1922" stroke="#000" stroke-width="3.6"/>
<text x="465" y="1935" font-size="36" text-anchor="end">15</text>
<line x1="473.5" y1="2047" x2="491.5" y2="2047" stroke="#000" stroke-width="3.6"/>
<text x="465" y="2060" font-size="36" text-anchor="end">10</text>
<line x1="473.5" y1="2172" x2="491.5" y2="2172" stroke="#000" stroke-width="3.6"/>
<text x="465" y="2185" font-size="36" text-anchor="end">5</text>
<line x1="473.5" y1="2297" x2="491.5" y2="2297" stroke="#000" stroke-width="3.6"/>
<text x="465" y="2310" font-size="36" text-anchor="end">0</text>
<line x1="473.5" y1="2297" x2="1184" y2="2297" stroke="#000" stroke-width="3.6"/>
<line x1="530.7" y1="2297" x2="530.7" y2="2317" stroke="#000" stroke-width="3.6"/>
<line x1="591.7" y1="2297" x2="591.7" y2="2317" stroke="#000" stroke-width="3.6"/>
<line x1="652.7" y1="2297" x2="652.7" y2="2317" stroke="#000" stroke-width="3.6"/>
<line x1="713.7" y1="2297" x2="713.7" y2="2317" stroke="#000" stroke-width="3.6"/>
<line x1="774.7" y1="2297" x2="774.7" y2="2317" stroke="#000" stroke-width="3.6"/>
<line x1="835.7" y1="2297" x2="835.7" y2="2317" stroke="#000" stroke-width="3.6"/>
<line x1="896.7" y1="2297" x2="896.7" y2="2317" stroke="#000" stroke-width="3.6"/>
<line x1="957.7" y1="2297" x2="957.7" y2="2317" stroke="#000" stroke-width="3.6"/>
<line x1="1018.7" y1="2297" x2="1018.7" y2="2317" stroke="#000" stroke-width="3.6"/>
<line x1="1079.7" y1="2297" x2="1079.7" y2="2317" stroke="#000" stroke-width="3.6"/>
<line x1="1140.7" y1="2297" x2="1140.7" y2="2317" stroke="#000" stroke-width="3.6"/>
<polyline points="530.7,2249.5 652.7,2217 774.7,2164.5 896.7,2117 1018.7,2051" fill="none" stroke="#000" stroke-width="7" stroke-linejoin="round"/>
<line x1="530.7" y1="2244" x2="530.7" y2="2254" stroke="#000" stroke-width="3.5"/>
<line x1="524.7" y1="2244" x2="536.7" y2="2244" stroke="#000" stroke-width="3.5"/>
<line x1="524.7" y1="2254" x2="536.7" y2="2254" stroke="#000" stroke-width="3.5"/>
<line x1="652.7" y1="2208.5" x2="652.7" y2="2227.8" stroke="#000" stroke-width="3.5"/>
<line x1="646.7" y1="2208.5" x2="658.7" y2="2208.5" stroke="#000" stroke-width="3.5"/>
<line x1="646.7" y1="2227.8" x2="658.7" y2="2227.8" stroke="#000" stroke-width="3.5"/>
<line x1="774.7" y1="2142.7" x2="774.7" y2="2187.2" stroke="#000" stroke-width="3.5"/>
<line x1="768.7" y1="2142.7" x2="780.7" y2="2142.7" stroke="#000" stroke-width="3.5"/>
<line x1="768.7" y1="2187.2" x2="780.7" y2="2187.2" stroke="#000" stroke-width="3.5"/>
<line x1="896.7" y1="2097" x2="896.7" y2="2137.2" stroke="#000" stroke-width="3.5"/>
<line x1="890.7" y1="2097" x2="902.7" y2="2097" stroke="#000" stroke-width="3.5"/>
<line x1="890.7" y1="2137.2" x2="902.7" y2="2137.2" stroke="#000" stroke-width="3.5"/>
<line x1="1018.7" y1="2036" x2="1018.7" y2="2066" stroke="#000" stroke-width="3.5"/>
<line x1="1012.7" y1="2036" x2="1024.7" y2="2036" stroke="#000" stroke-width="3.5"/>
<line x1="1012.7" y1="2066" x2="1024.7" y2="2066" stroke="#000" stroke-width="3.5"/>
<circle cx="530.7" cy="2249.5" r="5" fill="#fff" stroke="#000" stroke-width="3.2"/>
<circle cx="652.7" cy="2217" r="5" fill="#fff" stroke="#000" stroke-width="3.2"/>
<circle cx="774.7" cy="2164.5" r="5" fill="#fff" stroke="#000" stroke-width="3.2"/>
<circle cx="896.7" cy="2117" r="5" fill="#fff" stroke="#000" stroke-width="3.2"/>
<circle cx="1018.7" cy="2051" r="5" fill="#fff" stroke="#000" stroke-width="3.2"/>
<polyline points="530.7,2233 652.7,2164.5 774.7,2117 896.7,2047 1018.7,1959.5 1140.7,1898.2" fill="none" stroke="#ee1111" stroke-width="7" stroke-linejoin="round"/>
<line x1="530.7" y1="2229" x2="530.7" y2="2237" stroke="#ee1111" stroke-width="3.5"/>
<line x1="524.7" y1="2229" x2="536.7" y2="2229" stroke="#ee1111" stroke-width="3.5"/>
<line x1="524.7" y1="2237" x2="536.7" y2="2237" stroke="#ee1111" stroke-width="3.5"/>
<line x1="652.7" y1="2142" x2="652.7" y2="2188" stroke="#ee1111" stroke-width="3.5"/>
<line x1="646.7" y1="2142" x2="658.7" y2="2142" stroke="#ee1111" stroke-width="3.5"/>
<line x1="646.7" y1="2188" x2="658.7" y2="2188" stroke="#ee1111" stroke-width="3.5"/>
<line x1="774.7" y1="2097" x2="774.7" y2="2135.8" stroke="#ee1111" stroke-width="3.5"/>
<line x1="768.7" y1="2097" x2="780.7" y2="2097" stroke="#ee1111" stroke-width="3.5"/>
<line x1="768.7" y1="2135.8" x2="780.7" y2="2135.8" stroke="#ee1111" stroke-width="3.5"/>
<line x1="896.7" y1="2032" x2="896.7" y2="2061.5" stroke="#ee1111" stroke-width="3.5"/>
<line x1="890.7" y1="2032" x2="902.7" y2="2032" stroke="#ee1111" stroke-width="3.5"/>
<line x1="890.7" y1="2061.5" x2="902.7" y2="2061.5" stroke="#ee1111" stroke-width="3.5"/>
<line x1="1018.7" y1="1937" x2="1018.7" y2="1980.7" stroke="#ee1111" stroke-width="3.5"/>
<line x1="1012.7" y1="1937" x2="1024.7" y2="1937" stroke="#ee1111" stroke-width="3.5"/>
<line x1="1012.7" y1="1980.7" x2="1024.7" y2="1980.7" stroke="#ee1111" stroke-width="3.5"/>
<line x1="1140.7" y1="1876" x2="1140.7" y2="1921.8" stroke="#ee1111" stroke-width="3.5"/>
<line x1="1134.7" y1="1876" x2="1146.7" y2="1876" stroke="#ee1111" stroke-width="3.5"/>
<line x1="1134.7" y1="1921.8" x2="1146.7" y2="1921.8" stroke="#ee1111" stroke-width="3.5"/>
<circle cx="530.7" cy="2233" r="5" fill="#fff" stroke="#ee1111" stroke-width="3.2"/>
<circle cx="652.7" cy="2164.5" r="5" fill="#fff" stroke="#ee1111" stroke-width="3.2"/>
<circle cx="774.7" cy="2117" r="5" fill="#fff" stroke="#ee1111" stroke-width="3.2"/>
<circle cx="896.7" cy="2047" r="5" fill="#fff" stroke="#ee1111" stroke-width="3.2"/>
<circle cx="1018.7" cy="1959.5" r="5" fill="#fff" stroke="#ee1111" stroke-width="3.2"/>
<circle cx="1140.7" cy="1898.2" r="5" fill="#fff" stroke="#ee1111" stroke-width="3.2"/>
<text x="551.7" y="2339" font-size="33.5" text-anchor="end" transform="rotate(-45 551.7 2339)">1 d</text>
<text x="612.7" y="2339" font-size="33.5" text-anchor="end" transform="rotate(-45 612.7 2339)">2 d</text>
<text x="673.7" y="2339" font-size="33.5" text-anchor="end" transform="rotate(-45 673.7 2339)">3 d</text>
<text x="734.7" y="2339" font-size="33.5" text-anchor="end" transform="rotate(-45 734.7 2339)">4 d</text>
<text x="795.7" y="2339" font-size="33.5" text-anchor="end" transform="rotate(-45 795.7 2339)">5 d</text>
<text x="856.7" y="2339" font-size="33.5" text-anchor="end" transform="rotate(-45 856.7 2339)">6 d</text>
<text x="917.7" y="2339" font-size="33.5" text-anchor="end" transform="rotate(-45 917.7 2339)">7 d</text>
<text x="978.7" y="2339" font-size="33.5" text-anchor="end" transform="rotate(-45 978.7 2339)">8 d</text>
<text x="1039.7" y="2339" font-size="33.5" text-anchor="end" transform="rotate(-45 1039.7 2339)">9 d</text>
<text x="1100.7" y="2339" font-size="33.5" text-anchor="end" transform="rotate(-45 1100.7 2339)">10 d</text>
<text x="1161.7" y="2339" font-size="33.5" text-anchor="end" transform="rotate(-45 1161.7 2339)">11 d</text>
<line x1="544.4" y1="1820.2" x2="593.4" y2="1820.2" stroke="#000" stroke-width="7"/>
<circle cx="568.3" cy="1820.2" r="5" fill="#fff" stroke="#000" stroke-width="3.2"/>
<line x1="544.4" y1="1863" x2="593.4" y2="1863" stroke="#ee1111" stroke-width="7"/>
<circle cx="568.3" cy="1863" r="5" fill="#fff" stroke="#ee1111" stroke-width="3.2"/>
<text x="624" y="1833.8" font-size="31.8">Mock</text>
<text x="624" y="1876.6" font-size="31.8">6-BA</text>
<text x="497.7" y="2169.3" font-size="28.5"><tspan font-style="italic">P</tspan> = 0.1051</text>
<text x="540.5" y="2213" font-size="34" text-anchor="middle">ns</text>
<text x="587.7" y="2104.9" font-size="28.5"><tspan font-style="italic">P</tspan> = 0.0182</text>
<text x="654.1" y="2142" font-size="30" text-anchor="middle">*</text>
<text x="701.4" y="2040.2" font-size="28.5"><tspan font-style="italic">P</tspan> = 0.0461</text>
<text x="776" y="2093" font-size="30" text-anchor="middle">*</text>
<text x="812" y="1974.6" font-size="28.5"><tspan font-style="italic">P</tspan> = 0.0069</text>
<text x="897.3" y="2030" font-size="30" text-anchor="middle">**</text>
<text x="940.4" y="1889" font-size="28.5"><tspan font-style="italic">P</tspan> = 0.0033</text>
<text x="1018.3" y="1935" font-size="30" text-anchor="middle">**</text>
<text x="401.5" y="2055.7" font-size="35.5" text-anchor="middle" transform="rotate(-90 401.5 2055.7)" textLength="538" lengthAdjust="spacingAndGlyphs">Adaxial cell number (x10<tspan font-size="23" dy="-12">6</tspan><tspan dy="12">/petal)</tspan></text>
<line x1="1310.3" y1="1798.3" x2="1310.3" y2="2291.5" stroke="#000" stroke-width="3.6"/>
<line x1="1292.3" y1="1800.2" x2="1310.3" y2="1800.2" stroke="#000" stroke-width="3.6"/>
<text x="1275" y="1813.2" font-size="36" text-anchor="end">3</text>
<line x1="1292.3" y1="1964" x2="1310.3" y2="1964" stroke="#000" stroke-width="3.6"/>
<text x="1275" y="1977" font-size="36" text-anchor="end">2</text>
<line x1="1292.3" y1="2127.8" x2="1310.3" y2="2127.8" stroke="#000" stroke-width="3.6"/>
<text x="1275" y="2140.8" font-size="36" text-anchor="end">1</text>
<line x1="1292.3" y1="2291.5" x2="1310.3" y2="2291.5" stroke="#000" stroke-width="3.6"/>
<text x="1275" y="2304.5" font-size="36" text-anchor="end">0</text>
<line x1="1292.3" y1="2291.5" x2="1991.5" y2="2291.5" stroke="#000" stroke-width="3.6"/>
<line x1="1348.5" y1="2291.5" x2="1348.5" y2="2311.5" stroke="#000" stroke-width="3.6"/>
<line x1="1408.5" y1="2291.5" x2="1408.5" y2="2311.5" stroke="#000" stroke-width="3.6"/>
<line x1="1468.6" y1="2291.5" x2="1468.6" y2="2311.5" stroke="#000" stroke-width="3.6"/>
<line x1="1528.7" y1="2291.5" x2="1528.7" y2="2311.5" stroke="#000" stroke-width="3.6"/>
<line x1="1588.7" y1="2291.5" x2="1588.7" y2="2311.5" stroke="#000" stroke-width="3.6"/>
<line x1="1648.8" y1="2291.5" x2="1648.8" y2="2311.5" stroke="#000" stroke-width="3.6"/>
<line x1="1708.8" y1="2291.5" x2="1708.8" y2="2311.5" stroke="#000" stroke-width="3.6"/>
<line x1="1768.8" y1="2291.5" x2="1768.8" y2="2311.5" stroke="#000" stroke-width="3.6"/>
<line x1="1828.9" y1="2291.5" x2="1828.9" y2="2311.5" stroke="#000" stroke-width="3.6"/>
<line x1="1888.9" y1="2291.5" x2="1888.9" y2="2311.5" stroke="#000" stroke-width="3.6"/>
<line x1="1949" y1="2291.5" x2="1949" y2="2311.5" stroke="#000" stroke-width="3.6"/>
<polyline points="1348.5,2173.6 1468.6,2077 1588.7,1983.7 1708.8,1948.3 1828.9,1929.6" fill="none" stroke="#000" stroke-width="7" stroke-linejoin="round"/>
<line x1="1348.5" y1="2165" x2="1348.5" y2="2184" stroke="#000" stroke-width="3.5"/>
<line x1="1342.5" y1="2165" x2="1354.5" y2="2165" stroke="#000" stroke-width="3.5"/>
<line x1="1342.5" y1="2184" x2="1354.5" y2="2184" stroke="#000" stroke-width="3.5"/>
<line x1="1468.6" y1="2062.6" x2="1468.6" y2="2089.6" stroke="#000" stroke-width="3.5"/>
<line x1="1462.6" y1="2062.6" x2="1474.6" y2="2062.6" stroke="#000" stroke-width="3.5"/>
<line x1="1462.6" y1="2089.6" x2="1474.6" y2="2089.6" stroke="#000" stroke-width="3.5"/>
<line x1="1588.7" y1="1964" x2="1588.7" y2="2003" stroke="#000" stroke-width="3.5"/>
<line x1="1582.7" y1="1964" x2="1594.7" y2="1964" stroke="#000" stroke-width="3.5"/>
<line x1="1582.7" y1="2003" x2="1594.7" y2="2003" stroke="#000" stroke-width="3.5"/>
<line x1="1708.8" y1="1936.4" x2="1708.8" y2="1961.6" stroke="#000" stroke-width="3.5"/>
<line x1="1702.8" y1="1936.4" x2="1714.8" y2="1936.4" stroke="#000" stroke-width="3.5"/>
<line x1="1702.8" y1="1961.6" x2="1714.8" y2="1961.6" stroke="#000" stroke-width="3.5"/>
<line x1="1828.9" y1="1919" x2="1828.9" y2="1939.4" stroke="#000" stroke-width="3.5"/>
<line x1="1822.9" y1="1919" x2="1834.9" y2="1919" stroke="#000" stroke-width="3.5"/>
<line x1="1822.9" y1="1939.4" x2="1834.9" y2="1939.4" stroke="#000" stroke-width="3.5"/>
<circle cx="1348.5" cy="2173.6" r="5" fill="#fff" stroke="#000" stroke-width="3.2"/>
<circle cx="1468.6" cy="2077" r="5" fill="#fff" stroke="#000" stroke-width="3.2"/>
<circle cx="1588.7" cy="1983.7" r="5" fill="#fff" stroke="#000" stroke-width="3.2"/>
<circle cx="1708.8" cy="1948.3" r="5" fill="#fff" stroke="#000" stroke-width="3.2"/>
<circle cx="1828.9" cy="1929.6" r="5" fill="#fff" stroke="#000" stroke-width="3.2"/>
<polyline points="1348.5,2149.9 1468.6,2043.6 1588.7,1954.2 1708.8,1911.6 1828.9,1873.1 1949,1864.9" fill="none" stroke="#ee1111" stroke-width="7" stroke-linejoin="round"/>
<line x1="1348.5" y1="2139.9" x2="1348.5" y2="2159" stroke="#ee1111" stroke-width="3.5"/>
<line x1="1342.5" y1="2139.9" x2="1354.5" y2="2139.9" stroke="#ee1111" stroke-width="3.5"/>
<line x1="1342.5" y1="2159" x2="1354.5" y2="2159" stroke="#ee1111" stroke-width="3.5"/>
<line x1="1468.6" y1="2026.8" x2="1468.6" y2="2058.6" stroke="#ee1111" stroke-width="3.5"/>
<line x1="1462.6" y1="2026.8" x2="1474.6" y2="2026.8" stroke="#ee1111" stroke-width="3.5"/>
<line x1="1462.6" y1="2058.6" x2="1474.6" y2="2058.6" stroke="#ee1111" stroke-width="3.5"/>
<line x1="1588.7" y1="1941.5" x2="1588.7" y2="1967" stroke="#ee1111" stroke-width="3.5"/>
<line x1="1582.7" y1="1941.5" x2="1594.7" y2="1941.5" stroke="#ee1111" stroke-width="3.5"/>
<line x1="1582.7" y1="1967" x2="1594.7" y2="1967" stroke="#ee1111" stroke-width="3.5"/>
<line x1="1708.8" y1="1898" x2="1708.8" y2="1925.6" stroke="#ee1111" stroke-width="3.5"/>
<line x1="1702.8" y1="1898" x2="1714.8" y2="1898" stroke="#ee1111" stroke-width="3.5"/>
<line x1="1702.8" y1="1925.6" x2="1714.8" y2="1925.6" stroke="#ee1111" stroke-width="3.5"/>
<line x1="1828.9" y1="1862" x2="1828.9" y2="1884.5" stroke="#ee1111" stroke-width="3.5"/>
<line x1="1822.9" y1="1862" x2="1834.9" y2="1862" stroke="#ee1111" stroke-width="3.5"/>
<line x1="1822.9" y1="1884.5" x2="1834.9" y2="1884.5" stroke="#ee1111" stroke-width="3.5"/>
<line x1="1949" y1="1853.6" x2="1949" y2="1876.4" stroke="#ee1111" stroke-width="3.5"/>
<line x1="1943" y1="1853.6" x2="1955" y2="1853.6" stroke="#ee1111" stroke-width="3.5"/>
<line x1="1943" y1="1876.4" x2="1955" y2="1876.4" stroke="#ee1111" stroke-width="3.5"/>
<circle cx="1348.5" cy="2149.9" r="5" fill="#fff" stroke="#ee1111" stroke-width="3.2"/>
<circle cx="1468.6" cy="2043.6" r="5" fill="#fff" stroke="#ee1111" stroke-width="3.2"/>
<circle cx="1588.7" cy="1954.2" r="5" fill="#fff" stroke="#ee1111" stroke-width="3.2"/>
<circle cx="1708.8" cy="1911.6" r="5" fill="#fff" stroke="#ee1111" stroke-width="3.2"/>
<circle cx="1828.9" cy="1873.1" r="5" fill="#fff" stroke="#ee1111" stroke-width="3.2"/>
<circle cx="1949" cy="1864.9" r="5" fill="#fff" stroke="#ee1111" stroke-width="3.2"/>
<text x="1370.5" y="2334" font-size="34.5" text-anchor="end" transform="rotate(-45 1370.5 2334)">1 d</text>
<text x="1430.5" y="2334" font-size="34.5" text-anchor="end" transform="rotate(-45 1430.5 2334)">2 d</text>
<text x="1490.6" y="2334" font-size="34.5" text-anchor="end" transform="rotate(-45 1490.6 2334)">3 d</text>
<text x="1550.7" y="2334" font-size="34.5" text-anchor="end" transform="rotate(-45 1550.7 2334)">4 d</text>
<text x="1610.7" y="2334" font-size="34.5" text-anchor="end" transform="rotate(-45 1610.7 2334)">5 d</text>
<text x="1670.8" y="2334" font-size="34.5" text-anchor="end" transform="rotate(-45 1670.8 2334)">6 d</text>
<text x="1730.8" y="2334" font-size="34.5" text-anchor="end" transform="rotate(-45 1730.8 2334)">7 d</text>
<text x="1790.8" y="2334" font-size="34.5" text-anchor="end" transform="rotate(-45 1790.8 2334)">8 d</text>
<text x="1850.9" y="2334" font-size="34.5" text-anchor="end" transform="rotate(-45 1850.9 2334)">9 d</text>
<text x="1910.9" y="2334" font-size="34.5" text-anchor="end" transform="rotate(-45 1910.9 2334)">10 d</text>
<text x="1971" y="2334" font-size="34.5" text-anchor="end" transform="rotate(-45 1971 2334)">11 d</text>
<line x1="1352.6" y1="1808" x2="1402.3" y2="1808" stroke="#000" stroke-width="7"/>
<circle cx="1377.2" cy="1808" r="5" fill="#fff" stroke="#000" stroke-width="3.2"/>
<line x1="1352.6" y1="1851" x2="1402.3" y2="1851" stroke="#ee1111" stroke-width="7"/>
<circle cx="1377.2" cy="1851" r="5" fill="#fff" stroke="#ee1111" stroke-width="3.2"/>
<text x="1415.5" y="1816.8" font-size="32">Mock</text>
<text x="1415.5" y="1870" font-size="32">6-BA</text>
<text x="1312.7" y="2072.9" font-size="28" letter-spacing="-1"><tspan font-style="italic">P</tspan> = 0.1369</text>
<text x="1349" y="2120.7" font-size="35" text-anchor="middle">ns</text>
<text x="1401" y="1972.2" font-size="28" letter-spacing="-1"><tspan font-style="italic">P</tspan> = 0.0487</text>
<text x="1467" y="2024" font-size="30" text-anchor="middle">*</text>
<text x="1518.3" y="1892.1" font-size="28" letter-spacing="-1"><tspan font-style="italic">P</tspan> = 0.0362</text>
<text x="1589.3" y="1939" font-size="30" text-anchor="middle">*</text>
<text x="1640.5" y="1838.6" font-size="28" letter-spacing="-1"><tspan font-style="italic">P</tspan> = 0.0251</text>
<text x="1709.5" y="1888" font-size="30" text-anchor="middle">*</text>
<text x="1791.4" y="1809.5" font-size="28" letter-spacing="-1"><tspan font-style="italic">P</tspan> = 0.0025</text>
<text x="1831" y="1861" font-size="30" text-anchor="middle">**</text>
<text x="1235" y="2059.5" font-size="35.5" text-anchor="middle" transform="rotate(-90 1235 2059.5)" textLength="536" lengthAdjust="spacingAndGlyphs">Abaxial cell number (x10<tspan font-size="23" dy="-12">6</tspan><tspan dy="12">/petal)</tspan></text>
<text x="2" y="40" font-size="50" font-weight="bold">a</text>
<text x="1352" y="39" font-size="50" font-weight="bold">b</text>
<text x="3" y="594" font-size="50" font-weight="bold">c</text>
<text x="2" y="1765" font-size="50" font-weight="bold">d</text>
<text x="372" y="1766" font-size="50" font-weight="bold">e</text>
<text x="1182" y="1765" font-size="50" font-weight="bold">f</text></svg>
</body></html>
